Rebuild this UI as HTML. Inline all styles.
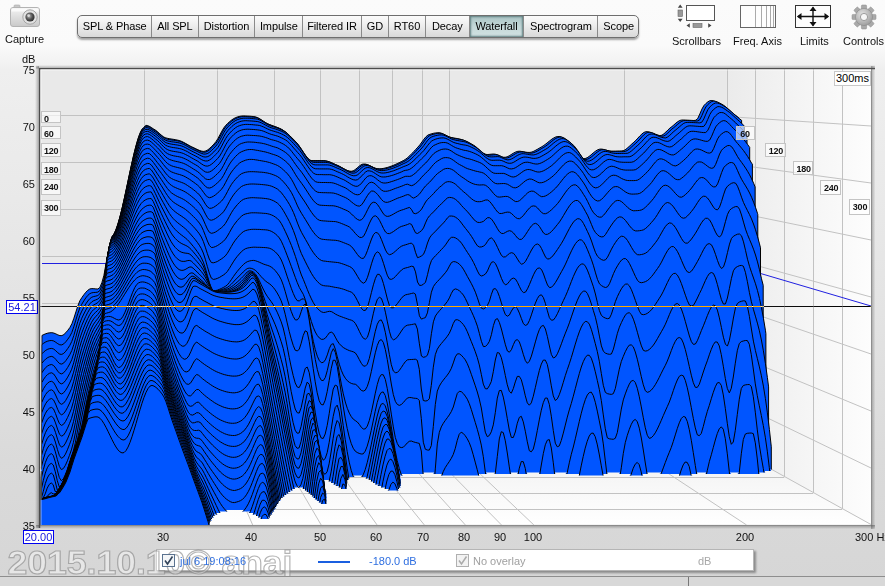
<!DOCTYPE html><html><head><meta charset="utf-8"><title>REW Waterfall</title><style>
html,body{margin:0;padding:0}
body{width:885px;height:586px;overflow:hidden;position:relative;font-family:"Liberation Sans",sans-serif;font-size:11px;color:#111;
background:linear-gradient(#fbfbfb 0px,#fafafa 45px,#efefef 70px,#e9e9e9 200px,#e2e2e2 330px,#dadada 460px,#d6d6d6 586px);}
.abs{position:absolute}
.lbl{position:absolute;font-size:11px;white-space:nowrap;color:#111}
.tabbar{position:absolute;left:77px;top:15px;width:562px;height:23px;border:1px solid #6e6e6e;border-radius:5px;box-sizing:border-box;
background:linear-gradient(#fbfbfb,#ededed 45%,#d9d9d9 100%);box-shadow:0 2px 2px rgba(0,0,0,.35);overflow:hidden}
.tab{position:absolute;top:0;height:21px;line-height:21px;text-align:center;font-size:11px;border-left:1px solid #8a8a8a;box-sizing:border-box;color:#000;letter-spacing:-0.1px}
.tab.first{border-left:none}
.tab.sel{background:linear-gradient(#a9c4c4,#c4d8d8 50%,#d2e2e2);box-shadow:inset 0 0 2px 1px #5f7f80;}
.tl{position:absolute;background:rgba(255,255,255,.62);border:1px solid #c4c4c4;box-sizing:border-box;font-size:9px;font-weight:bold;color:#111;line-height:1;white-space:nowrap;overflow:hidden}
.tl span{position:absolute;left:2px;top:3px;letter-spacing:-0.2px}
</style></head><body><svg class="abs" style="left:8px;top:3px" width="34" height="26" viewBox="0 0 34 26">
<defs><linearGradient id="cg" x1="0" y1="0" x2="0" y2="1"><stop offset="0" stop-color="#f4f4f4"/><stop offset="1" stop-color="#c9c9c9"/></linearGradient>
<radialGradient id="lg" cx="0.4" cy="0.4" r="0.7"><stop offset="0" stop-color="#bbb"/><stop offset="0.5" stop-color="#555"/><stop offset="1" stop-color="#222"/></radialGradient></defs>
<rect x="6" y="2" width="6" height="4" rx="1" fill="#c8c8c8" stroke="#aaa" stroke-width=".6"/>
<rect x="2.5" y="4.5" width="29" height="19" rx="2.5" fill="url(#cg)" stroke="#b3b3b3" stroke-width="1"/>
<rect x="3.5" y="5.5" width="27" height="3" fill="#fdfdfd" opacity=".8"/>
<circle cx="22" cy="14" r="7.2" fill="#e2e2e2" stroke="#a5a5a5" stroke-width="1"/>
<circle cx="22" cy="14" r="4.6" fill="url(#lg)"/>
<circle cx="20.6" cy="12.6" r="1.3" fill="#e8e8e8" opacity=".8"/>
</svg><div class="lbl" style="left:5px;top:33px;font-size:11px">Capture</div><svg class="abs" style="left:676px;top:3px" width="42" height="27" viewBox="0 0 42 27">
<rect x="10.5" y="2.5" width="28" height="15" fill="#fff" stroke="#555" stroke-width="1"/>
<rect x="2" y="7" width="4.5" height="6.5" fill="#999" stroke="#666" stroke-width=".6"/>
<path d="M4.2 1.5 L6.6 4.8 H1.8Z M4.2 19 L6.6 15.7 H1.8Z" fill="#444"/>
<rect x="17" y="20.5" width="9" height="4" fill="#999" stroke="#666" stroke-width=".6"/>
<path d="M10.5 22.5 L13.8 20.2 V24.8Z M35.5 22.5 L32.2 20.2 V24.8Z" fill="#444"/>
</svg><div class="lbl" style="left:672px;top:35px">Scrollbars</div><svg class="abs" style="left:738px;top:3px" width="42" height="27" viewBox="0 0 42 27">
<rect x="2.5" y="2.5" width="35" height="22" fill="#fdfdfd" stroke="#666" stroke-width="1"/>
<path d="M17.5 3V24 M23.5 3V24 M28.5 3V24 M32.5 3V24 M35.5 3V24" stroke="#aaa" stroke-width="1" fill="none"/>
</svg><div class="lbl" style="left:733px;top:35px">Freq. Axis</div><svg class="abs" style="left:793px;top:3px" width="42" height="27" viewBox="0 0 42 27">
<rect x="2.5" y="2.5" width="35" height="22" fill="#fdfdfd" stroke="#333" stroke-width="1"/>
<path d="M5 13.5H35 M20 4.5V22.5" stroke="#111" stroke-width="1.4" fill="none"/>
<path d="M20 3.5 L23.5 8 H16.5Z M20 23.5 L23.5 19 H16.5Z M3.8 13.5 L8.5 10 V17Z M36.2 13.5 L31.5 10 V17Z" fill="#111"/>
</svg><div class="lbl" style="left:800px;top:35px">Limits</div><svg class="abs" style="left:849px;top:3px" width="30" height="28" viewBox="-15 -14 30 28">
<defs><radialGradient id="gg" cx="0.4" cy="0.35" r="0.8"><stop offset="0" stop-color="#e4e4e4"/><stop offset="1" stop-color="#8f8f8f"/></radialGradient></defs>
<rect x="-2.6" y="-12" width="5.2" height="6" rx="1" transform="rotate(0)" fill="#a9a9a9" stroke="#8a8a8a" stroke-width=".5"/><rect x="-2.6" y="-12" width="5.2" height="6" rx="1" transform="rotate(45)" fill="#a9a9a9" stroke="#8a8a8a" stroke-width=".5"/><rect x="-2.6" y="-12" width="5.2" height="6" rx="1" transform="rotate(90)" fill="#a9a9a9" stroke="#8a8a8a" stroke-width=".5"/><rect x="-2.6" y="-12" width="5.2" height="6" rx="1" transform="rotate(135)" fill="#a9a9a9" stroke="#8a8a8a" stroke-width=".5"/><rect x="-2.6" y="-12" width="5.2" height="6" rx="1" transform="rotate(180)" fill="#a9a9a9" stroke="#8a8a8a" stroke-width=".5"/><rect x="-2.6" y="-12" width="5.2" height="6" rx="1" transform="rotate(225)" fill="#a9a9a9" stroke="#8a8a8a" stroke-width=".5"/><rect x="-2.6" y="-12" width="5.2" height="6" rx="1" transform="rotate(270)" fill="#a9a9a9" stroke="#8a8a8a" stroke-width=".5"/><rect x="-2.6" y="-12" width="5.2" height="6" rx="1" transform="rotate(315)" fill="#a9a9a9" stroke="#8a8a8a" stroke-width=".5"/><circle r="8.6" fill="url(#gg)" stroke="#8a8a8a" stroke-width=".6"/><circle r="3.6" fill="#f6f6f6" stroke="#8a8a8a" stroke-width=".8"/></svg><div class="lbl" style="left:843px;top:35px">Controls</div><div class="tabbar"><div class="tab first" style="left:0.0px;width:73.4px">SPL & Phase</div><div class="tab" style="left:73.4px;width:46.1px">All SPL</div><div class="tab" style="left:119.5px;width:56.9px">Distortion</div><div class="tab" style="left:176.4px;width:47.8px">Impulse</div><div class="tab" style="left:224.2px;width:58.6px">Filtered IR</div><div class="tab" style="left:282.8px;width:27.2px">GD</div><div class="tab" style="left:310.0px;width:37.0px">RT60</div><div class="tab" style="left:347.0px;width:43.5px">Decay</div><div class="tab sel" style="left:390.5px;width:54.9px">Waterfall</div><div class="tab" style="left:445.4px;width:73.9px">Spectrogram</div><div class="tab" style="left:519.3px;width:41.7px">Scope</div></div><div class="lbl" style="left:22px;top:53px">dB</div><div class="lbl" style="left:21px;top:63.5px;width:14px;text-align:right">75</div><div class="lbl" style="left:21px;top:121.0px;width:14px;text-align:right">70</div><div class="lbl" style="left:21px;top:178.0px;width:14px;text-align:right">65</div><div class="lbl" style="left:21px;top:235.0px;width:14px;text-align:right">60</div><div class="lbl" style="left:21px;top:292.0px;width:14px;text-align:right">55</div><div class="lbl" style="left:21px;top:349.0px;width:14px;text-align:right">50</div><div class="lbl" style="left:21px;top:406.0px;width:14px;text-align:right">45</div><div class="lbl" style="left:21px;top:463.0px;width:14px;text-align:right">40</div><div class="lbl" style="left:21px;top:520.0px;width:14px;text-align:right">35</div><div class="lbl" style="left:148px;top:531px;width:30px;text-align:center">30</div><div class="lbl" style="left:236px;top:531px;width:30px;text-align:center">40</div><div class="lbl" style="left:305px;top:531px;width:30px;text-align:center">50</div><div class="lbl" style="left:361px;top:531px;width:30px;text-align:center">60</div><div class="lbl" style="left:408px;top:531px;width:30px;text-align:center">70</div><div class="lbl" style="left:449px;top:531px;width:30px;text-align:center">80</div><div class="lbl" style="left:485px;top:531px;width:30px;text-align:center">90</div><div class="lbl" style="left:518px;top:531px;width:30px;text-align:center">100</div><div class="lbl" style="left:730px;top:531px;width:30px;text-align:center">200</div><div class="lbl" style="left:855px;top:531px">300 Hz</div><div class="abs" style="left:6px;top:300px;width:32px;height:14px;box-sizing:border-box;border:1px solid #0000f0;background:#fff;color:#1818e0;font-size:11px;line-height:12px;text-align:center">54.21</div><div class="abs" style="left:23px;top:530px;width:31px;height:14px;box-sizing:border-box;border:1px solid #0000f0;background:#fff;color:#1818e0;font-size:11px;line-height:12px;text-align:center">20.00</div><svg class="abs" style="left:0;top:0" width="885" height="586" viewBox="0 0 885 586" shape-rendering="auto"><defs><linearGradient id="rw" x1="0" y1="0" x2="1" y2="0"><stop offset="0" stop-color="#ebebeb"/><stop offset="1" stop-color="#fdfdfd"/></linearGradient><linearGradient id="fw" x1="0" y1="0" x2="0" y2="1"><stop offset="0" stop-color="#efefef"/><stop offset="1" stop-color="#ffffff"/></linearGradient><clipPath id="pc"><rect x="40" y="69" width="831" height="456"/></clipPath></defs><rect x="40" y="69" width="831" height="456" fill="#e9e9e9"/><polygon points="726.6,69.0 871.0,69.0 871.0,524.5 726.6,444.7" fill="url(#rw)"/><polygon points="42.0,444.7 726.6,444.7 871.0,524.5 40.0,524.5" fill="url(#fw)"/><path d="M42.0 115.5H726.6M726.6 116.5L871.0 126.0M42.0 162.5H726.6M726.6 163.4L871.0 183.0M42.0 209.5H726.6M726.6 210.4L871.0 240.0M42.0 256.5H726.6M726.6 257.3L871.0 297.0M42.0 303.5H726.6M726.6 304.3L871.0 354.0M42.0 350.5H726.6M726.6 351.2L871.0 411.0M42.0 397.5H726.6M726.6 398.2L871.0 468.0M144.5 69.0V444.7M145.0 444.7L164.4 525.0M217.5 69.0V444.7M217.7 444.7L252.7 525.0M274.5 69.0V444.7M274.1 444.7L321.2 525.0M320.5 69.0V444.7M320.2 444.7L377.1 525.0M359.5 69.0V444.7M359.2 444.7L424.4 525.0M392.5 69.0V444.7M392.9 444.7L465.4 525.0M422.5 69.0V444.7M422.7 444.7L501.5 525.0M449.5 69.0V444.7M449.4 444.7L533.9 525.0M624.5 69.0V444.7M624.6 444.7L746.6 525.0M727.1 444.7L871.0 524.5M727.5 69.0V444.7M42.0 445.5H726.6M755.5 69.0V460.7M41.6 461.5H755.5M784.5 69.0V476.8M41.2 477.5H784.3M813.5 69.0V492.9M40.8 493.5H813.2M842.5 69.0V508.9M40.4 509.5H842.1M871.5 69.0V525.0M40.0 525.5H871.0" stroke="#c2c2c2" stroke-width="1" fill="none"/><path d="M42.0 263.5H726.6L871.0 306.0" stroke="#2020e0" stroke-width="1" fill="none"/><g clip-path="url(#pc)"><path d="M41.9 501.0L41.9 335.5L43.9 334.5L45.9 333.7L47.9 333.1L49.9 332.8L51.9 332.7L53.9 333.1L55.9 333.9L57.9 334.9L59.9 335.6L61.9 335.6L63.9 334.5L65.9 332.6L67.9 330.2L69.9 327.5L71.9 323.7L73.9 318.2L75.9 311.9L77.9 305.7L79.9 300.7L81.9 297.5L83.9 294.7L85.9 292.2L87.9 290.2L89.9 288.9L91.9 288.6L93.9 288.7L95.9 288.9L97.9 289.0L99.9 287.4L101.9 282.5L103.9 275.5L105.9 264.3L107.9 253.3L109.9 243.8L111.9 236.8L113.9 234.1L115.9 229.8L117.9 224.0L119.9 217.0L121.9 209.0L123.9 200.3L125.9 191.0L127.9 181.5L129.9 172.0L131.9 162.8L133.9 154.0L135.9 146.0L137.9 139.0L139.9 133.3L141.9 129.3L143.9 127.3L145.9 125.3L147.9 125.7L149.9 126.6L151.9 127.9L153.9 129.2L155.9 130.4L157.9 132.1L159.9 133.9L161.9 135.6L163.9 137.1L165.9 137.9L167.9 138.4L169.9 138.8L171.9 139.1L173.9 139.4L175.9 139.8L177.9 140.2L179.9 140.7L181.9 141.5L183.9 142.5L185.9 143.6L187.9 144.7L189.9 145.9L191.9 146.9L193.9 147.8L195.9 148.8L197.9 149.7L199.9 150.6L201.9 151.2L203.9 151.4L205.9 150.9L207.9 149.8L209.9 148.1L211.9 146.2L213.9 144.1L215.9 141.7L217.9 138.6L219.9 134.9L221.9 131.1L223.9 127.7L225.9 125.2L227.9 123.2L229.9 121.4L231.9 119.8L233.9 118.5L235.9 117.5L237.9 116.8L239.9 116.3L241.9 116.0L243.9 115.9L245.9 116.0L247.9 116.1L249.9 116.2L251.9 116.4L253.9 116.6L255.9 117.0L257.9 117.8L259.9 118.9L261.9 120.3L263.9 121.6L265.9 122.9L267.9 123.9L269.9 124.7L271.9 125.5L273.9 126.2L275.9 126.9L277.9 127.7L279.9 128.6L281.9 129.6L283.9 130.9L285.9 132.5L287.9 134.3L289.9 136.2L291.9 138.2L293.9 140.3L295.9 142.4L297.9 145.1L299.9 148.0L301.9 151.1L303.9 154.0L305.9 156.7L307.9 158.8L309.9 160.2L311.9 160.6L313.9 160.6L315.9 160.6L317.9 160.6L319.9 160.6L321.9 160.6L323.9 160.6L325.9 160.8L327.9 161.3L329.9 162.0L331.9 162.9L333.9 163.8L335.9 164.7L337.9 165.5L339.9 166.6L341.9 167.7L343.9 168.8L345.9 169.9L347.9 170.7L349.9 171.2L351.9 171.2L353.9 170.5L355.9 169.0L357.9 167.3L359.9 165.6L361.9 164.3L363.9 164.0L365.9 164.2L367.9 164.8L369.9 165.7L371.9 166.7L373.9 167.7L375.9 168.4L377.9 168.7L379.9 168.8L381.9 168.6L383.9 168.3L385.9 167.8L387.9 167.3L389.9 166.6L391.9 165.9L393.9 165.1L395.9 164.2L397.9 163.3L399.9 162.3L401.9 161.3L403.9 160.3L405.9 159.0L407.9 157.4L409.9 155.5L411.9 153.5L413.9 151.4L415.9 149.3L417.9 147.1L419.9 144.8L421.9 142.0L423.9 139.2L425.9 136.8L427.9 135.1L429.9 134.3L431.9 133.7L433.9 133.2L435.9 132.9L437.9 132.7L439.9 132.8L441.9 133.4L443.9 134.4L445.9 135.4L447.9 136.4L449.9 137.1L451.9 137.6L453.9 138.0L455.9 138.3L457.9 138.7L459.9 139.1L461.9 139.6L463.9 140.3L465.9 141.2L467.9 142.2L469.9 143.4L471.9 144.5L473.9 145.8L475.9 147.5L477.9 149.2L479.9 151.0L481.9 152.6L483.9 153.8L485.9 154.4L487.9 154.5L489.9 154.3L491.9 154.1L493.9 154.0L495.9 154.3L497.9 155.0L499.9 156.0L501.9 157.0L503.9 157.3L505.9 157.2L507.9 156.5L509.9 155.4L511.9 154.1L513.9 152.9L515.9 151.9L517.9 151.3L519.9 151.2L521.9 151.5L523.9 151.8L525.9 152.2L527.9 152.4L529.9 152.4L531.9 152.0L533.9 151.2L535.9 150.1L537.9 149.0L539.9 147.8L541.9 146.7L543.9 145.4L545.9 143.9L547.9 142.3L549.9 140.7L551.9 139.1L553.9 137.9L555.9 136.9L557.9 136.5L559.9 136.5L561.9 137.3L563.9 138.5L565.9 140.0L567.9 141.5L569.9 143.2L571.9 145.7L573.9 148.6L575.9 151.7L577.9 154.6L579.9 157.0L581.9 158.5L583.9 158.8L585.9 158.3L587.9 157.3L589.9 155.8L591.9 154.1L593.9 152.4L595.9 150.9L597.9 149.7L599.9 149.1L601.9 149.1L603.9 149.5L605.9 150.1L607.9 150.6L609.9 151.0L611.9 151.1L613.9 151.1L615.9 151.1L617.9 151.0L619.9 151.0L621.9 150.9L623.9 150.5L625.9 149.3L627.9 147.6L629.9 145.8L631.9 143.9L633.9 142.2L635.9 140.3L637.9 138.1L639.9 135.9L641.9 134.0L643.9 132.4L645.9 131.7L647.9 131.7L649.9 132.2L651.9 133.0L653.9 133.9L655.9 134.7L657.9 135.3L659.9 135.6L661.9 135.2L663.9 133.8L665.9 132.0L667.9 130.0L669.9 128.1L671.9 126.6L673.9 124.9L675.9 123.1L677.9 121.6L679.9 120.4L681.9 120.0L683.9 120.0L685.9 120.1L687.9 120.2L689.9 120.3L691.9 120.4L693.9 120.5L695.9 120.2L697.9 118.2L699.9 113.8L701.9 109.1L703.9 105.6L705.9 103.5L707.9 101.8L709.9 100.7L711.9 100.5L713.9 101.0L715.9 101.8L717.9 102.9L719.9 103.9L721.9 105.2L723.9 106.9L725.9 108.7L727.9 110.5L729.9 112.2L731.9 113.8L733.9 115.4L735.9 117.0L736.3 117.3L736.3 450.0L112 450.0L112 501.0L41.9 501.0Z" fill="#0055ff"/><path d="M41.9 450.0L41.9 335.5L43.9 334.5L45.9 333.7L47.9 333.1L49.9 332.8L51.9 332.7L53.9 333.1L55.9 333.9L57.9 334.9L59.9 335.6L61.9 335.6L63.9 334.5L65.9 332.6L67.9 330.2L69.9 327.5L71.9 323.7L73.9 318.2L75.9 311.9L77.9 305.7L79.9 300.7L81.9 297.5L83.9 294.7L85.9 292.2L87.9 290.2L89.9 288.9L91.9 288.6L93.9 288.7L95.9 288.9L97.9 289.0L99.9 287.4L101.9 282.5L103.9 275.5L105.9 264.3L107.9 253.3L109.9 243.8L111.9 236.8L113.9 234.1L115.9 229.8L117.9 224.0L119.9 217.0L121.9 209.0L123.9 200.3L125.9 191.0L127.9 181.5L129.9 172.0L131.9 162.8L133.9 154.0L135.9 146.0L137.9 139.0L139.9 133.3L141.9 129.3L143.9 127.3L145.9 125.3L147.9 125.7L149.9 126.6L151.9 127.9L153.9 129.2L155.9 130.4L157.9 132.1L159.9 133.9L161.9 135.6L163.9 137.1L165.9 137.9L167.9 138.4L169.9 138.8L171.9 139.1L173.9 139.4L175.9 139.8L177.9 140.2L179.9 140.7L181.9 141.5L183.9 142.5L185.9 143.6L187.9 144.7L189.9 145.9L191.9 146.9L193.9 147.8L195.9 148.8L197.9 149.7L199.9 150.6L201.9 151.2L203.9 151.4L205.9 150.9L207.9 149.8L209.9 148.1L211.9 146.2L213.9 144.1L215.9 141.7L217.9 138.6L219.9 134.9L221.9 131.1L223.9 127.7L225.9 125.2L227.9 123.2L229.9 121.4L231.9 119.8L233.9 118.5L235.9 117.5L237.9 116.8L239.9 116.3L241.9 116.0L243.9 115.9L245.9 116.0L247.9 116.1L249.9 116.2L251.9 116.4L253.9 116.6L255.9 117.0L257.9 117.8L259.9 118.9L261.9 120.3L263.9 121.6L265.9 122.9L267.9 123.9L269.9 124.7L271.9 125.5L273.9 126.2L275.9 126.9L277.9 127.7L279.9 128.6L281.9 129.6L283.9 130.9L285.9 132.5L287.9 134.3L289.9 136.2L291.9 138.2L293.9 140.3L295.9 142.4L297.9 145.1L299.9 148.0L301.9 151.1L303.9 154.0L305.9 156.7L307.9 158.8L309.9 160.2L311.9 160.6L313.9 160.6L315.9 160.6L317.9 160.6L319.9 160.6L321.9 160.6L323.9 160.6L325.9 160.8L327.9 161.3L329.9 162.0L331.9 162.9L333.9 163.8L335.9 164.7L337.9 165.5L339.9 166.6L341.9 167.7L343.9 168.8L345.9 169.9L347.9 170.7L349.9 171.2L351.9 171.2L353.9 170.5L355.9 169.0L357.9 167.3L359.9 165.6L361.9 164.3L363.9 164.0L365.9 164.2L367.9 164.8L369.9 165.7L371.9 166.7L373.9 167.7L375.9 168.4L377.9 168.7L379.9 168.8L381.9 168.6L383.9 168.3L385.9 167.8L387.9 167.3L389.9 166.6L391.9 165.9L393.9 165.1L395.9 164.2L397.9 163.3L399.9 162.3L401.9 161.3L403.9 160.3L405.9 159.0L407.9 157.4L409.9 155.5L411.9 153.5L413.9 151.4L415.9 149.3L417.9 147.1L419.9 144.8L421.9 142.0L423.9 139.2L425.9 136.8L427.9 135.1L429.9 134.3L431.9 133.7L433.9 133.2L435.9 132.9L437.9 132.7L439.9 132.8L441.9 133.4L443.9 134.4L445.9 135.4L447.9 136.4L449.9 137.1L451.9 137.6L453.9 138.0L455.9 138.3L457.9 138.7L459.9 139.1L461.9 139.6L463.9 140.3L465.9 141.2L467.9 142.2L469.9 143.4L471.9 144.5L473.9 145.8L475.9 147.5L477.9 149.2L479.9 151.0L481.9 152.6L483.9 153.8L485.9 154.4L487.9 154.5L489.9 154.3L491.9 154.1L493.9 154.0L495.9 154.3L497.9 155.0L499.9 156.0L501.9 157.0L503.9 157.3L505.9 157.2L507.9 156.5L509.9 155.4L511.9 154.1L513.9 152.9L515.9 151.9L517.9 151.3L519.9 151.2L521.9 151.5L523.9 151.8L525.9 152.2L527.9 152.4L529.9 152.4L531.9 152.0L533.9 151.2L535.9 150.1L537.9 149.0L539.9 147.8L541.9 146.7L543.9 145.4L545.9 143.9L547.9 142.3L549.9 140.7L551.9 139.1L553.9 137.9L555.9 136.9L557.9 136.5L559.9 136.5L561.9 137.3L563.9 138.5L565.9 140.0L567.9 141.5L569.9 143.2L571.9 145.7L573.9 148.6L575.9 151.7L577.9 154.6L579.9 157.0L581.9 158.5L583.9 158.8L585.9 158.3L587.9 157.3L589.9 155.8L591.9 154.1L593.9 152.4L595.9 150.9L597.9 149.7L599.9 149.1L601.9 149.1L603.9 149.5L605.9 150.1L607.9 150.6L609.9 151.0L611.9 151.1L613.9 151.1L615.9 151.1L617.9 151.0L619.9 151.0L621.9 150.9L623.9 150.5L625.9 149.3L627.9 147.6L629.9 145.8L631.9 143.9L633.9 142.2L635.9 140.3L637.9 138.1L639.9 135.9L641.9 134.0L643.9 132.4L645.9 131.7L647.9 131.7L649.9 132.2L651.9 133.0L653.9 133.9L655.9 134.7L657.9 135.3L659.9 135.6L661.9 135.2L663.9 133.8L665.9 132.0L667.9 130.0L669.9 128.1L671.9 126.6L673.9 124.9L675.9 123.1L677.9 121.6L679.9 120.4L681.9 120.0L683.9 120.0L685.9 120.1L687.9 120.2L689.9 120.3L691.9 120.4L693.9 120.5L695.9 120.2L697.9 118.2L699.9 113.8L701.9 109.1L703.9 105.6L705.9 103.5L707.9 101.8L709.9 100.7L711.9 100.5L713.9 101.0L715.9 101.8L717.9 102.9L719.9 103.9L721.9 105.2L723.9 106.9L725.9 108.7L727.9 110.5L729.9 112.2L731.9 113.8L733.9 115.4L735.9 117.0L736.3 117.3L736.3 450.0" fill="none" stroke="#000" stroke-width="1" stroke-linejoin="round"/><path d="M41.8 501.0L41.8 344.6L43.8 343.1L45.8 341.9L47.8 341.1L49.8 340.6L51.8 340.5L53.8 341.0L55.8 342.3L57.8 343.7L59.8 344.8L61.8 344.9L63.8 343.8L65.8 341.8L67.8 339.2L69.8 336.3L71.8 332.5L73.8 326.8L75.8 320.2L77.8 313.6L79.8 308.0L81.8 304.2L83.8 300.9L85.8 297.9L87.8 295.4L89.8 293.7L91.8 292.8L93.8 292.5L95.8 292.4L97.8 292.1L99.8 290.7L101.8 286.1L103.8 279.6L105.8 266.6L107.8 254.4L109.8 244.1L111.8 237.1L113.8 234.4L115.8 230.2L117.8 224.5L119.8 217.5L121.8 209.6L123.8 200.9L125.8 191.7L127.8 182.3L129.8 172.8L131.8 163.6L133.8 154.8L135.8 146.9L137.8 139.9L139.8 134.1L141.8 130.0L143.8 127.8L145.8 126.2L147.8 126.4L149.8 127.3L151.8 128.5L153.8 129.8L155.8 131.0L157.8 132.6L159.8 134.4L161.8 136.2L163.8 137.7L165.8 138.7L167.8 139.3L169.8 139.7L171.8 140.0L173.8 140.3L175.8 140.6L177.8 140.9L179.8 141.4L181.8 142.1L183.8 143.0L185.8 144.1L187.8 145.2L189.8 146.4L191.8 147.4L193.8 148.3L195.8 149.3L197.8 150.3L199.8 151.2L201.8 151.9L203.8 152.2L205.8 152.0L207.8 151.1L209.8 149.6L211.8 147.7L213.8 145.6L215.8 143.4L217.8 140.6L219.8 137.0L221.8 133.2L223.8 129.6L225.8 126.7L227.8 124.6L229.8 122.7L231.8 121.0L233.8 119.6L235.8 118.5L237.8 117.7L239.8 117.1L241.8 116.7L243.8 116.6L245.8 116.6L247.8 116.7L249.8 116.9L251.8 117.0L253.8 117.2L255.8 117.4L257.8 118.0L259.8 119.0L261.8 120.2L263.8 121.5L265.8 122.8L267.8 123.9L269.8 124.8L271.8 125.5L273.8 126.3L275.8 127.0L277.8 127.7L279.8 128.5L281.8 129.5L283.8 130.7L285.8 132.1L287.8 133.8L289.8 135.7L291.8 137.7L293.8 139.7L295.8 141.8L297.8 144.2L299.8 147.0L301.8 150.0L303.8 153.1L305.8 155.9L307.8 158.3L309.8 160.1L311.8 161.0L313.8 161.1L315.8 161.1L317.8 161.1L319.8 161.1L321.8 161.1L323.8 161.1L325.8 161.2L327.8 161.5L329.8 162.1L331.8 162.9L333.8 163.8L335.8 164.8L337.8 165.6L339.8 166.5L341.8 167.6L343.8 168.7L345.8 169.8L347.8 170.8L349.8 171.5L351.8 171.8L353.8 171.7L355.8 170.6L357.8 168.9L359.8 167.1L361.8 165.6L363.8 164.6L365.8 164.4L367.8 164.9L369.8 165.7L371.8 166.6L373.8 167.6L375.8 168.5L377.8 169.1L379.8 169.3L381.8 169.3L383.8 169.0L385.8 168.7L387.8 168.2L389.8 167.6L391.8 166.9L393.8 166.2L395.8 165.4L397.8 164.5L399.8 163.5L401.8 162.6L403.8 161.6L405.8 160.5L407.8 159.1L409.8 157.4L411.8 155.5L413.8 153.5L415.8 151.4L417.8 149.3L419.8 147.2L421.8 144.7L423.8 141.9L425.8 139.2L427.8 136.9L429.8 135.5L431.8 134.7L433.8 134.2L435.8 133.7L437.8 133.4L439.8 133.3L441.8 133.5L443.8 134.2L445.8 135.2L447.8 136.2L449.8 137.2L451.8 137.9L453.8 138.3L455.8 138.7L457.8 139.0L459.8 139.4L461.8 139.8L463.8 140.3L465.8 141.0L467.8 141.9L469.8 143.0L471.8 144.2L473.8 145.3L475.8 146.7L477.8 148.4L479.8 150.1L481.8 151.9L483.8 153.4L485.8 154.5L487.8 155.1L489.8 155.1L491.8 155.0L493.8 154.8L495.8 154.7L497.8 155.0L499.8 155.8L501.8 156.8L503.8 157.7L505.8 158.0L507.8 157.8L509.8 157.0L511.8 155.9L513.8 154.7L515.8 153.5L517.8 152.5L519.8 152.0L521.8 151.9L523.8 152.1L525.8 152.5L527.8 152.9L529.8 153.1L531.8 153.1L533.8 152.6L535.8 151.8L537.8 150.8L539.8 149.6L541.8 148.4L543.8 147.3L545.8 146.0L547.8 144.5L549.8 142.9L551.8 141.3L553.8 139.7L555.8 138.4L557.8 137.5L559.8 137.0L561.8 137.1L563.8 137.8L565.8 139.1L567.8 140.5L569.8 142.1L571.8 143.8L573.8 146.2L575.8 149.1L577.8 152.2L579.8 155.1L581.8 157.5L583.8 159.1L585.8 159.5L587.8 159.1L589.8 158.0L591.8 156.6L593.8 154.9L595.8 153.2L597.8 151.7L599.8 150.4L601.8 149.7L603.8 149.7L605.8 150.0L607.8 150.6L609.8 151.2L611.8 151.6L613.8 151.7L615.8 151.7L617.8 151.7L619.8 151.7L621.8 151.6L623.8 151.6L625.8 151.2L627.8 150.2L629.8 148.6L631.8 146.7L633.8 144.9L635.8 143.2L637.8 141.3L639.8 139.2L641.8 136.9L643.8 134.9L645.8 133.3L647.8 132.4L649.8 132.3L651.8 132.6L653.8 133.4L655.8 134.3L657.8 135.1L659.8 135.8L661.8 136.1L663.8 136.0L665.8 134.8L667.8 133.0L669.8 131.1L671.8 129.1L673.8 127.6L675.8 125.9L677.8 124.2L679.8 122.5L681.8 121.3L683.8 120.6L685.8 120.6L687.8 120.6L689.8 120.7L691.8 120.8L693.8 120.9L695.8 121.0L697.8 120.9L699.8 119.7L701.8 115.7L703.8 111.0L705.8 107.0L707.8 104.6L709.8 102.8L711.8 101.5L713.8 101.0L715.8 101.4L717.8 102.1L719.8 103.1L721.8 104.2L723.8 105.4L725.8 106.9L727.8 108.7L729.8 110.5L731.8 112.2L733.8 113.9L735.8 115.5L737.8 117.1L738.9 118.0L738.9 451.5L112 451.5L112 501.0L41.8 501.0Z" fill="#0055ff"/><path d="M41.8 451.5L41.8 344.6L43.8 343.1L45.8 341.9L47.8 341.1L49.8 340.6L51.8 340.5L53.8 341.0L55.8 342.3L57.8 343.7L59.8 344.8L61.8 344.9L63.8 343.8L65.8 341.8L67.8 339.2L69.8 336.3L71.8 332.5L73.8 326.8L75.8 320.2L77.8 313.6L79.8 308.0L81.8 304.2L83.8 300.9L85.8 297.9L87.8 295.4L89.8 293.7L91.8 292.8L93.8 292.5L95.8 292.4L97.8 292.1L99.8 290.7L101.8 286.1L103.8 279.6L105.8 266.6L107.8 254.4L109.8 244.1L111.8 237.1L113.8 234.4L115.8 230.2L117.8 224.5L119.8 217.5L121.8 209.6L123.8 200.9L125.8 191.7L127.8 182.3L129.8 172.8L131.8 163.6L133.8 154.8L135.8 146.9L137.8 139.9L139.8 134.1L141.8 130.0L143.8 127.8L145.8 126.2L147.8 126.4L149.8 127.3L151.8 128.5L153.8 129.8L155.8 131.0L157.8 132.6L159.8 134.4L161.8 136.2L163.8 137.7L165.8 138.7L167.8 139.3L169.8 139.7L171.8 140.0L173.8 140.3L175.8 140.6L177.8 140.9L179.8 141.4L181.8 142.1L183.8 143.0L185.8 144.1L187.8 145.2L189.8 146.4L191.8 147.4L193.8 148.3L195.8 149.3L197.8 150.3L199.8 151.2L201.8 151.9L203.8 152.2L205.8 152.0L207.8 151.1L209.8 149.6L211.8 147.7L213.8 145.6L215.8 143.4L217.8 140.6L219.8 137.0L221.8 133.2L223.8 129.6L225.8 126.7L227.8 124.6L229.8 122.7L231.8 121.0L233.8 119.6L235.8 118.5L237.8 117.7L239.8 117.1L241.8 116.7L243.8 116.6L245.8 116.6L247.8 116.7L249.8 116.9L251.8 117.0L253.8 117.2L255.8 117.4L257.8 118.0L259.8 119.0L261.8 120.2L263.8 121.5L265.8 122.8L267.8 123.9L269.8 124.8L271.8 125.5L273.8 126.3L275.8 127.0L277.8 127.7L279.8 128.5L281.8 129.5L283.8 130.7L285.8 132.1L287.8 133.8L289.8 135.7L291.8 137.7L293.8 139.7L295.8 141.8L297.8 144.2L299.8 147.0L301.8 150.0L303.8 153.1L305.8 155.9L307.8 158.3L309.8 160.1L311.8 161.0L313.8 161.1L315.8 161.1L317.8 161.1L319.8 161.1L321.8 161.1L323.8 161.1L325.8 161.2L327.8 161.5L329.8 162.1L331.8 162.9L333.8 163.8L335.8 164.8L337.8 165.6L339.8 166.5L341.8 167.6L343.8 168.7L345.8 169.8L347.8 170.8L349.8 171.5L351.8 171.8L353.8 171.7L355.8 170.6L357.8 168.9L359.8 167.1L361.8 165.6L363.8 164.6L365.8 164.4L367.8 164.9L369.8 165.7L371.8 166.6L373.8 167.6L375.8 168.5L377.8 169.1L379.8 169.3L381.8 169.3L383.8 169.0L385.8 168.7L387.8 168.2L389.8 167.6L391.8 166.9L393.8 166.2L395.8 165.4L397.8 164.5L399.8 163.5L401.8 162.6L403.8 161.6L405.8 160.5L407.8 159.1L409.8 157.4L411.8 155.5L413.8 153.5L415.8 151.4L417.8 149.3L419.8 147.2L421.8 144.7L423.8 141.9L425.8 139.2L427.8 136.9L429.8 135.5L431.8 134.7L433.8 134.2L435.8 133.7L437.8 133.4L439.8 133.3L441.8 133.5L443.8 134.2L445.8 135.2L447.8 136.2L449.8 137.2L451.8 137.9L453.8 138.3L455.8 138.7L457.8 139.0L459.8 139.4L461.8 139.8L463.8 140.3L465.8 141.0L467.8 141.9L469.8 143.0L471.8 144.2L473.8 145.3L475.8 146.7L477.8 148.4L479.8 150.1L481.8 151.9L483.8 153.4L485.8 154.5L487.8 155.1L489.8 155.1L491.8 155.0L493.8 154.8L495.8 154.7L497.8 155.0L499.8 155.8L501.8 156.8L503.8 157.7L505.8 158.0L507.8 157.8L509.8 157.0L511.8 155.9L513.8 154.7L515.8 153.5L517.8 152.5L519.8 152.0L521.8 151.9L523.8 152.1L525.8 152.5L527.8 152.9L529.8 153.1L531.8 153.1L533.8 152.6L535.8 151.8L537.8 150.8L539.8 149.6L541.8 148.4L543.8 147.3L545.8 146.0L547.8 144.5L549.8 142.9L551.8 141.3L553.8 139.7L555.8 138.4L557.8 137.5L559.8 137.0L561.8 137.1L563.8 137.8L565.8 139.1L567.8 140.5L569.8 142.1L571.8 143.8L573.8 146.2L575.8 149.1L577.8 152.2L579.8 155.1L581.8 157.5L583.8 159.1L585.8 159.5L587.8 159.1L589.8 158.0L591.8 156.6L593.8 154.9L595.8 153.2L597.8 151.7L599.8 150.4L601.8 149.7L603.8 149.7L605.8 150.0L607.8 150.6L609.8 151.2L611.8 151.6L613.8 151.7L615.8 151.7L617.8 151.7L619.8 151.7L621.8 151.6L623.8 151.6L625.8 151.2L627.8 150.2L629.8 148.6L631.8 146.7L633.8 144.9L635.8 143.2L637.8 141.3L639.8 139.2L641.8 136.9L643.8 134.9L645.8 133.3L647.8 132.4L649.8 132.3L651.8 132.6L653.8 133.4L655.8 134.3L657.8 135.1L659.8 135.8L661.8 136.1L663.8 136.0L665.8 134.8L667.8 133.0L669.8 131.1L671.8 129.1L673.8 127.6L675.8 125.9L677.8 124.2L679.8 122.5L681.8 121.3L683.8 120.6L685.8 120.6L687.8 120.6L689.8 120.7L691.8 120.8L693.8 120.9L695.8 121.0L697.8 120.9L699.8 119.7L701.8 115.7L703.8 111.0L705.8 107.0L707.8 104.6L709.8 102.8L711.8 101.5L713.8 101.0L715.8 101.4L717.8 102.1L719.8 103.1L721.8 104.2L723.8 105.4L725.8 106.9L727.8 108.7L729.8 110.5L731.8 112.2L733.8 113.9L735.8 115.5L737.8 117.1L738.9 118.0L738.9 451.5" fill="none" stroke="#000" stroke-width="1" stroke-linejoin="round"/><path d="M41.8 501.0L41.8 353.9L43.8 351.9L45.8 350.3L47.8 349.2L49.8 348.6L51.8 348.4L53.8 349.1L55.8 350.8L57.8 352.7L59.8 354.2L61.8 354.4L63.8 353.3L65.8 351.2L67.8 348.4L69.8 345.4L71.8 341.4L73.8 335.6L75.8 328.6L77.8 321.6L79.8 315.5L81.8 311.1L83.8 307.4L85.8 303.9L87.8 301.0L89.8 298.7L91.8 297.2L93.8 296.5L95.8 296.1L97.8 295.5L99.8 293.9L101.8 289.8L103.8 283.7L105.8 267.5L107.8 254.8L109.8 244.3L111.8 237.5L113.8 234.9L115.8 230.7L117.8 225.0L119.8 218.1L121.8 210.2L123.8 201.6L125.8 192.5L127.8 183.1L129.8 173.7L131.8 164.5L133.8 155.9L135.8 148.0L137.8 141.0L139.8 135.4L141.8 131.2L143.8 128.9L145.8 127.6L147.8 127.7L149.8 128.5L151.8 129.7L153.8 131.1L155.8 132.4L157.8 133.9L159.8 135.7L161.8 137.6L163.8 139.2L165.8 140.3L167.8 141.0L169.8 141.4L171.8 141.8L173.8 142.0L175.8 142.3L177.8 142.6L179.8 143.1L181.8 143.7L183.8 144.5L185.8 145.5L187.8 146.6L189.8 147.8L191.8 148.8L193.8 149.8L195.8 150.7L197.8 151.7L199.8 152.7L201.8 153.5L203.8 154.1L205.8 154.0L207.8 153.4L209.8 152.0L211.8 150.2L213.8 148.2L215.8 146.1L217.8 143.6L219.8 140.2L221.8 136.4L223.8 132.6L225.8 129.4L227.8 127.0L229.8 125.0L231.8 123.2L233.8 121.6L235.8 120.4L237.8 119.5L239.8 118.9L241.8 118.4L243.8 118.2L245.8 118.2L247.8 118.2L249.8 118.3L251.8 118.5L253.8 118.7L255.8 118.9L257.8 119.2L259.8 120.0L261.8 121.1L263.8 122.3L265.8 123.5L267.8 124.7L269.8 125.5L271.8 126.3L273.8 126.9L275.8 127.6L277.8 128.3L279.8 129.1L281.8 130.0L283.8 131.1L285.8 132.4L287.8 134.0L289.8 135.9L291.8 137.8L293.8 139.9L295.8 141.9L297.8 144.1L299.8 146.8L301.8 149.7L303.8 152.8L305.8 155.7L307.8 158.4L309.8 160.5L311.8 161.9L313.8 162.4L315.8 162.4L317.8 162.4L319.8 162.4L321.8 162.4L323.8 162.4L325.8 162.4L327.8 162.6L329.8 163.0L331.8 163.8L333.8 164.6L335.8 165.5L337.8 166.4L339.8 167.3L341.8 168.3L343.8 169.4L345.8 170.5L347.8 171.6L349.8 172.5L351.8 173.1L353.8 173.2L355.8 172.6L357.8 171.2L359.8 169.4L361.8 167.6L363.8 166.1L365.8 165.5L367.8 165.6L369.8 166.2L371.8 167.1L373.8 168.2L375.8 169.2L377.8 170.0L379.8 170.5L381.8 170.6L383.8 170.5L385.8 170.2L387.8 169.8L389.8 169.2L391.8 168.6L393.8 167.9L395.8 167.1L397.8 166.3L399.8 165.4L401.8 164.4L403.8 163.5L405.8 162.6L407.8 161.5L409.8 160.0L411.8 158.3L413.8 156.4L415.8 154.4L417.8 152.3L419.8 150.3L421.8 148.1L423.8 145.6L425.8 142.8L427.8 140.2L429.8 138.1L431.8 136.9L433.8 136.2L435.8 135.6L437.8 135.2L439.8 134.9L441.8 134.9L443.8 135.2L445.8 136.0L447.8 137.0L449.8 138.1L451.8 139.1L453.8 139.7L455.8 140.2L457.8 140.6L459.8 140.9L461.8 141.3L463.8 141.6L465.8 142.1L467.8 142.9L469.8 143.8L471.8 144.9L473.8 146.1L475.8 147.2L477.8 148.7L479.8 150.4L481.8 152.2L483.8 153.9L485.8 155.3L487.8 156.4L489.8 156.8L491.8 156.9L493.8 156.8L495.8 156.7L497.8 156.6L499.8 156.9L501.8 157.8L503.8 158.7L505.8 159.5L507.8 159.9L509.8 159.6L511.8 158.8L513.8 157.7L515.8 156.4L517.8 155.2L519.8 154.3L521.8 153.7L523.8 153.7L525.8 154.0L527.8 154.3L529.8 154.7L531.8 154.9L533.8 154.9L535.8 154.4L537.8 153.6L539.8 152.6L541.8 151.5L543.8 150.3L545.8 149.2L547.8 147.9L549.8 146.3L551.8 144.6L553.8 142.9L555.8 141.4L557.8 140.1L559.8 139.1L561.8 138.6L563.8 138.7L565.8 139.4L567.8 140.7L569.8 142.2L571.8 143.8L573.8 145.5L575.8 147.9L577.8 150.7L579.8 153.8L581.8 156.7L583.8 159.1L585.8 160.7L587.8 161.3L589.8 160.9L591.8 159.9L593.8 158.5L595.8 156.9L597.8 155.1L599.8 153.5L601.8 152.2L603.8 151.5L605.8 151.4L607.8 151.7L609.8 152.3L611.8 152.9L613.8 153.3L615.8 153.5L617.8 153.5L619.8 153.5L621.8 153.4L623.8 153.4L625.8 153.4L627.8 153.2L629.8 152.2L631.8 150.7L633.8 148.9L635.8 147.0L637.8 145.3L639.8 143.5L641.8 141.4L643.8 139.1L645.8 137.0L647.8 135.3L649.8 134.2L651.8 134.0L653.8 134.2L655.8 134.9L657.8 135.8L659.8 136.7L661.8 137.4L663.8 137.8L665.8 137.9L667.8 136.9L669.8 135.3L671.8 133.4L673.8 131.5L675.8 129.9L677.8 128.2L679.8 126.5L681.8 124.8L683.8 123.3L685.8 122.5L687.8 122.4L689.8 122.4L691.8 122.5L693.8 122.6L695.8 122.7L697.8 122.8L699.8 122.9L701.8 122.2L703.8 118.9L705.8 114.2L707.8 109.8L709.8 107.0L711.8 105.2L713.8 103.7L715.8 102.9L717.8 103.1L719.8 103.8L721.8 104.8L723.8 106.0L725.8 107.2L727.8 108.7L729.8 110.4L731.8 112.2L733.8 114.0L735.8 115.7L737.8 117.3L739.8 119.0L741.6 120.3L741.6 453.0L112 453.0L112 501.0L41.8 501.0Z" fill="#0055ff"/><path d="M41.8 453.0L41.8 353.9L43.8 351.9L45.8 350.3L47.8 349.2L49.8 348.6L51.8 348.4L53.8 349.1L55.8 350.8L57.8 352.7L59.8 354.2L61.8 354.4L63.8 353.3L65.8 351.2L67.8 348.4L69.8 345.4L71.8 341.4L73.8 335.6L75.8 328.6L77.8 321.6L79.8 315.5L81.8 311.1L83.8 307.4L85.8 303.9L87.8 301.0L89.8 298.7L91.8 297.2L93.8 296.5L95.8 296.1L97.8 295.5L99.8 293.9L101.8 289.8L103.8 283.7L105.8 267.5L107.8 254.8L109.8 244.3L111.8 237.5L113.8 234.9L115.8 230.7L117.8 225.0L119.8 218.1L121.8 210.2L123.8 201.6L125.8 192.5L127.8 183.1L129.8 173.7L131.8 164.5L133.8 155.9L135.8 148.0L137.8 141.0L139.8 135.4L141.8 131.2L143.8 128.9L145.8 127.6L147.8 127.7L149.8 128.5L151.8 129.7L153.8 131.1L155.8 132.4L157.8 133.9L159.8 135.7L161.8 137.6L163.8 139.2L165.8 140.3L167.8 141.0L169.8 141.4L171.8 141.8L173.8 142.0L175.8 142.3L177.8 142.6L179.8 143.1L181.8 143.7L183.8 144.5L185.8 145.5L187.8 146.6L189.8 147.8L191.8 148.8L193.8 149.8L195.8 150.7L197.8 151.7L199.8 152.7L201.8 153.5L203.8 154.1L205.8 154.0L207.8 153.4L209.8 152.0L211.8 150.2L213.8 148.2L215.8 146.1L217.8 143.6L219.8 140.2L221.8 136.4L223.8 132.6L225.8 129.4L227.8 127.0L229.8 125.0L231.8 123.2L233.8 121.6L235.8 120.4L237.8 119.5L239.8 118.9L241.8 118.4L243.8 118.2L245.8 118.2L247.8 118.2L249.8 118.3L251.8 118.5L253.8 118.7L255.8 118.9L257.8 119.2L259.8 120.0L261.8 121.1L263.8 122.3L265.8 123.5L267.8 124.7L269.8 125.5L271.8 126.3L273.8 126.9L275.8 127.6L277.8 128.3L279.8 129.1L281.8 130.0L283.8 131.1L285.8 132.4L287.8 134.0L289.8 135.9L291.8 137.8L293.8 139.9L295.8 141.9L297.8 144.1L299.8 146.8L301.8 149.7L303.8 152.8L305.8 155.7L307.8 158.4L309.8 160.5L311.8 161.9L313.8 162.4L315.8 162.4L317.8 162.4L319.8 162.4L321.8 162.4L323.8 162.4L325.8 162.4L327.8 162.6L329.8 163.0L331.8 163.8L333.8 164.6L335.8 165.5L337.8 166.4L339.8 167.3L341.8 168.3L343.8 169.4L345.8 170.5L347.8 171.6L349.8 172.5L351.8 173.1L353.8 173.2L355.8 172.6L357.8 171.2L359.8 169.4L361.8 167.6L363.8 166.1L365.8 165.5L367.8 165.6L369.8 166.2L371.8 167.1L373.8 168.2L375.8 169.2L377.8 170.0L379.8 170.5L381.8 170.6L383.8 170.5L385.8 170.2L387.8 169.8L389.8 169.2L391.8 168.6L393.8 167.9L395.8 167.1L397.8 166.3L399.8 165.4L401.8 164.4L403.8 163.5L405.8 162.6L407.8 161.5L409.8 160.0L411.8 158.3L413.8 156.4L415.8 154.4L417.8 152.3L419.8 150.3L421.8 148.1L423.8 145.6L425.8 142.8L427.8 140.2L429.8 138.1L431.8 136.9L433.8 136.2L435.8 135.6L437.8 135.2L439.8 134.9L441.8 134.9L443.8 135.2L445.8 136.0L447.8 137.0L449.8 138.1L451.8 139.1L453.8 139.7L455.8 140.2L457.8 140.6L459.8 140.9L461.8 141.3L463.8 141.6L465.8 142.1L467.8 142.9L469.8 143.8L471.8 144.9L473.8 146.1L475.8 147.2L477.8 148.7L479.8 150.4L481.8 152.2L483.8 153.9L485.8 155.3L487.8 156.4L489.8 156.8L491.8 156.9L493.8 156.8L495.8 156.7L497.8 156.6L499.8 156.9L501.8 157.8L503.8 158.7L505.8 159.5L507.8 159.9L509.8 159.6L511.8 158.8L513.8 157.7L515.8 156.4L517.8 155.2L519.8 154.3L521.8 153.7L523.8 153.7L525.8 154.0L527.8 154.3L529.8 154.7L531.8 154.9L533.8 154.9L535.8 154.4L537.8 153.6L539.8 152.6L541.8 151.5L543.8 150.3L545.8 149.2L547.8 147.9L549.8 146.3L551.8 144.6L553.8 142.9L555.8 141.4L557.8 140.1L559.8 139.1L561.8 138.6L563.8 138.7L565.8 139.4L567.8 140.7L569.8 142.2L571.8 143.8L573.8 145.5L575.8 147.9L577.8 150.7L579.8 153.8L581.8 156.7L583.8 159.1L585.8 160.7L587.8 161.3L589.8 160.9L591.8 159.9L593.8 158.5L595.8 156.9L597.8 155.1L599.8 153.5L601.8 152.2L603.8 151.5L605.8 151.4L607.8 151.7L609.8 152.3L611.8 152.9L613.8 153.3L615.8 153.5L617.8 153.5L619.8 153.5L621.8 153.4L623.8 153.4L625.8 153.4L627.8 153.2L629.8 152.2L631.8 150.7L633.8 148.9L635.8 147.0L637.8 145.3L639.8 143.5L641.8 141.4L643.8 139.1L645.8 137.0L647.8 135.3L649.8 134.2L651.8 134.0L653.8 134.2L655.8 134.9L657.8 135.8L659.8 136.7L661.8 137.4L663.8 137.8L665.8 137.9L667.8 136.9L669.8 135.3L671.8 133.4L673.8 131.5L675.8 129.9L677.8 128.2L679.8 126.5L681.8 124.8L683.8 123.3L685.8 122.5L687.8 122.4L689.8 122.4L691.8 122.5L693.8 122.6L695.8 122.7L697.8 122.8L699.8 122.9L701.8 122.2L703.8 118.9L705.8 114.2L707.8 109.8L709.8 107.0L711.8 105.2L713.8 103.7L715.8 102.9L717.8 103.1L719.8 103.8L721.8 104.8L723.8 106.0L725.8 107.2L727.8 108.7L729.8 110.4L731.8 112.2L733.8 114.0L735.8 115.7L737.8 117.3L739.8 119.0L741.6 120.3L741.6 453.0" fill="none" stroke="#000" stroke-width="1" stroke-linejoin="round"/><path d="M41.8 501.0L41.8 363.4L43.8 360.9L45.8 358.9L47.8 357.5L49.8 356.7L51.8 356.4L53.8 357.3L55.8 359.4L57.8 361.8L59.8 363.7L61.8 364.1L63.8 362.9L65.8 360.7L67.8 357.8L69.8 354.6L71.8 350.5L73.8 344.5L75.8 337.3L77.8 329.9L79.8 323.2L81.8 318.2L83.8 314.0L85.8 310.1L87.8 306.6L89.8 303.8L91.8 301.8L93.8 300.6L95.8 299.9L97.8 299.0L99.8 297.3L101.8 293.4L103.8 287.7L105.8 268.2L107.8 255.1L109.8 244.6L111.8 237.9L113.8 235.4L115.8 231.2L117.8 225.6L119.8 218.8L121.8 211.0L123.8 202.5L125.8 193.4L127.8 184.1L129.8 174.8L131.8 165.8L133.8 157.2L135.8 149.4L137.8 142.5L139.8 136.9L141.8 132.8L143.8 130.4L145.8 129.4L147.8 129.4L149.8 130.2L151.8 131.4L153.8 132.8L155.8 134.2L157.8 135.7L159.8 137.5L161.8 139.5L163.8 141.2L165.8 142.6L167.8 143.3L169.8 143.8L171.8 144.2L173.8 144.5L175.8 144.8L177.8 145.1L179.8 145.5L181.8 146.0L183.8 146.8L185.8 147.8L187.8 148.9L189.8 150.0L191.8 151.1L193.8 152.1L195.8 153.0L197.8 154.1L199.8 155.2L201.8 156.1L203.8 156.9L205.8 157.0L207.8 156.6L209.8 155.5L211.8 153.8L213.8 151.9L215.8 149.8L217.8 147.6L219.8 144.4L221.8 140.7L223.8 136.8L225.8 133.3L227.8 130.6L229.8 128.5L231.8 126.5L233.8 124.8L235.8 123.4L237.8 122.4L239.8 121.7L241.8 121.1L243.8 120.8L245.8 120.7L247.8 120.8L249.8 120.9L251.8 121.0L253.8 121.2L255.8 121.4L257.8 121.6L259.8 122.2L261.8 123.0L263.8 124.1L265.8 125.2L267.8 126.3L269.8 127.2L271.8 127.9L273.8 128.5L275.8 129.1L277.8 129.8L279.8 130.6L281.8 131.4L283.8 132.4L285.8 133.7L287.8 135.2L289.8 137.1L291.8 139.1L293.8 141.1L295.8 143.2L297.8 145.3L299.8 147.7L301.8 150.6L303.8 153.6L305.8 156.7L307.8 159.5L309.8 161.9L311.8 163.7L313.8 164.7L315.8 164.9L317.8 164.9L319.8 164.9L321.8 164.9L323.8 164.9L325.8 164.9L327.8 164.9L329.8 165.2L331.8 165.8L333.8 166.6L335.8 167.5L337.8 168.4L339.8 169.2L341.8 170.1L343.8 171.2L345.8 172.4L347.8 173.5L349.8 174.6L351.8 175.4L353.8 175.8L355.8 175.6L357.8 174.7L359.8 172.9L361.8 171.0L363.8 169.1L365.8 167.9L367.8 167.5L369.8 167.8L371.8 168.6L373.8 169.7L375.8 170.8L377.8 171.9L379.8 172.7L381.8 173.0L383.8 173.0L385.8 172.8L387.8 172.4L389.8 171.9L391.8 171.3L393.8 170.7L395.8 169.9L397.8 169.1L399.8 168.3L401.8 167.4L403.8 166.5L405.8 165.8L407.8 165.0L409.8 163.8L411.8 162.3L413.8 160.5L415.8 158.6L417.8 156.6L419.8 154.6L421.8 152.7L423.8 150.5L425.8 148.0L427.8 145.3L429.8 142.8L431.8 140.9L433.8 139.9L435.8 139.1L437.8 138.5L439.8 138.1L441.8 137.9L443.8 137.9L445.8 138.4L447.8 139.3L449.8 140.4L451.8 141.5L453.8 142.5L455.8 143.1L457.8 143.6L459.8 144.1L461.8 144.6L463.8 144.9L465.8 145.2L467.8 145.7L469.8 146.5L471.8 147.4L473.8 148.4L475.8 149.5L477.8 150.8L479.8 152.2L481.8 153.9L483.8 155.7L485.8 157.4L487.8 158.8L489.8 159.9L491.8 160.3L493.8 160.3L495.8 160.2L497.8 160.2L499.8 160.2L501.8 160.6L503.8 161.4L505.8 162.4L507.8 163.1L509.8 163.3L511.8 163.1L513.8 162.2L515.8 161.0L517.8 159.7L519.8 158.5L521.8 157.6L523.8 157.1L525.8 157.1L527.8 157.3L529.8 157.7L531.8 158.2L533.8 158.4L535.8 158.3L537.8 157.9L539.8 157.2L541.8 156.1L543.8 155.0L545.8 153.8L547.8 152.6L549.8 151.2L551.8 149.6L553.8 147.8L555.8 146.1L557.8 144.5L559.8 143.1L561.8 142.1L563.8 141.5L565.8 141.7L567.8 142.4L569.8 143.7L571.8 145.3L573.8 147.0L575.8 148.8L577.8 151.2L579.8 154.0L581.8 157.0L583.8 159.9L585.8 162.4L587.8 164.1L589.8 164.6L591.8 164.3L593.8 163.4L595.8 162.0L597.8 160.4L599.8 158.6L601.8 156.9L603.8 155.5L605.8 154.7L607.8 154.5L609.8 154.8L611.8 155.4L613.8 156.0L615.8 156.6L617.8 156.8L619.8 156.9L621.8 156.9L623.8 156.8L625.8 156.8L627.8 156.8L629.8 156.7L631.8 155.9L633.8 154.5L635.8 152.8L637.8 150.9L639.8 149.1L641.8 147.3L643.8 145.2L645.8 142.9L647.8 140.7L649.8 138.8L651.8 137.5L653.8 137.2L655.8 137.4L657.8 138.1L659.8 138.9L661.8 139.9L663.8 140.7L665.8 141.2L667.8 141.4L669.8 140.7L671.8 139.2L673.8 137.5L675.8 135.6L677.8 134.0L679.8 132.3L681.8 130.5L683.8 128.7L685.8 127.1L687.8 126.1L689.8 125.8L691.8 125.9L693.8 126.0L695.8 126.2L697.8 126.3L699.8 126.5L701.8 126.6L703.8 126.4L705.8 123.7L707.8 119.3L709.8 114.6L711.8 111.3L713.8 109.4L715.8 107.7L717.8 106.6L719.8 106.7L721.8 107.3L723.8 108.4L725.8 109.8L727.8 111.2L729.8 112.6L731.8 114.4L733.8 116.2L735.8 118.1L737.8 119.9L739.8 121.7L741.8 123.5L743.8 125.4L744.3 126.0L744.3 454.5L112 454.5L112 501.0L41.8 501.0Z" fill="#0055ff"/><path d="M41.8 454.5L41.8 363.4L43.8 360.9L45.8 358.9L47.8 357.5L49.8 356.7L51.8 356.4L53.8 357.3L55.8 359.4L57.8 361.8L59.8 363.7L61.8 364.1L63.8 362.9L65.8 360.7L67.8 357.8L69.8 354.6L71.8 350.5L73.8 344.5L75.8 337.3L77.8 329.9L79.8 323.2L81.8 318.2L83.8 314.0L85.8 310.1L87.8 306.6L89.8 303.8L91.8 301.8L93.8 300.6L95.8 299.9L97.8 299.0L99.8 297.3L101.8 293.4L103.8 287.7L105.8 268.2L107.8 255.1L109.8 244.6L111.8 237.9L113.8 235.4L115.8 231.2L117.8 225.6L119.8 218.8L121.8 211.0L123.8 202.5L125.8 193.4L127.8 184.1L129.8 174.8L131.8 165.8L133.8 157.2L135.8 149.4L137.8 142.5L139.8 136.9L141.8 132.8L143.8 130.4L145.8 129.4L147.8 129.4L149.8 130.2L151.8 131.4L153.8 132.8L155.8 134.2L157.8 135.7L159.8 137.5L161.8 139.5L163.8 141.2L165.8 142.6L167.8 143.3L169.8 143.8L171.8 144.2L173.8 144.5L175.8 144.8L177.8 145.1L179.8 145.5L181.8 146.0L183.8 146.8L185.8 147.8L187.8 148.9L189.8 150.0L191.8 151.1L193.8 152.1L195.8 153.0L197.8 154.1L199.8 155.2L201.8 156.1L203.8 156.9L205.8 157.0L207.8 156.6L209.8 155.5L211.8 153.8L213.8 151.9L215.8 149.8L217.8 147.6L219.8 144.4L221.8 140.7L223.8 136.8L225.8 133.3L227.8 130.6L229.8 128.5L231.8 126.5L233.8 124.8L235.8 123.4L237.8 122.4L239.8 121.7L241.8 121.1L243.8 120.8L245.8 120.7L247.8 120.8L249.8 120.9L251.8 121.0L253.8 121.2L255.8 121.4L257.8 121.6L259.8 122.2L261.8 123.0L263.8 124.1L265.8 125.2L267.8 126.3L269.8 127.2L271.8 127.9L273.8 128.5L275.8 129.1L277.8 129.8L279.8 130.6L281.8 131.4L283.8 132.4L285.8 133.7L287.8 135.2L289.8 137.1L291.8 139.1L293.8 141.1L295.8 143.2L297.8 145.3L299.8 147.7L301.8 150.6L303.8 153.6L305.8 156.7L307.8 159.5L309.8 161.9L311.8 163.7L313.8 164.7L315.8 164.9L317.8 164.9L319.8 164.9L321.8 164.9L323.8 164.9L325.8 164.9L327.8 164.9L329.8 165.2L331.8 165.8L333.8 166.6L335.8 167.5L337.8 168.4L339.8 169.2L341.8 170.1L343.8 171.2L345.8 172.4L347.8 173.5L349.8 174.6L351.8 175.4L353.8 175.8L355.8 175.6L357.8 174.7L359.8 172.9L361.8 171.0L363.8 169.1L365.8 167.9L367.8 167.5L369.8 167.8L371.8 168.6L373.8 169.7L375.8 170.8L377.8 171.9L379.8 172.7L381.8 173.0L383.8 173.0L385.8 172.8L387.8 172.4L389.8 171.9L391.8 171.3L393.8 170.7L395.8 169.9L397.8 169.1L399.8 168.3L401.8 167.4L403.8 166.5L405.8 165.8L407.8 165.0L409.8 163.8L411.8 162.3L413.8 160.5L415.8 158.6L417.8 156.6L419.8 154.6L421.8 152.7L423.8 150.5L425.8 148.0L427.8 145.3L429.8 142.8L431.8 140.9L433.8 139.9L435.8 139.1L437.8 138.5L439.8 138.1L441.8 137.9L443.8 137.9L445.8 138.4L447.8 139.3L449.8 140.4L451.8 141.5L453.8 142.5L455.8 143.1L457.8 143.6L459.8 144.1L461.8 144.6L463.8 144.9L465.8 145.2L467.8 145.7L469.8 146.5L471.8 147.4L473.8 148.4L475.8 149.5L477.8 150.8L479.8 152.2L481.8 153.9L483.8 155.7L485.8 157.4L487.8 158.8L489.8 159.9L491.8 160.3L493.8 160.3L495.8 160.2L497.8 160.2L499.8 160.2L501.8 160.6L503.8 161.4L505.8 162.4L507.8 163.1L509.8 163.3L511.8 163.1L513.8 162.2L515.8 161.0L517.8 159.7L519.8 158.5L521.8 157.6L523.8 157.1L525.8 157.1L527.8 157.3L529.8 157.7L531.8 158.2L533.8 158.4L535.8 158.3L537.8 157.9L539.8 157.2L541.8 156.1L543.8 155.0L545.8 153.8L547.8 152.6L549.8 151.2L551.8 149.6L553.8 147.8L555.8 146.1L557.8 144.5L559.8 143.1L561.8 142.1L563.8 141.5L565.8 141.7L567.8 142.4L569.8 143.7L571.8 145.3L573.8 147.0L575.8 148.8L577.8 151.2L579.8 154.0L581.8 157.0L583.8 159.9L585.8 162.4L587.8 164.1L589.8 164.6L591.8 164.3L593.8 163.4L595.8 162.0L597.8 160.4L599.8 158.6L601.8 156.9L603.8 155.5L605.8 154.7L607.8 154.5L609.8 154.8L611.8 155.4L613.8 156.0L615.8 156.6L617.8 156.8L619.8 156.9L621.8 156.9L623.8 156.8L625.8 156.8L627.8 156.8L629.8 156.7L631.8 155.9L633.8 154.5L635.8 152.8L637.8 150.9L639.8 149.1L641.8 147.3L643.8 145.2L645.8 142.9L647.8 140.7L649.8 138.8L651.8 137.5L653.8 137.2L655.8 137.4L657.8 138.1L659.8 138.9L661.8 139.9L663.8 140.7L665.8 141.2L667.8 141.4L669.8 140.7L671.8 139.2L673.8 137.5L675.8 135.6L677.8 134.0L679.8 132.3L681.8 130.5L683.8 128.7L685.8 127.1L687.8 126.1L689.8 125.8L691.8 125.9L693.8 126.0L695.8 126.2L697.8 126.3L699.8 126.5L701.8 126.6L703.8 126.4L705.8 123.7L707.8 119.3L709.8 114.6L711.8 111.3L713.8 109.4L715.8 107.7L717.8 106.6L719.8 106.7L721.8 107.3L723.8 108.4L725.8 109.8L727.8 111.2L729.8 112.6L731.8 114.4L733.8 116.2L735.8 118.1L737.8 119.9L739.8 121.7L741.8 123.5L743.8 125.4L744.3 126.0L744.3 454.5" fill="none" stroke="#000" stroke-width="1" stroke-linejoin="round"/><path d="M41.7 501.0L41.7 373.0L43.7 370.0L45.7 367.5L47.7 365.9L49.7 364.9L51.7 364.5L53.7 365.6L55.7 368.1L57.7 371.1L59.7 373.3L61.7 373.9L63.7 372.7L65.7 370.4L67.7 367.4L69.7 363.9L71.7 359.8L73.7 353.6L75.7 346.1L77.7 338.3L79.7 331.1L81.7 325.5L83.7 320.9L85.7 316.5L87.7 312.5L89.7 309.2L91.7 306.6L93.7 305.0L95.7 303.9L97.7 302.7L99.7 300.7L101.7 297.2L103.7 291.8L105.7 268.9L107.7 255.3L109.7 244.8L111.7 238.4L113.7 235.9L115.7 231.9L117.7 226.4L119.7 219.7L121.7 212.0L123.7 203.7L125.7 194.8L127.7 185.6L129.7 176.5L131.7 167.6L133.7 159.1L135.7 151.4L137.7 144.6L139.7 139.0L141.7 134.9L143.7 132.4L145.7 131.5L147.7 131.3L149.7 132.2L151.7 133.4L153.7 134.9L155.7 136.4L157.7 138.0L159.7 139.8L161.7 141.8L163.7 143.7L165.7 145.3L167.7 146.2L169.7 146.8L171.7 147.3L173.7 147.6L175.7 147.9L177.7 148.2L179.7 148.6L181.7 149.1L183.7 149.9L185.7 150.8L187.7 151.8L189.7 153.0L191.7 154.1L193.7 155.1L195.7 156.1L197.7 157.2L199.7 158.5L201.7 159.7L203.7 160.6L205.7 161.0L207.7 160.9L209.7 159.9L211.7 158.5L213.7 156.6L215.7 154.6L217.7 152.5L219.7 149.7L221.7 146.1L223.7 142.2L225.7 138.5L227.7 135.4L229.7 133.1L231.7 131.0L233.7 129.2L235.7 127.6L237.7 126.4L239.7 125.6L241.7 125.0L243.7 124.6L245.7 124.4L247.7 124.4L249.7 124.5L251.7 124.6L253.7 124.8L255.7 125.0L257.7 125.2L259.7 125.5L261.7 126.2L263.7 127.0L265.7 128.0L267.7 129.0L269.7 129.9L271.7 130.6L273.7 131.2L275.7 131.8L277.7 132.4L279.7 133.2L281.7 134.0L283.7 135.0L285.7 136.2L287.7 137.7L289.7 139.5L291.7 141.6L293.7 143.7L295.7 145.9L297.7 148.0L299.7 150.3L301.7 153.0L303.7 156.0L305.7 159.1L307.7 162.0L309.7 164.6L311.7 166.8L313.7 168.2L315.7 168.8L317.7 168.8L319.7 168.9L321.7 168.9L323.7 168.9L325.7 168.9L327.7 168.9L329.7 169.0L331.7 169.4L333.7 170.1L335.7 171.0L337.7 171.9L339.7 172.7L341.7 173.6L343.7 174.6L345.7 175.7L347.7 177.0L349.7 178.1L351.7 179.1L353.7 179.8L355.7 180.1L357.7 179.6L359.7 178.0L361.7 175.9L363.7 173.8L365.7 171.9L367.7 170.8L369.7 170.9L371.7 171.4L373.7 172.5L375.7 173.8L377.7 175.1L379.7 176.3L381.7 176.9L383.7 177.0L385.7 176.9L387.7 176.5L389.7 176.1L391.7 175.5L393.7 174.9L395.7 174.2L397.7 173.4L399.7 172.6L401.7 171.8L403.7 170.8L405.7 170.3L407.7 170.0L409.7 169.3L411.7 168.0L413.7 166.4L415.7 164.6L417.7 162.6L419.7 160.7L421.7 158.7L423.7 156.8L425.7 154.7L427.7 152.1L429.7 149.5L431.7 147.2L433.7 145.5L435.7 144.6L437.7 143.7L439.7 143.0L441.7 142.6L443.7 142.5L445.7 142.6L447.7 143.2L449.7 144.3L451.7 145.5L453.7 146.7L455.7 147.7L457.7 148.4L459.7 149.0L461.7 149.6L463.7 150.2L465.7 150.5L467.7 150.9L469.7 151.5L471.7 152.2L473.7 153.0L475.7 153.9L477.7 154.9L479.7 156.1L481.7 157.6L483.7 159.3L485.7 161.1L487.7 162.8L489.7 164.3L491.7 165.3L493.7 165.7L495.7 165.7L497.7 165.7L499.7 165.7L501.7 165.7L503.7 166.2L505.7 167.0L507.7 168.0L509.7 168.8L511.7 168.9L513.7 168.5L515.7 167.6L517.7 166.3L519.7 165.0L521.7 163.7L523.7 162.7L525.7 162.3L527.7 162.2L529.7 162.6L531.7 163.1L533.7 163.7L535.7 164.0L537.7 164.0L539.7 163.5L541.7 162.7L543.7 161.7L545.7 160.5L547.7 159.3L549.7 158.0L551.7 156.5L553.7 154.7L555.7 152.8L557.7 151.0L559.7 149.3L561.7 147.8L563.7 146.7L565.7 146.2L567.7 146.2L569.7 147.0L571.7 148.4L573.7 150.2L575.7 152.0L577.7 153.9L579.7 156.4L581.7 159.3L583.7 162.3L585.7 165.2L587.7 167.6L589.7 169.4L591.7 169.9L593.7 169.7L595.7 168.7L597.7 167.4L599.7 165.7L601.7 163.8L603.7 162.0L605.7 160.6L607.7 159.6L609.7 159.4L611.7 159.7L613.7 160.3L615.7 161.0L617.7 161.7L619.7 162.0L621.7 162.2L623.7 162.3L625.7 162.3L627.7 162.3L629.7 162.3L631.7 162.2L633.7 161.6L635.7 160.3L637.7 158.6L639.7 156.7L641.7 154.9L643.7 153.1L645.7 150.9L647.7 148.6L649.7 146.3L651.7 144.3L653.7 142.8L655.7 142.3L657.7 142.4L659.7 143.0L661.7 143.9L663.7 145.0L665.7 145.9L667.7 146.7L669.7 147.0L671.7 146.6L673.7 145.3L675.7 143.6L677.7 141.9L679.7 140.2L681.7 138.6L683.7 136.7L685.7 134.7L687.7 133.0L689.7 131.7L691.7 131.3L693.7 131.3L695.7 131.5L697.7 131.8L699.7 132.1L701.7 132.4L703.7 132.6L705.7 132.5L707.7 130.6L709.7 126.4L711.7 121.7L713.7 117.8L715.7 115.7L717.7 113.9L719.7 112.6L721.7 112.5L723.7 112.9L725.7 114.2L727.7 115.9L729.7 117.6L731.7 119.2L733.7 121.0L735.7 122.9L737.7 124.9L739.7 126.9L741.7 128.9L743.7 131.0L745.7 133.2L747.0 134.7L747.0 456.0L112 456.0L112 501.0L41.7 501.0Z" fill="#0055ff"/><path d="M41.7 456.0L41.7 373.0L43.7 370.0L45.7 367.5L47.7 365.9L49.7 364.9L51.7 364.5L53.7 365.6L55.7 368.1L57.7 371.1L59.7 373.3L61.7 373.9L63.7 372.7L65.7 370.4L67.7 367.4L69.7 363.9L71.7 359.8L73.7 353.6L75.7 346.1L77.7 338.3L79.7 331.1L81.7 325.5L83.7 320.9L85.7 316.5L87.7 312.5L89.7 309.2L91.7 306.6L93.7 305.0L95.7 303.9L97.7 302.7L99.7 300.7L101.7 297.2L103.7 291.8L105.7 268.9L107.7 255.3L109.7 244.8L111.7 238.4L113.7 235.9L115.7 231.9L117.7 226.4L119.7 219.7L121.7 212.0L123.7 203.7L125.7 194.8L127.7 185.6L129.7 176.5L131.7 167.6L133.7 159.1L135.7 151.4L137.7 144.6L139.7 139.0L141.7 134.9L143.7 132.4L145.7 131.5L147.7 131.3L149.7 132.2L151.7 133.4L153.7 134.9L155.7 136.4L157.7 138.0L159.7 139.8L161.7 141.8L163.7 143.7L165.7 145.3L167.7 146.2L169.7 146.8L171.7 147.3L173.7 147.6L175.7 147.9L177.7 148.2L179.7 148.6L181.7 149.1L183.7 149.9L185.7 150.8L187.7 151.8L189.7 153.0L191.7 154.1L193.7 155.1L195.7 156.1L197.7 157.2L199.7 158.5L201.7 159.7L203.7 160.6L205.7 161.0L207.7 160.9L209.7 159.9L211.7 158.5L213.7 156.6L215.7 154.6L217.7 152.5L219.7 149.7L221.7 146.1L223.7 142.2L225.7 138.5L227.7 135.4L229.7 133.1L231.7 131.0L233.7 129.2L235.7 127.6L237.7 126.4L239.7 125.6L241.7 125.0L243.7 124.6L245.7 124.4L247.7 124.4L249.7 124.5L251.7 124.6L253.7 124.8L255.7 125.0L257.7 125.2L259.7 125.5L261.7 126.2L263.7 127.0L265.7 128.0L267.7 129.0L269.7 129.9L271.7 130.6L273.7 131.2L275.7 131.8L277.7 132.4L279.7 133.2L281.7 134.0L283.7 135.0L285.7 136.2L287.7 137.7L289.7 139.5L291.7 141.6L293.7 143.7L295.7 145.9L297.7 148.0L299.7 150.3L301.7 153.0L303.7 156.0L305.7 159.1L307.7 162.0L309.7 164.6L311.7 166.8L313.7 168.2L315.7 168.8L317.7 168.8L319.7 168.9L321.7 168.9L323.7 168.9L325.7 168.9L327.7 168.9L329.7 169.0L331.7 169.4L333.7 170.1L335.7 171.0L337.7 171.9L339.7 172.7L341.7 173.6L343.7 174.6L345.7 175.7L347.7 177.0L349.7 178.1L351.7 179.1L353.7 179.8L355.7 180.1L357.7 179.6L359.7 178.0L361.7 175.9L363.7 173.8L365.7 171.9L367.7 170.8L369.7 170.9L371.7 171.4L373.7 172.5L375.7 173.8L377.7 175.1L379.7 176.3L381.7 176.9L383.7 177.0L385.7 176.9L387.7 176.5L389.7 176.1L391.7 175.5L393.7 174.9L395.7 174.2L397.7 173.4L399.7 172.6L401.7 171.8L403.7 170.8L405.7 170.3L407.7 170.0L409.7 169.3L411.7 168.0L413.7 166.4L415.7 164.6L417.7 162.6L419.7 160.7L421.7 158.7L423.7 156.8L425.7 154.7L427.7 152.1L429.7 149.5L431.7 147.2L433.7 145.5L435.7 144.6L437.7 143.7L439.7 143.0L441.7 142.6L443.7 142.5L445.7 142.6L447.7 143.2L449.7 144.3L451.7 145.5L453.7 146.7L455.7 147.7L457.7 148.4L459.7 149.0L461.7 149.6L463.7 150.2L465.7 150.5L467.7 150.9L469.7 151.5L471.7 152.2L473.7 153.0L475.7 153.9L477.7 154.9L479.7 156.1L481.7 157.6L483.7 159.3L485.7 161.1L487.7 162.8L489.7 164.3L491.7 165.3L493.7 165.7L495.7 165.7L497.7 165.7L499.7 165.7L501.7 165.7L503.7 166.2L505.7 167.0L507.7 168.0L509.7 168.8L511.7 168.9L513.7 168.5L515.7 167.6L517.7 166.3L519.7 165.0L521.7 163.7L523.7 162.7L525.7 162.3L527.7 162.2L529.7 162.6L531.7 163.1L533.7 163.7L535.7 164.0L537.7 164.0L539.7 163.5L541.7 162.7L543.7 161.7L545.7 160.5L547.7 159.3L549.7 158.0L551.7 156.5L553.7 154.7L555.7 152.8L557.7 151.0L559.7 149.3L561.7 147.8L563.7 146.7L565.7 146.2L567.7 146.2L569.7 147.0L571.7 148.4L573.7 150.2L575.7 152.0L577.7 153.9L579.7 156.4L581.7 159.3L583.7 162.3L585.7 165.2L587.7 167.6L589.7 169.4L591.7 169.9L593.7 169.7L595.7 168.7L597.7 167.4L599.7 165.7L601.7 163.8L603.7 162.0L605.7 160.6L607.7 159.6L609.7 159.4L611.7 159.7L613.7 160.3L615.7 161.0L617.7 161.7L619.7 162.0L621.7 162.2L623.7 162.3L625.7 162.3L627.7 162.3L629.7 162.3L631.7 162.2L633.7 161.6L635.7 160.3L637.7 158.6L639.7 156.7L641.7 154.9L643.7 153.1L645.7 150.9L647.7 148.6L649.7 146.3L651.7 144.3L653.7 142.8L655.7 142.3L657.7 142.4L659.7 143.0L661.7 143.9L663.7 145.0L665.7 145.9L667.7 146.7L669.7 147.0L671.7 146.6L673.7 145.3L675.7 143.6L677.7 141.9L679.7 140.2L681.7 138.6L683.7 136.7L685.7 134.7L687.7 133.0L689.7 131.7L691.7 131.3L693.7 131.3L695.7 131.5L697.7 131.8L699.7 132.1L701.7 132.4L703.7 132.6L705.7 132.5L707.7 130.6L709.7 126.4L711.7 121.7L713.7 117.8L715.7 115.7L717.7 113.9L719.7 112.6L721.7 112.5L723.7 112.9L725.7 114.2L727.7 115.9L729.7 117.6L731.7 119.2L733.7 121.0L735.7 122.9L737.7 124.9L739.7 126.9L741.7 128.9L743.7 131.0L745.7 133.2L747.0 134.7L747.0 456.0" fill="none" stroke="#000" stroke-width="1" stroke-linejoin="round"/><path d="M41.7 501.0L41.7 382.7L43.7 379.2L45.7 376.4L47.7 374.4L49.7 373.2L51.7 372.8L53.7 374.0L55.7 376.9L57.7 380.4L59.7 383.1L61.7 383.9L63.7 382.7L65.7 380.3L67.7 377.1L69.7 373.4L71.7 369.2L73.7 362.8L75.7 355.0L77.7 346.9L79.7 339.2L81.7 333.1L83.7 327.9L85.7 323.0L87.7 318.6L89.7 314.7L91.7 311.6L93.7 309.5L95.7 308.0L97.7 306.5L99.7 304.3L101.7 300.9L103.7 295.9L105.7 269.5L107.7 255.6L109.7 245.0L111.7 238.9L113.7 236.5L115.7 232.6L117.7 227.2L119.7 220.7L121.7 213.2L123.7 205.0L125.7 196.4L127.7 187.4L129.7 178.5L131.7 169.7L133.7 161.5L135.7 153.8L137.7 147.2L139.7 141.6L141.7 137.5L143.7 134.9L145.7 134.0L147.7 133.8L149.7 134.6L151.7 135.9L153.7 137.5L155.7 139.1L157.7 140.7L159.7 142.7L161.7 144.8L163.7 146.8L165.7 148.5L167.7 149.7L169.7 150.5L171.7 151.0L173.7 151.4L175.7 151.7L177.7 152.0L179.7 152.4L181.7 152.9L183.7 153.6L185.7 154.6L187.7 155.6L189.7 156.7L191.7 157.9L193.7 159.0L195.7 160.1L197.7 161.2L199.7 162.6L201.7 164.0L203.7 165.3L205.7 166.0L207.7 166.1L209.7 165.4L211.7 164.1L213.7 162.4L215.7 160.5L217.7 158.4L219.7 156.0L221.7 152.6L223.7 148.8L225.7 144.9L227.7 141.5L229.7 138.9L231.7 136.7L233.7 134.7L235.7 133.0L237.7 131.6L239.7 130.7L241.7 130.0L243.7 129.5L245.7 129.3L247.7 129.2L249.7 129.3L251.7 129.4L253.7 129.5L255.7 129.7L257.7 129.9L259.7 130.2L261.7 130.6L263.7 131.3L265.7 132.1L267.7 133.0L269.7 133.8L271.7 134.5L273.7 135.0L275.7 135.6L277.7 136.2L279.7 137.0L281.7 137.9L283.7 138.9L285.7 140.0L287.7 141.5L289.7 143.4L291.7 145.6L293.7 148.0L295.7 150.2L297.7 152.5L299.7 154.7L301.7 157.2L303.7 160.2L305.7 163.2L307.7 166.2L309.7 169.0L311.7 171.4L313.7 173.3L315.7 174.3L317.7 174.6L319.7 174.6L321.7 174.6L323.7 174.7L325.7 174.7L327.7 174.7L329.7 174.7L331.7 175.0L333.7 175.5L335.7 176.3L337.7 177.1L339.7 178.0L341.7 178.9L343.7 179.7L345.7 180.8L347.7 182.1L349.7 183.4L351.7 184.7L353.7 185.7L355.7 186.3L357.7 186.2L359.7 185.0L361.7 183.0L363.7 180.5L365.7 178.1L367.7 176.3L369.7 175.7L371.7 175.8L373.7 176.8L375.7 178.2L377.7 179.9L379.7 181.4L381.7 182.6L383.7 183.0L385.7 183.0L387.7 182.7L389.7 182.2L391.7 181.5L393.7 180.9L395.7 180.2L397.7 179.5L399.7 178.7L401.7 177.9L403.7 177.0L405.7 176.3L407.7 176.3L409.7 176.4L411.7 175.8L413.7 174.4L415.7 172.8L417.7 170.9L419.7 168.8L421.7 166.7L423.7 164.8L425.7 163.0L427.7 160.8L429.7 158.3L431.7 155.8L433.7 153.7L435.7 152.2L437.7 151.1L439.7 150.2L441.7 149.4L443.7 149.1L445.7 149.0L447.7 149.3L449.7 150.1L451.7 151.2L453.7 152.6L455.7 153.9L457.7 154.9L459.7 155.8L461.7 156.6L463.7 157.4L465.7 158.1L467.7 158.6L469.7 159.0L471.7 159.6L473.7 160.3L475.7 161.0L477.7 161.7L479.7 162.5L481.7 163.5L483.7 164.9L485.7 166.7L487.7 168.6L489.7 170.4L491.7 172.0L493.7 173.1L495.7 173.4L497.7 173.4L499.7 173.4L501.7 173.4L503.7 173.4L505.7 174.0L507.7 175.0L509.7 176.0L511.7 176.8L513.7 177.0L515.7 176.5L517.7 175.3L519.7 173.9L521.7 172.4L523.7 171.0L525.7 170.0L527.7 169.5L529.7 169.6L531.7 170.1L533.7 170.8L535.7 171.6L537.7 172.0L539.7 172.0L541.7 171.5L543.7 170.7L545.7 169.6L547.7 168.4L549.7 167.0L551.7 165.6L553.7 163.9L555.7 161.9L557.7 159.9L559.7 157.8L561.7 156.0L563.7 154.4L565.7 153.2L567.7 152.6L569.7 152.6L571.7 153.5L573.7 155.1L575.7 157.0L577.7 159.1L579.7 161.2L581.7 163.8L583.7 166.8L585.7 169.9L587.7 172.8L589.7 175.2L591.7 177.0L593.7 177.6L595.7 177.3L597.7 176.3L599.7 174.9L601.7 173.1L603.7 171.1L605.7 169.2L607.7 167.6L609.7 166.6L611.7 166.2L613.7 166.5L615.7 167.2L617.7 168.0L619.7 168.9L621.7 169.5L623.7 169.9L625.7 170.1L627.7 170.1L629.7 170.1L631.7 170.1L633.7 170.0L635.7 169.6L637.7 168.3L639.7 166.7L641.7 164.9L643.7 163.0L645.7 161.1L647.7 158.9L649.7 156.5L651.7 154.0L653.7 151.8L655.7 150.2L657.7 149.4L659.7 149.5L661.7 150.1L663.7 151.1L665.7 152.2L667.7 153.4L669.7 154.4L671.7 154.9L673.7 154.9L675.7 153.8L677.7 152.3L679.7 150.6L681.7 148.9L683.7 147.2L685.7 145.2L687.7 143.2L689.7 141.2L691.7 139.7L693.7 139.0L695.7 138.9L697.7 139.2L699.7 139.7L701.7 140.3L703.7 140.9L705.7 141.3L707.7 141.3L709.7 140.0L711.7 136.2L713.7 131.3L715.7 126.9L717.7 124.4L719.7 122.6L721.7 121.2L723.7 120.6L725.7 121.0L727.7 122.4L729.7 124.4L731.7 126.6L733.7 128.7L735.7 130.6L737.7 132.7L739.7 134.8L741.7 137.1L743.7 139.4L745.7 141.9L747.7 144.6L749.7 147.4L749.7 147.5L749.7 457.5L112 457.5L112 501.0L41.7 501.0Z" fill="#0055ff"/><path d="M41.7 457.5L41.7 382.7L43.7 379.2L45.7 376.4L47.7 374.4L49.7 373.2L51.7 372.8L53.7 374.0L55.7 376.9L57.7 380.4L59.7 383.1L61.7 383.9L63.7 382.7L65.7 380.3L67.7 377.1L69.7 373.4L71.7 369.2L73.7 362.8L75.7 355.0L77.7 346.9L79.7 339.2L81.7 333.1L83.7 327.9L85.7 323.0L87.7 318.6L89.7 314.7L91.7 311.6L93.7 309.5L95.7 308.0L97.7 306.5L99.7 304.3L101.7 300.9L103.7 295.9L105.7 269.5L107.7 255.6L109.7 245.0L111.7 238.9L113.7 236.5L115.7 232.6L117.7 227.2L119.7 220.7L121.7 213.2L123.7 205.0L125.7 196.4L127.7 187.4L129.7 178.5L131.7 169.7L133.7 161.5L135.7 153.8L137.7 147.2L139.7 141.6L141.7 137.5L143.7 134.9L145.7 134.0L147.7 133.8L149.7 134.6L151.7 135.9L153.7 137.5L155.7 139.1L157.7 140.7L159.7 142.7L161.7 144.8L163.7 146.8L165.7 148.5L167.7 149.7L169.7 150.5L171.7 151.0L173.7 151.4L175.7 151.7L177.7 152.0L179.7 152.4L181.7 152.9L183.7 153.6L185.7 154.6L187.7 155.6L189.7 156.7L191.7 157.9L193.7 159.0L195.7 160.1L197.7 161.2L199.7 162.6L201.7 164.0L203.7 165.3L205.7 166.0L207.7 166.1L209.7 165.4L211.7 164.1L213.7 162.4L215.7 160.5L217.7 158.4L219.7 156.0L221.7 152.6L223.7 148.8L225.7 144.9L227.7 141.5L229.7 138.9L231.7 136.7L233.7 134.7L235.7 133.0L237.7 131.6L239.7 130.7L241.7 130.0L243.7 129.5L245.7 129.3L247.7 129.2L249.7 129.3L251.7 129.4L253.7 129.5L255.7 129.7L257.7 129.9L259.7 130.2L261.7 130.6L263.7 131.3L265.7 132.1L267.7 133.0L269.7 133.8L271.7 134.5L273.7 135.0L275.7 135.6L277.7 136.2L279.7 137.0L281.7 137.9L283.7 138.9L285.7 140.0L287.7 141.5L289.7 143.4L291.7 145.6L293.7 148.0L295.7 150.2L297.7 152.5L299.7 154.7L301.7 157.2L303.7 160.2L305.7 163.2L307.7 166.2L309.7 169.0L311.7 171.4L313.7 173.3L315.7 174.3L317.7 174.6L319.7 174.6L321.7 174.6L323.7 174.7L325.7 174.7L327.7 174.7L329.7 174.7L331.7 175.0L333.7 175.5L335.7 176.3L337.7 177.1L339.7 178.0L341.7 178.9L343.7 179.7L345.7 180.8L347.7 182.1L349.7 183.4L351.7 184.7L353.7 185.7L355.7 186.3L357.7 186.2L359.7 185.0L361.7 183.0L363.7 180.5L365.7 178.1L367.7 176.3L369.7 175.7L371.7 175.8L373.7 176.8L375.7 178.2L377.7 179.9L379.7 181.4L381.7 182.6L383.7 183.0L385.7 183.0L387.7 182.7L389.7 182.2L391.7 181.5L393.7 180.9L395.7 180.2L397.7 179.5L399.7 178.7L401.7 177.9L403.7 177.0L405.7 176.3L407.7 176.3L409.7 176.4L411.7 175.8L413.7 174.4L415.7 172.8L417.7 170.9L419.7 168.8L421.7 166.7L423.7 164.8L425.7 163.0L427.7 160.8L429.7 158.3L431.7 155.8L433.7 153.7L435.7 152.2L437.7 151.1L439.7 150.2L441.7 149.4L443.7 149.1L445.7 149.0L447.7 149.3L449.7 150.1L451.7 151.2L453.7 152.6L455.7 153.9L457.7 154.9L459.7 155.8L461.7 156.6L463.7 157.4L465.7 158.1L467.7 158.6L469.7 159.0L471.7 159.6L473.7 160.3L475.7 161.0L477.7 161.7L479.7 162.5L481.7 163.5L483.7 164.9L485.7 166.7L487.7 168.6L489.7 170.4L491.7 172.0L493.7 173.1L495.7 173.4L497.7 173.4L499.7 173.4L501.7 173.4L503.7 173.4L505.7 174.0L507.7 175.0L509.7 176.0L511.7 176.8L513.7 177.0L515.7 176.5L517.7 175.3L519.7 173.9L521.7 172.4L523.7 171.0L525.7 170.0L527.7 169.5L529.7 169.6L531.7 170.1L533.7 170.8L535.7 171.6L537.7 172.0L539.7 172.0L541.7 171.5L543.7 170.7L545.7 169.6L547.7 168.4L549.7 167.0L551.7 165.6L553.7 163.9L555.7 161.9L557.7 159.9L559.7 157.8L561.7 156.0L563.7 154.4L565.7 153.2L567.7 152.6L569.7 152.6L571.7 153.5L573.7 155.1L575.7 157.0L577.7 159.1L579.7 161.2L581.7 163.8L583.7 166.8L585.7 169.9L587.7 172.8L589.7 175.2L591.7 177.0L593.7 177.6L595.7 177.3L597.7 176.3L599.7 174.9L601.7 173.1L603.7 171.1L605.7 169.2L607.7 167.6L609.7 166.6L611.7 166.2L613.7 166.5L615.7 167.2L617.7 168.0L619.7 168.9L621.7 169.5L623.7 169.9L625.7 170.1L627.7 170.1L629.7 170.1L631.7 170.1L633.7 170.0L635.7 169.6L637.7 168.3L639.7 166.7L641.7 164.9L643.7 163.0L645.7 161.1L647.7 158.9L649.7 156.5L651.7 154.0L653.7 151.8L655.7 150.2L657.7 149.4L659.7 149.5L661.7 150.1L663.7 151.1L665.7 152.2L667.7 153.4L669.7 154.4L671.7 154.9L673.7 154.9L675.7 153.8L677.7 152.3L679.7 150.6L681.7 148.9L683.7 147.2L685.7 145.2L687.7 143.2L689.7 141.2L691.7 139.7L693.7 139.0L695.7 138.9L697.7 139.2L699.7 139.7L701.7 140.3L703.7 140.9L705.7 141.3L707.7 141.3L709.7 140.0L711.7 136.2L713.7 131.3L715.7 126.9L717.7 124.4L719.7 122.6L721.7 121.2L723.7 120.6L725.7 121.0L727.7 122.4L729.7 124.4L731.7 126.6L733.7 128.7L735.7 130.6L737.7 132.7L739.7 134.8L741.7 137.1L743.7 139.4L745.7 141.9L747.7 144.6L749.7 147.4L749.7 147.5L749.7 457.5" fill="none" stroke="#000" stroke-width="1" stroke-linejoin="round"/><path d="M41.6 501.0L41.6 392.7L43.6 388.6L45.6 385.4L47.6 383.1L49.6 381.7L51.6 381.3L53.6 382.5L55.6 385.9L57.6 389.9L59.6 393.1L61.6 394.0L63.6 392.8L65.6 390.3L67.6 387.0L69.6 383.1L71.6 378.7L73.6 372.2L75.6 364.2L77.6 355.6L79.6 347.5L81.6 340.8L83.6 335.2L85.6 329.8L87.6 324.8L89.6 320.4L91.6 316.8L93.6 314.2L95.6 312.3L97.6 310.5L99.6 308.1L101.6 304.8L103.6 299.9L105.6 270.1L107.6 255.8L109.6 245.3L111.6 239.5L113.6 237.1L115.6 233.3L117.6 228.1L119.6 221.8L121.6 214.5L123.6 206.5L125.6 198.1L127.6 189.4L129.6 180.6L131.6 172.1L133.6 164.0L135.6 156.5L137.6 150.0L139.6 144.5L141.6 140.4L143.6 137.9L145.6 136.8L147.6 136.6L149.6 137.4L151.6 138.8L153.6 140.5L155.6 142.3L157.6 144.0L159.6 146.0L161.6 148.2L163.6 150.4L165.6 152.3L167.6 153.7L169.6 154.6L171.6 155.3L173.6 155.8L175.6 156.2L177.6 156.5L179.6 156.9L181.6 157.4L183.6 158.2L185.6 159.1L187.6 160.1L189.6 161.3L191.6 162.5L193.6 163.7L195.6 164.8L197.6 166.0L199.6 167.6L201.6 169.2L203.6 170.8L205.6 172.0L207.6 172.3L209.6 171.9L211.6 170.8L213.6 169.3L215.6 167.4L217.6 165.4L219.6 163.3L221.6 160.2L223.6 156.5L225.6 152.6L227.6 148.9L229.6 146.0L231.6 143.7L233.6 141.5L235.6 139.6L237.6 138.1L239.6 137.0L241.6 136.2L243.6 135.7L245.6 135.3L247.6 135.2L249.6 135.3L251.6 135.4L253.6 135.5L255.6 135.6L257.6 135.8L259.6 136.0L261.6 136.4L263.6 136.9L265.6 137.5L267.6 138.2L269.6 139.0L271.6 139.7L273.6 140.2L275.6 140.7L277.6 141.4L279.6 142.2L281.6 143.2L283.6 144.2L285.6 145.5L287.6 147.0L289.6 149.0L291.6 151.3L293.6 153.9L295.6 156.4L297.6 158.8L299.6 161.1L301.6 163.6L303.6 166.4L305.6 169.4L307.6 172.5L309.6 175.4L311.6 178.1L313.6 180.2L315.6 181.7L317.6 182.3L319.6 182.4L321.6 182.5L323.6 182.5L325.6 182.5L327.6 182.6L329.6 182.6L331.6 182.7L333.6 183.1L335.6 183.7L337.6 184.5L339.6 185.4L341.6 186.3L343.6 187.1L345.6 188.0L347.6 189.3L349.6 190.8L351.6 192.2L353.6 193.6L355.6 194.5L357.6 194.8L359.6 194.4L361.6 192.5L363.6 189.8L365.6 186.9L367.6 184.4L369.6 182.7L371.6 182.2L373.6 182.9L375.6 184.3L377.6 186.3L379.6 188.3L381.6 190.1L383.6 191.2L385.6 191.3L387.6 191.1L389.6 190.6L391.6 189.9L393.6 189.1L395.6 188.3L397.6 187.6L399.6 186.9L401.6 186.2L403.6 185.4L405.6 184.5L407.6 184.2L409.6 185.1L411.6 185.7L413.6 184.9L415.6 183.5L417.6 181.8L419.6 179.7L421.6 177.3L423.6 175.1L425.6 173.2L427.6 171.3L429.6 169.2L431.6 166.7L433.6 164.4L435.6 162.4L437.6 161.0L439.6 159.8L441.6 158.6L443.6 157.8L445.6 157.6L447.6 157.7L449.6 158.1L451.6 159.1L453.6 160.4L455.6 161.9L457.6 163.4L459.6 164.6L461.6 165.6L463.6 166.7L465.6 167.8L467.6 168.7L469.6 169.3L471.6 169.9L473.6 170.5L475.6 171.1L477.6 171.5L479.6 172.0L481.6 172.4L483.6 173.2L485.6 174.6L487.6 176.4L489.6 178.5L491.6 180.6L493.6 182.4L495.6 183.5L497.6 183.8L499.6 183.7L501.6 183.6L503.6 183.5L505.6 183.7L507.6 184.3L509.6 185.5L511.6 186.8L513.6 187.7L515.6 187.8L517.6 187.1L519.6 185.7L521.6 184.0L523.6 182.3L525.6 180.7L527.6 179.6L529.6 179.0L531.6 179.2L533.6 180.0L535.6 181.1L537.6 182.2L539.6 182.8L541.6 182.7L543.6 182.2L545.6 181.3L547.6 180.1L549.6 178.7L551.6 177.2L553.6 175.6L555.6 173.6L557.6 171.4L559.6 169.1L561.6 166.9L563.6 164.8L565.6 163.0L567.6 161.7L569.6 161.1L571.6 161.2L573.6 162.1L575.6 163.9L577.6 166.0L579.6 168.4L581.6 170.8L583.6 173.6L585.6 176.9L587.6 180.2L589.6 183.1L591.6 185.5L593.6 187.2L595.6 187.9L597.6 187.5L599.6 186.4L601.6 184.8L603.6 182.8L605.6 180.7L607.6 178.6L609.6 176.8L611.6 175.6L613.6 175.2L615.6 175.4L617.6 176.2L619.6 177.3L621.6 178.5L623.6 179.4L625.6 180.1L627.6 180.5L629.6 180.6L631.6 180.6L633.6 180.6L635.6 180.5L637.6 180.1L639.6 178.9L641.6 177.3L643.6 175.5L645.6 173.5L647.6 171.6L649.6 169.3L651.6 166.8L653.6 164.2L655.6 161.8L657.6 159.9L659.6 158.9L661.6 158.9L663.6 159.5L665.6 160.5L667.6 161.9L669.6 163.3L671.6 164.7L673.6 165.6L675.6 165.9L677.6 165.1L679.6 163.7L681.6 162.1L683.6 160.4L685.6 158.6L687.6 156.5L689.6 154.2L691.6 152.0L693.6 150.2L695.6 149.1L697.6 149.0L699.6 149.4L701.6 150.1L703.6 151.1L705.6 152.1L707.6 152.9L709.6 153.1L711.6 152.3L713.6 148.7L715.6 143.7L717.6 138.9L719.6 135.8L721.6 134.0L723.6 132.5L725.6 131.6L727.6 131.8L729.6 133.1L731.6 135.6L733.6 138.4L735.6 141.1L737.6 143.5L739.6 145.8L741.6 148.2L743.6 150.7L745.6 153.5L747.6 156.4L749.6 159.7L751.6 163.2L752.4 164.1L752.4 459.0L112 459.0L112 501.0L41.6 501.0Z" fill="#0055ff"/><path d="M41.6 459.0L41.6 392.7L43.6 388.6L45.6 385.4L47.6 383.1L49.6 381.7L51.6 381.3L53.6 382.5L55.6 385.9L57.6 389.9L59.6 393.1L61.6 394.0L63.6 392.8L65.6 390.3L67.6 387.0L69.6 383.1L71.6 378.7L73.6 372.2L75.6 364.2L77.6 355.6L79.6 347.5L81.6 340.8L83.6 335.2L85.6 329.8L87.6 324.8L89.6 320.4L91.6 316.8L93.6 314.2L95.6 312.3L97.6 310.5L99.6 308.1L101.6 304.8L103.6 299.9L105.6 270.1L107.6 255.8L109.6 245.3L111.6 239.5L113.6 237.1L115.6 233.3L117.6 228.1L119.6 221.8L121.6 214.5L123.6 206.5L125.6 198.1L127.6 189.4L129.6 180.6L131.6 172.1L133.6 164.0L135.6 156.5L137.6 150.0L139.6 144.5L141.6 140.4L143.6 137.9L145.6 136.8L147.6 136.6L149.6 137.4L151.6 138.8L153.6 140.5L155.6 142.3L157.6 144.0L159.6 146.0L161.6 148.2L163.6 150.4L165.6 152.3L167.6 153.7L169.6 154.6L171.6 155.3L173.6 155.8L175.6 156.2L177.6 156.5L179.6 156.9L181.6 157.4L183.6 158.2L185.6 159.1L187.6 160.1L189.6 161.3L191.6 162.5L193.6 163.7L195.6 164.8L197.6 166.0L199.6 167.6L201.6 169.2L203.6 170.8L205.6 172.0L207.6 172.3L209.6 171.9L211.6 170.8L213.6 169.3L215.6 167.4L217.6 165.4L219.6 163.3L221.6 160.2L223.6 156.5L225.6 152.6L227.6 148.9L229.6 146.0L231.6 143.7L233.6 141.5L235.6 139.6L237.6 138.1L239.6 137.0L241.6 136.2L243.6 135.7L245.6 135.3L247.6 135.2L249.6 135.3L251.6 135.4L253.6 135.5L255.6 135.6L257.6 135.8L259.6 136.0L261.6 136.4L263.6 136.9L265.6 137.5L267.6 138.2L269.6 139.0L271.6 139.7L273.6 140.2L275.6 140.7L277.6 141.4L279.6 142.2L281.6 143.2L283.6 144.2L285.6 145.5L287.6 147.0L289.6 149.0L291.6 151.3L293.6 153.9L295.6 156.4L297.6 158.8L299.6 161.1L301.6 163.6L303.6 166.4L305.6 169.4L307.6 172.5L309.6 175.4L311.6 178.1L313.6 180.2L315.6 181.7L317.6 182.3L319.6 182.4L321.6 182.5L323.6 182.5L325.6 182.5L327.6 182.6L329.6 182.6L331.6 182.7L333.6 183.1L335.6 183.7L337.6 184.5L339.6 185.4L341.6 186.3L343.6 187.1L345.6 188.0L347.6 189.3L349.6 190.8L351.6 192.2L353.6 193.6L355.6 194.5L357.6 194.8L359.6 194.4L361.6 192.5L363.6 189.8L365.6 186.9L367.6 184.4L369.6 182.7L371.6 182.2L373.6 182.9L375.6 184.3L377.6 186.3L379.6 188.3L381.6 190.1L383.6 191.2L385.6 191.3L387.6 191.1L389.6 190.6L391.6 189.9L393.6 189.1L395.6 188.3L397.6 187.6L399.6 186.9L401.6 186.2L403.6 185.4L405.6 184.5L407.6 184.2L409.6 185.1L411.6 185.7L413.6 184.9L415.6 183.5L417.6 181.8L419.6 179.7L421.6 177.3L423.6 175.1L425.6 173.2L427.6 171.3L429.6 169.2L431.6 166.7L433.6 164.4L435.6 162.4L437.6 161.0L439.6 159.8L441.6 158.6L443.6 157.8L445.6 157.6L447.6 157.7L449.6 158.1L451.6 159.1L453.6 160.4L455.6 161.9L457.6 163.4L459.6 164.6L461.6 165.6L463.6 166.7L465.6 167.8L467.6 168.7L469.6 169.3L471.6 169.9L473.6 170.5L475.6 171.1L477.6 171.5L479.6 172.0L481.6 172.4L483.6 173.2L485.6 174.6L487.6 176.4L489.6 178.5L491.6 180.6L493.6 182.4L495.6 183.5L497.6 183.8L499.6 183.7L501.6 183.6L503.6 183.5L505.6 183.7L507.6 184.3L509.6 185.5L511.6 186.8L513.6 187.7L515.6 187.8L517.6 187.1L519.6 185.7L521.6 184.0L523.6 182.3L525.6 180.7L527.6 179.6L529.6 179.0L531.6 179.2L533.6 180.0L535.6 181.1L537.6 182.2L539.6 182.8L541.6 182.7L543.6 182.2L545.6 181.3L547.6 180.1L549.6 178.7L551.6 177.2L553.6 175.6L555.6 173.6L557.6 171.4L559.6 169.1L561.6 166.9L563.6 164.8L565.6 163.0L567.6 161.7L569.6 161.1L571.6 161.2L573.6 162.1L575.6 163.9L577.6 166.0L579.6 168.4L581.6 170.8L583.6 173.6L585.6 176.9L587.6 180.2L589.6 183.1L591.6 185.5L593.6 187.2L595.6 187.9L597.6 187.5L599.6 186.4L601.6 184.8L603.6 182.8L605.6 180.7L607.6 178.6L609.6 176.8L611.6 175.6L613.6 175.2L615.6 175.4L617.6 176.2L619.6 177.3L621.6 178.5L623.6 179.4L625.6 180.1L627.6 180.5L629.6 180.6L631.6 180.6L633.6 180.6L635.6 180.5L637.6 180.1L639.6 178.9L641.6 177.3L643.6 175.5L645.6 173.5L647.6 171.6L649.6 169.3L651.6 166.8L653.6 164.2L655.6 161.8L657.6 159.9L659.6 158.9L661.6 158.9L663.6 159.5L665.6 160.5L667.6 161.9L669.6 163.3L671.6 164.7L673.6 165.6L675.6 165.9L677.6 165.1L679.6 163.7L681.6 162.1L683.6 160.4L685.6 158.6L687.6 156.5L689.6 154.2L691.6 152.0L693.6 150.2L695.6 149.1L697.6 149.0L699.6 149.4L701.6 150.1L703.6 151.1L705.6 152.1L707.6 152.9L709.6 153.1L711.6 152.3L713.6 148.7L715.6 143.7L717.6 138.9L719.6 135.8L721.6 134.0L723.6 132.5L725.6 131.6L727.6 131.8L729.6 133.1L731.6 135.6L733.6 138.4L735.6 141.1L737.6 143.5L739.6 145.8L741.6 148.2L743.6 150.7L745.6 153.5L747.6 156.4L749.6 159.7L751.6 163.2L752.4 164.1L752.4 459.0" fill="none" stroke="#000" stroke-width="1" stroke-linejoin="round"/><path d="M41.6 501.0L41.6 402.8L43.6 398.2L45.6 394.5L47.6 391.9L49.6 390.4L51.6 389.8L53.6 391.2L55.6 395.0L57.6 399.5L59.6 403.2L61.6 404.3L63.6 403.1L65.6 400.6L67.6 397.0L69.6 393.0L71.6 388.5L73.6 381.7L75.6 373.5L77.6 364.6L79.6 356.0L81.6 348.7L83.6 342.6L85.6 336.8L87.6 331.3L89.6 326.4L91.6 322.2L93.6 319.0L95.6 316.7L97.6 314.6L99.6 312.0L101.6 308.7L103.6 303.9L105.6 270.7L107.6 256.0L109.6 245.5L111.6 240.2L113.6 237.9L115.6 234.2L117.6 229.2L119.6 223.0L121.6 215.9L123.6 208.2L125.6 199.9L127.6 191.5L129.6 183.0L131.6 174.7L133.6 166.8L135.6 159.5L137.6 153.1L139.6 147.8L141.6 143.8L143.6 141.4L145.6 140.3L147.6 140.1L149.6 140.8L151.6 142.3L153.6 144.1L155.6 146.0L157.6 147.9L159.6 150.0L161.6 152.3L163.6 154.6L165.6 156.7L167.6 158.4L169.6 159.5L171.6 160.2L173.6 160.8L175.6 161.3L177.6 161.7L179.6 162.2L181.6 162.7L183.6 163.4L185.6 164.3L187.6 165.4L189.6 166.6L191.6 167.8L193.6 169.1L195.6 170.3L197.6 171.6L199.6 173.3L201.6 175.2L203.6 177.2L205.6 178.9L207.6 179.5L209.6 179.5L211.6 178.6L213.6 177.2L215.6 175.4L217.6 173.5L219.6 171.6L221.6 168.9L223.6 165.3L225.6 161.4L227.6 157.6L229.6 154.4L231.6 151.8L233.6 149.5L235.6 147.4L237.6 145.7L239.6 144.3L241.6 143.4L243.6 142.8L245.6 142.3L247.6 142.0L249.6 142.0L251.6 142.1L253.6 142.2L255.6 142.4L257.6 142.7L259.6 142.9L261.6 143.2L263.6 143.6L265.6 144.1L267.6 144.7L269.6 145.4L271.6 146.1L273.6 146.7L275.6 147.3L277.6 147.9L279.6 148.9L281.6 150.0L283.6 151.2L285.6 152.5L287.6 154.1L289.6 156.2L291.6 158.7L293.6 161.6L295.6 164.5L297.6 167.2L299.6 169.7L301.6 172.2L303.6 175.0L305.6 178.0L307.6 181.1L309.6 184.1L311.6 186.9L313.6 189.3L315.6 191.1L317.6 192.2L319.6 192.5L321.6 192.6L323.6 192.7L325.6 192.7L327.6 192.8L329.6 192.8L331.6 192.9L333.6 193.1L335.6 193.6L337.6 194.3L339.6 195.1L341.6 196.0L343.6 196.8L345.6 197.7L347.6 198.8L349.6 200.3L351.6 202.0L353.6 203.6L355.6 205.0L357.6 205.9L359.6 206.1L361.6 204.8L363.6 202.0L365.6 198.6L367.6 195.3L369.6 192.6L371.6 191.0L373.6 191.2L375.6 192.4L377.6 194.5L379.6 197.0L381.6 199.6L383.6 201.5L385.6 202.3L387.6 202.3L389.6 201.7L391.6 200.9L393.6 200.0L395.6 199.1L397.6 198.2L399.6 197.5L401.6 196.8L403.6 196.1L405.6 195.2L407.6 194.6L409.6 195.0L411.6 197.2L413.6 198.1L415.6 197.1L417.6 195.7L419.6 193.9L421.6 191.2L423.6 188.3L425.6 185.9L427.6 184.0L429.6 182.2L431.6 180.0L433.6 177.7L435.6 175.4L437.6 173.5L439.6 172.1L441.6 170.7L443.6 169.3L445.6 168.6L447.6 168.4L449.6 168.6L451.6 169.3L453.6 170.4L455.6 172.0L457.6 173.7L459.6 175.4L461.6 176.8L463.6 178.1L465.6 179.5L467.6 180.9L469.6 182.1L471.6 183.1L473.6 183.9L475.6 184.5L477.6 184.8L479.6 185.0L481.6 184.9L483.6 184.8L485.6 185.3L487.6 186.7L489.6 188.7L491.6 191.1L493.6 193.5L495.6 195.6L497.6 196.9L499.6 197.1L501.6 196.9L503.6 196.6L505.6 196.4L507.6 196.5L509.6 197.5L511.6 198.9L513.6 200.5L515.6 201.6L517.6 201.5L519.6 200.6L521.6 198.9L523.6 196.8L525.6 194.8L527.6 192.9L529.6 191.6L531.6 191.1L533.6 191.3L535.6 192.5L537.6 194.1L539.6 195.7L541.6 196.7L543.6 196.5L545.6 195.9L547.6 194.8L549.6 193.4L551.6 191.8L553.6 190.0L555.6 188.1L557.6 185.9L559.6 183.4L561.6 180.8L563.6 178.3L565.6 175.9L567.6 174.0L569.6 172.5L571.6 171.7L573.6 171.9L575.6 173.0L577.6 174.9L579.6 177.4L581.6 180.1L583.6 182.9L585.6 186.1L587.6 189.8L589.6 193.3L591.6 196.3L593.6 198.6L595.6 200.2L597.6 201.0L599.6 200.7L601.6 199.3L603.6 197.3L605.6 195.0L607.6 192.7L609.6 190.4L611.6 188.5L613.6 187.0L615.6 186.6L617.6 186.7L619.6 187.7L621.6 189.1L623.6 190.6L625.6 192.0L627.6 193.1L629.6 193.8L631.6 194.1L633.6 194.1L635.6 194.0L637.6 193.9L639.6 193.4L641.6 192.3L643.6 190.7L645.6 188.8L647.6 186.8L649.6 184.8L651.6 182.5L653.6 179.7L655.6 176.9L657.6 174.3L659.6 172.2L661.6 170.9L663.6 170.7L665.6 171.3L667.6 172.5L669.6 174.1L671.6 175.9L673.6 177.7L675.6 179.2L677.6 179.7L679.6 179.6L681.6 178.2L683.6 176.6L685.6 174.8L687.6 172.9L689.6 170.7L691.6 168.2L693.6 165.7L695.6 163.6L697.6 162.1L699.6 161.9L701.6 162.1L703.6 163.3L705.6 164.7L707.6 166.3L709.6 167.7L711.6 168.3L713.6 167.8L715.6 164.5L717.6 159.4L719.6 154.0L721.6 150.2L723.6 148.2L725.6 146.7L727.6 145.6L729.6 145.5L731.6 146.7L733.6 149.5L735.6 153.1L737.6 156.7L739.6 159.7L741.6 162.4L743.6 165.2L745.6 168.1L747.6 171.3L749.6 174.8L751.6 178.8L753.6 183.2L755.1 186.9L755.1 460.5L112 460.5L112 501.0L41.6 501.0Z" fill="#0055ff"/><path d="M41.6 460.5L41.6 402.8L43.6 398.2L45.6 394.5L47.6 391.9L49.6 390.4L51.6 389.8L53.6 391.2L55.6 395.0L57.6 399.5L59.6 403.2L61.6 404.3L63.6 403.1L65.6 400.6L67.6 397.0L69.6 393.0L71.6 388.5L73.6 381.7L75.6 373.5L77.6 364.6L79.6 356.0L81.6 348.7L83.6 342.6L85.6 336.8L87.6 331.3L89.6 326.4L91.6 322.2L93.6 319.0L95.6 316.7L97.6 314.6L99.6 312.0L101.6 308.7L103.6 303.9L105.6 270.7L107.6 256.0L109.6 245.5L111.6 240.2L113.6 237.9L115.6 234.2L117.6 229.2L119.6 223.0L121.6 215.9L123.6 208.2L125.6 199.9L127.6 191.5L129.6 183.0L131.6 174.7L133.6 166.8L135.6 159.5L137.6 153.1L139.6 147.8L141.6 143.8L143.6 141.4L145.6 140.3L147.6 140.1L149.6 140.8L151.6 142.3L153.6 144.1L155.6 146.0L157.6 147.9L159.6 150.0L161.6 152.3L163.6 154.6L165.6 156.7L167.6 158.4L169.6 159.5L171.6 160.2L173.6 160.8L175.6 161.3L177.6 161.7L179.6 162.2L181.6 162.7L183.6 163.4L185.6 164.3L187.6 165.4L189.6 166.6L191.6 167.8L193.6 169.1L195.6 170.3L197.6 171.6L199.6 173.3L201.6 175.2L203.6 177.2L205.6 178.9L207.6 179.5L209.6 179.5L211.6 178.6L213.6 177.2L215.6 175.4L217.6 173.5L219.6 171.6L221.6 168.9L223.6 165.3L225.6 161.4L227.6 157.6L229.6 154.4L231.6 151.8L233.6 149.5L235.6 147.4L237.6 145.7L239.6 144.3L241.6 143.4L243.6 142.8L245.6 142.3L247.6 142.0L249.6 142.0L251.6 142.1L253.6 142.2L255.6 142.4L257.6 142.7L259.6 142.9L261.6 143.2L263.6 143.6L265.6 144.1L267.6 144.7L269.6 145.4L271.6 146.1L273.6 146.7L275.6 147.3L277.6 147.9L279.6 148.9L281.6 150.0L283.6 151.2L285.6 152.5L287.6 154.1L289.6 156.2L291.6 158.7L293.6 161.6L295.6 164.5L297.6 167.2L299.6 169.7L301.6 172.2L303.6 175.0L305.6 178.0L307.6 181.1L309.6 184.1L311.6 186.9L313.6 189.3L315.6 191.1L317.6 192.2L319.6 192.5L321.6 192.6L323.6 192.7L325.6 192.7L327.6 192.8L329.6 192.8L331.6 192.9L333.6 193.1L335.6 193.6L337.6 194.3L339.6 195.1L341.6 196.0L343.6 196.8L345.6 197.7L347.6 198.8L349.6 200.3L351.6 202.0L353.6 203.6L355.6 205.0L357.6 205.9L359.6 206.1L361.6 204.8L363.6 202.0L365.6 198.6L367.6 195.3L369.6 192.6L371.6 191.0L373.6 191.2L375.6 192.4L377.6 194.5L379.6 197.0L381.6 199.6L383.6 201.5L385.6 202.3L387.6 202.3L389.6 201.7L391.6 200.9L393.6 200.0L395.6 199.1L397.6 198.2L399.6 197.5L401.6 196.8L403.6 196.1L405.6 195.2L407.6 194.6L409.6 195.0L411.6 197.2L413.6 198.1L415.6 197.1L417.6 195.7L419.6 193.9L421.6 191.2L423.6 188.3L425.6 185.9L427.6 184.0L429.6 182.2L431.6 180.0L433.6 177.7L435.6 175.4L437.6 173.5L439.6 172.1L441.6 170.7L443.6 169.3L445.6 168.6L447.6 168.4L449.6 168.6L451.6 169.3L453.6 170.4L455.6 172.0L457.6 173.7L459.6 175.4L461.6 176.8L463.6 178.1L465.6 179.5L467.6 180.9L469.6 182.1L471.6 183.1L473.6 183.9L475.6 184.5L477.6 184.8L479.6 185.0L481.6 184.9L483.6 184.8L485.6 185.3L487.6 186.7L489.6 188.7L491.6 191.1L493.6 193.5L495.6 195.6L497.6 196.9L499.6 197.1L501.6 196.9L503.6 196.6L505.6 196.4L507.6 196.5L509.6 197.5L511.6 198.9L513.6 200.5L515.6 201.6L517.6 201.5L519.6 200.6L521.6 198.9L523.6 196.8L525.6 194.8L527.6 192.9L529.6 191.6L531.6 191.1L533.6 191.3L535.6 192.5L537.6 194.1L539.6 195.7L541.6 196.7L543.6 196.5L545.6 195.9L547.6 194.8L549.6 193.4L551.6 191.8L553.6 190.0L555.6 188.1L557.6 185.9L559.6 183.4L561.6 180.8L563.6 178.3L565.6 175.9L567.6 174.0L569.6 172.5L571.6 171.7L573.6 171.9L575.6 173.0L577.6 174.9L579.6 177.4L581.6 180.1L583.6 182.9L585.6 186.1L587.6 189.8L589.6 193.3L591.6 196.3L593.6 198.6L595.6 200.2L597.6 201.0L599.6 200.7L601.6 199.3L603.6 197.3L605.6 195.0L607.6 192.7L609.6 190.4L611.6 188.5L613.6 187.0L615.6 186.6L617.6 186.7L619.6 187.7L621.6 189.1L623.6 190.6L625.6 192.0L627.6 193.1L629.6 193.8L631.6 194.1L633.6 194.1L635.6 194.0L637.6 193.9L639.6 193.4L641.6 192.3L643.6 190.7L645.6 188.8L647.6 186.8L649.6 184.8L651.6 182.5L653.6 179.7L655.6 176.9L657.6 174.3L659.6 172.2L661.6 170.9L663.6 170.7L665.6 171.3L667.6 172.5L669.6 174.1L671.6 175.9L673.6 177.7L675.6 179.2L677.6 179.7L679.6 179.6L681.6 178.2L683.6 176.6L685.6 174.8L687.6 172.9L689.6 170.7L691.6 168.2L693.6 165.7L695.6 163.6L697.6 162.1L699.6 161.9L701.6 162.1L703.6 163.3L705.6 164.7L707.6 166.3L709.6 167.7L711.6 168.3L713.6 167.8L715.6 164.5L717.6 159.4L719.6 154.0L721.6 150.2L723.6 148.2L725.6 146.7L727.6 145.6L729.6 145.5L731.6 146.7L733.6 149.5L735.6 153.1L737.6 156.7L739.6 159.7L741.6 162.4L743.6 165.2L745.6 168.1L747.6 171.3L749.6 174.8L751.6 178.8L753.6 183.2L755.1 186.9L755.1 460.5" fill="none" stroke="#000" stroke-width="1" stroke-linejoin="round"/><path d="M41.6 501.0L41.6 413.0L43.6 407.9L45.6 403.8L47.6 400.9L49.6 399.2L51.6 398.5L53.6 400.0L55.6 404.1L57.6 409.2L59.6 413.4L61.6 414.8L63.6 413.6L65.6 410.9L67.6 407.2L69.6 403.0L71.6 398.3L73.6 391.5L75.6 382.9L77.6 373.7L79.6 364.7L81.6 356.8L83.6 350.3L85.6 343.9L87.6 337.9L89.6 332.5L91.6 327.9L93.6 324.1L95.6 321.3L97.6 318.8L99.6 316.0L101.6 312.7L103.6 307.2L105.6 271.3L107.6 256.2L109.6 245.8L111.6 241.0L113.6 238.8L115.6 235.2L117.6 230.3L119.6 224.4L121.6 217.5L123.6 210.0L125.6 202.0L127.6 193.8L129.6 185.6L131.6 177.6L133.6 169.9L135.6 162.9L137.6 156.7L139.6 151.6L141.6 147.7L143.6 145.3L145.6 144.3L147.6 144.1L149.6 144.6L151.6 146.2L153.6 148.2L155.6 150.3L157.6 152.4L159.6 154.5L161.6 156.9L163.6 159.3L165.6 161.6L167.6 163.5L169.6 164.8L171.6 165.8L173.6 166.5L175.6 167.0L177.6 167.5L179.6 168.0L181.6 168.6L183.6 169.3L185.6 170.3L187.6 171.4L189.6 172.6L191.6 173.9L193.6 175.2L195.6 176.6L197.6 178.0L199.6 179.8L201.6 182.0L203.6 184.4L205.6 186.5L207.6 187.8L209.6 188.0L211.6 187.4L213.6 186.1L215.6 184.5L217.6 182.7L219.6 180.9L221.6 178.5L223.6 175.3L225.6 171.4L227.6 167.5L229.6 164.0L231.6 161.1L233.6 158.7L235.6 156.4L237.6 154.5L239.6 152.8L241.6 151.7L243.6 150.9L245.6 150.2L247.6 149.7L249.6 149.5L251.6 149.5L253.6 149.7L255.6 150.1L257.6 150.4L259.6 150.8L261.6 151.2L263.6 151.6L265.6 152.0L267.6 152.6L269.6 153.2L271.6 153.9L273.6 154.5L275.6 155.2L277.6 155.9L279.6 157.0L281.6 158.3L283.6 159.7L285.6 161.3L287.6 163.1L289.6 165.3L291.6 168.0L293.6 171.3L295.6 174.7L297.6 177.8L299.6 180.6L301.6 183.3L303.6 186.1L305.6 189.1L307.6 192.2L309.6 195.3L311.6 198.2L313.6 200.8L315.6 202.9L317.6 204.4L319.6 205.1L321.6 205.3L323.6 205.4L325.6 205.5L327.6 205.6L329.6 205.7L331.6 205.7L333.6 205.8L335.6 206.2L337.6 206.7L339.6 207.5L341.6 208.3L343.6 209.2L345.6 210.0L347.6 210.9L349.6 212.3L351.6 214.1L353.6 216.1L355.6 218.0L357.6 219.5L359.6 220.3L361.6 219.7L363.6 217.4L365.6 213.8L367.6 209.7L369.6 205.9L371.6 203.1L373.6 202.2L375.6 202.6L377.6 204.7L379.6 207.6L381.6 211.0L383.6 214.0L385.6 216.0L387.6 216.4L389.6 216.0L391.6 215.1L393.6 214.0L395.6 212.8L397.6 211.7L399.6 210.8L401.6 210.1L403.6 209.5L405.6 208.7L407.6 208.0L409.6 207.4L411.6 209.7L413.6 213.3L415.6 213.7L417.6 212.8L419.6 211.4L421.6 209.1L423.6 205.6L425.6 202.0L427.6 199.4L429.6 197.5L431.6 195.6L433.6 193.5L435.6 191.2L437.6 189.1L439.6 187.2L441.6 185.7L443.6 183.8L445.6 182.3L447.6 181.7L449.6 181.7L451.6 182.1L453.6 183.0L455.6 184.3L457.6 186.1L459.6 188.1L461.6 190.1L463.6 191.8L465.6 193.4L467.6 195.2L469.6 197.1L471.6 198.8L473.6 200.3L475.6 201.3L477.6 201.7L479.6 201.7L481.6 201.5L483.6 200.7L485.6 200.0L487.6 200.0L489.6 201.4L491.6 203.8L493.6 206.6L495.6 209.5L497.6 212.0L499.6 213.5L501.6 213.5L503.6 213.0L505.6 212.4L507.6 212.1L509.6 212.3L511.6 213.6L513.6 215.5L515.6 217.5L517.6 218.6L519.6 218.7L521.6 217.3L523.6 215.2L525.6 212.6L527.6 210.1L529.6 207.9L531.6 206.3L533.6 205.9L535.6 206.3L537.6 208.0L539.6 210.3L541.6 212.5L543.6 213.7L545.6 213.7L547.6 212.8L549.6 211.4L551.6 209.7L553.6 207.8L555.6 205.7L557.6 203.5L559.6 200.9L561.6 198.0L563.6 195.1L565.6 192.2L567.6 189.6L569.6 187.4L571.6 185.7L573.6 184.9L575.6 184.9L577.6 186.2L579.6 188.5L581.6 191.3L583.6 194.5L585.6 197.6L587.6 201.4L589.6 205.6L591.6 209.7L593.6 212.8L595.6 214.9L597.6 216.6L599.6 217.2L601.6 217.0L603.6 215.2L605.6 212.8L607.6 210.0L609.6 207.4L611.6 204.9L613.6 202.7L615.6 201.0L617.6 200.4L619.6 200.6L621.6 201.7L623.6 203.4L625.6 205.4L627.6 207.4L629.6 209.0L631.6 210.2L633.6 210.8L635.6 210.7L637.6 210.6L639.6 210.4L641.6 209.9L643.6 208.8L645.6 207.1L647.6 205.2L649.6 203.0L651.6 200.8L653.6 198.4L655.6 195.5L657.6 192.5L659.6 189.6L661.6 187.2L663.6 185.6L665.6 185.2L667.6 185.8L669.6 187.1L671.6 189.1L673.6 191.3L675.6 193.6L677.6 195.7L679.6 197.0L681.6 197.2L683.6 196.1L685.6 194.4L687.6 192.6L689.6 190.4L691.6 188.0L693.6 185.3L695.6 182.5L697.6 180.0L699.6 178.1L701.6 177.5L703.6 177.8L705.6 179.1L707.6 181.2L709.6 183.6L711.6 185.8L713.6 186.9L715.6 186.8L717.6 183.9L719.6 178.5L721.6 172.6L723.6 167.8L725.6 165.5L727.6 164.0L729.6 162.7L731.6 162.5L733.6 163.2L735.6 166.3L737.6 170.7L739.6 175.3L741.6 179.3L743.6 182.7L745.6 185.9L747.6 189.3L749.6 193.0L751.6 197.3L753.6 202.2L755.6 207.6L757.6 213.7L757.8 214.4L757.8 462.0L112 462.0L112 501.0L41.6 501.0Z" fill="#0055ff"/><path d="M41.6 462.0L41.6 413.0L43.6 407.9L45.6 403.8L47.6 400.9L49.6 399.2L51.6 398.5L53.6 400.0L55.6 404.1L57.6 409.2L59.6 413.4L61.6 414.8L63.6 413.6L65.6 410.9L67.6 407.2L69.6 403.0L71.6 398.3L73.6 391.5L75.6 382.9L77.6 373.7L79.6 364.7L81.6 356.8L83.6 350.3L85.6 343.9L87.6 337.9L89.6 332.5L91.6 327.9L93.6 324.1L95.6 321.3L97.6 318.8L99.6 316.0L101.6 312.7L103.6 307.2L105.6 271.3L107.6 256.2L109.6 245.8L111.6 241.0L113.6 238.8L115.6 235.2L117.6 230.3L119.6 224.4L121.6 217.5L123.6 210.0L125.6 202.0L127.6 193.8L129.6 185.6L131.6 177.6L133.6 169.9L135.6 162.9L137.6 156.7L139.6 151.6L141.6 147.7L143.6 145.3L145.6 144.3L147.6 144.1L149.6 144.6L151.6 146.2L153.6 148.2L155.6 150.3L157.6 152.4L159.6 154.5L161.6 156.9L163.6 159.3L165.6 161.6L167.6 163.5L169.6 164.8L171.6 165.8L173.6 166.5L175.6 167.0L177.6 167.5L179.6 168.0L181.6 168.6L183.6 169.3L185.6 170.3L187.6 171.4L189.6 172.6L191.6 173.9L193.6 175.2L195.6 176.6L197.6 178.0L199.6 179.8L201.6 182.0L203.6 184.4L205.6 186.5L207.6 187.8L209.6 188.0L211.6 187.4L213.6 186.1L215.6 184.5L217.6 182.7L219.6 180.9L221.6 178.5L223.6 175.3L225.6 171.4L227.6 167.5L229.6 164.0L231.6 161.1L233.6 158.7L235.6 156.4L237.6 154.5L239.6 152.8L241.6 151.7L243.6 150.9L245.6 150.2L247.6 149.7L249.6 149.5L251.6 149.5L253.6 149.7L255.6 150.1L257.6 150.4L259.6 150.8L261.6 151.2L263.6 151.6L265.6 152.0L267.6 152.6L269.6 153.2L271.6 153.9L273.6 154.5L275.6 155.2L277.6 155.9L279.6 157.0L281.6 158.3L283.6 159.7L285.6 161.3L287.6 163.1L289.6 165.3L291.6 168.0L293.6 171.3L295.6 174.7L297.6 177.8L299.6 180.6L301.6 183.3L303.6 186.1L305.6 189.1L307.6 192.2L309.6 195.3L311.6 198.2L313.6 200.8L315.6 202.9L317.6 204.4L319.6 205.1L321.6 205.3L323.6 205.4L325.6 205.5L327.6 205.6L329.6 205.7L331.6 205.7L333.6 205.8L335.6 206.2L337.6 206.7L339.6 207.5L341.6 208.3L343.6 209.2L345.6 210.0L347.6 210.9L349.6 212.3L351.6 214.1L353.6 216.1L355.6 218.0L357.6 219.5L359.6 220.3L361.6 219.7L363.6 217.4L365.6 213.8L367.6 209.7L369.6 205.9L371.6 203.1L373.6 202.2L375.6 202.6L377.6 204.7L379.6 207.6L381.6 211.0L383.6 214.0L385.6 216.0L387.6 216.4L389.6 216.0L391.6 215.1L393.6 214.0L395.6 212.8L397.6 211.7L399.6 210.8L401.6 210.1L403.6 209.5L405.6 208.7L407.6 208.0L409.6 207.4L411.6 209.7L413.6 213.3L415.6 213.7L417.6 212.8L419.6 211.4L421.6 209.1L423.6 205.6L425.6 202.0L427.6 199.4L429.6 197.5L431.6 195.6L433.6 193.5L435.6 191.2L437.6 189.1L439.6 187.2L441.6 185.7L443.6 183.8L445.6 182.3L447.6 181.7L449.6 181.7L451.6 182.1L453.6 183.0L455.6 184.3L457.6 186.1L459.6 188.1L461.6 190.1L463.6 191.8L465.6 193.4L467.6 195.2L469.6 197.1L471.6 198.8L473.6 200.3L475.6 201.3L477.6 201.7L479.6 201.7L481.6 201.5L483.6 200.7L485.6 200.0L487.6 200.0L489.6 201.4L491.6 203.8L493.6 206.6L495.6 209.5L497.6 212.0L499.6 213.5L501.6 213.5L503.6 213.0L505.6 212.4L507.6 212.1L509.6 212.3L511.6 213.6L513.6 215.5L515.6 217.5L517.6 218.6L519.6 218.7L521.6 217.3L523.6 215.2L525.6 212.6L527.6 210.1L529.6 207.9L531.6 206.3L533.6 205.9L535.6 206.3L537.6 208.0L539.6 210.3L541.6 212.5L543.6 213.7L545.6 213.7L547.6 212.8L549.6 211.4L551.6 209.7L553.6 207.8L555.6 205.7L557.6 203.5L559.6 200.9L561.6 198.0L563.6 195.1L565.6 192.2L567.6 189.6L569.6 187.4L571.6 185.7L573.6 184.9L575.6 184.9L577.6 186.2L579.6 188.5L581.6 191.3L583.6 194.5L585.6 197.6L587.6 201.4L589.6 205.6L591.6 209.7L593.6 212.8L595.6 214.9L597.6 216.6L599.6 217.2L601.6 217.0L603.6 215.2L605.6 212.8L607.6 210.0L609.6 207.4L611.6 204.9L613.6 202.7L615.6 201.0L617.6 200.4L619.6 200.6L621.6 201.7L623.6 203.4L625.6 205.4L627.6 207.4L629.6 209.0L631.6 210.2L633.6 210.8L635.6 210.7L637.6 210.6L639.6 210.4L641.6 209.9L643.6 208.8L645.6 207.1L647.6 205.2L649.6 203.0L651.6 200.8L653.6 198.4L655.6 195.5L657.6 192.5L659.6 189.6L661.6 187.2L663.6 185.6L665.6 185.2L667.6 185.8L669.6 187.1L671.6 189.1L673.6 191.3L675.6 193.6L677.6 195.7L679.6 197.0L681.6 197.2L683.6 196.1L685.6 194.4L687.6 192.6L689.6 190.4L691.6 188.0L693.6 185.3L695.6 182.5L697.6 180.0L699.6 178.1L701.6 177.5L703.6 177.8L705.6 179.1L707.6 181.2L709.6 183.6L711.6 185.8L713.6 186.9L715.6 186.8L717.6 183.9L719.6 178.5L721.6 172.6L723.6 167.8L725.6 165.5L727.6 164.0L729.6 162.7L731.6 162.5L733.6 163.2L735.6 166.3L737.6 170.7L739.6 175.3L741.6 179.3L743.6 182.7L745.6 185.9L747.6 189.3L749.6 193.0L751.6 197.3L753.6 202.2L755.6 207.6L757.6 213.7L757.8 214.4L757.8 462.0" fill="none" stroke="#000" stroke-width="1" stroke-linejoin="round"/><path d="M41.5 501.0L41.5 423.5L43.5 417.8L45.5 413.2L47.5 410.0L49.5 408.1L51.5 407.4L53.5 408.9L55.5 413.5L57.5 419.1L59.5 423.7L61.5 425.4L63.5 424.3L65.5 421.5L67.5 417.6L69.5 413.2L71.5 408.4L73.5 401.3L75.5 392.6L77.5 383.0L79.5 373.5L81.5 365.1L83.5 358.1L85.5 351.3L87.5 344.8L89.5 338.9L91.5 333.7L93.5 329.4L95.5 326.1L97.5 323.2L99.5 320.2L101.5 316.7L103.5 308.9L105.5 271.9L107.5 256.4L109.5 246.1L111.5 242.0L113.5 240.0L115.5 236.5L117.5 231.8L119.5 226.1L121.5 219.4L123.5 212.2L125.5 204.5L127.5 196.6L129.5 188.6L131.5 180.8L133.5 173.5L135.5 166.7L137.5 160.8L139.5 155.8L141.5 152.1L143.5 149.8L145.5 148.9L147.5 148.4L149.5 148.9L151.5 150.6L153.5 152.7L155.5 155.0L157.5 157.3L159.5 159.5L161.5 162.0L163.5 164.6L165.5 167.0L167.5 169.2L169.5 170.7L171.5 171.9L173.5 172.7L175.5 173.4L177.5 174.0L179.5 174.5L181.5 175.2L183.5 175.9L185.5 176.9L187.5 178.1L189.5 179.3L191.5 180.7L193.5 182.1L195.5 183.6L197.5 185.1L199.5 187.0L201.5 189.5L203.5 192.3L205.5 195.0L207.5 197.0L209.5 197.7L211.5 197.2L213.5 196.2L215.5 194.8L217.5 193.1L219.5 191.3L221.5 189.2L223.5 186.4L225.5 182.7L227.5 178.8L229.5 175.1L231.5 172.0L233.5 169.4L235.5 167.0L237.5 164.9L239.5 163.1L241.5 161.8L243.5 161.0L245.5 160.2L247.5 159.7L249.5 159.4L251.5 159.4L253.5 159.5L255.5 159.8L257.5 160.1L259.5 160.5L261.5 160.8L263.5 161.2L265.5 161.5L267.5 162.0L269.5 162.5L271.5 163.2L273.5 163.9L275.5 164.6L277.5 165.5L279.5 166.7L281.5 168.2L283.5 170.0L285.5 171.8L287.5 173.9L289.5 176.4L291.5 179.3L293.5 182.9L295.5 186.9L297.5 190.7L299.5 193.9L301.5 197.0L303.5 199.9L305.5 202.9L307.5 206.1L309.5 209.3L311.5 212.3L313.5 215.0L315.5 217.3L317.5 219.2L319.5 220.3L321.5 220.7L323.5 220.9L325.5 221.0L327.5 221.2L329.5 221.3L331.5 221.4L333.5 221.5L335.5 221.6L337.5 222.1L339.5 222.7L341.5 223.5L343.5 224.3L345.5 225.2L347.5 226.0L349.5 227.1L351.5 228.9L353.5 231.2L355.5 233.6L357.5 235.7L359.5 237.3L361.5 237.5L363.5 236.4L365.5 232.7L367.5 227.9L369.5 223.1L371.5 219.0L373.5 216.3L375.5 215.8L377.5 217.3L379.5 220.3L381.5 224.3L383.5 228.5L385.5 232.0L387.5 233.5L389.5 233.6L391.5 232.7L393.5 231.5L395.5 230.0L397.5 228.6L399.5 227.3L401.5 226.4L403.5 225.8L405.5 225.2L407.5 224.5L409.5 223.6L411.5 224.4L413.5 228.7L415.5 232.8L417.5 233.5L419.5 232.2L421.5 230.7L423.5 227.9L425.5 222.9L427.5 218.5L429.5 215.8L431.5 213.9L433.5 211.9L435.5 209.8L437.5 207.6L439.5 205.5L441.5 203.7L443.5 201.8L445.5 199.6L447.5 197.9L449.5 197.4L451.5 197.6L453.5 198.2L455.5 199.4L457.5 201.0L459.5 203.1L461.5 205.5L463.5 207.7L465.5 209.7L467.5 211.8L469.5 214.1L471.5 216.6L473.5 219.0L475.5 221.1L477.5 222.3L479.5 222.5L481.5 222.1L483.5 221.3L485.5 219.4L487.5 217.7L489.5 217.7L491.5 219.1L493.5 221.9L495.5 225.2L497.5 228.8L499.5 231.8L501.5 233.4L503.5 233.5L505.5 232.4L507.5 231.3L509.5 230.7L511.5 231.3L513.5 233.0L515.5 235.5L517.5 238.0L519.5 239.4L521.5 239.3L523.5 237.5L525.5 234.7L527.5 231.6L529.5 228.5L531.5 225.8L533.5 224.0L535.5 223.3L537.5 224.3L539.5 226.6L541.5 229.8L543.5 233.0L545.5 234.4L547.5 234.3L549.5 233.2L551.5 231.5L553.5 229.3L555.5 226.9L557.5 224.4L559.5 221.9L561.5 218.8L563.5 215.5L565.5 212.1L567.5 208.8L569.5 205.8L571.5 203.3L573.5 201.5L575.5 200.5L577.5 200.5L579.5 201.9L581.5 204.6L583.5 207.9L585.5 211.6L587.5 215.2L589.5 219.7L591.5 224.6L593.5 229.4L595.5 232.6L597.5 234.7L599.5 236.3L601.5 236.9L603.5 236.7L605.5 234.5L607.5 231.3L609.5 228.0L611.5 225.0L613.5 222.2L615.5 219.7L617.5 217.8L619.5 216.9L621.5 217.1L623.5 218.4L625.5 220.5L627.5 223.1L629.5 225.8L631.5 228.2L633.5 230.0L635.5 230.9L637.5 230.9L639.5 230.7L641.5 230.4L643.5 229.8L645.5 228.5L647.5 226.8L649.5 224.7L651.5 222.4L653.5 220.1L655.5 217.5L657.5 214.4L659.5 211.1L661.5 207.9L663.5 205.2L665.5 203.3L667.5 202.5L669.5 203.1L671.5 204.6L673.5 206.9L675.5 209.7L677.5 212.7L679.5 215.4L681.5 217.6L683.5 218.2L685.5 217.7L687.5 215.9L689.5 213.8L691.5 211.4L693.5 208.8L695.5 205.8L697.5 202.6L699.5 199.7L701.5 197.4L703.5 196.2L705.5 196.4L707.5 198.0L709.5 200.7L711.5 204.0L713.5 207.2L715.5 209.4L717.5 209.8L719.5 207.2L721.5 201.6L723.5 194.9L725.5 189.1L727.5 186.2L729.5 184.6L731.5 183.3L733.5 182.7L735.5 183.1L737.5 186.2L739.5 191.3L741.5 197.2L743.5 202.5L745.5 206.7L747.5 210.7L749.5 214.6L751.5 218.9L753.5 224.0L755.5 229.8L757.5 236.4L759.5 243.9L760.5 247.8L760.5 463.5L112 463.5L112 501.0L41.5 501.0Z" fill="#0055ff"/><path d="M41.5 463.5L41.5 423.5L43.5 417.8L45.5 413.2L47.5 410.0L49.5 408.1L51.5 407.4L53.5 408.9L55.5 413.5L57.5 419.1L59.5 423.7L61.5 425.4L63.5 424.3L65.5 421.5L67.5 417.6L69.5 413.2L71.5 408.4L73.5 401.3L75.5 392.6L77.5 383.0L79.5 373.5L81.5 365.1L83.5 358.1L85.5 351.3L87.5 344.8L89.5 338.9L91.5 333.7L93.5 329.4L95.5 326.1L97.5 323.2L99.5 320.2L101.5 316.7L103.5 308.9L105.5 271.9L107.5 256.4L109.5 246.1L111.5 242.0L113.5 240.0L115.5 236.5L117.5 231.8L119.5 226.1L121.5 219.4L123.5 212.2L125.5 204.5L127.5 196.6L129.5 188.6L131.5 180.8L133.5 173.5L135.5 166.7L137.5 160.8L139.5 155.8L141.5 152.1L143.5 149.8L145.5 148.9L147.5 148.4L149.5 148.9L151.5 150.6L153.5 152.7L155.5 155.0L157.5 157.3L159.5 159.5L161.5 162.0L163.5 164.6L165.5 167.0L167.5 169.2L169.5 170.7L171.5 171.9L173.5 172.7L175.5 173.4L177.5 174.0L179.5 174.5L181.5 175.2L183.5 175.9L185.5 176.9L187.5 178.1L189.5 179.3L191.5 180.7L193.5 182.1L195.5 183.6L197.5 185.1L199.5 187.0L201.5 189.5L203.5 192.3L205.5 195.0L207.5 197.0L209.5 197.7L211.5 197.2L213.5 196.2L215.5 194.8L217.5 193.1L219.5 191.3L221.5 189.2L223.5 186.4L225.5 182.7L227.5 178.8L229.5 175.1L231.5 172.0L233.5 169.4L235.5 167.0L237.5 164.9L239.5 163.1L241.5 161.8L243.5 161.0L245.5 160.2L247.5 159.7L249.5 159.4L251.5 159.4L253.5 159.5L255.5 159.8L257.5 160.1L259.5 160.5L261.5 160.8L263.5 161.2L265.5 161.5L267.5 162.0L269.5 162.5L271.5 163.2L273.5 163.9L275.5 164.6L277.5 165.5L279.5 166.7L281.5 168.2L283.5 170.0L285.5 171.8L287.5 173.9L289.5 176.4L291.5 179.3L293.5 182.9L295.5 186.9L297.5 190.7L299.5 193.9L301.5 197.0L303.5 199.9L305.5 202.9L307.5 206.1L309.5 209.3L311.5 212.3L313.5 215.0L315.5 217.3L317.5 219.2L319.5 220.3L321.5 220.7L323.5 220.9L325.5 221.0L327.5 221.2L329.5 221.3L331.5 221.4L333.5 221.5L335.5 221.6L337.5 222.1L339.5 222.7L341.5 223.5L343.5 224.3L345.5 225.2L347.5 226.0L349.5 227.1L351.5 228.9L353.5 231.2L355.5 233.6L357.5 235.7L359.5 237.3L361.5 237.5L363.5 236.4L365.5 232.7L367.5 227.9L369.5 223.1L371.5 219.0L373.5 216.3L375.5 215.8L377.5 217.3L379.5 220.3L381.5 224.3L383.5 228.5L385.5 232.0L387.5 233.5L389.5 233.6L391.5 232.7L393.5 231.5L395.5 230.0L397.5 228.6L399.5 227.3L401.5 226.4L403.5 225.8L405.5 225.2L407.5 224.5L409.5 223.6L411.5 224.4L413.5 228.7L415.5 232.8L417.5 233.5L419.5 232.2L421.5 230.7L423.5 227.9L425.5 222.9L427.5 218.5L429.5 215.8L431.5 213.9L433.5 211.9L435.5 209.8L437.5 207.6L439.5 205.5L441.5 203.7L443.5 201.8L445.5 199.6L447.5 197.9L449.5 197.4L451.5 197.6L453.5 198.2L455.5 199.4L457.5 201.0L459.5 203.1L461.5 205.5L463.5 207.7L465.5 209.7L467.5 211.8L469.5 214.1L471.5 216.6L473.5 219.0L475.5 221.1L477.5 222.3L479.5 222.5L481.5 222.1L483.5 221.3L485.5 219.4L487.5 217.7L489.5 217.7L491.5 219.1L493.5 221.9L495.5 225.2L497.5 228.8L499.5 231.8L501.5 233.4L503.5 233.5L505.5 232.4L507.5 231.3L509.5 230.7L511.5 231.3L513.5 233.0L515.5 235.5L517.5 238.0L519.5 239.4L521.5 239.3L523.5 237.5L525.5 234.7L527.5 231.6L529.5 228.5L531.5 225.8L533.5 224.0L535.5 223.3L537.5 224.3L539.5 226.6L541.5 229.8L543.5 233.0L545.5 234.4L547.5 234.3L549.5 233.2L551.5 231.5L553.5 229.3L555.5 226.9L557.5 224.4L559.5 221.9L561.5 218.8L563.5 215.5L565.5 212.1L567.5 208.8L569.5 205.8L571.5 203.3L573.5 201.5L575.5 200.5L577.5 200.5L579.5 201.9L581.5 204.6L583.5 207.9L585.5 211.6L587.5 215.2L589.5 219.7L591.5 224.6L593.5 229.4L595.5 232.6L597.5 234.7L599.5 236.3L601.5 236.9L603.5 236.7L605.5 234.5L607.5 231.3L609.5 228.0L611.5 225.0L613.5 222.2L615.5 219.7L617.5 217.8L619.5 216.9L621.5 217.1L623.5 218.4L625.5 220.5L627.5 223.1L629.5 225.8L631.5 228.2L633.5 230.0L635.5 230.9L637.5 230.9L639.5 230.7L641.5 230.4L643.5 229.8L645.5 228.5L647.5 226.8L649.5 224.7L651.5 222.4L653.5 220.1L655.5 217.5L657.5 214.4L659.5 211.1L661.5 207.9L663.5 205.2L665.5 203.3L667.5 202.5L669.5 203.1L671.5 204.6L673.5 206.9L675.5 209.7L677.5 212.7L679.5 215.4L681.5 217.6L683.5 218.2L685.5 217.7L687.5 215.9L689.5 213.8L691.5 211.4L693.5 208.8L695.5 205.8L697.5 202.6L699.5 199.7L701.5 197.4L703.5 196.2L705.5 196.4L707.5 198.0L709.5 200.7L711.5 204.0L713.5 207.2L715.5 209.4L717.5 209.8L719.5 207.2L721.5 201.6L723.5 194.9L725.5 189.1L727.5 186.2L729.5 184.6L731.5 183.3L733.5 182.7L735.5 183.1L737.5 186.2L739.5 191.3L741.5 197.2L743.5 202.5L745.5 206.7L747.5 210.7L749.5 214.6L751.5 218.9L753.5 224.0L755.5 229.8L757.5 236.4L759.5 243.9L760.5 247.8L760.5 463.5" fill="none" stroke="#000" stroke-width="1" stroke-linejoin="round"/><path d="M41.5 501.0L41.5 434.1L43.5 427.9L45.5 422.8L47.5 419.3L49.5 417.1L51.5 416.3L53.5 417.9L55.5 422.9L57.5 429.0L59.5 434.2L61.5 436.2L63.5 435.1L65.5 432.2L67.5 428.2L69.5 423.5L71.5 418.5L73.5 411.4L75.5 402.4L77.5 392.5L79.5 382.6L81.5 373.7L83.5 366.2L85.5 358.9L87.5 351.9L89.5 345.4L91.5 339.7L93.5 334.9L95.5 331.1L97.5 327.8L99.5 324.5L101.5 320.9L103.5 309.8L105.5 272.4L107.5 256.7L109.5 246.5L111.5 243.4L113.5 241.5L115.5 238.2L117.5 233.6L119.5 228.1L121.5 221.8L123.5 214.8L125.5 207.4L127.5 199.8L129.5 192.1L131.5 184.7L133.5 177.6L135.5 171.1L137.5 165.3L139.5 160.6L141.5 157.0L143.5 154.8L145.5 153.9L147.5 153.3L149.5 153.7L151.5 155.4L153.5 157.6L155.5 160.1L157.5 162.7L159.5 165.1L161.5 167.6L163.5 170.3L165.5 173.0L167.5 175.3L169.5 177.2L171.5 178.5L173.5 179.5L175.5 180.3L177.5 181.0L179.5 181.7L181.5 182.4L183.5 183.2L185.5 184.2L187.5 185.5L189.5 186.8L191.5 188.2L193.5 189.7L195.5 191.3L197.5 193.0L199.5 195.0L201.5 197.7L203.5 200.9L205.5 204.3L207.5 207.0L209.5 208.3L211.5 208.2L213.5 207.4L215.5 206.1L217.5 204.6L219.5 202.9L221.5 201.1L223.5 198.6L225.5 195.3L227.5 191.5L229.5 187.7L231.5 184.3L233.5 181.6L235.5 179.2L237.5 177.0L239.5 175.2L241.5 173.7L243.5 172.9L245.5 172.3L247.5 171.9L249.5 171.7L251.5 171.7L253.5 171.7L255.5 171.8L257.5 171.9L259.5 172.1L261.5 172.2L263.5 172.4L265.5 172.7L267.5 173.0L269.5 173.5L271.5 174.1L273.5 174.8L275.5 175.6L277.5 176.6L279.5 178.0L281.5 179.8L283.5 181.9L285.5 184.2L287.5 186.7L289.5 189.5L291.5 192.7L293.5 196.7L295.5 201.2L297.5 205.9L299.5 209.8L301.5 213.3L303.5 216.5L305.5 219.7L307.5 223.0L309.5 226.3L311.5 229.5L313.5 232.3L315.5 234.8L317.5 236.8L319.5 238.3L321.5 239.1L323.5 239.4L325.5 239.6L327.5 239.8L329.5 239.9L331.5 240.1L333.5 240.2L335.5 240.3L337.5 240.6L339.5 241.1L341.5 241.8L343.5 242.6L345.5 243.4L347.5 244.2L349.5 245.1L351.5 246.6L353.5 249.0L355.5 251.8L357.5 254.6L359.5 257.0L361.5 258.3L363.5 258.4L365.5 255.4L367.5 250.4L369.5 244.6L371.5 239.0L373.5 234.6L375.5 232.5L377.5 232.8L379.5 235.3L381.5 239.7L383.5 244.9L385.5 250.0L387.5 253.5L389.5 254.7L391.5 254.1L393.5 252.8L395.5 251.1L397.5 249.3L399.5 247.5L401.5 246.2L403.5 245.4L405.5 244.8L407.5 244.2L409.5 243.5L411.5 243.1L413.5 245.2L415.5 252.3L417.5 257.7L419.5 257.0L421.5 255.9L423.5 254.3L425.5 249.6L427.5 243.0L429.5 238.0L431.5 235.2L433.5 233.2L435.5 231.2L437.5 229.1L439.5 227.0L441.5 224.9L443.5 222.9L445.5 220.5L447.5 217.8L449.5 216.1L451.5 216.0L453.5 216.3L455.5 217.2L457.5 218.6L459.5 220.5L461.5 223.1L463.5 225.8L465.5 228.4L467.5 230.9L469.5 233.5L471.5 236.4L473.5 239.6L475.5 243.0L477.5 245.9L479.5 247.0L481.5 246.9L483.5 246.1L485.5 244.5L487.5 241.3L489.5 238.6L491.5 237.9L493.5 239.8L495.5 243.2L497.5 247.4L499.5 251.7L501.5 255.5L503.5 257.0L505.5 256.8L507.5 255.1L509.5 253.4L511.5 252.7L513.5 253.3L515.5 255.8L517.5 259.1L519.5 262.3L521.5 264.2L523.5 263.5L525.5 261.3L527.5 257.7L529.5 253.8L531.5 250.0L533.5 246.8L535.5 244.6L537.5 244.0L539.5 245.2L541.5 248.5L543.5 252.9L545.5 257.0L547.5 259.1L549.5 258.7L551.5 257.3L553.5 255.0L555.5 252.3L557.5 249.4L559.5 246.4L561.5 243.3L563.5 239.8L565.5 236.0L567.5 232.1L569.5 228.3L571.5 224.9L573.5 222.0L575.5 219.9L577.5 218.7L579.5 218.9L581.5 220.4L583.5 223.5L585.5 227.4L587.5 231.6L589.5 235.9L591.5 241.0L593.5 247.0L595.5 252.6L597.5 256.3L599.5 258.2L601.5 259.6L603.5 260.3L605.5 259.8L607.5 257.2L609.5 253.2L611.5 249.1L613.5 245.5L615.5 242.4L617.5 239.6L619.5 237.4L621.5 236.2L623.5 236.5L625.5 237.9L627.5 240.5L629.5 243.8L631.5 247.4L633.5 250.7L635.5 253.3L637.5 254.7L639.5 254.8L641.5 254.5L643.5 254.0L645.5 253.2L647.5 251.8L649.5 249.9L651.5 247.6L653.5 245.1L655.5 242.6L657.5 239.8L659.5 236.5L661.5 232.9L663.5 229.4L665.5 226.3L667.5 224.1L669.5 222.9L671.5 223.3L673.5 225.0L675.5 227.7L677.5 231.1L679.5 234.9L681.5 238.5L683.5 241.6L685.5 243.1L687.5 243.1L689.5 241.4L691.5 239.0L693.5 236.2L695.5 233.2L697.5 229.8L699.5 226.2L701.5 222.8L703.5 220.0L705.5 218.3L707.5 218.3L709.5 219.8L711.5 223.2L713.5 227.6L715.5 232.1L717.5 235.6L719.5 237.0L721.5 234.8L723.5 228.9L725.5 221.4L727.5 214.4L729.5 210.4L731.5 208.6L733.5 207.4L735.5 206.6L737.5 206.6L739.5 209.2L741.5 215.0L743.5 222.1L745.5 229.1L747.5 234.6L749.5 239.4L751.5 244.1L753.5 249.2L755.5 255.0L757.5 261.9L759.5 269.8L761.5 278.8L763.2 285.3L763.2 465.0L112 465.0L112 501.0L41.5 501.0Z" fill="#0055ff"/><path d="M41.5 465.0L41.5 434.1L43.5 427.9L45.5 422.8L47.5 419.3L49.5 417.1L51.5 416.3L53.5 417.9L55.5 422.9L57.5 429.0L59.5 434.2L61.5 436.2L63.5 435.1L65.5 432.2L67.5 428.2L69.5 423.5L71.5 418.5L73.5 411.4L75.5 402.4L77.5 392.5L79.5 382.6L81.5 373.7L83.5 366.2L85.5 358.9L87.5 351.9L89.5 345.4L91.5 339.7L93.5 334.9L95.5 331.1L97.5 327.8L99.5 324.5L101.5 320.9L103.5 309.8L105.5 272.4L107.5 256.7L109.5 246.5L111.5 243.4L113.5 241.5L115.5 238.2L117.5 233.6L119.5 228.1L121.5 221.8L123.5 214.8L125.5 207.4L127.5 199.8L129.5 192.1L131.5 184.7L133.5 177.6L135.5 171.1L137.5 165.3L139.5 160.6L141.5 157.0L143.5 154.8L145.5 153.9L147.5 153.3L149.5 153.7L151.5 155.4L153.5 157.6L155.5 160.1L157.5 162.7L159.5 165.1L161.5 167.6L163.5 170.3L165.5 173.0L167.5 175.3L169.5 177.2L171.5 178.5L173.5 179.5L175.5 180.3L177.5 181.0L179.5 181.7L181.5 182.4L183.5 183.2L185.5 184.2L187.5 185.5L189.5 186.8L191.5 188.2L193.5 189.7L195.5 191.3L197.5 193.0L199.5 195.0L201.5 197.7L203.5 200.9L205.5 204.3L207.5 207.0L209.5 208.3L211.5 208.2L213.5 207.4L215.5 206.1L217.5 204.6L219.5 202.9L221.5 201.1L223.5 198.6L225.5 195.3L227.5 191.5L229.5 187.7L231.5 184.3L233.5 181.6L235.5 179.2L237.5 177.0L239.5 175.2L241.5 173.7L243.5 172.9L245.5 172.3L247.5 171.9L249.5 171.7L251.5 171.7L253.5 171.7L255.5 171.8L257.5 171.9L259.5 172.1L261.5 172.2L263.5 172.4L265.5 172.7L267.5 173.0L269.5 173.5L271.5 174.1L273.5 174.8L275.5 175.6L277.5 176.6L279.5 178.0L281.5 179.8L283.5 181.9L285.5 184.2L287.5 186.7L289.5 189.5L291.5 192.7L293.5 196.7L295.5 201.2L297.5 205.9L299.5 209.8L301.5 213.3L303.5 216.5L305.5 219.7L307.5 223.0L309.5 226.3L311.5 229.5L313.5 232.3L315.5 234.8L317.5 236.8L319.5 238.3L321.5 239.1L323.5 239.4L325.5 239.6L327.5 239.8L329.5 239.9L331.5 240.1L333.5 240.2L335.5 240.3L337.5 240.6L339.5 241.1L341.5 241.8L343.5 242.6L345.5 243.4L347.5 244.2L349.5 245.1L351.5 246.6L353.5 249.0L355.5 251.8L357.5 254.6L359.5 257.0L361.5 258.3L363.5 258.4L365.5 255.4L367.5 250.4L369.5 244.6L371.5 239.0L373.5 234.6L375.5 232.5L377.5 232.8L379.5 235.3L381.5 239.7L383.5 244.9L385.5 250.0L387.5 253.5L389.5 254.7L391.5 254.1L393.5 252.8L395.5 251.1L397.5 249.3L399.5 247.5L401.5 246.2L403.5 245.4L405.5 244.8L407.5 244.2L409.5 243.5L411.5 243.1L413.5 245.2L415.5 252.3L417.5 257.7L419.5 257.0L421.5 255.9L423.5 254.3L425.5 249.6L427.5 243.0L429.5 238.0L431.5 235.2L433.5 233.2L435.5 231.2L437.5 229.1L439.5 227.0L441.5 224.9L443.5 222.9L445.5 220.5L447.5 217.8L449.5 216.1L451.5 216.0L453.5 216.3L455.5 217.2L457.5 218.6L459.5 220.5L461.5 223.1L463.5 225.8L465.5 228.4L467.5 230.9L469.5 233.5L471.5 236.4L473.5 239.6L475.5 243.0L477.5 245.9L479.5 247.0L481.5 246.9L483.5 246.1L485.5 244.5L487.5 241.3L489.5 238.6L491.5 237.9L493.5 239.8L495.5 243.2L497.5 247.4L499.5 251.7L501.5 255.5L503.5 257.0L505.5 256.8L507.5 255.1L509.5 253.4L511.5 252.7L513.5 253.3L515.5 255.8L517.5 259.1L519.5 262.3L521.5 264.2L523.5 263.5L525.5 261.3L527.5 257.7L529.5 253.8L531.5 250.0L533.5 246.8L535.5 244.6L537.5 244.0L539.5 245.2L541.5 248.5L543.5 252.9L545.5 257.0L547.5 259.1L549.5 258.7L551.5 257.3L553.5 255.0L555.5 252.3L557.5 249.4L559.5 246.4L561.5 243.3L563.5 239.8L565.5 236.0L567.5 232.1L569.5 228.3L571.5 224.9L573.5 222.0L575.5 219.9L577.5 218.7L579.5 218.9L581.5 220.4L583.5 223.5L585.5 227.4L587.5 231.6L589.5 235.9L591.5 241.0L593.5 247.0L595.5 252.6L597.5 256.3L599.5 258.2L601.5 259.6L603.5 260.3L605.5 259.8L607.5 257.2L609.5 253.2L611.5 249.1L613.5 245.5L615.5 242.4L617.5 239.6L619.5 237.4L621.5 236.2L623.5 236.5L625.5 237.9L627.5 240.5L629.5 243.8L631.5 247.4L633.5 250.7L635.5 253.3L637.5 254.7L639.5 254.8L641.5 254.5L643.5 254.0L645.5 253.2L647.5 251.8L649.5 249.9L651.5 247.6L653.5 245.1L655.5 242.6L657.5 239.8L659.5 236.5L661.5 232.9L663.5 229.4L665.5 226.3L667.5 224.1L669.5 222.9L671.5 223.3L673.5 225.0L675.5 227.7L677.5 231.1L679.5 234.9L681.5 238.5L683.5 241.6L685.5 243.1L687.5 243.1L689.5 241.4L691.5 239.0L693.5 236.2L695.5 233.2L697.5 229.8L699.5 226.2L701.5 222.8L703.5 220.0L705.5 218.3L707.5 218.3L709.5 219.8L711.5 223.2L713.5 227.6L715.5 232.1L717.5 235.6L719.5 237.0L721.5 234.8L723.5 228.9L725.5 221.4L727.5 214.4L729.5 210.4L731.5 208.6L733.5 207.4L735.5 206.6L737.5 206.6L739.5 209.2L741.5 215.0L743.5 222.1L745.5 229.1L747.5 234.6L749.5 239.4L751.5 244.1L753.5 249.2L755.5 255.0L757.5 261.9L759.5 269.8L761.5 278.8L763.2 285.3L763.2 465.0" fill="none" stroke="#000" stroke-width="1" stroke-linejoin="round"/><path d="M41.5 501.0L41.5 444.8L43.5 438.1L45.5 432.6L47.5 428.7L49.5 426.3L51.5 425.4L53.5 427.1L55.5 432.4L57.5 439.1L59.5 444.9L61.5 447.2L63.5 446.1L65.5 443.1L67.5 438.9L69.5 434.1L71.5 428.9L73.5 421.6L75.5 412.4L77.5 402.1L79.5 391.8L81.5 382.4L83.5 374.4L85.5 366.6L87.5 359.1L89.5 352.2L91.5 345.9L93.5 340.6L95.5 336.3L97.5 332.6L99.5 328.9L101.5 325.1L103.5 310.5L105.5 273.0L107.5 256.9L109.5 247.2L111.5 245.1L113.5 243.2L115.5 240.1L117.5 235.8L119.5 230.5L121.5 224.4L123.5 217.7L125.5 210.6L127.5 203.3L129.5 196.0L131.5 188.8L133.5 182.0L135.5 175.8L137.5 170.2L139.5 165.6L141.5 162.1L143.5 159.9L145.5 158.9L147.5 158.2L149.5 158.5L151.5 160.1L153.5 162.6L155.5 165.3L157.5 168.1L159.5 170.8L161.5 173.4L163.5 176.3L165.5 179.1L167.5 181.7L169.5 183.9L171.5 185.4L173.5 186.7L175.5 187.6L177.5 188.5L179.5 189.3L181.5 190.1L183.5 191.0L185.5 192.1L187.5 193.4L189.5 194.8L191.5 196.4L193.5 198.0L195.5 199.7L197.5 201.6L199.5 203.7L201.5 206.5L203.5 210.2L205.5 214.2L207.5 217.7L209.5 219.9L211.5 220.2L213.5 219.6L215.5 218.5L217.5 217.1L219.5 215.5L221.5 213.9L223.5 211.8L225.5 208.8L227.5 205.2L229.5 201.4L231.5 197.9L233.5 194.9L235.5 192.4L237.5 190.1L239.5 188.1L241.5 186.5L243.5 185.5L245.5 184.8L247.5 184.4L249.5 184.1L251.5 184.0L253.5 184.0L255.5 184.1L257.5 184.2L259.5 184.3L261.5 184.5L263.5 184.7L265.5 184.9L267.5 185.2L269.5 185.6L271.5 186.2L273.5 187.0L275.5 188.0L277.5 189.1L279.5 190.8L281.5 192.9L283.5 195.5L285.5 198.3L287.5 201.3L289.5 204.6L291.5 208.3L293.5 212.6L295.5 217.6L297.5 223.1L299.5 228.1L301.5 232.3L303.5 235.9L305.5 239.4L307.5 242.9L309.5 246.5L311.5 249.8L313.5 252.8L315.5 255.4L317.5 257.6L319.5 259.3L321.5 260.5L323.5 261.0L325.5 261.2L327.5 261.5L329.5 261.7L331.5 261.9L333.5 262.1L335.5 262.3L337.5 262.5L339.5 262.9L341.5 263.5L343.5 264.2L345.5 264.9L347.5 265.7L349.5 266.5L351.5 267.6L353.5 269.8L355.5 272.9L357.5 276.3L359.5 279.6L361.5 282.1L363.5 283.2L365.5 281.8L367.5 277.3L369.5 270.8L371.5 263.8L373.5 257.7L375.5 253.4L377.5 251.9L379.5 253.2L381.5 257.4L383.5 263.3L385.5 269.9L387.5 275.8L389.5 279.1L391.5 279.3L393.5 278.3L395.5 276.4L397.5 274.2L399.5 272.0L401.5 270.0L403.5 268.6L405.5 268.0L407.5 267.5L409.5 266.9L411.5 266.2L413.5 266.6L415.5 271.9L417.5 282.0L419.5 285.4L421.5 285.3L423.5 284.2L425.5 282.2L427.5 274.7L429.5 266.1L431.5 260.4L433.5 257.8L435.5 255.7L437.5 253.7L439.5 251.6L441.5 249.4L443.5 247.3L445.5 244.9L447.5 241.9L449.5 238.9L451.5 237.3L453.5 237.3L455.5 237.9L457.5 239.2L459.5 240.8L461.5 243.2L463.5 246.2L465.5 249.4L467.5 252.5L469.5 255.5L471.5 258.7L473.5 262.4L475.5 266.6L477.5 271.1L479.5 274.8L481.5 276.0L483.5 275.3L485.5 273.9L487.5 270.9L489.5 266.1L491.5 262.3L493.5 261.7L495.5 263.7L497.5 267.9L499.5 273.1L501.5 278.5L503.5 282.8L505.5 284.9L507.5 283.8L509.5 281.3L511.5 278.8L513.5 278.1L515.5 279.1L517.5 282.4L519.5 286.7L521.5 290.7L523.5 292.6L525.5 292.1L527.5 288.8L529.5 284.4L531.5 279.5L533.5 274.8L535.5 270.9L537.5 268.3L539.5 268.0L541.5 269.5L543.5 274.0L545.5 279.8L547.5 285.0L549.5 287.6L551.5 287.2L553.5 285.2L555.5 282.4L557.5 279.0L559.5 275.3L561.5 271.7L563.5 268.1L565.5 264.1L567.5 259.6L569.5 255.1L571.5 250.8L573.5 246.9L575.5 243.6L577.5 241.2L579.5 239.8L581.5 240.0L583.5 241.8L585.5 245.3L587.5 249.8L589.5 254.7L591.5 259.8L593.5 265.8L595.5 272.9L597.5 279.5L599.5 283.9L601.5 285.6L603.5 286.8L605.5 287.5L607.5 286.8L609.5 283.7L611.5 278.7L613.5 273.6L615.5 269.3L617.5 265.8L619.5 262.6L621.5 260.1L623.5 258.7L625.5 258.6L627.5 260.4L629.5 263.6L631.5 267.7L633.5 272.2L635.5 276.6L637.5 280.3L639.5 282.3L641.5 282.7L643.5 282.3L645.5 281.6L647.5 280.5L649.5 278.8L651.5 276.6L653.5 274.1L655.5 271.3L657.5 268.5L659.5 265.6L661.5 262.1L663.5 258.1L665.5 254.2L667.5 250.7L669.5 248.0L671.5 246.6L673.5 246.6L675.5 248.5L677.5 251.6L679.5 255.7L681.5 260.4L683.5 265.1L685.5 269.3L687.5 272.0L689.5 272.5L691.5 271.1L693.5 268.3L695.5 264.9L697.5 261.4L699.5 257.7L701.5 253.7L703.5 249.7L705.5 246.4L707.5 244.0L709.5 243.7L711.5 244.9L713.5 248.9L715.5 254.4L717.5 260.5L719.5 265.7L721.5 268.5L723.5 266.9L725.5 260.9L727.5 252.5L729.5 244.1L731.5 238.4L733.5 236.2L735.5 235.1L737.5 234.2L739.5 234.0L741.5 235.8L743.5 241.9L745.5 250.3L747.5 259.2L749.5 266.3L751.5 272.3L753.5 278.0L755.5 283.8L757.5 290.6L759.5 298.6L761.5 307.9L763.5 318.6L765.5 330.8L765.9 333.7L765.9 466.5L112 466.5L112 501.0L41.5 501.0Z" fill="#0055ff"/><path d="M41.5 466.5L41.5 444.8L43.5 438.1L45.5 432.6L47.5 428.7L49.5 426.3L51.5 425.4L53.5 427.1L55.5 432.4L57.5 439.1L59.5 444.9L61.5 447.2L63.5 446.1L65.5 443.1L67.5 438.9L69.5 434.1L71.5 428.9L73.5 421.6L75.5 412.4L77.5 402.1L79.5 391.8L81.5 382.4L83.5 374.4L85.5 366.6L87.5 359.1L89.5 352.2L91.5 345.9L93.5 340.6L95.5 336.3L97.5 332.6L99.5 328.9L101.5 325.1L103.5 310.5L105.5 273.0L107.5 256.9L109.5 247.2L111.5 245.1L113.5 243.2L115.5 240.1L117.5 235.8L119.5 230.5L121.5 224.4L123.5 217.7L125.5 210.6L127.5 203.3L129.5 196.0L131.5 188.8L133.5 182.0L135.5 175.8L137.5 170.2L139.5 165.6L141.5 162.1L143.5 159.9L145.5 158.9L147.5 158.2L149.5 158.5L151.5 160.1L153.5 162.6L155.5 165.3L157.5 168.1L159.5 170.8L161.5 173.4L163.5 176.3L165.5 179.1L167.5 181.7L169.5 183.9L171.5 185.4L173.5 186.7L175.5 187.6L177.5 188.5L179.5 189.3L181.5 190.1L183.5 191.0L185.5 192.1L187.5 193.4L189.5 194.8L191.5 196.4L193.5 198.0L195.5 199.7L197.5 201.6L199.5 203.7L201.5 206.5L203.5 210.2L205.5 214.2L207.5 217.7L209.5 219.9L211.5 220.2L213.5 219.6L215.5 218.5L217.5 217.1L219.5 215.5L221.5 213.9L223.5 211.8L225.5 208.8L227.5 205.2L229.5 201.4L231.5 197.9L233.5 194.9L235.5 192.4L237.5 190.1L239.5 188.1L241.5 186.5L243.5 185.5L245.5 184.8L247.5 184.4L249.5 184.1L251.5 184.0L253.5 184.0L255.5 184.1L257.5 184.2L259.5 184.3L261.5 184.5L263.5 184.7L265.5 184.9L267.5 185.2L269.5 185.6L271.5 186.2L273.5 187.0L275.5 188.0L277.5 189.1L279.5 190.8L281.5 192.9L283.5 195.5L285.5 198.3L287.5 201.3L289.5 204.6L291.5 208.3L293.5 212.6L295.5 217.6L297.5 223.1L299.5 228.1L301.5 232.3L303.5 235.9L305.5 239.4L307.5 242.9L309.5 246.5L311.5 249.8L313.5 252.8L315.5 255.4L317.5 257.6L319.5 259.3L321.5 260.5L323.5 261.0L325.5 261.2L327.5 261.5L329.5 261.7L331.5 261.9L333.5 262.1L335.5 262.3L337.5 262.5L339.5 262.9L341.5 263.5L343.5 264.2L345.5 264.9L347.5 265.7L349.5 266.5L351.5 267.6L353.5 269.8L355.5 272.9L357.5 276.3L359.5 279.6L361.5 282.1L363.5 283.2L365.5 281.8L367.5 277.3L369.5 270.8L371.5 263.8L373.5 257.7L375.5 253.4L377.5 251.9L379.5 253.2L381.5 257.4L383.5 263.3L385.5 269.9L387.5 275.8L389.5 279.1L391.5 279.3L393.5 278.3L395.5 276.4L397.5 274.2L399.5 272.0L401.5 270.0L403.5 268.6L405.5 268.0L407.5 267.5L409.5 266.9L411.5 266.2L413.5 266.6L415.5 271.9L417.5 282.0L419.5 285.4L421.5 285.3L423.5 284.2L425.5 282.2L427.5 274.7L429.5 266.1L431.5 260.4L433.5 257.8L435.5 255.7L437.5 253.7L439.5 251.6L441.5 249.4L443.5 247.3L445.5 244.9L447.5 241.9L449.5 238.9L451.5 237.3L453.5 237.3L455.5 237.9L457.5 239.2L459.5 240.8L461.5 243.2L463.5 246.2L465.5 249.4L467.5 252.5L469.5 255.5L471.5 258.7L473.5 262.4L475.5 266.6L477.5 271.1L479.5 274.8L481.5 276.0L483.5 275.3L485.5 273.9L487.5 270.9L489.5 266.1L491.5 262.3L493.5 261.7L495.5 263.7L497.5 267.9L499.5 273.1L501.5 278.5L503.5 282.8L505.5 284.9L507.5 283.8L509.5 281.3L511.5 278.8L513.5 278.1L515.5 279.1L517.5 282.4L519.5 286.7L521.5 290.7L523.5 292.6L525.5 292.1L527.5 288.8L529.5 284.4L531.5 279.5L533.5 274.8L535.5 270.9L537.5 268.3L539.5 268.0L541.5 269.5L543.5 274.0L545.5 279.8L547.5 285.0L549.5 287.6L551.5 287.2L553.5 285.2L555.5 282.4L557.5 279.0L559.5 275.3L561.5 271.7L563.5 268.1L565.5 264.1L567.5 259.6L569.5 255.1L571.5 250.8L573.5 246.9L575.5 243.6L577.5 241.2L579.5 239.8L581.5 240.0L583.5 241.8L585.5 245.3L587.5 249.8L589.5 254.7L591.5 259.8L593.5 265.8L595.5 272.9L597.5 279.5L599.5 283.9L601.5 285.6L603.5 286.8L605.5 287.5L607.5 286.8L609.5 283.7L611.5 278.7L613.5 273.6L615.5 269.3L617.5 265.8L619.5 262.6L621.5 260.1L623.5 258.7L625.5 258.6L627.5 260.4L629.5 263.6L631.5 267.7L633.5 272.2L635.5 276.6L637.5 280.3L639.5 282.3L641.5 282.7L643.5 282.3L645.5 281.6L647.5 280.5L649.5 278.8L651.5 276.6L653.5 274.1L655.5 271.3L657.5 268.5L659.5 265.6L661.5 262.1L663.5 258.1L665.5 254.2L667.5 250.7L669.5 248.0L671.5 246.6L673.5 246.6L675.5 248.5L677.5 251.6L679.5 255.7L681.5 260.4L683.5 265.1L685.5 269.3L687.5 272.0L689.5 272.5L691.5 271.1L693.5 268.3L695.5 264.9L697.5 261.4L699.5 257.7L701.5 253.7L703.5 249.7L705.5 246.4L707.5 244.0L709.5 243.7L711.5 244.9L713.5 248.9L715.5 254.4L717.5 260.5L719.5 265.7L721.5 268.5L723.5 266.9L725.5 260.9L727.5 252.5L729.5 244.1L731.5 238.4L733.5 236.2L735.5 235.1L737.5 234.2L739.5 234.0L741.5 235.8L743.5 241.9L745.5 250.3L747.5 259.2L749.5 266.3L751.5 272.3L753.5 278.0L755.5 283.8L757.5 290.6L759.5 298.6L761.5 307.9L763.5 318.6L765.5 330.8L765.9 333.7L765.9 466.5" fill="none" stroke="#000" stroke-width="1" stroke-linejoin="round"/><path d="M41.4 501.0L41.4 455.8L43.4 448.5L45.4 442.5L47.4 438.2L49.4 435.7L51.4 434.7L53.4 436.4L55.4 442.1L57.4 449.4L59.4 455.6L61.4 458.3L63.4 457.2L65.4 454.2L67.4 449.8L69.4 444.7L71.4 439.4L73.4 432.0L75.4 422.5L77.4 412.0L79.4 401.3L81.4 391.3L83.4 382.9L85.4 374.6L87.4 366.6L89.4 359.1L91.4 352.3L93.4 346.5L95.4 341.7L97.4 337.5L99.4 333.5L101.4 329.4L103.4 311.1L105.4 273.6L107.4 257.1L109.4 248.4L111.4 247.0L113.4 245.2L115.4 242.2L117.4 238.1L119.4 233.1L121.4 227.3L123.4 220.9L125.4 214.2L127.4 207.2L129.4 200.2L131.4 193.4L133.4 186.8L135.4 180.8L137.4 175.5L139.4 171.0L141.4 167.5L143.4 165.3L145.4 164.2L147.4 163.4L149.4 163.6L151.4 165.1L153.4 167.8L155.4 170.7L157.4 173.8L159.4 176.7L161.4 179.6L163.4 182.6L165.4 185.6L167.4 188.5L169.4 190.9L171.4 192.8L173.4 194.2L175.4 195.4L177.4 196.5L179.4 197.4L181.4 198.3L183.4 199.3L185.4 200.5L187.4 202.0L189.4 203.5L191.4 205.2L193.4 206.9L195.4 208.8L197.4 210.8L199.4 213.1L201.4 216.0L203.4 220.0L205.4 224.6L207.4 229.1L209.4 232.3L211.4 233.3L213.4 232.9L215.4 232.1L217.4 230.8L219.4 229.3L221.4 227.8L223.4 226.0L225.4 223.5L227.4 220.1L229.4 216.4L231.4 212.8L233.4 209.6L235.4 207.0L237.4 204.6L239.4 202.5L241.4 200.7L243.4 199.4L245.4 198.7L247.4 198.2L249.4 197.9L251.4 197.7L253.4 197.7L255.4 197.8L257.4 197.9L259.4 198.0L261.4 198.1L263.4 198.3L265.4 198.5L267.4 198.8L269.4 199.2L271.4 199.9L273.4 200.7L275.4 201.8L277.4 203.1L279.4 205.0L281.4 207.6L283.4 210.7L285.4 214.2L287.4 217.8L289.4 221.6L291.4 225.9L293.4 230.6L295.4 236.1L297.4 242.3L299.4 248.4L301.4 253.6L303.4 257.7L305.4 261.8L307.4 265.8L309.4 269.6L311.4 273.3L313.4 276.5L315.4 279.3L317.4 281.6L319.4 283.5L321.4 284.9L323.4 285.6L325.4 285.9L327.4 286.0L329.4 286.2L331.4 286.6L333.4 287.0L335.4 287.4L337.4 287.7L339.4 288.1L341.4 288.6L343.4 289.2L345.4 289.9L347.4 290.7L349.4 291.4L351.4 292.2L353.4 293.8L355.4 296.8L357.4 300.6L359.4 304.6L361.4 308.2L363.4 310.4L365.4 310.4L367.4 307.4L369.4 300.7L371.4 292.6L373.4 284.8L375.4 278.4L377.4 274.3L379.4 274.4L381.4 277.3L383.4 283.4L385.4 291.1L387.4 299.1L389.4 305.5L391.4 307.9L393.4 307.8L395.4 306.0L397.4 303.6L399.4 300.9L401.4 298.3L403.4 296.1L405.4 294.9L407.4 294.4L409.4 294.0L411.4 293.5L413.4 293.0L415.4 294.1L417.4 304.2L419.4 315.8L421.4 319.1L423.4 318.3L425.4 317.6L427.4 312.9L429.4 302.6L431.4 292.2L433.4 286.6L435.4 283.7L437.4 281.5L439.4 279.4L441.4 277.3L443.4 275.0L445.4 272.7L447.4 269.9L449.4 266.1L451.4 262.6L453.4 261.6L455.4 261.8L457.4 262.7L459.4 264.2L461.4 266.3L463.4 269.2L465.4 272.7L467.4 276.5L469.4 280.0L471.4 283.7L473.4 287.7L475.4 292.2L477.4 297.8L479.4 303.9L481.4 308.1L483.4 309.0L485.4 307.8L487.4 305.4L489.4 301.2L491.4 294.3L493.4 289.0L495.4 288.6L497.4 291.3L499.4 296.5L501.4 302.9L503.4 309.5L505.4 314.7L507.4 316.2L509.4 315.0L511.4 311.1L513.4 307.9L515.4 306.7L517.4 308.7L519.4 313.1L521.4 318.6L523.4 323.7L525.4 325.4L527.4 324.5L529.4 320.5L531.4 314.9L533.4 308.8L535.4 303.1L537.4 298.5L539.4 295.5L541.4 294.8L543.4 297.6L545.4 303.4L547.4 310.8L549.4 317.7L551.4 320.2L553.4 320.0L555.4 317.4L557.4 313.7L559.4 309.4L561.4 304.9L563.4 300.5L565.4 296.4L567.4 291.7L569.4 286.6L571.4 281.4L573.4 276.4L575.4 272.0L577.4 268.2L579.4 265.5L581.4 264.1L583.4 263.9L585.4 266.1L587.4 270.1L589.4 275.3L591.4 281.0L593.4 286.8L595.4 294.0L597.4 302.6L599.4 310.6L601.4 315.4L603.4 317.1L605.4 318.1L607.4 318.7L609.4 318.3L611.4 314.2L613.4 307.9L615.4 301.6L617.4 296.6L619.4 292.5L621.4 288.8L623.4 285.9L625.4 284.2L627.4 284.0L629.4 285.9L631.4 289.7L633.4 294.8L635.4 300.5L637.4 306.2L639.4 311.2L641.4 314.3L643.4 314.7L645.4 314.3L647.4 313.3L649.4 311.8L651.4 309.8L653.4 307.3L655.4 304.4L657.4 301.3L659.4 298.2L661.4 295.0L663.4 291.2L665.4 286.9L667.4 282.6L669.4 278.6L671.4 275.4L673.4 273.6L675.4 273.3L677.4 275.1L679.4 278.7L681.4 283.6L683.4 289.3L685.4 295.2L687.4 300.7L689.4 305.0L691.4 306.0L693.4 305.4L695.4 302.0L697.4 298.0L699.4 293.7L701.4 289.7L703.4 285.1L705.4 280.5L707.4 276.5L709.4 273.5L711.4 272.5L713.4 273.4L715.4 277.8L717.4 284.5L719.4 292.3L721.4 299.6L723.4 304.0L725.4 304.0L727.4 298.0L729.4 288.5L731.4 278.5L733.4 270.8L735.4 267.8L737.4 266.6L739.4 265.7L741.4 265.4L743.4 266.2L745.4 272.3L747.4 281.7L749.4 292.5L751.4 301.8L753.4 309.3L755.4 316.1L757.4 323.1L759.4 330.8L761.4 340.0L763.4 350.8L765.4 363.3L767.4 377.6L768.6 386.9L768.6 468.0L112 468.0L112 501.0L41.4 501.0Z" fill="#0055ff"/><path d="M41.4 468.0L41.4 455.8L43.4 448.5L45.4 442.5L47.4 438.2L49.4 435.7L51.4 434.7L53.4 436.4L55.4 442.1L57.4 449.4L59.4 455.6L61.4 458.3L63.4 457.2L65.4 454.2L67.4 449.8L69.4 444.7L71.4 439.4L73.4 432.0L75.4 422.5L77.4 412.0L79.4 401.3L81.4 391.3L83.4 382.9L85.4 374.6L87.4 366.6L89.4 359.1L91.4 352.3L93.4 346.5L95.4 341.7L97.4 337.5L99.4 333.5L101.4 329.4L103.4 311.1L105.4 273.6L107.4 257.1L109.4 248.4L111.4 247.0L113.4 245.2L115.4 242.2L117.4 238.1L119.4 233.1L121.4 227.3L123.4 220.9L125.4 214.2L127.4 207.2L129.4 200.2L131.4 193.4L133.4 186.8L135.4 180.8L137.4 175.5L139.4 171.0L141.4 167.5L143.4 165.3L145.4 164.2L147.4 163.4L149.4 163.6L151.4 165.1L153.4 167.8L155.4 170.7L157.4 173.8L159.4 176.7L161.4 179.6L163.4 182.6L165.4 185.6L167.4 188.5L169.4 190.9L171.4 192.8L173.4 194.2L175.4 195.4L177.4 196.5L179.4 197.4L181.4 198.3L183.4 199.3L185.4 200.5L187.4 202.0L189.4 203.5L191.4 205.2L193.4 206.9L195.4 208.8L197.4 210.8L199.4 213.1L201.4 216.0L203.4 220.0L205.4 224.6L207.4 229.1L209.4 232.3L211.4 233.3L213.4 232.9L215.4 232.1L217.4 230.8L219.4 229.3L221.4 227.8L223.4 226.0L225.4 223.5L227.4 220.1L229.4 216.4L231.4 212.8L233.4 209.6L235.4 207.0L237.4 204.6L239.4 202.5L241.4 200.7L243.4 199.4L245.4 198.7L247.4 198.2L249.4 197.9L251.4 197.7L253.4 197.7L255.4 197.8L257.4 197.9L259.4 198.0L261.4 198.1L263.4 198.3L265.4 198.5L267.4 198.8L269.4 199.2L271.4 199.9L273.4 200.7L275.4 201.8L277.4 203.1L279.4 205.0L281.4 207.6L283.4 210.7L285.4 214.2L287.4 217.8L289.4 221.6L291.4 225.9L293.4 230.6L295.4 236.1L297.4 242.3L299.4 248.4L301.4 253.6L303.4 257.7L305.4 261.8L307.4 265.8L309.4 269.6L311.4 273.3L313.4 276.5L315.4 279.3L317.4 281.6L319.4 283.5L321.4 284.9L323.4 285.6L325.4 285.9L327.4 286.0L329.4 286.2L331.4 286.6L333.4 287.0L335.4 287.4L337.4 287.7L339.4 288.1L341.4 288.6L343.4 289.2L345.4 289.9L347.4 290.7L349.4 291.4L351.4 292.2L353.4 293.8L355.4 296.8L357.4 300.6L359.4 304.6L361.4 308.2L363.4 310.4L365.4 310.4L367.4 307.4L369.4 300.7L371.4 292.6L373.4 284.8L375.4 278.4L377.4 274.3L379.4 274.4L381.4 277.3L383.4 283.4L385.4 291.1L387.4 299.1L389.4 305.5L391.4 307.9L393.4 307.8L395.4 306.0L397.4 303.6L399.4 300.9L401.4 298.3L403.4 296.1L405.4 294.9L407.4 294.4L409.4 294.0L411.4 293.5L413.4 293.0L415.4 294.1L417.4 304.2L419.4 315.8L421.4 319.1L423.4 318.3L425.4 317.6L427.4 312.9L429.4 302.6L431.4 292.2L433.4 286.6L435.4 283.7L437.4 281.5L439.4 279.4L441.4 277.3L443.4 275.0L445.4 272.7L447.4 269.9L449.4 266.1L451.4 262.6L453.4 261.6L455.4 261.8L457.4 262.7L459.4 264.2L461.4 266.3L463.4 269.2L465.4 272.7L467.4 276.5L469.4 280.0L471.4 283.7L473.4 287.7L475.4 292.2L477.4 297.8L479.4 303.9L481.4 308.1L483.4 309.0L485.4 307.8L487.4 305.4L489.4 301.2L491.4 294.3L493.4 289.0L495.4 288.6L497.4 291.3L499.4 296.5L501.4 302.9L503.4 309.5L505.4 314.7L507.4 316.2L509.4 315.0L511.4 311.1L513.4 307.9L515.4 306.7L517.4 308.7L519.4 313.1L521.4 318.6L523.4 323.7L525.4 325.4L527.4 324.5L529.4 320.5L531.4 314.9L533.4 308.8L535.4 303.1L537.4 298.5L539.4 295.5L541.4 294.8L543.4 297.6L545.4 303.4L547.4 310.8L549.4 317.7L551.4 320.2L553.4 320.0L555.4 317.4L557.4 313.7L559.4 309.4L561.4 304.9L563.4 300.5L565.4 296.4L567.4 291.7L569.4 286.6L571.4 281.4L573.4 276.4L575.4 272.0L577.4 268.2L579.4 265.5L581.4 264.1L583.4 263.9L585.4 266.1L587.4 270.1L589.4 275.3L591.4 281.0L593.4 286.8L595.4 294.0L597.4 302.6L599.4 310.6L601.4 315.4L603.4 317.1L605.4 318.1L607.4 318.7L609.4 318.3L611.4 314.2L613.4 307.9L615.4 301.6L617.4 296.6L619.4 292.5L621.4 288.8L623.4 285.9L625.4 284.2L627.4 284.0L629.4 285.9L631.4 289.7L633.4 294.8L635.4 300.5L637.4 306.2L639.4 311.2L641.4 314.3L643.4 314.7L645.4 314.3L647.4 313.3L649.4 311.8L651.4 309.8L653.4 307.3L655.4 304.4L657.4 301.3L659.4 298.2L661.4 295.0L663.4 291.2L665.4 286.9L667.4 282.6L669.4 278.6L671.4 275.4L673.4 273.6L675.4 273.3L677.4 275.1L679.4 278.7L681.4 283.6L683.4 289.3L685.4 295.2L687.4 300.7L689.4 305.0L691.4 306.0L693.4 305.4L695.4 302.0L697.4 298.0L699.4 293.7L701.4 289.7L703.4 285.1L705.4 280.5L707.4 276.5L709.4 273.5L711.4 272.5L713.4 273.4L715.4 277.8L717.4 284.5L719.4 292.3L721.4 299.6L723.4 304.0L725.4 304.0L727.4 298.0L729.4 288.5L731.4 278.5L733.4 270.8L735.4 267.8L737.4 266.6L739.4 265.7L741.4 265.4L743.4 266.2L745.4 272.3L747.4 281.7L749.4 292.5L751.4 301.8L753.4 309.3L755.4 316.1L757.4 323.1L759.4 330.8L761.4 340.0L763.4 350.8L765.4 363.3L767.4 377.6L768.6 386.9L768.6 468.0" fill="none" stroke="#000" stroke-width="1" stroke-linejoin="round"/><path d="M41.4 501.0L41.4 466.9L43.4 459.0L45.4 452.5L47.4 448.0L49.4 445.2L51.4 444.1L53.4 445.8L55.4 451.9L57.4 459.7L59.4 466.5L61.4 469.6L63.4 468.5L65.4 465.3L67.4 460.8L69.4 455.5L71.4 449.9L73.4 442.4L75.4 432.8L77.4 422.0L79.4 410.9L81.4 400.5L83.4 391.5L85.4 382.8L87.4 374.3L89.4 366.3L91.4 358.9L93.4 352.6L95.4 347.2L97.4 342.6L99.4 338.2L101.4 333.6L103.4 311.7L105.4 274.2L107.4 257.4L109.4 250.3L111.4 249.2L113.4 247.5L115.4 244.7L117.4 240.8L119.4 236.0L121.4 230.5L123.4 224.4L125.4 218.0L127.4 211.4L129.4 204.7L131.4 198.1L133.4 191.8L135.4 186.0L137.4 180.8L139.4 176.4L141.4 173.0L143.4 170.7L145.4 169.4L147.4 168.7L149.4 168.4L151.4 170.0L153.4 172.9L155.4 176.1L157.4 179.5L159.4 182.7L161.4 185.8L163.4 189.0L165.4 192.3L167.4 195.4L169.4 198.1L171.4 200.3L173.4 202.1L175.4 203.5L177.4 204.7L179.4 205.9L181.4 207.0L183.4 208.1L185.4 209.4L187.4 211.0L189.4 212.7L191.4 214.6L193.4 216.5L195.4 218.5L197.4 220.7L199.4 223.1L201.4 226.2L203.4 230.5L205.4 235.7L207.4 241.0L209.4 245.4L211.4 247.5L213.4 247.3L215.4 246.6L217.4 245.6L219.4 244.3L221.4 242.8L223.4 241.3L225.4 239.1L227.4 236.1L229.4 232.6L231.4 229.0L233.4 225.7L235.4 223.0L237.4 220.5L239.4 218.2L241.4 216.3L243.4 214.8L245.4 214.0L247.4 213.5L249.4 213.1L251.4 212.8L253.4 212.8L255.4 212.8L257.4 212.9L259.4 213.0L261.4 213.1L263.4 213.3L265.4 213.4L267.4 213.7L269.4 214.2L271.4 214.9L273.4 215.8L275.4 217.1L277.4 218.6L279.4 220.7L281.4 223.7L283.4 227.5L285.4 231.7L287.4 236.0L289.4 240.6L291.4 245.4L293.4 250.7L295.4 256.4L297.4 262.7L299.4 269.3L301.4 275.0L303.4 279.6L305.4 284.6L307.4 289.7L309.4 294.5L311.4 298.9L313.4 302.8L315.4 305.9L317.4 308.4L319.4 310.4L321.4 311.8L323.4 312.5L325.4 312.3L327.4 311.7L329.4 311.3L331.4 311.6L333.4 312.7L335.4 314.1L337.4 315.1L339.4 316.0L341.4 316.7L343.4 317.5L345.4 318.2L347.4 318.9L349.4 319.6L351.4 320.2L353.4 321.2L355.4 323.5L357.4 327.2L359.4 331.4L361.4 335.4L363.4 338.3L365.4 339.2L367.4 337.3L369.4 331.0L371.4 322.3L373.4 313.2L375.4 305.1L377.4 299.2L379.4 297.3L381.4 298.4L383.4 303.9L385.4 312.2L387.4 321.9L389.4 331.2L391.4 337.9L393.4 339.8L395.4 339.0L397.4 336.9L399.4 334.1L401.4 331.0L403.4 328.2L405.4 326.1L407.4 325.2L409.4 324.9L411.4 324.6L413.4 324.2L415.4 323.8L417.4 329.1L419.4 343.8L421.4 356.0L423.4 357.3L425.4 356.8L427.4 355.3L429.4 348.5L431.4 333.7L433.4 321.8L435.4 316.0L437.4 313.2L439.4 310.8L441.4 308.6L443.4 306.3L445.4 304.0L447.4 301.4L449.4 297.9L451.4 293.3L453.4 289.9L455.4 288.9L457.4 289.5L459.4 290.8L461.4 292.7L463.4 295.1L465.4 298.6L467.4 302.8L469.4 307.1L471.4 311.3L473.4 315.7L475.4 320.6L477.4 326.2L479.4 333.5L481.4 341.3L483.4 346.6L485.4 346.4L487.4 344.6L489.4 341.3L491.4 334.7L493.4 325.5L495.4 319.6L497.4 318.6L499.4 322.5L501.4 329.0L503.4 336.9L505.4 344.8L507.4 351.0L509.4 352.2L511.4 349.7L513.4 344.6L515.4 340.4L517.4 339.6L519.4 342.0L521.4 347.8L523.4 354.7L525.4 360.7L527.4 363.3L529.4 361.2L531.4 356.1L533.4 349.2L535.4 341.9L537.4 335.0L539.4 329.5L541.4 326.2L543.4 325.4L545.4 329.0L547.4 336.6L549.4 346.0L551.4 354.6L553.4 358.0L555.4 357.0L557.4 353.8L559.4 349.1L561.4 343.8L563.4 338.3L565.4 333.1L567.4 328.2L569.4 322.8L571.4 316.9L573.4 311.0L575.4 305.3L577.4 300.2L579.4 296.0L581.4 292.8L583.4 291.2L585.4 291.1L587.4 293.5L589.4 298.1L591.4 304.0L593.4 310.7L595.4 317.2L597.4 325.8L599.4 336.1L601.4 345.9L603.4 351.3L605.4 353.1L607.4 353.9L609.4 354.3L611.4 354.0L613.4 349.1L615.4 341.3L617.4 333.3L619.4 327.2L621.4 322.6L623.4 318.5L625.4 315.1L627.4 313.0L629.4 312.8L631.4 314.7L633.4 319.2L635.4 325.2L637.4 332.3L639.4 339.5L641.4 345.9L643.4 350.4L645.4 351.1L647.4 350.7L649.4 349.4L651.4 347.5L653.4 345.1L655.4 342.1L657.4 338.7L659.4 335.2L661.4 331.7L663.4 328.2L665.4 324.2L667.4 319.5L669.4 314.6L671.4 310.1L673.4 306.5L675.4 304.1L677.4 303.5L679.4 305.1L681.4 309.1L683.4 314.8L685.4 321.7L687.4 329.0L689.4 336.0L691.4 341.7L693.4 344.4L695.4 344.0L697.4 340.6L699.4 335.7L701.4 330.5L703.4 325.8L705.4 320.7L707.4 315.5L709.4 310.8L711.4 307.0L713.4 305.1L715.4 305.8L717.4 310.1L719.4 317.9L721.4 327.5L723.4 337.2L725.4 344.1L727.4 346.1L729.4 340.3L731.4 329.8L733.4 318.0L735.4 308.1L737.4 303.5L739.4 302.0L741.4 301.3L743.4 300.8L745.4 301.0L747.4 306.2L749.4 316.4L751.4 329.0L753.4 341.1L755.4 350.5L757.4 358.7L759.4 366.9L761.4 375.8L763.4 386.1L765.4 398.5L767.4 412.9L769.4 429.5L771.3 446.8L771.3 469.5L112 469.5L112 501.0L41.4 501.0Z" fill="#0055ff"/><path d="M41.4 469.5L41.4 466.9L43.4 459.0L45.4 452.5L47.4 448.0L49.4 445.2L51.4 444.1L53.4 445.8L55.4 451.9L57.4 459.7L59.4 466.5L61.4 469.6L63.4 468.5L65.4 465.3L67.4 460.8L69.4 455.5L71.4 449.9L73.4 442.4L75.4 432.8L77.4 422.0L79.4 410.9L81.4 400.5L83.4 391.5L85.4 382.8L87.4 374.3L89.4 366.3L91.4 358.9L93.4 352.6L95.4 347.2L97.4 342.6L99.4 338.2L101.4 333.6L103.4 311.7L105.4 274.2L107.4 257.4L109.4 250.3L111.4 249.2L113.4 247.5L115.4 244.7L117.4 240.8L119.4 236.0L121.4 230.5L123.4 224.4L125.4 218.0L127.4 211.4L129.4 204.7L131.4 198.1L133.4 191.8L135.4 186.0L137.4 180.8L139.4 176.4L141.4 173.0L143.4 170.7L145.4 169.4L147.4 168.7L149.4 168.4L151.4 170.0L153.4 172.9L155.4 176.1L157.4 179.5L159.4 182.7L161.4 185.8L163.4 189.0L165.4 192.3L167.4 195.4L169.4 198.1L171.4 200.3L173.4 202.1L175.4 203.5L177.4 204.7L179.4 205.9L181.4 207.0L183.4 208.1L185.4 209.4L187.4 211.0L189.4 212.7L191.4 214.6L193.4 216.5L195.4 218.5L197.4 220.7L199.4 223.1L201.4 226.2L203.4 230.5L205.4 235.7L207.4 241.0L209.4 245.4L211.4 247.5L213.4 247.3L215.4 246.6L217.4 245.6L219.4 244.3L221.4 242.8L223.4 241.3L225.4 239.1L227.4 236.1L229.4 232.6L231.4 229.0L233.4 225.7L235.4 223.0L237.4 220.5L239.4 218.2L241.4 216.3L243.4 214.8L245.4 214.0L247.4 213.5L249.4 213.1L251.4 212.8L253.4 212.8L255.4 212.8L257.4 212.9L259.4 213.0L261.4 213.1L263.4 213.3L265.4 213.4L267.4 213.7L269.4 214.2L271.4 214.9L273.4 215.8L275.4 217.1L277.4 218.6L279.4 220.7L281.4 223.7L283.4 227.5L285.4 231.7L287.4 236.0L289.4 240.6L291.4 245.4L293.4 250.7L295.4 256.4L297.4 262.7L299.4 269.3L301.4 275.0L303.4 279.6L305.4 284.6L307.4 289.7L309.4 294.5L311.4 298.9L313.4 302.8L315.4 305.9L317.4 308.4L319.4 310.4L321.4 311.8L323.4 312.5L325.4 312.3L327.4 311.7L329.4 311.3L331.4 311.6L333.4 312.7L335.4 314.1L337.4 315.1L339.4 316.0L341.4 316.7L343.4 317.5L345.4 318.2L347.4 318.9L349.4 319.6L351.4 320.2L353.4 321.2L355.4 323.5L357.4 327.2L359.4 331.4L361.4 335.4L363.4 338.3L365.4 339.2L367.4 337.3L369.4 331.0L371.4 322.3L373.4 313.2L375.4 305.1L377.4 299.2L379.4 297.3L381.4 298.4L383.4 303.9L385.4 312.2L387.4 321.9L389.4 331.2L391.4 337.9L393.4 339.8L395.4 339.0L397.4 336.9L399.4 334.1L401.4 331.0L403.4 328.2L405.4 326.1L407.4 325.2L409.4 324.9L411.4 324.6L413.4 324.2L415.4 323.8L417.4 329.1L419.4 343.8L421.4 356.0L423.4 357.3L425.4 356.8L427.4 355.3L429.4 348.5L431.4 333.7L433.4 321.8L435.4 316.0L437.4 313.2L439.4 310.8L441.4 308.6L443.4 306.3L445.4 304.0L447.4 301.4L449.4 297.9L451.4 293.3L453.4 289.9L455.4 288.9L457.4 289.5L459.4 290.8L461.4 292.7L463.4 295.1L465.4 298.6L467.4 302.8L469.4 307.1L471.4 311.3L473.4 315.7L475.4 320.6L477.4 326.2L479.4 333.5L481.4 341.3L483.4 346.6L485.4 346.4L487.4 344.6L489.4 341.3L491.4 334.7L493.4 325.5L495.4 319.6L497.4 318.6L499.4 322.5L501.4 329.0L503.4 336.9L505.4 344.8L507.4 351.0L509.4 352.2L511.4 349.7L513.4 344.6L515.4 340.4L517.4 339.6L519.4 342.0L521.4 347.8L523.4 354.7L525.4 360.7L527.4 363.3L529.4 361.2L531.4 356.1L533.4 349.2L535.4 341.9L537.4 335.0L539.4 329.5L541.4 326.2L543.4 325.4L545.4 329.0L547.4 336.6L549.4 346.0L551.4 354.6L553.4 358.0L555.4 357.0L557.4 353.8L559.4 349.1L561.4 343.8L563.4 338.3L565.4 333.1L567.4 328.2L569.4 322.8L571.4 316.9L573.4 311.0L575.4 305.3L577.4 300.2L579.4 296.0L581.4 292.8L583.4 291.2L585.4 291.1L587.4 293.5L589.4 298.1L591.4 304.0L593.4 310.7L595.4 317.2L597.4 325.8L599.4 336.1L601.4 345.9L603.4 351.3L605.4 353.1L607.4 353.9L609.4 354.3L611.4 354.0L613.4 349.1L615.4 341.3L617.4 333.3L619.4 327.2L621.4 322.6L623.4 318.5L625.4 315.1L627.4 313.0L629.4 312.8L631.4 314.7L633.4 319.2L635.4 325.2L637.4 332.3L639.4 339.5L641.4 345.9L643.4 350.4L645.4 351.1L647.4 350.7L649.4 349.4L651.4 347.5L653.4 345.1L655.4 342.1L657.4 338.7L659.4 335.2L661.4 331.7L663.4 328.2L665.4 324.2L667.4 319.5L669.4 314.6L671.4 310.1L673.4 306.5L675.4 304.1L677.4 303.5L679.4 305.1L681.4 309.1L683.4 314.8L685.4 321.7L687.4 329.0L689.4 336.0L691.4 341.7L693.4 344.4L695.4 344.0L697.4 340.6L699.4 335.7L701.4 330.5L703.4 325.8L705.4 320.7L707.4 315.5L709.4 310.8L711.4 307.0L713.4 305.1L715.4 305.8L717.4 310.1L719.4 317.9L721.4 327.5L723.4 337.2L725.4 344.1L727.4 346.1L729.4 340.3L731.4 329.8L733.4 318.0L735.4 308.1L737.4 303.5L739.4 302.0L741.4 301.3L743.4 300.8L745.4 301.0L747.4 306.2L749.4 316.4L751.4 329.0L753.4 341.1L755.4 350.5L757.4 358.7L759.4 366.9L761.4 375.8L763.4 386.1L765.4 398.5L767.4 412.9L769.4 429.5L771.3 446.8L771.3 469.5" fill="none" stroke="#000" stroke-width="1" stroke-linejoin="round"/><path d="M41.3 501.0L41.3 478.1L43.3 469.7L45.3 462.7L47.3 457.8L49.3 454.8L51.3 453.6L53.3 455.4L55.3 461.8L57.3 470.1L59.3 477.5L61.3 480.7L63.3 478.9L65.3 474.6L67.3 469.4L69.3 463.0L71.3 456.9L73.3 451.0L75.3 442.9L77.3 432.1L79.3 420.7L81.3 409.8L83.3 400.3L85.3 391.2L87.3 382.2L89.3 373.6L91.3 365.8L93.3 358.8L95.3 353.0L97.3 347.8L99.3 343.0L101.3 336.5L103.3 312.3L105.3 274.8L107.3 257.8L109.3 252.8L111.3 251.9L113.3 250.3L115.3 247.6L117.3 243.9L119.3 239.3L121.3 234.0L123.3 228.3L125.3 222.1L127.3 215.7L129.3 209.3L131.3 203.0L133.3 196.9L135.3 191.3L137.3 186.3L139.3 182.0L141.3 178.6L143.3 176.2L145.3 174.8L147.3 174.2L149.3 173.8L151.3 175.3L153.3 178.1L155.3 181.6L157.3 185.3L159.3 188.9L161.3 192.2L163.3 195.7L165.3 199.2L167.3 202.5L169.3 205.6L171.3 208.2L173.3 210.2L175.3 211.9L177.3 213.4L179.3 214.7L181.3 216.0L183.3 217.4L185.3 218.8L187.3 220.6L189.3 222.5L191.3 224.5L193.3 226.6L195.3 228.8L197.3 231.2L199.3 233.8L201.3 237.0L203.3 241.4L205.3 247.2L207.3 253.4L209.3 259.0L211.3 262.5L213.3 262.8L215.3 262.3L217.3 261.5L219.3 260.3L221.3 259.0L223.3 257.6L225.3 255.9L227.3 253.3L229.3 250.0L231.3 246.5L233.3 243.1L235.3 240.2L237.3 237.7L239.3 235.4L241.3 233.3L243.3 231.7L245.3 230.7L247.3 230.1L249.3 229.7L251.3 229.4L253.3 229.3L255.3 229.3L257.3 229.4L259.3 229.4L261.3 229.6L263.3 229.7L265.3 229.8L267.3 230.0L269.3 230.5L271.3 231.3L273.3 232.4L275.3 233.8L277.3 235.6L279.3 237.9L281.3 241.2L283.3 245.6L285.3 250.6L287.3 255.8L289.3 261.0L291.3 266.4L293.3 271.9L295.3 277.4L297.3 282.7L299.3 287.4L301.3 290.9L303.3 294.3L305.3 299.6L307.3 306.8L309.3 314.5L311.3 321.4L313.3 327.3L315.3 332.0L317.3 335.5L319.3 337.9L321.3 339.3L323.3 339.3L325.3 338.2L327.3 335.6L329.3 332.8L331.3 332.1L333.3 333.4L335.3 337.1L337.3 340.8L339.3 343.7L341.3 345.8L343.3 347.5L345.3 348.7L347.3 349.7L349.3 350.6L351.3 351.2L353.3 351.8L355.3 352.9L357.3 355.8L359.3 359.6L361.3 363.3L363.3 365.9L365.3 366.2L367.3 364.2L369.3 358.5L371.3 349.9L373.3 340.3L375.3 331.3L377.3 324.2L379.3 320.5L381.3 319.9L383.3 324.2L385.3 332.3L387.3 342.9L389.3 354.3L391.3 364.7L393.3 371.0L395.3 372.7L397.3 372.5L399.3 370.4L401.3 367.6L403.3 364.5L405.3 361.7L407.3 359.9L409.3 359.6L411.3 359.5L413.3 359.4L415.3 359.2L417.3 360.3L419.3 369.3L421.3 389.0L423.3 400.5L425.3 401.0L427.3 400.7L429.3 398.8L431.3 385.4L433.3 367.2L435.3 354.7L437.3 349.2L439.3 346.1L441.3 343.6L443.3 341.2L445.3 338.9L447.3 336.3L449.3 333.3L451.3 328.8L453.3 323.4L455.3 319.9L457.3 319.7L459.3 320.6L461.3 322.3L463.3 324.5L465.3 327.5L467.3 331.7L469.3 336.6L471.3 341.6L473.3 346.5L475.3 351.8L477.3 357.6L479.3 364.9L481.3 374.3L483.3 384.1L485.3 388.7L487.3 388.9L489.3 385.8L491.3 381.5L493.3 371.7L495.3 360.0L497.3 352.5L499.3 353.1L501.3 357.6L503.3 365.7L505.3 375.4L507.3 384.8L509.3 391.3L511.3 393.2L513.3 388.6L515.3 381.9L517.3 376.4L519.3 376.4L521.3 379.7L523.3 387.1L525.3 395.8L527.3 402.9L529.3 405.2L531.3 402.9L533.3 396.2L535.3 387.7L537.3 378.8L539.3 370.6L541.3 364.1L543.3 360.1L545.3 360.1L547.3 364.4L549.3 374.1L551.3 385.8L553.3 395.9L555.3 400.5L557.3 398.9L559.3 394.7L561.3 388.9L563.3 382.3L565.3 375.6L567.3 369.6L569.3 363.8L571.3 357.6L573.3 350.9L575.3 344.1L577.3 337.7L579.3 331.9L581.3 327.1L583.3 323.5L585.3 321.4L587.3 321.7L589.3 324.1L591.3 329.3L593.3 336.2L595.3 343.7L597.3 351.5L599.3 361.2L601.3 373.4L603.3 385.3L605.3 392.3L607.3 393.6L609.3 394.1L611.3 394.4L613.3 393.7L615.3 388.6L617.3 378.9L619.3 369.2L621.3 361.5L623.3 356.4L625.3 351.7L627.3 347.8L629.3 345.1L631.3 344.9L633.3 346.8L635.3 352.0L637.3 359.2L639.3 367.7L641.3 376.7L643.3 384.8L645.3 390.7L647.3 392.3L649.3 391.7L651.3 390.1L653.3 387.7L655.3 384.7L657.3 381.2L659.3 377.3L661.3 373.2L663.3 369.2L665.3 365.4L667.3 361.1L669.3 356.0L671.3 350.6L673.3 345.5L675.3 341.3L677.3 338.3L679.3 337.5L681.3 338.6L683.3 343.0L685.3 349.5L687.3 357.6L689.3 366.5L691.3 375.2L693.3 382.7L695.3 387.3L697.3 387.4L699.3 384.3L701.3 378.3L703.3 372.0L705.3 366.2L707.3 360.8L709.3 354.8L711.3 349.3L713.3 344.7L715.3 341.9L717.3 342.1L719.3 345.9L721.3 354.7L723.3 366.2L725.3 378.4L727.3 388.4L729.3 392.9L731.3 388.3L733.3 377.0L735.3 363.2L737.3 350.7L739.3 343.5L741.3 341.6L743.3 341.0L745.3 340.5L747.3 340.5L749.3 344.2L751.3 354.7L753.3 369.0L755.3 383.9L757.3 395.7L759.3 405.8L761.3 415.4L763.3 425.6L765.3 437.2L767.3 451.2L769.3 467.6L771.3 471.0L773.3 471.0L774.0 471.0L774.0 471.0L112 471.0L112 501.0L41.3 501.0Z" fill="#0055ff"/><path d="M41.3 471.0L41.3 478.1L43.3 469.7L45.3 462.7L47.3 457.8L49.3 454.8L51.3 453.6L53.3 455.4L55.3 461.8L57.3 470.1L59.3 477.5L61.3 480.7L63.3 478.9L65.3 474.6L67.3 469.4L69.3 463.0L71.3 456.9L73.3 451.0L75.3 442.9L77.3 432.1L79.3 420.7L81.3 409.8L83.3 400.3L85.3 391.2L87.3 382.2L89.3 373.6L91.3 365.8L93.3 358.8L95.3 353.0L97.3 347.8L99.3 343.0L101.3 336.5L103.3 312.3L105.3 274.8L107.3 257.8L109.3 252.8L111.3 251.9L113.3 250.3L115.3 247.6L117.3 243.9L119.3 239.3L121.3 234.0L123.3 228.3L125.3 222.1L127.3 215.7L129.3 209.3L131.3 203.0L133.3 196.9L135.3 191.3L137.3 186.3L139.3 182.0L141.3 178.6L143.3 176.2L145.3 174.8L147.3 174.2L149.3 173.8L151.3 175.3L153.3 178.1L155.3 181.6L157.3 185.3L159.3 188.9L161.3 192.2L163.3 195.7L165.3 199.2L167.3 202.5L169.3 205.6L171.3 208.2L173.3 210.2L175.3 211.9L177.3 213.4L179.3 214.7L181.3 216.0L183.3 217.4L185.3 218.8L187.3 220.6L189.3 222.5L191.3 224.5L193.3 226.6L195.3 228.8L197.3 231.2L199.3 233.8L201.3 237.0L203.3 241.4L205.3 247.2L207.3 253.4L209.3 259.0L211.3 262.5L213.3 262.8L215.3 262.3L217.3 261.5L219.3 260.3L221.3 259.0L223.3 257.6L225.3 255.9L227.3 253.3L229.3 250.0L231.3 246.5L233.3 243.1L235.3 240.2L237.3 237.7L239.3 235.4L241.3 233.3L243.3 231.7L245.3 230.7L247.3 230.1L249.3 229.7L251.3 229.4L253.3 229.3L255.3 229.3L257.3 229.4L259.3 229.4L261.3 229.6L263.3 229.7L265.3 229.8L267.3 230.0L269.3 230.5L271.3 231.3L273.3 232.4L275.3 233.8L277.3 235.6L279.3 237.9L281.3 241.2L283.3 245.6L285.3 250.6L287.3 255.8L289.3 261.0L291.3 266.4L293.3 271.9L295.3 277.4L297.3 282.7L299.3 287.4L301.3 290.9L303.3 294.3L305.3 299.6L307.3 306.8L309.3 314.5L311.3 321.4L313.3 327.3L315.3 332.0L317.3 335.5L319.3 337.9L321.3 339.3L323.3 339.3L325.3 338.2L327.3 335.6L329.3 332.8L331.3 332.1L333.3 333.4L335.3 337.1L337.3 340.8L339.3 343.7L341.3 345.8L343.3 347.5L345.3 348.7L347.3 349.7L349.3 350.6L351.3 351.2L353.3 351.8L355.3 352.9L357.3 355.8L359.3 359.6L361.3 363.3L363.3 365.9L365.3 366.2L367.3 364.2L369.3 358.5L371.3 349.9L373.3 340.3L375.3 331.3L377.3 324.2L379.3 320.5L381.3 319.9L383.3 324.2L385.3 332.3L387.3 342.9L389.3 354.3L391.3 364.7L393.3 371.0L395.3 372.7L397.3 372.5L399.3 370.4L401.3 367.6L403.3 364.5L405.3 361.7L407.3 359.9L409.3 359.6L411.3 359.5L413.3 359.4L415.3 359.2L417.3 360.3L419.3 369.3L421.3 389.0L423.3 400.5L425.3 401.0L427.3 400.7L429.3 398.8L431.3 385.4L433.3 367.2L435.3 354.7L437.3 349.2L439.3 346.1L441.3 343.6L443.3 341.2L445.3 338.9L447.3 336.3L449.3 333.3L451.3 328.8L453.3 323.4L455.3 319.9L457.3 319.7L459.3 320.6L461.3 322.3L463.3 324.5L465.3 327.5L467.3 331.7L469.3 336.6L471.3 341.6L473.3 346.5L475.3 351.8L477.3 357.6L479.3 364.9L481.3 374.3L483.3 384.1L485.3 388.7L487.3 388.9L489.3 385.8L491.3 381.5L493.3 371.7L495.3 360.0L497.3 352.5L499.3 353.1L501.3 357.6L503.3 365.7L505.3 375.4L507.3 384.8L509.3 391.3L511.3 393.2L513.3 388.6L515.3 381.9L517.3 376.4L519.3 376.4L521.3 379.7L523.3 387.1L525.3 395.8L527.3 402.9L529.3 405.2L531.3 402.9L533.3 396.2L535.3 387.7L537.3 378.8L539.3 370.6L541.3 364.1L543.3 360.1L545.3 360.1L547.3 364.4L549.3 374.1L551.3 385.8L553.3 395.9L555.3 400.5L557.3 398.9L559.3 394.7L561.3 388.9L563.3 382.3L565.3 375.6L567.3 369.6L569.3 363.8L571.3 357.6L573.3 350.9L575.3 344.1L577.3 337.7L579.3 331.9L581.3 327.1L583.3 323.5L585.3 321.4L587.3 321.7L589.3 324.1L591.3 329.3L593.3 336.2L595.3 343.7L597.3 351.5L599.3 361.2L601.3 373.4L603.3 385.3L605.3 392.3L607.3 393.6L609.3 394.1L611.3 394.4L613.3 393.7L615.3 388.6L617.3 378.9L619.3 369.2L621.3 361.5L623.3 356.4L625.3 351.7L627.3 347.8L629.3 345.1L631.3 344.9L633.3 346.8L635.3 352.0L637.3 359.2L639.3 367.7L641.3 376.7L643.3 384.8L645.3 390.7L647.3 392.3L649.3 391.7L651.3 390.1L653.3 387.7L655.3 384.7L657.3 381.2L659.3 377.3L661.3 373.2L663.3 369.2L665.3 365.4L667.3 361.1L669.3 356.0L671.3 350.6L673.3 345.5L675.3 341.3L677.3 338.3L679.3 337.5L681.3 338.6L683.3 343.0L685.3 349.5L687.3 357.6L689.3 366.5L691.3 375.2L693.3 382.7L695.3 387.3L697.3 387.4L699.3 384.3L701.3 378.3L703.3 372.0L705.3 366.2L707.3 360.8L709.3 354.8L711.3 349.3L713.3 344.7L715.3 341.9L717.3 342.1L719.3 345.9L721.3 354.7L723.3 366.2L725.3 378.4L727.3 388.4L729.3 392.9L731.3 388.3L733.3 377.0L735.3 363.2L737.3 350.7L739.3 343.5L741.3 341.6L743.3 341.0L745.3 340.5L747.3 340.5L749.3 344.2L751.3 354.7L753.3 369.0L755.3 383.9L757.3 395.7L759.3 405.8L761.3 415.4L763.3 425.6L765.3 437.2L767.3 451.2L769.3 467.6L769.7 471.0" fill="none" stroke="#000" stroke-width="1" stroke-linejoin="round"/><path d="M41.3 501.0L41.3 489.4L43.3 480.5L45.3 473.1L47.3 467.8L49.3 464.6L51.3 463.3L53.3 465.0L55.3 471.8L57.3 480.7L59.3 487.0L61.3 484.8L63.3 480.6L65.3 475.7L67.3 470.4L69.3 463.9L71.3 457.6L73.3 452.1L75.3 446.5L77.3 440.3L79.3 430.4L81.3 419.2L83.3 409.3L85.3 399.7L87.3 390.2L89.3 381.2L91.3 372.8L93.3 365.3L95.3 358.9L97.3 353.2L99.3 347.6L101.3 337.6L103.3 312.9L105.3 275.4L107.3 258.4L109.3 255.7L111.3 254.9L113.3 253.4L115.3 250.7L117.3 247.2L119.3 242.8L121.3 237.7L123.3 232.2L125.3 226.3L127.3 220.1L129.3 214.0L131.3 207.9L133.3 202.0L135.3 196.6L137.3 191.7L139.3 187.6L141.3 184.3L143.3 181.9L145.3 180.6L147.3 179.8L149.3 179.4L151.3 180.5L153.3 183.5L155.3 187.3L157.3 191.3L159.3 195.3L161.3 199.0L163.3 202.6L165.3 206.3L167.3 210.0L169.3 213.4L171.3 216.3L173.3 218.7L175.3 220.7L177.3 222.4L179.3 224.0L181.3 225.5L183.3 227.1L185.3 228.7L187.3 230.6L189.3 232.8L191.3 235.0L193.3 237.3L195.3 239.7L197.3 242.3L199.3 245.2L201.3 248.5L203.3 253.0L205.3 259.2L207.3 266.3L209.3 273.1L211.3 278.1L213.3 279.4L215.3 279.1L217.3 278.4L219.3 277.5L221.3 276.3L223.3 275.1L225.3 273.6L227.3 271.5L229.3 268.5L231.3 265.2L233.3 261.9L235.3 258.9L237.3 256.3L239.3 254.0L241.3 251.8L243.3 250.1L245.3 248.8L247.3 248.1L249.3 247.7L251.3 247.4L253.3 247.2L255.3 247.2L257.3 247.3L259.3 247.3L261.3 247.4L263.3 247.5L265.3 247.6L267.3 247.8L269.3 248.2L271.3 249.0L273.3 250.3L275.3 251.9L277.3 254.0L279.3 256.5L281.3 260.0L283.3 264.9L285.3 270.7L287.3 276.8L289.3 282.6L291.3 288.3L293.3 293.5L295.3 297.9L297.3 300.7L299.3 300.9L301.3 299.4L303.3 298.7L305.3 300.7L307.3 308.8L309.3 319.9L311.3 331.2L313.3 341.3L315.3 349.7L317.3 356.2L319.3 360.5L321.3 362.7L323.3 362.4L325.3 359.9L327.3 354.9L329.3 348.6L331.3 344.4L333.3 343.7L335.3 349.1L337.3 356.8L339.3 364.2L341.3 370.3L343.3 374.9L345.3 378.2L347.3 380.7L349.3 382.3L351.3 383.4L353.3 384.0L355.3 384.2L357.3 385.6L359.3 388.0L361.3 390.4L363.3 391.1L365.3 390.1L367.3 386.4L369.3 380.2L371.3 371.6L373.3 362.0L375.3 352.8L377.3 345.4L379.3 340.6L381.3 339.6L383.3 342.4L385.3 349.4L387.3 359.7L389.3 371.7L391.3 384.0L393.3 394.5L395.3 401.3L397.3 404.4L399.3 405.4L401.3 404.5L403.3 402.6L405.3 400.2L407.3 398.1L409.3 397.5L411.3 397.6L413.3 398.1L415.3 398.3L417.3 398.5L419.3 400.5L421.3 418.5L423.3 442.2L425.3 449.2L427.3 450.0L429.3 450.1L431.3 445.6L433.3 426.5L435.3 404.5L437.3 391.1L439.3 386.2L441.3 382.8L443.3 380.1L445.3 377.6L447.3 375.1L449.3 372.2L451.3 368.4L453.3 362.9L455.3 356.9L457.3 353.9L459.3 353.8L461.3 355.2L463.3 357.4L465.3 359.9L467.3 363.7L469.3 368.6L471.3 374.3L473.3 380.0L475.3 385.8L477.3 392.0L479.3 399.1L481.3 408.0L483.3 420.3L485.3 432.2L487.3 436.7L489.3 435.5L491.3 431.8L493.3 424.9L495.3 412.7L497.3 398.1L499.3 390.6L501.3 390.4L503.3 397.1L505.3 407.0L507.3 418.7L509.3 430.0L511.3 437.4L513.3 437.5L515.3 432.0L517.3 423.2L519.3 417.4L521.3 416.3L523.3 421.9L525.3 431.2L527.3 441.8L529.3 450.7L531.3 451.8L533.3 449.0L535.3 440.8L537.3 430.5L539.3 419.9L541.3 410.2L543.3 402.6L545.3 398.0L547.3 398.1L549.3 404.3L551.3 416.2L553.3 430.6L555.3 443.2L557.3 446.8L559.3 445.9L561.3 440.4L563.3 433.1L565.3 425.1L567.3 417.1L569.3 409.9L571.3 403.4L573.3 396.2L575.3 388.6L577.3 380.9L579.3 373.6L581.3 367.0L583.3 361.6L585.3 357.6L587.3 355.2L589.3 355.3L591.3 358.2L593.3 364.1L595.3 371.8L597.3 380.4L599.3 389.4L601.3 400.5L603.3 414.9L605.3 428.8L607.3 437.8L609.3 438.8L611.3 439.1L613.3 439.3L615.3 438.3L617.3 432.6L619.3 421.0L621.3 409.1L623.3 399.9L625.3 393.9L627.3 388.6L629.3 384.1L631.3 381.0L633.3 380.4L635.3 382.5L637.3 388.3L639.3 396.8L641.3 406.9L643.3 417.8L645.3 427.8L647.3 435.3L649.3 438.4L651.3 437.7L653.3 435.7L655.3 432.8L657.3 429.1L659.3 424.8L661.3 420.3L663.3 415.6L665.3 411.0L667.3 406.6L669.3 402.1L671.3 396.6L673.3 390.6L675.3 384.9L677.3 380.0L679.3 376.3L681.3 375.2L683.3 375.8L685.3 380.4L687.3 387.8L689.3 397.1L691.3 407.7L693.3 418.4L695.3 427.9L697.3 434.8L699.3 435.7L701.3 433.4L703.3 426.4L705.3 418.5L707.3 411.4L709.3 405.4L711.3 398.7L713.3 392.3L715.3 386.8L717.3 382.9L719.3 382.5L721.3 385.4L723.3 394.9L725.3 408.3L727.3 423.3L729.3 436.7L731.3 444.3L733.3 442.0L735.3 430.3L737.3 414.4L739.3 399.2L741.3 388.5L743.3 385.5L745.3 384.9L747.3 384.6L749.3 384.5L751.3 386.4L753.3 396.7L755.3 412.2L757.3 429.9L759.3 444.9L761.3 457.2L763.3 468.6L765.3 472.5L767.3 472.5L769.3 472.5L771.3 472.5L773.3 472.5L775.3 472.5L776.7 472.5L776.7 472.5L112 472.5L112 501.0L41.3 501.0Z" fill="#0055ff"/><path d="M41.3 472.5L41.3 489.4L43.3 480.5L45.3 473.1L47.3 467.8L49.3 464.6L51.3 463.3L53.3 465.0L55.3 471.8L57.3 480.7L59.3 487.0L61.3 484.8L63.3 480.6L65.3 475.7L67.3 470.4L69.3 463.9L71.3 457.6L73.3 452.1L75.3 446.5L77.3 440.3L79.3 430.4L81.3 419.2L83.3 409.3L85.3 399.7L87.3 390.2L89.3 381.2L91.3 372.8L93.3 365.3L95.3 358.9L97.3 353.2L99.3 347.6L101.3 337.6L103.3 312.9L105.3 275.4L107.3 258.4L109.3 255.7L111.3 254.9L113.3 253.4L115.3 250.7L117.3 247.2L119.3 242.8L121.3 237.7L123.3 232.2L125.3 226.3L127.3 220.1L129.3 214.0L131.3 207.9L133.3 202.0L135.3 196.6L137.3 191.7L139.3 187.6L141.3 184.3L143.3 181.9L145.3 180.6L147.3 179.8L149.3 179.4L151.3 180.5L153.3 183.5L155.3 187.3L157.3 191.3L159.3 195.3L161.3 199.0L163.3 202.6L165.3 206.3L167.3 210.0L169.3 213.4L171.3 216.3L173.3 218.7L175.3 220.7L177.3 222.4L179.3 224.0L181.3 225.5L183.3 227.1L185.3 228.7L187.3 230.6L189.3 232.8L191.3 235.0L193.3 237.3L195.3 239.7L197.3 242.3L199.3 245.2L201.3 248.5L203.3 253.0L205.3 259.2L207.3 266.3L209.3 273.1L211.3 278.1L213.3 279.4L215.3 279.1L217.3 278.4L219.3 277.5L221.3 276.3L223.3 275.1L225.3 273.6L227.3 271.5L229.3 268.5L231.3 265.2L233.3 261.9L235.3 258.9L237.3 256.3L239.3 254.0L241.3 251.8L243.3 250.1L245.3 248.8L247.3 248.1L249.3 247.7L251.3 247.4L253.3 247.2L255.3 247.2L257.3 247.3L259.3 247.3L261.3 247.4L263.3 247.5L265.3 247.6L267.3 247.8L269.3 248.2L271.3 249.0L273.3 250.3L275.3 251.9L277.3 254.0L279.3 256.5L281.3 260.0L283.3 264.9L285.3 270.7L287.3 276.8L289.3 282.6L291.3 288.3L293.3 293.5L295.3 297.9L297.3 300.7L299.3 300.9L301.3 299.4L303.3 298.7L305.3 300.7L307.3 308.8L309.3 319.9L311.3 331.2L313.3 341.3L315.3 349.7L317.3 356.2L319.3 360.5L321.3 362.7L323.3 362.4L325.3 359.9L327.3 354.9L329.3 348.6L331.3 344.4L333.3 343.7L335.3 349.1L337.3 356.8L339.3 364.2L341.3 370.3L343.3 374.9L345.3 378.2L347.3 380.7L349.3 382.3L351.3 383.4L353.3 384.0L355.3 384.2L357.3 385.6L359.3 388.0L361.3 390.4L363.3 391.1L365.3 390.1L367.3 386.4L369.3 380.2L371.3 371.6L373.3 362.0L375.3 352.8L377.3 345.4L379.3 340.6L381.3 339.6L383.3 342.4L385.3 349.4L387.3 359.7L389.3 371.7L391.3 384.0L393.3 394.5L395.3 401.3L397.3 404.4L399.3 405.4L401.3 404.5L403.3 402.6L405.3 400.2L407.3 398.1L409.3 397.5L411.3 397.6L413.3 398.1L415.3 398.3L417.3 398.5L419.3 400.5L421.3 418.5L423.3 442.2L425.3 449.2L427.3 450.0L429.3 450.1L431.3 445.6L433.3 426.5L435.3 404.5L437.3 391.1L439.3 386.2L441.3 382.8L443.3 380.1L445.3 377.6L447.3 375.1L449.3 372.2L451.3 368.4L453.3 362.9L455.3 356.9L457.3 353.9L459.3 353.8L461.3 355.2L463.3 357.4L465.3 359.9L467.3 363.7L469.3 368.6L471.3 374.3L473.3 380.0L475.3 385.8L477.3 392.0L479.3 399.1L481.3 408.0L483.3 420.3L485.3 432.2L487.3 436.7L489.3 435.5L491.3 431.8L493.3 424.9L495.3 412.7L497.3 398.1L499.3 390.6L501.3 390.4L503.3 397.1L505.3 407.0L507.3 418.7L509.3 430.0L511.3 437.4L513.3 437.5L515.3 432.0L517.3 423.2L519.3 417.4L521.3 416.3L523.3 421.9L525.3 431.2L527.3 441.8L529.3 450.7L531.3 451.8L533.3 449.0L535.3 440.8L537.3 430.5L539.3 419.9L541.3 410.2L543.3 402.6L545.3 398.0L547.3 398.1L549.3 404.3L551.3 416.2L553.3 430.6L555.3 443.2L557.3 446.8L559.3 445.9L561.3 440.4L563.3 433.1L565.3 425.1L567.3 417.1L569.3 409.9L571.3 403.4L573.3 396.2L575.3 388.6L577.3 380.9L579.3 373.6L581.3 367.0L583.3 361.6L585.3 357.6L587.3 355.2L589.3 355.3L591.3 358.2L593.3 364.1L595.3 371.8L597.3 380.4L599.3 389.4L601.3 400.5L603.3 414.9L605.3 428.8L607.3 437.8L609.3 438.8L611.3 439.1L613.3 439.3L615.3 438.3L617.3 432.6L619.3 421.0L621.3 409.1L623.3 399.9L625.3 393.9L627.3 388.6L629.3 384.1L631.3 381.0L633.3 380.4L635.3 382.5L637.3 388.3L639.3 396.8L641.3 406.9L643.3 417.8L645.3 427.8L647.3 435.3L649.3 438.4L651.3 437.7L653.3 435.7L655.3 432.8L657.3 429.1L659.3 424.8L661.3 420.3L663.3 415.6L665.3 411.0L667.3 406.6L669.3 402.1L671.3 396.6L673.3 390.6L675.3 384.9L677.3 380.0L679.3 376.3L681.3 375.2L683.3 375.8L685.3 380.4L687.3 387.8L689.3 397.1L691.3 407.7L693.3 418.4L695.3 427.9L697.3 434.8L699.3 435.7L701.3 433.4L703.3 426.4L705.3 418.5L707.3 411.4L709.3 405.4L711.3 398.7L713.3 392.3L715.3 386.8L717.3 382.9L719.3 382.5L721.3 385.4L723.3 394.9L725.3 408.3L727.3 423.3L729.3 436.7L731.3 444.3L733.3 442.0L735.3 430.3L737.3 414.4L739.3 399.2L741.3 388.5L743.3 385.5L745.3 384.9L747.3 384.6L749.3 384.5L751.3 386.4L753.3 396.7L755.3 412.2L757.3 429.9L759.3 444.9L761.3 457.2L763.3 468.6L764.0 472.5" fill="none" stroke="#000" stroke-width="1" stroke-linejoin="round"/><path d="M41.3 501.0L41.3 498.2L43.3 491.4L45.3 483.6L47.3 478.0L49.3 474.5L51.3 473.1L53.3 474.8L55.3 481.9L57.3 490.1L59.3 488.3L61.3 485.1L63.3 481.1L65.3 476.1L67.3 470.9L69.3 464.4L71.3 458.0L73.3 452.5L75.3 447.0L77.3 441.4L79.3 435.5L81.3 427.8L83.3 418.2L85.3 408.1L87.3 398.1L89.3 388.7L91.3 379.8L93.3 371.9L95.3 364.9L97.3 358.5L99.3 349.8L101.3 338.3L103.3 313.4L105.3 276.0L107.3 260.0L109.3 258.7L111.3 258.0L113.3 256.5L115.3 254.0L117.3 250.6L119.3 246.4L121.3 241.6L123.3 236.3L125.3 230.7L127.3 224.9L129.3 219.0L131.3 213.2L133.3 207.6L135.3 202.4L137.3 197.7L139.3 193.7L141.3 190.5L143.3 188.3L145.3 186.9L147.3 186.0L149.3 185.6L151.3 186.2L153.3 189.4L155.3 193.4L157.3 197.8L159.3 202.1L161.3 206.1L163.3 210.0L165.3 213.9L167.3 217.9L169.3 221.5L171.3 224.7L173.3 227.4L175.3 229.6L177.3 231.6L179.3 233.3L181.3 234.9L183.3 236.4L185.3 237.9L187.3 239.6L189.3 241.7L191.3 244.0L193.3 246.4L195.3 248.9L197.3 251.6L199.3 254.5L201.3 257.8L203.3 262.1L205.3 268.1L207.3 275.3L209.3 282.4L211.3 288.2L213.3 290.7L215.3 290.6L217.3 290.2L219.3 289.4L221.3 288.5L223.3 287.5L225.3 286.4L227.3 284.9L229.3 282.5L231.3 279.7L233.3 276.7L235.3 273.9L237.3 271.3L239.3 268.9L241.3 266.7L243.3 264.6L245.3 262.9L247.3 261.7L249.3 261.0L251.3 260.6L253.3 260.4L255.3 260.7L257.3 261.4L259.3 262.2L261.3 263.1L263.3 264.0L265.3 264.7L267.3 265.3L269.3 266.0L271.3 267.1L273.3 268.6L275.3 270.7L277.3 273.2L279.3 276.1L281.3 279.8L283.3 285.2L285.3 291.8L287.3 299.0L289.3 305.6L291.3 311.6L293.3 316.6L295.3 319.9L297.3 319.9L299.3 317.3L301.3 311.3L303.3 305.5L305.3 304.0L307.3 309.1L309.3 320.6L311.3 334.2L313.3 347.6L315.3 359.6L317.3 369.4L319.3 376.6L321.3 380.3L323.3 380.6L325.3 377.5L327.3 370.5L329.3 361.4L331.3 352.7L333.3 348.7L335.3 352.3L337.3 361.3L339.3 372.9L341.3 384.1L343.3 393.9L345.3 402.0L347.3 408.3L349.3 413.1L351.3 416.7L353.3 419.2L355.3 420.6L357.3 422.0L359.3 424.4L361.3 427.3L363.3 429.0L365.3 428.9L367.3 426.1L369.3 420.5L371.3 412.6L373.3 403.0L375.3 393.2L377.3 384.4L379.3 377.7L381.3 374.6L383.3 374.8L385.3 379.4L387.3 388.7L389.3 400.8L391.3 414.1L393.3 426.9L395.3 437.4L397.3 443.5L399.3 446.9L401.3 447.6L403.3 447.2L405.3 445.2L407.3 442.9L409.3 441.3L411.3 441.0L413.3 441.8L415.3 442.4L417.3 442.9L419.3 443.4L421.3 451.0L423.3 474.0L425.3 474.0L427.3 474.0L429.3 474.0L431.3 474.0L433.3 474.0L435.3 468.9L437.3 443.9L439.3 432.4L441.3 426.9L443.3 423.3L445.3 420.4L447.3 417.7L449.3 414.9L451.3 411.6L453.3 407.0L455.3 400.0L457.3 393.4L459.3 391.3L461.3 391.7L463.3 393.5L465.3 396.1L467.3 399.2L469.3 403.7L471.3 409.5L473.3 416.1L475.3 422.6L477.3 429.3L479.3 436.7L481.3 445.1L483.3 456.7L485.3 471.9L487.3 474.0L489.3 474.0L491.3 474.0L493.3 474.0L495.3 473.4L497.3 456.4L499.3 438.9L501.3 431.7L503.3 432.6L505.3 440.8L507.3 453.0L509.3 466.9L511.3 474.0L513.3 474.0L515.3 474.0L517.3 474.0L519.3 468.2L521.3 461.5L523.3 461.7L525.3 468.5L527.3 474.0L529.3 474.0L531.3 474.0L533.3 474.0L535.3 474.0L537.3 474.0L539.3 474.0L541.3 465.0L543.3 453.6L545.3 444.8L547.3 440.2L549.3 439.6L551.3 448.0L553.3 462.8L555.3 474.0L557.3 474.0L559.3 474.0L561.3 474.0L563.3 474.0L565.3 474.0L567.3 472.3L569.3 462.8L571.3 454.3L573.3 447.0L575.3 438.8L577.3 430.1L579.3 421.4L581.3 413.2L583.3 405.8L585.3 399.6L587.3 395.0L589.3 392.6L591.3 392.1L593.3 395.7L595.3 402.3L597.3 411.1L599.3 420.9L601.3 430.9L603.3 443.9L605.3 460.8L607.3 474.0L609.3 474.0L611.3 474.0L613.3 474.0L615.3 474.0L617.3 474.0L619.3 474.0L621.3 467.8L623.3 453.4L625.3 442.5L627.3 435.3L629.3 429.4L631.3 424.3L633.3 420.7L635.3 419.4L637.3 421.8L639.3 428.2L641.3 438.0L643.3 450.0L645.3 463.0L647.3 474.0L649.3 474.0L651.3 474.0L653.3 474.0L655.3 474.0L657.3 474.0L659.3 474.0L661.3 473.3L663.3 467.9L665.3 462.5L667.3 457.2L669.3 452.3L671.3 447.4L673.3 441.4L675.3 434.9L677.3 428.5L679.3 422.8L681.3 418.5L683.3 416.5L685.3 417.0L687.3 421.5L689.3 429.7L691.3 440.3L693.3 452.7L695.3 465.5L697.3 474.0L699.3 474.0L701.3 474.0L703.3 474.0L705.3 474.0L707.3 470.4L709.3 461.7L711.3 454.8L713.3 447.4L715.3 440.0L717.3 433.5L719.3 428.7L721.3 426.9L723.3 429.2L725.3 438.7L727.3 453.8L729.3 471.7L731.3 474.0L733.3 474.0L735.3 474.0L737.3 474.0L739.3 472.2L741.3 453.8L743.3 439.5L745.3 434.1L747.3 433.3L749.3 433.1L751.3 433.0L753.3 433.6L755.3 442.8L757.3 459.0L759.3 474.0L761.3 474.0L763.3 474.0L765.3 474.0L767.3 474.0L769.3 474.0L771.3 474.0L773.3 474.0L775.3 474.0L777.3 474.0L779.3 474.0L779.4 474.0L779.4 474.0L112 474.0L112 501.0L41.3 501.0Z" fill="#0055ff"/><path d="M41.3 474.0L41.3 498.2L43.3 491.4L45.3 483.6L47.3 478.0L49.3 474.5L51.3 473.1L53.3 474.8L55.3 481.9L57.3 490.1L59.3 488.3L61.3 485.1L63.3 481.1L65.3 476.1L67.3 470.9L69.3 464.4L71.3 458.0L73.3 452.5L75.3 447.0L77.3 441.4L79.3 435.5L81.3 427.8L83.3 418.2L85.3 408.1L87.3 398.1L89.3 388.7L91.3 379.8L93.3 371.9L95.3 364.9L97.3 358.5L99.3 349.8L101.3 338.3L103.3 313.4L105.3 276.0L107.3 260.0L109.3 258.7L111.3 258.0L113.3 256.5L115.3 254.0L117.3 250.6L119.3 246.4L121.3 241.6L123.3 236.3L125.3 230.7L127.3 224.9L129.3 219.0L131.3 213.2L133.3 207.6L135.3 202.4L137.3 197.7L139.3 193.7L141.3 190.5L143.3 188.3L145.3 186.9L147.3 186.0L149.3 185.6L151.3 186.2L153.3 189.4L155.3 193.4L157.3 197.8L159.3 202.1L161.3 206.1L163.3 210.0L165.3 213.9L167.3 217.9L169.3 221.5L171.3 224.7L173.3 227.4L175.3 229.6L177.3 231.6L179.3 233.3L181.3 234.9L183.3 236.4L185.3 237.9L187.3 239.6L189.3 241.7L191.3 244.0L193.3 246.4L195.3 248.9L197.3 251.6L199.3 254.5L201.3 257.8L203.3 262.1L205.3 268.1L207.3 275.3L209.3 282.4L211.3 288.2L213.3 290.7L215.3 290.6L217.3 290.2L219.3 289.4L221.3 288.5L223.3 287.5L225.3 286.4L227.3 284.9L229.3 282.5L231.3 279.7L233.3 276.7L235.3 273.9L237.3 271.3L239.3 268.9L241.3 266.7L243.3 264.6L245.3 262.9L247.3 261.7L249.3 261.0L251.3 260.6L253.3 260.4L255.3 260.7L257.3 261.4L259.3 262.2L261.3 263.1L263.3 264.0L265.3 264.7L267.3 265.3L269.3 266.0L271.3 267.1L273.3 268.6L275.3 270.7L277.3 273.2L279.3 276.1L281.3 279.8L283.3 285.2L285.3 291.8L287.3 299.0L289.3 305.6L291.3 311.6L293.3 316.6L295.3 319.9L297.3 319.9L299.3 317.3L301.3 311.3L303.3 305.5L305.3 304.0L307.3 309.1L309.3 320.6L311.3 334.2L313.3 347.6L315.3 359.6L317.3 369.4L319.3 376.6L321.3 380.3L323.3 380.6L325.3 377.5L327.3 370.5L329.3 361.4L331.3 352.7L333.3 348.7L335.3 352.3L337.3 361.3L339.3 372.9L341.3 384.1L343.3 393.9L345.3 402.0L347.3 408.3L349.3 413.1L351.3 416.7L353.3 419.2L355.3 420.6L357.3 422.0L359.3 424.4L361.3 427.3L363.3 429.0L365.3 428.9L367.3 426.1L369.3 420.5L371.3 412.6L373.3 403.0L375.3 393.2L377.3 384.4L379.3 377.7L381.3 374.6L383.3 374.8L385.3 379.4L387.3 388.7L389.3 400.8L391.3 414.1L393.3 426.9L395.3 437.4L397.3 443.5L399.3 446.9L401.3 447.6L403.3 447.2L405.3 445.2L407.3 442.9L409.3 441.3L411.3 441.0L413.3 441.8L415.3 442.4L417.3 442.9L419.3 443.4L421.3 451.0L423.1 474.0M434.9 474.0L435.3 468.9L437.3 443.9L439.3 432.4L441.3 426.9L443.3 423.3L445.3 420.4L447.3 417.7L449.3 414.9L451.3 411.6L453.3 407.0L455.3 400.0L457.3 393.4L459.3 391.3L461.3 391.7L463.3 393.5L465.3 396.1L467.3 399.2L469.3 403.7L471.3 409.5L473.3 416.1L475.3 422.6L477.3 429.3L479.3 436.7L481.3 445.1L483.3 456.7L485.3 471.9L485.6 474.0M495.1 474.0L495.3 473.4L497.3 456.4L499.3 438.9L501.3 431.7L503.3 432.6L505.3 440.8L507.3 453.0L509.3 466.9L510.4 474.0M518.2 474.0L519.3 468.2L521.3 461.5L523.3 461.7L525.3 468.5L526.2 474.0M539.8 474.0L541.3 465.0L543.3 453.6L545.3 444.8L547.3 440.2L549.3 439.6L551.3 448.0L553.3 462.8L554.6 474.0M566.9 474.0L567.3 472.3L569.3 462.8L571.3 454.3L573.3 447.0L575.3 438.8L577.3 430.1L579.3 421.4L581.3 413.2L583.3 405.8L585.3 399.6L587.3 395.0L589.3 392.6L591.3 392.1L593.3 395.7L595.3 402.3L597.3 411.1L599.3 420.9L601.3 430.9L603.3 443.9L605.3 460.8L606.9 474.0M620.3 474.0L621.3 467.8L623.3 453.4L625.3 442.5L627.3 435.3L629.3 429.4L631.3 424.3L633.3 420.7L635.3 419.4L637.3 421.8L639.3 428.2L641.3 438.0L643.3 450.0L645.3 463.0L647.1 474.0M661.0 474.0L661.3 473.3L663.3 467.9L665.3 462.5L667.3 457.2L669.3 452.3L671.3 447.4L673.3 441.4L675.3 434.9L677.3 428.5L679.3 422.8L681.3 418.5L683.3 416.5L685.3 417.0L687.3 421.5L689.3 429.7L691.3 440.3L693.3 452.7L695.3 465.5L696.7 474.0M706.5 474.0L707.3 470.4L709.3 461.7L711.3 454.8L713.3 447.4L715.3 440.0L717.3 433.5L719.3 428.7L721.3 426.9L723.3 429.2L725.3 438.7L727.3 453.8L729.3 471.7L729.5 474.0M739.1 474.0L739.3 472.2L741.3 453.8L743.3 439.5L745.3 434.1L747.3 433.3L749.3 433.1L751.3 433.0L753.3 433.6L755.3 442.8L757.3 459.0L758.8 474.0" fill="none" stroke="#000" stroke-width="1" stroke-linejoin="round"/><path d="M41.2 501.0L41.2 498.8L43.2 497.9L45.2 493.9L47.2 488.2L49.2 484.5L51.2 482.9L53.2 484.7L55.2 491.5L57.2 491.7L59.2 488.6L61.2 485.4L63.2 481.4L65.2 476.4L67.2 471.3L69.2 464.8L71.2 458.4L73.2 452.9L75.2 447.4L77.2 441.9L79.2 436.2L81.2 429.6L83.2 422.6L85.2 412.2L87.2 402.0L89.2 393.6L91.2 385.3L93.2 377.2L95.2 369.5L97.2 361.4L99.2 350.5L101.2 339.0L103.2 314.0L105.2 276.6L107.2 262.7L109.2 261.9L111.2 261.2L113.2 259.8L115.2 257.4L117.2 254.2L119.2 250.2L121.2 245.6L123.2 240.5L125.2 235.1L127.2 229.6L129.2 223.9L131.2 218.4L133.2 213.1L135.2 208.1L137.2 203.7L139.2 199.9L141.2 196.9L143.2 194.8L145.2 193.3L147.2 192.4L149.2 192.0L151.2 191.9L153.2 195.4L155.2 199.6L157.2 204.3L159.2 209.0L161.2 213.3L163.2 217.5L165.2 221.7L167.2 225.8L169.2 229.7L171.2 233.1L173.2 236.0L175.2 238.4L177.2 240.4L179.2 242.0L181.2 243.3L183.2 244.3L185.2 245.2L187.2 246.2L189.2 247.6L191.2 249.5L193.2 251.8L195.2 254.2L197.2 256.6L199.2 259.3L201.2 262.2L203.2 265.8L205.2 270.7L207.2 276.7L209.2 282.8L211.2 287.8L213.2 290.7L215.2 290.8L217.2 290.7L219.2 290.3L221.2 289.7L223.2 289.1L225.2 288.4L227.2 287.5L229.2 286.1L231.2 284.3L233.2 282.2L235.2 280.0L237.2 278.0L239.2 276.0L241.2 274.0L243.2 272.0L245.2 270.1L247.2 268.6L249.2 268.1L251.2 268.3L253.2 269.0L255.2 270.2L257.2 272.0L259.2 274.3L261.2 276.7L263.2 278.8L265.2 280.7L267.2 282.3L269.2 283.6L271.2 285.2L273.2 287.3L275.2 289.9L277.2 293.0L279.2 296.6L281.2 300.8L283.2 306.6L285.2 314.2L287.2 322.9L289.2 331.3L291.2 338.8L293.2 345.3L295.2 350.2L297.2 350.9L299.2 349.4L301.2 343.2L303.2 335.5L305.2 330.8L307.2 331.9L309.2 341.3L311.2 354.5L313.2 368.6L315.2 381.8L317.2 392.8L319.2 400.8L321.2 404.5L323.2 404.9L325.2 400.2L327.2 391.6L329.2 380.4L331.2 368.7L333.2 360.2L335.2 360.3L337.2 366.3L339.2 378.8L341.2 392.7L343.2 406.1L345.2 418.1L347.2 428.4L349.2 436.9L351.2 443.4L353.2 448.2L355.2 451.1L357.2 452.5L359.2 453.4L361.2 454.0L363.2 453.9L365.2 451.2L367.2 446.2L369.2 439.1L371.2 430.5L373.2 421.0L375.2 411.3L377.2 402.6L379.2 396.0L381.2 392.5L383.2 391.9L385.2 395.4L387.2 403.1L389.2 413.7L391.2 426.1L393.2 438.7L395.2 450.6L397.2 460.5L399.2 468.3L401.2 474.3L403.2 475.5L405.2 475.5L407.2 475.5L409.2 475.5L411.2 475.5L413.2 475.5L415.2 475.5L417.2 475.5L419.2 475.5L421.2 475.5L423.2 475.5L425.2 475.5L427.2 475.5L429.2 475.5L431.2 475.5L433.2 475.5L435.2 475.5L437.2 475.5L439.2 475.5L441.2 475.5L443.2 471.7L445.2 467.7L447.2 464.6L449.2 461.7L451.2 458.5L453.2 454.6L455.2 448.7L457.2 440.6L459.2 434.3L461.2 432.2L463.2 433.4L465.2 435.7L467.2 438.7L469.2 442.5L471.2 447.8L473.2 454.7L475.2 462.1L477.2 469.6L479.2 475.5L481.2 475.5L483.2 475.5L485.2 475.5L487.2 475.5L489.2 475.5L491.2 475.5L493.2 475.5L495.2 475.5L497.2 475.5L499.2 475.5L501.2 475.5L503.2 475.5L505.2 475.5L507.2 475.5L509.2 475.5L511.2 475.5L513.2 475.5L515.2 475.5L517.2 475.5L519.2 475.5L521.2 475.5L523.2 475.5L525.2 475.5L527.2 475.5L529.2 475.5L531.2 475.5L533.2 475.5L535.2 475.5L537.2 475.5L539.2 475.5L541.2 475.5L543.2 475.5L545.2 475.5L547.2 475.5L549.2 475.5L551.2 475.5L553.2 475.5L555.2 475.5L557.2 475.5L559.2 475.5L561.2 475.5L563.2 475.5L565.2 475.5L567.2 475.5L569.2 475.5L571.2 475.5L573.2 475.5L575.2 475.5L577.2 475.5L579.2 475.5L581.2 465.9L583.2 456.6L585.2 448.2L587.2 441.3L589.2 436.1L591.2 433.3L593.2 433.1L595.2 436.6L597.2 444.1L599.2 454.0L601.2 465.2L603.2 475.5L605.2 475.5L607.2 475.5L609.2 475.5L611.2 475.5L613.2 475.5L615.2 475.5L617.2 475.5L619.2 475.5L621.2 475.5L623.2 475.5L625.2 475.5L627.2 475.5L629.2 475.5L631.2 474.2L633.2 468.3L635.2 464.2L637.2 462.4L639.2 464.6L641.2 471.9L643.2 475.5L645.2 475.5L647.2 475.5L649.2 475.5L651.2 475.5L653.2 475.5L655.2 475.5L657.2 475.5L659.2 475.5L661.2 475.5L663.2 475.5L665.2 475.5L667.2 475.5L669.2 475.5L671.2 475.5L673.2 475.5L675.2 475.5L677.2 475.5L679.2 475.5L681.2 470.0L683.2 464.9L685.2 462.0L687.2 462.4L689.2 466.4L691.2 475.3L693.2 475.5L695.2 475.5L697.2 475.5L699.2 475.5L701.2 475.5L703.2 475.5L705.2 475.5L707.2 475.5L709.2 475.5L711.2 475.5L713.2 475.5L715.2 475.5L717.2 475.5L719.2 475.5L721.2 475.5L723.2 475.5L725.2 475.5L727.2 475.5L729.2 475.5L731.2 475.5L733.2 475.5L735.2 475.5L737.2 475.5L739.2 475.5L741.2 475.5L743.2 475.5L745.2 475.5L747.2 475.5L749.2 475.5L751.2 475.5L753.2 475.5L755.2 475.5L757.2 475.5L759.2 475.5L761.2 475.5L763.2 475.5L765.2 475.5L767.2 475.5L769.2 475.5L771.2 475.5L773.2 475.5L775.2 475.5L777.2 475.5L779.2 475.5L781.2 475.5L782.1 475.5L782.1 475.5L112 475.5L112 501.0L41.2 501.0Z" fill="#0055ff"/><path d="M41.2 475.5L41.2 498.8L43.2 497.9L45.2 493.9L47.2 488.2L49.2 484.5L51.2 482.9L53.2 484.7L55.2 491.5L57.2 491.7L59.2 488.6L61.2 485.4L63.2 481.4L65.2 476.4L67.2 471.3L69.2 464.8L71.2 458.4L73.2 452.9L75.2 447.4L77.2 441.9L79.2 436.2L81.2 429.6L83.2 422.6L85.2 412.2L87.2 402.0L89.2 393.6L91.2 385.3L93.2 377.2L95.2 369.5L97.2 361.4L99.2 350.5L101.2 339.0L103.2 314.0L105.2 276.6L107.2 262.7L109.2 261.9L111.2 261.2L113.2 259.8L115.2 257.4L117.2 254.2L119.2 250.2L121.2 245.6L123.2 240.5L125.2 235.1L127.2 229.6L129.2 223.9L131.2 218.4L133.2 213.1L135.2 208.1L137.2 203.7L139.2 199.9L141.2 196.9L143.2 194.8L145.2 193.3L147.2 192.4L149.2 192.0L151.2 191.9L153.2 195.4L155.2 199.6L157.2 204.3L159.2 209.0L161.2 213.3L163.2 217.5L165.2 221.7L167.2 225.8L169.2 229.7L171.2 233.1L173.2 236.0L175.2 238.4L177.2 240.4L179.2 242.0L181.2 243.3L183.2 244.3L185.2 245.2L187.2 246.2L189.2 247.6L191.2 249.5L193.2 251.8L195.2 254.2L197.2 256.6L199.2 259.3L201.2 262.2L203.2 265.8L205.2 270.7L207.2 276.7L209.2 282.8L211.2 287.8L213.2 290.7L215.2 290.8L217.2 290.7L219.2 290.3L221.2 289.7L223.2 289.1L225.2 288.4L227.2 287.5L229.2 286.1L231.2 284.3L233.2 282.2L235.2 280.0L237.2 278.0L239.2 276.0L241.2 274.0L243.2 272.0L245.2 270.1L247.2 268.6L249.2 268.1L251.2 268.3L253.2 269.0L255.2 270.2L257.2 272.0L259.2 274.3L261.2 276.7L263.2 278.8L265.2 280.7L267.2 282.3L269.2 283.6L271.2 285.2L273.2 287.3L275.2 289.9L277.2 293.0L279.2 296.6L281.2 300.8L283.2 306.6L285.2 314.2L287.2 322.9L289.2 331.3L291.2 338.8L293.2 345.3L295.2 350.2L297.2 350.9L299.2 349.4L301.2 343.2L303.2 335.5L305.2 330.8L307.2 331.9L309.2 341.3L311.2 354.5L313.2 368.6L315.2 381.8L317.2 392.8L319.2 400.8L321.2 404.5L323.2 404.9L325.2 400.2L327.2 391.6L329.2 380.4L331.2 368.7L333.2 360.2L335.2 360.3L337.2 366.3L339.2 378.8L341.2 392.7L343.2 406.1L345.2 418.1L347.2 428.4L349.2 436.9L351.2 443.4L353.2 448.2L355.2 451.1L357.2 452.5L359.2 453.4L361.2 454.0L363.2 453.9L365.2 451.2L367.2 446.2L369.2 439.1L371.2 430.5L373.2 421.0L375.2 411.3L377.2 402.6L379.2 396.0L381.2 392.5L383.2 391.9L385.2 395.4L387.2 403.1L389.2 413.7L391.2 426.1L393.2 438.7L395.2 450.6L397.2 460.5L399.2 468.3L401.2 474.3L401.8 475.5M441.8 475.5L443.2 471.7L445.2 467.7L447.2 464.6L449.2 461.7L451.2 458.5L453.2 454.6L455.2 448.7L457.2 440.6L459.2 434.3L461.2 432.2L463.2 433.4L465.2 435.7L467.2 438.7L469.2 442.5L471.2 447.8L473.2 454.7L475.2 462.1L477.2 469.6L478.7 475.5M579.3 475.5L581.2 465.9L583.2 456.6L585.2 448.2L587.2 441.3L589.2 436.1L591.2 433.3L593.2 433.1L595.2 436.6L597.2 444.1L599.2 454.0L601.2 465.2L603.1 475.5M630.8 475.5L631.2 474.2L633.2 468.3L635.2 464.2L637.2 462.4L639.2 464.6L641.2 471.9L641.9 475.5M679.5 475.5L681.2 470.0L683.2 464.9L685.2 462.0L687.2 462.4L689.2 466.4L691.2 475.5" fill="none" stroke="#000" stroke-width="1" stroke-linejoin="round"/><path d="M41.2 501.0L41.2 498.9L43.2 498.3L45.2 497.6L47.2 496.5L49.2 494.1L51.2 492.6L53.2 493.9L55.2 493.8L57.2 492.0L59.2 488.8L61.2 485.6L63.2 481.7L65.2 476.8L67.2 471.7L69.2 465.2L71.2 458.8L73.2 453.3L75.2 447.8L77.2 442.2L79.2 436.7L81.2 430.2L83.2 423.5L85.2 413.1L87.2 402.8L89.2 394.5L91.2 386.5L93.2 378.5L95.2 370.5L97.2 362.1L99.2 351.0L101.2 339.6L103.2 314.6L105.2 277.2L107.2 266.0L109.2 265.3L111.2 264.7L113.2 263.3L115.2 261.1L117.2 257.9L119.2 254.1L121.2 249.8L123.2 245.0L125.2 239.8L127.2 234.5L129.2 229.2L131.2 223.9L133.2 218.9L135.2 214.2L137.2 209.9L139.2 206.3L141.2 203.4L143.2 201.4L145.2 200.0L147.2 199.0L149.2 198.6L151.2 198.5L153.2 201.4L155.2 206.0L157.2 210.9L159.2 216.0L161.2 220.7L163.2 225.2L165.2 229.6L167.2 234.0L169.2 238.1L171.2 241.8L173.2 244.9L175.2 247.4L177.2 249.4L179.2 251.0L181.2 252.1L183.2 252.7L185.2 253.1L187.2 253.3L189.2 253.8L191.2 255.2L193.2 257.4L195.2 259.6L197.2 261.8L199.2 264.2L201.2 266.8L203.2 269.8L205.2 273.8L207.2 278.7L209.2 283.7L211.2 288.0L213.2 290.7L215.2 291.2L217.2 291.1L219.2 290.9L221.2 290.5L223.2 290.1L225.2 289.6L227.2 289.1L229.2 288.2L231.2 286.9L233.2 285.5L235.2 283.8L237.2 282.1L239.2 280.3L241.2 278.4L243.2 276.4L245.2 274.2L247.2 272.0L249.2 270.8L251.2 271.0L253.2 271.9L255.2 273.7L257.2 276.6L259.2 280.4L261.2 284.8L263.2 289.0L265.2 292.9L267.2 296.2L269.2 298.9L271.2 301.6L273.2 304.6L275.2 308.2L277.2 312.2L279.2 316.8L281.2 321.8L283.2 328.0L285.2 336.6L287.2 346.8L289.2 357.3L291.2 366.9L293.2 375.6L295.2 382.9L297.2 387.0L299.2 387.6L301.2 383.5L303.2 376.0L305.2 368.5L307.2 367.0L309.2 372.5L311.2 384.2L313.2 398.3L315.2 412.2L317.2 424.2L319.2 433.2L321.2 438.0L323.2 438.5L325.2 434.0L327.2 425.4L329.2 413.7L331.2 400.7L333.2 389.1L335.2 385.1L337.2 386.0L339.2 396.8L341.2 410.9L343.2 425.5L345.2 439.3L347.2 451.6L349.2 462.1L351.2 470.3L353.2 476.3L355.2 477.0L357.2 477.0L359.2 477.0L361.2 477.0L363.2 474.8L365.2 469.7L367.2 462.7L369.2 454.3L371.2 444.9L373.2 435.0L375.2 425.1L377.2 416.1L379.2 408.8L381.2 404.2L383.2 403.4L385.2 405.8L387.2 411.8L389.2 420.9L391.2 431.8L393.2 443.5L395.2 455.0L397.2 466.0L399.2 476.0L401.2 477.0L403.2 477.0L405.2 477.0L407.2 477.0L409.2 477.0L411.2 477.0L413.2 477.0L415.2 477.0L417.2 477.0L419.2 477.0L421.2 477.0L423.2 477.0L425.2 477.0L427.2 477.0L429.2 477.0L431.2 477.0L433.2 477.0L435.2 477.0L437.2 477.0L439.2 477.0L441.2 477.0L443.2 477.0L445.2 477.0L447.2 477.0L449.2 477.0L451.2 477.0L453.2 477.0L455.2 477.0L457.2 477.0L459.2 477.0L461.2 477.0L463.2 477.0L465.2 477.0L467.2 477.0L469.2 477.0L471.2 477.0L473.2 477.0L475.2 477.0L477.2 477.0L479.2 477.0L481.2 477.0L483.2 477.0L485.2 477.0L487.2 477.0L489.2 477.0L491.2 477.0L493.2 477.0L495.2 477.0L497.2 477.0L499.2 477.0L501.2 477.0L503.2 477.0L505.2 477.0L507.2 477.0L509.2 477.0L511.2 477.0L513.2 477.0L515.2 477.0L517.2 477.0L519.2 477.0L521.2 477.0L523.2 477.0L525.2 477.0L527.2 477.0L529.2 477.0L531.2 477.0L533.2 477.0L535.2 477.0L537.2 477.0L539.2 477.0L541.2 477.0L543.2 477.0L545.2 477.0L547.2 477.0L549.2 477.0L551.2 477.0L553.2 477.0L555.2 477.0L557.2 477.0L559.2 477.0L561.2 477.0L563.2 477.0L565.2 477.0L567.2 477.0L569.2 477.0L571.2 477.0L573.2 477.0L575.2 477.0L577.2 477.0L579.2 477.0L581.2 477.0L583.2 477.0L585.2 477.0L587.2 477.0L589.2 477.0L591.2 477.0L593.2 477.0L595.2 477.0L597.2 477.0L599.2 477.0L601.2 477.0L603.2 477.0L605.2 477.0L607.2 477.0L609.2 477.0L611.2 477.0L613.2 477.0L615.2 477.0L617.2 477.0L619.2 477.0L621.2 477.0L623.2 477.0L625.2 477.0L627.2 477.0L629.2 477.0L631.2 477.0L633.2 477.0L635.2 477.0L637.2 477.0L639.2 477.0L641.2 477.0L643.2 477.0L645.2 477.0L647.2 477.0L649.2 477.0L651.2 477.0L653.2 477.0L655.2 477.0L657.2 477.0L659.2 477.0L661.2 477.0L663.2 477.0L665.2 477.0L667.2 477.0L669.2 477.0L671.2 477.0L673.2 477.0L675.2 477.0L677.2 477.0L679.2 477.0L681.2 477.0L683.2 477.0L685.2 477.0L687.2 477.0L689.2 477.0L691.2 477.0L693.2 477.0L695.2 477.0L697.2 477.0L699.2 477.0L701.2 477.0L703.2 477.0L705.2 477.0L707.2 477.0L709.2 477.0L711.2 477.0L713.2 477.0L715.2 477.0L717.2 477.0L719.2 477.0L721.2 477.0L723.2 477.0L725.2 477.0L727.2 477.0L729.2 477.0L731.2 477.0L733.2 477.0L735.2 477.0L737.2 477.0L739.2 477.0L741.2 477.0L743.2 477.0L745.2 477.0L747.2 477.0L749.2 477.0L751.2 477.0L753.2 477.0L755.2 477.0L757.2 477.0L759.2 477.0L761.2 477.0L763.2 477.0L765.2 477.0L767.2 477.0L769.2 477.0L771.2 477.0L773.2 477.0L775.2 477.0L777.2 477.0L779.2 477.0L781.2 477.0L783.2 477.0L784.8 477.0L784.8 477.0L112 477.0L112 501.0L41.2 501.0Z" fill="#0055ff"/><path d="M41.2 477.0L41.2 498.9L43.2 498.3L45.2 497.6L47.2 496.5L49.2 494.1L51.2 492.6L53.2 493.9L55.2 493.8L57.2 492.0L59.2 488.8L61.2 485.6L63.2 481.7L65.2 476.8L67.2 471.7L69.2 465.2L71.2 458.8L73.2 453.3L75.2 447.8L77.2 442.2L79.2 436.7L81.2 430.2L83.2 423.5L85.2 413.1L87.2 402.8L89.2 394.5L91.2 386.5L93.2 378.5L95.2 370.5L97.2 362.1L99.2 351.0L101.2 339.6L103.2 314.6L105.2 277.2L107.2 266.0L109.2 265.3L111.2 264.7L113.2 263.3L115.2 261.1L117.2 257.9L119.2 254.1L121.2 249.8L123.2 245.0L125.2 239.8L127.2 234.5L129.2 229.2L131.2 223.9L133.2 218.9L135.2 214.2L137.2 209.9L139.2 206.3L141.2 203.4L143.2 201.4L145.2 200.0L147.2 199.0L149.2 198.6L151.2 198.5L153.2 201.4L155.2 206.0L157.2 210.9L159.2 216.0L161.2 220.7L163.2 225.2L165.2 229.6L167.2 234.0L169.2 238.1L171.2 241.8L173.2 244.9L175.2 247.4L177.2 249.4L179.2 251.0L181.2 252.1L183.2 252.7L185.2 253.1L187.2 253.3L189.2 253.8L191.2 255.2L193.2 257.4L195.2 259.6L197.2 261.8L199.2 264.2L201.2 266.8L203.2 269.8L205.2 273.8L207.2 278.7L209.2 283.7L211.2 288.0L213.2 290.7L215.2 291.2L217.2 291.1L219.2 290.9L221.2 290.5L223.2 290.1L225.2 289.6L227.2 289.1L229.2 288.2L231.2 286.9L233.2 285.5L235.2 283.8L237.2 282.1L239.2 280.3L241.2 278.4L243.2 276.4L245.2 274.2L247.2 272.0L249.2 270.8L251.2 271.0L253.2 271.9L255.2 273.7L257.2 276.6L259.2 280.4L261.2 284.8L263.2 289.0L265.2 292.9L267.2 296.2L269.2 298.9L271.2 301.6L273.2 304.6L275.2 308.2L277.2 312.2L279.2 316.8L281.2 321.8L283.2 328.0L285.2 336.6L287.2 346.8L289.2 357.3L291.2 366.9L293.2 375.6L295.2 382.9L297.2 387.0L299.2 387.6L301.2 383.5L303.2 376.0L305.2 368.5L307.2 367.0L309.2 372.5L311.2 384.2L313.2 398.3L315.2 412.2L317.2 424.2L319.2 433.2L321.2 438.0L323.2 438.5L325.2 434.0L327.2 425.4L329.2 413.7L331.2 400.7L333.2 389.1L335.2 385.1L337.2 386.0L339.2 396.8L341.2 410.9L343.2 425.5L345.2 439.3L347.2 451.6L349.2 462.1L351.2 470.3L353.2 476.3L353.6 477.0M361.8 477.0L363.2 474.8L365.2 469.7L367.2 462.7L369.2 454.3L371.2 444.9L373.2 435.0L375.2 425.1L377.2 416.1L379.2 408.8L381.2 404.2L383.2 403.4L385.2 405.8L387.2 411.8L389.2 420.9L391.2 431.8L393.2 443.5L395.2 455.0L397.2 466.0L399.2 476.0L399.4 477.0" fill="none" stroke="#000" stroke-width="1" stroke-linejoin="round"/><path d="M41.2 501.0L41.2 498.9L43.2 498.4L45.2 497.8L47.2 497.2L49.2 496.7L51.2 496.2L53.2 495.8L55.2 494.1L57.2 492.2L59.2 489.0L61.2 485.8L63.2 482.1L65.2 477.1L67.2 472.1L69.2 465.6L71.2 459.1L73.2 453.6L75.2 448.1L77.2 442.6L79.2 437.1L81.2 430.6L83.2 424.1L85.2 413.8L87.2 403.5L89.2 395.1L91.2 387.1L93.2 379.1L95.2 371.0L97.2 362.7L99.2 351.4L101.2 340.1L103.2 315.1L105.2 277.8L107.2 269.5L109.2 268.9L111.2 268.3L113.2 267.0L115.2 264.8L117.2 261.8L119.2 258.2L121.2 254.0L123.2 249.3L125.2 244.4L127.2 239.4L129.2 234.2L131.2 229.2L133.2 224.4L135.2 220.0L137.2 216.0L139.2 212.6L141.2 209.9L143.2 208.1L145.2 206.6L147.2 205.6L149.2 205.2L151.2 205.2L153.2 207.2L155.2 212.3L157.2 217.6L159.2 223.0L161.2 228.2L163.2 233.0L165.2 237.6L167.2 242.2L169.2 246.6L171.2 250.5L173.2 253.9L175.2 256.6L177.2 258.7L179.2 260.2L181.2 261.2L183.2 261.4L185.2 261.3L187.2 260.7L189.2 260.4L191.2 261.0L193.2 262.9L195.2 264.9L197.2 267.0L199.2 269.1L201.2 271.4L203.2 273.9L205.2 277.0L207.2 281.0L209.2 285.0L211.2 288.5L213.2 290.9L215.2 291.7L217.2 291.7L219.2 291.5L221.2 291.3L223.2 291.0L225.2 290.7L227.2 290.2L229.2 289.6L231.2 288.7L233.2 287.6L235.2 286.4L237.2 284.9L239.2 283.3L241.2 281.5L243.2 279.5L245.2 277.1L247.2 274.5L249.2 272.3L251.2 272.0L253.2 272.8L255.2 274.8L257.2 278.2L259.2 283.2L261.2 289.1L263.2 295.4L265.2 301.3L267.2 306.8L269.2 311.5L271.2 315.7L273.2 320.0L275.2 324.7L277.2 329.9L279.2 335.6L281.2 341.7L283.2 348.4L285.2 357.5L287.2 368.6L289.2 380.6L291.2 391.6L293.2 401.2L295.2 409.0L297.2 412.7L299.2 413.1L301.2 407.6L303.2 398.2L305.2 388.1L307.2 382.1L309.2 384.3L311.2 393.1L313.2 407.0L315.2 421.9L317.2 436.0L319.2 447.7L321.2 456.2L323.2 460.2L325.2 458.6L327.2 452.6L329.2 442.3L331.2 429.4L333.2 416.4L335.2 407.6L337.2 405.1L339.2 411.9L341.2 424.7L343.2 439.5L345.2 454.4L347.2 468.2L349.2 478.5L351.2 478.5L353.2 478.5L355.2 478.5L357.2 478.5L359.2 478.5L361.2 478.5L363.2 478.5L365.2 478.5L367.2 476.4L369.2 467.3L371.2 457.4L373.2 447.2L375.2 437.1L377.2 427.5L379.2 419.2L381.2 413.2L383.2 411.0L385.2 411.8L387.2 416.4L389.2 424.0L391.2 433.7L393.2 444.4L395.2 455.5L397.2 466.3L399.2 476.9L401.2 478.5L403.2 478.5L405.2 478.5L407.2 478.5L409.2 478.5L411.2 478.5L413.2 478.5L415.2 478.5L417.2 478.5L419.2 478.5L421.2 478.5L423.2 478.5L425.2 478.5L427.2 478.5L429.2 478.5L431.2 478.5L433.2 478.5L435.2 478.5L437.2 478.5L439.2 478.5L441.2 478.5L443.2 478.5L445.2 478.5L447.2 478.5L449.2 478.5L451.2 478.5L453.2 478.5L455.2 478.5L457.2 478.5L459.2 478.5L461.2 478.5L463.2 478.5L465.2 478.5L467.2 478.5L469.2 478.5L471.2 478.5L473.2 478.5L475.2 478.5L477.2 478.5L479.2 478.5L481.2 478.5L483.2 478.5L485.2 478.5L487.2 478.5L489.2 478.5L491.2 478.5L493.2 478.5L495.2 478.5L497.2 478.5L499.2 478.5L501.2 478.5L503.2 478.5L505.2 478.5L507.2 478.5L509.2 478.5L511.2 478.5L513.2 478.5L515.2 478.5L517.2 478.5L519.2 478.5L521.2 478.5L523.2 478.5L525.2 478.5L527.2 478.5L529.2 478.5L531.2 478.5L533.2 478.5L535.2 478.5L537.2 478.5L539.2 478.5L541.2 478.5L543.2 478.5L545.2 478.5L547.2 478.5L549.2 478.5L551.2 478.5L553.2 478.5L555.2 478.5L557.2 478.5L559.2 478.5L561.2 478.5L563.2 478.5L565.2 478.5L567.2 478.5L569.2 478.5L571.2 478.5L573.2 478.5L575.2 478.5L577.2 478.5L579.2 478.5L581.2 478.5L583.2 478.5L585.2 478.5L587.2 478.5L589.2 478.5L591.2 478.5L593.2 478.5L595.2 478.5L597.2 478.5L599.2 478.5L601.2 478.5L603.2 478.5L605.2 478.5L607.2 478.5L609.2 478.5L611.2 478.5L613.2 478.5L615.2 478.5L617.2 478.5L619.2 478.5L621.2 478.5L623.2 478.5L625.2 478.5L627.2 478.5L629.2 478.5L631.2 478.5L633.2 478.5L635.2 478.5L637.2 478.5L639.2 478.5L641.2 478.5L643.2 478.5L645.2 478.5L647.2 478.5L649.2 478.5L651.2 478.5L653.2 478.5L655.2 478.5L657.2 478.5L659.2 478.5L661.2 478.5L663.2 478.5L665.2 478.5L667.2 478.5L669.2 478.5L671.2 478.5L673.2 478.5L675.2 478.5L677.2 478.5L679.2 478.5L681.2 478.5L683.2 478.5L685.2 478.5L687.2 478.5L689.2 478.5L691.2 478.5L693.2 478.5L695.2 478.5L697.2 478.5L699.2 478.5L701.2 478.5L703.2 478.5L705.2 478.5L707.2 478.5L709.2 478.5L711.2 478.5L713.2 478.5L715.2 478.5L717.2 478.5L719.2 478.5L721.2 478.5L723.2 478.5L725.2 478.5L727.2 478.5L729.2 478.5L731.2 478.5L733.2 478.5L735.2 478.5L737.2 478.5L739.2 478.5L741.2 478.5L743.2 478.5L745.2 478.5L747.2 478.5L749.2 478.5L751.2 478.5L753.2 478.5L755.2 478.5L757.2 478.5L759.2 478.5L761.2 478.5L763.2 478.5L765.2 478.5L767.2 478.5L769.2 478.5L771.2 478.5L773.2 478.5L775.2 478.5L777.2 478.5L779.2 478.5L781.2 478.5L783.2 478.5L785.2 478.5L787.2 478.5L787.5 478.5L787.5 478.5L112 478.5L112 501.0L41.2 501.0Z" fill="#0055ff"/><path d="M41.2 478.5L41.2 498.9L43.2 498.4L45.2 497.8L47.2 497.2L49.2 496.7L51.2 496.2L53.2 495.8L55.2 494.1L57.2 492.2L59.2 489.0L61.2 485.8L63.2 482.1L65.2 477.1L67.2 472.1L69.2 465.6L71.2 459.1L73.2 453.6L75.2 448.1L77.2 442.6L79.2 437.1L81.2 430.6L83.2 424.1L85.2 413.8L87.2 403.5L89.2 395.1L91.2 387.1L93.2 379.1L95.2 371.0L97.2 362.7L99.2 351.4L101.2 340.1L103.2 315.1L105.2 277.8L107.2 269.5L109.2 268.9L111.2 268.3L113.2 267.0L115.2 264.8L117.2 261.8L119.2 258.2L121.2 254.0L123.2 249.3L125.2 244.4L127.2 239.4L129.2 234.2L131.2 229.2L133.2 224.4L135.2 220.0L137.2 216.0L139.2 212.6L141.2 209.9L143.2 208.1L145.2 206.6L147.2 205.6L149.2 205.2L151.2 205.2L153.2 207.2L155.2 212.3L157.2 217.6L159.2 223.0L161.2 228.2L163.2 233.0L165.2 237.6L167.2 242.2L169.2 246.6L171.2 250.5L173.2 253.9L175.2 256.6L177.2 258.7L179.2 260.2L181.2 261.2L183.2 261.4L185.2 261.3L187.2 260.7L189.2 260.4L191.2 261.0L193.2 262.9L195.2 264.9L197.2 267.0L199.2 269.1L201.2 271.4L203.2 273.9L205.2 277.0L207.2 281.0L209.2 285.0L211.2 288.5L213.2 290.9L215.2 291.7L217.2 291.7L219.2 291.5L221.2 291.3L223.2 291.0L225.2 290.7L227.2 290.2L229.2 289.6L231.2 288.7L233.2 287.6L235.2 286.4L237.2 284.9L239.2 283.3L241.2 281.5L243.2 279.5L245.2 277.1L247.2 274.5L249.2 272.3L251.2 272.0L253.2 272.8L255.2 274.8L257.2 278.2L259.2 283.2L261.2 289.1L263.2 295.4L265.2 301.3L267.2 306.8L269.2 311.5L271.2 315.7L273.2 320.0L275.2 324.7L277.2 329.9L279.2 335.6L281.2 341.7L283.2 348.4L285.2 357.5L287.2 368.6L289.2 380.6L291.2 391.6L293.2 401.2L295.2 409.0L297.2 412.7L299.2 413.1L301.2 407.6L303.2 398.2L305.2 388.1L307.2 382.1L309.2 384.3L311.2 393.1L313.2 407.0L315.2 421.9L317.2 436.0L319.2 447.7L321.2 456.2L323.2 460.2L325.2 458.6L327.2 452.6L329.2 442.3L331.2 429.4L333.2 416.4L335.2 407.6L337.2 405.1L339.2 411.9L341.2 424.7L343.2 439.5L345.2 454.4L347.2 468.2L348.9 478.5M366.6 478.5L367.2 476.4L369.2 467.3L371.2 457.4L373.2 447.2L375.2 437.1L377.2 427.5L379.2 419.2L381.2 413.2L383.2 411.0L385.2 411.8L387.2 416.4L389.2 424.0L391.2 433.7L393.2 444.4L395.2 455.5L397.2 466.3L399.2 476.9L399.5 478.5" fill="none" stroke="#000" stroke-width="1" stroke-linejoin="round"/><path d="M41.1 501.0L41.1 499.0L43.1 498.4L45.1 497.9L47.1 497.3L49.1 496.8L51.1 496.4L53.1 495.9L55.1 494.3L57.1 492.4L59.1 489.2L61.1 486.0L63.1 482.4L65.1 477.4L67.1 472.4L69.1 466.1L71.1 459.6L73.1 454.0L75.1 448.5L77.1 443.0L79.1 437.5L81.1 431.0L83.1 424.5L85.1 414.5L87.1 404.2L89.1 395.7L91.1 387.6L93.1 379.5L95.1 371.4L97.1 363.2L99.1 351.8L101.1 340.4L103.1 315.7L105.1 278.6L107.1 273.2L109.1 272.6L111.1 272.0L113.1 270.8L115.1 268.7L117.1 265.8L119.1 262.3L121.1 258.3L123.1 253.9L125.1 249.2L127.1 244.4L129.1 239.5L131.1 234.7L133.1 230.1L135.1 225.9L137.1 222.1L139.1 218.9L141.1 216.4L143.1 214.6L145.1 213.2L147.1 212.2L149.1 211.8L151.1 211.7L153.1 212.9L155.1 218.6L157.1 224.2L159.1 230.0L161.1 235.6L163.1 240.7L165.1 245.7L167.1 250.6L169.1 255.2L171.1 259.3L173.1 262.9L175.1 265.8L177.1 268.0L179.1 269.6L181.1 270.3L183.1 270.3L185.1 269.6L187.1 268.4L189.1 267.2L191.1 266.9L193.1 268.2L195.1 270.1L197.1 272.0L199.1 273.9L201.1 275.9L203.1 277.9L205.1 280.4L207.1 283.5L209.1 286.7L211.1 289.5L213.1 291.5L215.1 292.4L217.1 292.4L219.1 292.3L221.1 292.2L223.1 291.9L225.1 291.6L227.1 291.3L229.1 290.8L231.1 290.2L233.1 289.3L235.1 288.3L237.1 287.0L239.1 285.6L241.1 283.9L243.1 281.9L245.1 279.5L247.1 276.7L249.1 273.8L251.1 272.7L253.1 273.3L255.1 275.3L257.1 279.0L259.1 284.5L261.1 291.4L263.1 299.1L265.1 306.8L267.1 314.2L269.1 320.9L271.1 326.9L273.1 332.7L275.1 338.7L277.1 345.2L279.1 352.1L281.1 359.4L283.1 367.0L285.1 376.3L287.1 387.8L289.1 400.5L291.1 412.4L293.1 422.5L295.1 430.1L297.1 433.2L299.1 433.0L301.1 426.4L303.1 416.0L305.1 404.1L307.1 394.2L309.1 393.3L311.1 397.6L313.1 410.2L315.1 425.2L317.1 440.3L319.1 454.0L321.1 465.2L323.1 472.7L325.1 474.3L327.1 471.8L329.1 463.8L331.1 452.0L333.1 438.7L335.1 426.9L337.1 420.5L339.1 422.9L341.1 432.7L343.1 446.8L345.1 462.1L347.1 476.9L349.1 480.0L351.1 480.0L353.1 480.0L355.1 480.0L357.1 480.0L359.1 480.0L361.1 480.0L363.1 480.0L365.1 480.0L367.1 480.0L369.1 480.0L371.1 470.2L373.1 459.9L375.1 449.6L377.1 439.5L379.1 430.4L381.1 423.0L383.1 418.6L385.1 417.8L387.1 420.2L389.1 426.4L391.1 435.0L393.1 444.9L395.1 455.5L397.1 466.2L399.1 476.8L401.1 480.0L403.1 480.0L405.1 480.0L407.1 480.0L409.1 480.0L411.1 480.0L413.1 480.0L415.1 480.0L417.1 480.0L419.1 480.0L421.1 480.0L423.1 480.0L425.1 480.0L427.1 480.0L429.1 480.0L431.1 480.0L433.1 480.0L435.1 480.0L437.1 480.0L439.1 480.0L441.1 480.0L443.1 480.0L445.1 480.0L447.1 480.0L449.1 480.0L451.1 480.0L453.1 480.0L455.1 480.0L457.1 480.0L459.1 480.0L461.1 480.0L463.1 480.0L465.1 480.0L467.1 480.0L469.1 480.0L471.1 480.0L473.1 480.0L475.1 480.0L477.1 480.0L479.1 480.0L481.1 480.0L483.1 480.0L485.1 480.0L487.1 480.0L489.1 480.0L491.1 480.0L493.1 480.0L495.1 480.0L497.1 480.0L499.1 480.0L501.1 480.0L503.1 480.0L505.1 480.0L507.1 480.0L509.1 480.0L511.1 480.0L513.1 480.0L515.1 480.0L517.1 480.0L519.1 480.0L521.1 480.0L523.1 480.0L525.1 480.0L527.1 480.0L529.1 480.0L531.1 480.0L533.1 480.0L535.1 480.0L537.1 480.0L539.1 480.0L541.1 480.0L543.1 480.0L545.1 480.0L547.1 480.0L549.1 480.0L551.1 480.0L553.1 480.0L555.1 480.0L557.1 480.0L559.1 480.0L561.1 480.0L563.1 480.0L565.1 480.0L567.1 480.0L569.1 480.0L571.1 480.0L573.1 480.0L575.1 480.0L577.1 480.0L579.1 480.0L581.1 480.0L583.1 480.0L585.1 480.0L587.1 480.0L589.1 480.0L591.1 480.0L593.1 480.0L595.1 480.0L597.1 480.0L599.1 480.0L601.1 480.0L603.1 480.0L605.1 480.0L607.1 480.0L609.1 480.0L611.1 480.0L613.1 480.0L615.1 480.0L617.1 480.0L619.1 480.0L621.1 480.0L623.1 480.0L625.1 480.0L627.1 480.0L629.1 480.0L631.1 480.0L633.1 480.0L635.1 480.0L637.1 480.0L639.1 480.0L641.1 480.0L643.1 480.0L645.1 480.0L647.1 480.0L649.1 480.0L651.1 480.0L653.1 480.0L655.1 480.0L657.1 480.0L659.1 480.0L661.1 480.0L663.1 480.0L665.1 480.0L667.1 480.0L669.1 480.0L671.1 480.0L673.1 480.0L675.1 480.0L677.1 480.0L679.1 480.0L681.1 480.0L683.1 480.0L685.1 480.0L687.1 480.0L689.1 480.0L691.1 480.0L693.1 480.0L695.1 480.0L697.1 480.0L699.1 480.0L701.1 480.0L703.1 480.0L705.1 480.0L707.1 480.0L709.1 480.0L711.1 480.0L713.1 480.0L715.1 480.0L717.1 480.0L719.1 480.0L721.1 480.0L723.1 480.0L725.1 480.0L727.1 480.0L729.1 480.0L731.1 480.0L733.1 480.0L735.1 480.0L737.1 480.0L739.1 480.0L741.1 480.0L743.1 480.0L745.1 480.0L747.1 480.0L749.1 480.0L751.1 480.0L753.1 480.0L755.1 480.0L757.1 480.0L759.1 480.0L761.1 480.0L763.1 480.0L765.1 480.0L767.1 480.0L769.1 480.0L771.1 480.0L773.1 480.0L775.1 480.0L777.1 480.0L779.1 480.0L781.1 480.0L783.1 480.0L785.1 480.0L787.1 480.0L789.1 480.0L790.2 480.0L790.2 480.0L112 480.0L112 501.0L41.1 501.0Z" fill="#0055ff"/><path d="M41.1 480.0L41.1 499.0L43.1 498.4L45.1 497.9L47.1 497.3L49.1 496.8L51.1 496.4L53.1 495.9L55.1 494.3L57.1 492.4L59.1 489.2L61.1 486.0L63.1 482.4L65.1 477.4L67.1 472.4L69.1 466.1L71.1 459.6L73.1 454.0L75.1 448.5L77.1 443.0L79.1 437.5L81.1 431.0L83.1 424.5L85.1 414.5L87.1 404.2L89.1 395.7L91.1 387.6L93.1 379.5L95.1 371.4L97.1 363.2L99.1 351.8L101.1 340.4L103.1 315.7L105.1 278.6L107.1 273.2L109.1 272.6L111.1 272.0L113.1 270.8L115.1 268.7L117.1 265.8L119.1 262.3L121.1 258.3L123.1 253.9L125.1 249.2L127.1 244.4L129.1 239.5L131.1 234.7L133.1 230.1L135.1 225.9L137.1 222.1L139.1 218.9L141.1 216.4L143.1 214.6L145.1 213.2L147.1 212.2L149.1 211.8L151.1 211.7L153.1 212.9L155.1 218.6L157.1 224.2L159.1 230.0L161.1 235.6L163.1 240.7L165.1 245.7L167.1 250.6L169.1 255.2L171.1 259.3L173.1 262.9L175.1 265.8L177.1 268.0L179.1 269.6L181.1 270.3L183.1 270.3L185.1 269.6L187.1 268.4L189.1 267.2L191.1 266.9L193.1 268.2L195.1 270.1L197.1 272.0L199.1 273.9L201.1 275.9L203.1 277.9L205.1 280.4L207.1 283.5L209.1 286.7L211.1 289.5L213.1 291.5L215.1 292.4L217.1 292.4L219.1 292.3L221.1 292.2L223.1 291.9L225.1 291.6L227.1 291.3L229.1 290.8L231.1 290.2L233.1 289.3L235.1 288.3L237.1 287.0L239.1 285.6L241.1 283.9L243.1 281.9L245.1 279.5L247.1 276.7L249.1 273.8L251.1 272.7L253.1 273.3L255.1 275.3L257.1 279.0L259.1 284.5L261.1 291.4L263.1 299.1L265.1 306.8L267.1 314.2L269.1 320.9L271.1 326.9L273.1 332.7L275.1 338.7L277.1 345.2L279.1 352.1L281.1 359.4L283.1 367.0L285.1 376.3L287.1 387.8L289.1 400.5L291.1 412.4L293.1 422.5L295.1 430.1L297.1 433.2L299.1 433.0L301.1 426.4L303.1 416.0L305.1 404.1L307.1 394.2L309.1 393.3L311.1 397.6L313.1 410.2L315.1 425.2L317.1 440.3L319.1 454.0L321.1 465.2L323.1 472.7L325.1 474.3L327.1 471.8L329.1 463.8L331.1 452.0L333.1 438.7L335.1 426.9L337.1 420.5L339.1 422.9L341.1 432.7L343.1 446.8L345.1 462.1L347.1 476.9L347.6 480.0M369.1 480.0L371.1 470.2L373.1 459.9L375.1 449.6L377.1 439.5L379.1 430.4L381.1 423.0L383.1 418.6L385.1 417.8L387.1 420.2L389.1 426.4L391.1 435.0L393.1 444.9L395.1 455.5L397.1 466.2L399.1 476.8L399.7 480.0" fill="none" stroke="#000" stroke-width="1" stroke-linejoin="round"/><path d="M41.1 501.0L41.1 499.0L43.1 498.5L45.1 497.9L47.1 497.4L49.1 496.9L51.1 496.5L53.1 496.0L55.1 494.4L57.1 492.6L59.1 489.5L61.1 486.3L63.1 482.7L65.1 477.7L67.1 472.8L69.1 466.5L71.1 460.0L73.1 454.3L75.1 448.8L77.1 443.3L79.1 437.8L81.1 431.5L83.1 425.0L85.1 415.2L87.1 404.8L89.1 396.2L91.1 388.1L93.1 380.0L95.1 371.8L97.1 363.6L99.1 352.2L101.1 340.7L103.1 316.3L105.1 279.7L107.1 277.0L109.1 276.5L111.1 275.8L113.1 274.6L115.1 272.6L117.1 269.8L119.1 266.4L121.1 262.5L123.1 258.2L125.1 253.7L127.1 249.0L129.1 244.3L131.1 239.7L133.1 235.4L135.1 231.3L137.1 227.7L139.1 224.7L141.1 222.3L143.1 220.7L145.1 219.5L147.1 218.5L149.1 218.1L151.1 218.1L153.1 219.7L155.1 224.3L157.1 230.5L159.1 236.7L161.1 242.7L163.1 248.3L165.1 253.5L167.1 258.6L169.1 263.4L171.1 267.8L173.1 271.6L175.1 274.7L177.1 277.1L179.1 278.6L181.1 279.3L183.1 279.0L185.1 277.9L187.1 276.0L189.1 273.9L191.1 272.9L193.1 273.1L195.1 274.9L197.1 276.6L199.1 278.3L201.1 280.0L203.1 281.7L205.1 283.6L207.1 285.9L209.1 288.5L211.1 290.7L213.1 292.3L215.1 293.1L217.1 293.3L219.1 293.2L221.1 293.1L223.1 292.9L225.1 292.7L227.1 292.3L229.1 291.9L231.1 291.4L233.1 290.7L235.1 289.8L237.1 288.8L239.1 287.5L241.1 285.9L243.1 284.0L245.1 281.6L247.1 278.9L249.1 275.9L251.1 273.8L253.1 274.1L255.1 275.9L257.1 279.7L259.1 285.5L261.1 293.0L263.1 301.6L265.1 310.5L267.1 319.3L269.1 327.7L271.1 335.4L273.1 342.7L275.1 350.0L277.1 357.6L279.1 365.6L281.1 374.0L283.1 382.8L285.1 392.1L287.1 403.5L289.1 416.1L291.1 428.2L293.1 438.3L295.1 445.6L297.1 448.3L299.1 447.9L301.1 441.3L303.1 430.8L305.1 418.3L307.1 406.3L309.1 400.6L311.1 401.8L313.1 411.2L315.1 425.5L317.1 441.0L319.1 455.8L321.1 469.0L323.1 479.3L325.1 481.5L327.1 481.5L329.1 481.5L331.1 471.9L333.1 459.4L335.1 446.5L337.1 436.4L339.1 434.5L341.1 440.2L343.1 452.5L345.1 467.5L347.1 481.5L349.1 481.5L351.1 481.5L353.1 481.5L355.1 481.5L357.1 481.5L359.1 481.5L361.1 481.5L363.1 481.5L365.1 481.5L367.1 481.5L369.1 481.5L371.1 481.5L373.1 472.6L375.1 462.2L377.1 451.9L379.1 442.1L381.1 433.6L383.1 427.2L385.1 424.5L387.1 424.6L389.1 429.0L391.1 436.1L393.1 445.2L395.1 455.2L397.1 465.8L399.1 476.4L401.1 481.5L403.1 481.5L405.1 481.5L407.1 481.5L409.1 481.5L411.1 481.5L413.1 481.5L415.1 481.5L417.1 481.5L419.1 481.5L421.1 481.5L423.1 481.5L425.1 481.5L427.1 481.5L429.1 481.5L431.1 481.5L433.1 481.5L435.1 481.5L437.1 481.5L439.1 481.5L441.1 481.5L443.1 481.5L445.1 481.5L447.1 481.5L449.1 481.5L451.1 481.5L453.1 481.5L455.1 481.5L457.1 481.5L459.1 481.5L461.1 481.5L463.1 481.5L465.1 481.5L467.1 481.5L469.1 481.5L471.1 481.5L473.1 481.5L475.1 481.5L477.1 481.5L479.1 481.5L481.1 481.5L483.1 481.5L485.1 481.5L487.1 481.5L489.1 481.5L491.1 481.5L493.1 481.5L495.1 481.5L497.1 481.5L499.1 481.5L501.1 481.5L503.1 481.5L505.1 481.5L507.1 481.5L509.1 481.5L511.1 481.5L513.1 481.5L515.1 481.5L517.1 481.5L519.1 481.5L521.1 481.5L523.1 481.5L525.1 481.5L527.1 481.5L529.1 481.5L531.1 481.5L533.1 481.5L535.1 481.5L537.1 481.5L539.1 481.5L541.1 481.5L543.1 481.5L545.1 481.5L547.1 481.5L549.1 481.5L551.1 481.5L553.1 481.5L555.1 481.5L557.1 481.5L559.1 481.5L561.1 481.5L563.1 481.5L565.1 481.5L567.1 481.5L569.1 481.5L571.1 481.5L573.1 481.5L575.1 481.5L577.1 481.5L579.1 481.5L581.1 481.5L583.1 481.5L585.1 481.5L587.1 481.5L589.1 481.5L591.1 481.5L593.1 481.5L595.1 481.5L597.1 481.5L599.1 481.5L601.1 481.5L603.1 481.5L605.1 481.5L607.1 481.5L609.1 481.5L611.1 481.5L613.1 481.5L615.1 481.5L617.1 481.5L619.1 481.5L621.1 481.5L623.1 481.5L625.1 481.5L627.1 481.5L629.1 481.5L631.1 481.5L633.1 481.5L635.1 481.5L637.1 481.5L639.1 481.5L641.1 481.5L643.1 481.5L645.1 481.5L647.1 481.5L649.1 481.5L651.1 481.5L653.1 481.5L655.1 481.5L657.1 481.5L659.1 481.5L661.1 481.5L663.1 481.5L665.1 481.5L667.1 481.5L669.1 481.5L671.1 481.5L673.1 481.5L675.1 481.5L677.1 481.5L679.1 481.5L681.1 481.5L683.1 481.5L685.1 481.5L687.1 481.5L689.1 481.5L691.1 481.5L693.1 481.5L695.1 481.5L697.1 481.5L699.1 481.5L701.1 481.5L703.1 481.5L705.1 481.5L707.1 481.5L709.1 481.5L711.1 481.5L713.1 481.5L715.1 481.5L717.1 481.5L719.1 481.5L721.1 481.5L723.1 481.5L725.1 481.5L727.1 481.5L729.1 481.5L731.1 481.5L733.1 481.5L735.1 481.5L737.1 481.5L739.1 481.5L741.1 481.5L743.1 481.5L745.1 481.5L747.1 481.5L749.1 481.5L751.1 481.5L753.1 481.5L755.1 481.5L757.1 481.5L759.1 481.5L761.1 481.5L763.1 481.5L765.1 481.5L767.1 481.5L769.1 481.5L771.1 481.5L773.1 481.5L775.1 481.5L777.1 481.5L779.1 481.5L781.1 481.5L783.1 481.5L785.1 481.5L787.1 481.5L789.1 481.5L791.1 481.5L792.8 481.5L792.8 481.5L112 481.5L112 501.0L41.1 501.0Z" fill="#0055ff"/><path d="M41.1 481.5L41.1 499.0L43.1 498.5L45.1 497.9L47.1 497.4L49.1 496.9L51.1 496.5L53.1 496.0L55.1 494.4L57.1 492.6L59.1 489.5L61.1 486.3L63.1 482.7L65.1 477.7L67.1 472.8L69.1 466.5L71.1 460.0L73.1 454.3L75.1 448.8L77.1 443.3L79.1 437.8L81.1 431.5L83.1 425.0L85.1 415.2L87.1 404.8L89.1 396.2L91.1 388.1L93.1 380.0L95.1 371.8L97.1 363.6L99.1 352.2L101.1 340.7L103.1 316.3L105.1 279.7L107.1 277.0L109.1 276.5L111.1 275.8L113.1 274.6L115.1 272.6L117.1 269.8L119.1 266.4L121.1 262.5L123.1 258.2L125.1 253.7L127.1 249.0L129.1 244.3L131.1 239.7L133.1 235.4L135.1 231.3L137.1 227.7L139.1 224.7L141.1 222.3L143.1 220.7L145.1 219.5L147.1 218.5L149.1 218.1L151.1 218.1L153.1 219.7L155.1 224.3L157.1 230.5L159.1 236.7L161.1 242.7L163.1 248.3L165.1 253.5L167.1 258.6L169.1 263.4L171.1 267.8L173.1 271.6L175.1 274.7L177.1 277.1L179.1 278.6L181.1 279.3L183.1 279.0L185.1 277.9L187.1 276.0L189.1 273.9L191.1 272.9L193.1 273.1L195.1 274.9L197.1 276.6L199.1 278.3L201.1 280.0L203.1 281.7L205.1 283.6L207.1 285.9L209.1 288.5L211.1 290.7L213.1 292.3L215.1 293.1L217.1 293.3L219.1 293.2L221.1 293.1L223.1 292.9L225.1 292.7L227.1 292.3L229.1 291.9L231.1 291.4L233.1 290.7L235.1 289.8L237.1 288.8L239.1 287.5L241.1 285.9L243.1 284.0L245.1 281.6L247.1 278.9L249.1 275.9L251.1 273.8L253.1 274.1L255.1 275.9L257.1 279.7L259.1 285.5L261.1 293.0L263.1 301.6L265.1 310.5L267.1 319.3L269.1 327.7L271.1 335.4L273.1 342.7L275.1 350.0L277.1 357.6L279.1 365.6L281.1 374.0L283.1 382.8L285.1 392.1L287.1 403.5L289.1 416.1L291.1 428.2L293.1 438.3L295.1 445.6L297.1 448.3L299.1 447.9L301.1 441.3L303.1 430.8L305.1 418.3L307.1 406.3L309.1 400.6L311.1 401.8L313.1 411.2L315.1 425.5L317.1 441.0L319.1 455.8L321.1 469.0L323.1 479.3L323.8 481.5M329.1 481.5L331.1 471.9L333.1 459.4L335.1 446.5L337.1 436.4L339.1 434.5L341.1 440.2L343.1 452.5L345.1 467.5L346.9 481.5M371.3 481.5L373.1 472.6L375.1 462.2L377.1 451.9L379.1 442.1L381.1 433.6L383.1 427.2L385.1 424.5L387.1 424.6L389.1 429.0L391.1 436.1L393.1 445.2L395.1 455.2L397.1 465.8L399.1 476.4L400.1 481.5" fill="none" stroke="#000" stroke-width="1" stroke-linejoin="round"/><path d="M41.0 501.0L41.0 499.1L43.0 498.5L45.0 498.0L47.0 497.5L49.0 497.0L51.0 496.5L53.0 496.1L55.0 494.5L57.0 492.7L59.0 489.7L61.0 486.5L63.0 483.0L65.0 478.1L67.0 473.1L69.0 466.9L71.0 460.4L73.0 454.7L75.0 449.2L77.0 443.7L79.0 438.2L81.0 431.9L83.0 425.4L85.0 415.8L87.0 405.5L89.0 396.8L91.0 388.6L93.0 380.4L95.0 372.2L97.0 364.0L99.0 352.5L101.0 341.0L103.0 316.9L105.0 282.1L107.0 281.0L109.0 280.5L111.0 279.8L113.0 278.6L115.0 276.5L117.0 273.8L119.0 270.5L121.0 266.7L123.0 262.5L125.0 258.1L127.0 253.6L129.0 249.1L131.0 244.6L133.0 240.4L135.0 236.5L137.0 233.1L139.0 230.2L141.0 227.9L143.0 226.4L145.0 225.4L147.0 224.6L149.0 224.3L151.0 224.3L153.0 225.3L155.0 230.2L157.0 236.6L159.0 243.1L161.0 249.5L163.0 255.5L165.0 261.0L167.0 266.3L169.0 271.4L171.0 275.9L173.0 279.9L175.0 283.1L177.0 285.4L179.0 286.8L181.0 287.2L183.0 286.6L185.0 284.7L187.0 282.0L189.0 278.9L191.0 276.4L193.0 276.1L195.0 277.2L197.0 278.8L199.0 280.2L201.0 281.7L203.0 283.1L205.0 284.6L207.0 286.4L209.0 288.4L211.0 290.1L213.0 291.4L215.0 292.2L217.0 292.5L219.0 292.6L221.0 292.6L223.0 292.5L225.0 292.4L227.0 292.3L229.0 292.0L231.0 291.7L233.0 291.2L235.0 290.6L237.0 289.8L239.0 288.7L241.0 287.4L243.0 285.7L245.0 283.7L247.0 281.2L249.0 278.3L251.0 275.7L253.0 275.5L255.0 277.3L257.0 281.1L259.0 287.1L261.0 294.9L263.0 304.0L265.0 313.7L267.0 323.5L269.0 333.0L271.0 342.0L273.0 350.5L275.0 358.9L277.0 367.5L279.0 376.4L281.0 385.6L283.0 395.2L285.0 404.9L287.0 415.9L289.0 427.8L291.0 439.4L293.0 449.2L295.0 456.3L297.0 458.9L299.0 458.8L301.0 452.8L303.0 443.0L305.0 430.5L307.0 417.4L309.0 407.6L311.0 406.2L313.0 410.9L315.0 423.7L317.0 438.9L319.0 454.4L321.0 468.8L323.0 481.1L325.0 483.0L327.0 483.0L329.0 483.0L331.0 483.0L333.0 476.5L335.0 463.6L337.0 451.6L339.0 444.8L341.0 446.9L343.0 455.7L345.0 469.7L347.0 483.0L349.0 483.0L351.0 483.0L353.0 483.0L355.0 483.0L357.0 483.0L359.0 483.0L361.0 483.0L363.0 483.0L365.0 483.0L367.0 483.0L369.0 483.0L371.0 483.0L373.0 483.0L375.0 475.7L377.0 465.3L379.0 455.1L381.0 445.8L383.0 438.0L385.0 432.8L387.0 431.0L389.0 433.1L391.0 438.4L393.0 446.4L395.0 455.9L397.0 466.2L399.0 476.7L401.0 483.0L403.0 483.0L405.0 483.0L407.0 483.0L409.0 483.0L411.0 483.0L413.0 483.0L415.0 483.0L417.0 483.0L419.0 483.0L421.0 483.0L423.0 483.0L425.0 483.0L427.0 483.0L429.0 483.0L431.0 483.0L433.0 483.0L435.0 483.0L437.0 483.0L439.0 483.0L441.0 483.0L443.0 483.0L445.0 483.0L447.0 483.0L449.0 483.0L451.0 483.0L453.0 483.0L455.0 483.0L457.0 483.0L459.0 483.0L461.0 483.0L463.0 483.0L465.0 483.0L467.0 483.0L469.0 483.0L471.0 483.0L473.0 483.0L475.0 483.0L477.0 483.0L479.0 483.0L481.0 483.0L483.0 483.0L485.0 483.0L487.0 483.0L489.0 483.0L491.0 483.0L493.0 483.0L495.0 483.0L497.0 483.0L499.0 483.0L501.0 483.0L503.0 483.0L505.0 483.0L507.0 483.0L509.0 483.0L511.0 483.0L513.0 483.0L515.0 483.0L517.0 483.0L519.0 483.0L521.0 483.0L523.0 483.0L525.0 483.0L527.0 483.0L529.0 483.0L531.0 483.0L533.0 483.0L535.0 483.0L537.0 483.0L539.0 483.0L541.0 483.0L543.0 483.0L545.0 483.0L547.0 483.0L549.0 483.0L551.0 483.0L553.0 483.0L555.0 483.0L557.0 483.0L559.0 483.0L561.0 483.0L563.0 483.0L565.0 483.0L567.0 483.0L569.0 483.0L571.0 483.0L573.0 483.0L575.0 483.0L577.0 483.0L579.0 483.0L581.0 483.0L583.0 483.0L585.0 483.0L587.0 483.0L589.0 483.0L591.0 483.0L593.0 483.0L595.0 483.0L597.0 483.0L599.0 483.0L601.0 483.0L603.0 483.0L605.0 483.0L607.0 483.0L609.0 483.0L611.0 483.0L613.0 483.0L615.0 483.0L617.0 483.0L619.0 483.0L621.0 483.0L623.0 483.0L625.0 483.0L627.0 483.0L629.0 483.0L631.0 483.0L633.0 483.0L635.0 483.0L637.0 483.0L639.0 483.0L641.0 483.0L643.0 483.0L645.0 483.0L647.0 483.0L649.0 483.0L651.0 483.0L653.0 483.0L655.0 483.0L657.0 483.0L659.0 483.0L661.0 483.0L663.0 483.0L665.0 483.0L667.0 483.0L669.0 483.0L671.0 483.0L673.0 483.0L675.0 483.0L677.0 483.0L679.0 483.0L681.0 483.0L683.0 483.0L685.0 483.0L687.0 483.0L689.0 483.0L691.0 483.0L693.0 483.0L695.0 483.0L697.0 483.0L699.0 483.0L701.0 483.0L703.0 483.0L705.0 483.0L707.0 483.0L709.0 483.0L711.0 483.0L713.0 483.0L715.0 483.0L717.0 483.0L719.0 483.0L721.0 483.0L723.0 483.0L725.0 483.0L727.0 483.0L729.0 483.0L731.0 483.0L733.0 483.0L735.0 483.0L737.0 483.0L739.0 483.0L741.0 483.0L743.0 483.0L745.0 483.0L747.0 483.0L749.0 483.0L751.0 483.0L753.0 483.0L755.0 483.0L757.0 483.0L759.0 483.0L761.0 483.0L763.0 483.0L765.0 483.0L767.0 483.0L769.0 483.0L771.0 483.0L773.0 483.0L775.0 483.0L777.0 483.0L779.0 483.0L781.0 483.0L783.0 483.0L785.0 483.0L787.0 483.0L789.0 483.0L791.0 483.0L793.0 483.0L795.0 483.0L795.5 483.0L795.5 483.0L112 483.0L112 501.0L41.0 501.0Z" fill="#0055ff"/><path d="M41.0 483.0L41.0 499.1L43.0 498.5L45.0 498.0L47.0 497.5L49.0 497.0L51.0 496.5L53.0 496.1L55.0 494.5L57.0 492.7L59.0 489.7L61.0 486.5L63.0 483.0L65.0 478.1L67.0 473.1L69.0 466.9L71.0 460.4L73.0 454.7L75.0 449.2L77.0 443.7L79.0 438.2L81.0 431.9L83.0 425.4L85.0 415.8L87.0 405.5L89.0 396.8L91.0 388.6L93.0 380.4L95.0 372.2L97.0 364.0L99.0 352.5L101.0 341.0L103.0 316.9L105.0 282.1L107.0 281.0L109.0 280.5L111.0 279.8L113.0 278.6L115.0 276.5L117.0 273.8L119.0 270.5L121.0 266.7L123.0 262.5L125.0 258.1L127.0 253.6L129.0 249.1L131.0 244.6L133.0 240.4L135.0 236.5L137.0 233.1L139.0 230.2L141.0 227.9L143.0 226.4L145.0 225.4L147.0 224.6L149.0 224.3L151.0 224.3L153.0 225.3L155.0 230.2L157.0 236.6L159.0 243.1L161.0 249.5L163.0 255.5L165.0 261.0L167.0 266.3L169.0 271.4L171.0 275.9L173.0 279.9L175.0 283.1L177.0 285.4L179.0 286.8L181.0 287.2L183.0 286.6L185.0 284.7L187.0 282.0L189.0 278.9L191.0 276.4L193.0 276.1L195.0 277.2L197.0 278.8L199.0 280.2L201.0 281.7L203.0 283.1L205.0 284.6L207.0 286.4L209.0 288.4L211.0 290.1L213.0 291.4L215.0 292.2L217.0 292.5L219.0 292.6L221.0 292.6L223.0 292.5L225.0 292.4L227.0 292.3L229.0 292.0L231.0 291.7L233.0 291.2L235.0 290.6L237.0 289.8L239.0 288.7L241.0 287.4L243.0 285.7L245.0 283.7L247.0 281.2L249.0 278.3L251.0 275.7L253.0 275.5L255.0 277.3L257.0 281.1L259.0 287.1L261.0 294.9L263.0 304.0L265.0 313.7L267.0 323.5L269.0 333.0L271.0 342.0L273.0 350.5L275.0 358.9L277.0 367.5L279.0 376.4L281.0 385.6L283.0 395.2L285.0 404.9L287.0 415.9L289.0 427.8L291.0 439.4L293.0 449.2L295.0 456.3L297.0 458.9L299.0 458.8L301.0 452.8L303.0 443.0L305.0 430.5L307.0 417.4L309.0 407.6L311.0 406.2L313.0 410.9L315.0 423.7L317.0 438.9L319.0 454.4L321.0 468.8L323.0 481.1L323.5 483.0M331.8 483.0L333.0 476.5L335.0 463.6L337.0 451.6L339.0 444.8L341.0 446.9L343.0 455.7L345.0 469.7L346.8 483.0M373.6 483.0L375.0 475.7L377.0 465.3L379.0 455.1L381.0 445.8L383.0 438.0L385.0 432.8L387.0 431.0L389.0 433.1L391.0 438.4L393.0 446.4L395.0 455.9L397.0 466.2L399.0 476.7L400.2 483.0" fill="none" stroke="#000" stroke-width="1" stroke-linejoin="round"/><path d="M41.0 501.0L41.0 499.1L43.0 498.6L45.0 498.0L47.0 497.5L49.0 497.0L51.0 496.5L53.0 496.1L55.0 494.7L57.0 492.8L59.0 489.9L61.0 486.7L63.0 483.3L65.0 478.4L67.0 473.4L69.0 467.3L71.0 460.8L73.0 455.0L75.0 449.5L77.0 444.0L79.0 438.5L81.0 432.3L83.0 425.8L85.0 416.5L87.0 406.1L89.0 397.3L91.0 389.1L93.0 380.9L95.0 372.6L97.0 364.4L99.0 352.9L101.0 341.3L103.0 317.4L105.0 285.8L107.0 285.0L109.0 284.5L111.0 283.8L113.0 282.6L115.0 280.5L117.0 277.8L119.0 274.6L121.0 270.9L123.0 266.8L125.0 262.6L127.0 258.2L129.0 253.8L131.0 249.5L133.0 245.4L135.0 241.7L137.0 238.4L139.0 235.6L141.0 233.4L143.0 232.1L145.0 231.2L147.0 230.6L149.0 230.4L151.0 230.6L153.0 231.4L155.0 236.2L157.0 242.7L159.0 249.5L161.0 256.2L163.0 262.6L165.0 268.4L167.0 273.9L169.0 279.1L171.0 283.8L173.0 287.9L175.0 291.1L177.0 293.5L179.0 294.6L181.0 294.7L183.0 293.6L185.0 291.1L187.0 287.6L189.0 283.4L191.0 279.7L193.0 278.2L195.0 278.6L197.0 280.1L199.0 281.4L201.0 282.7L203.0 283.9L205.0 285.2L207.0 286.6L209.0 288.1L211.0 289.5L213.0 290.6L215.0 291.3L217.0 291.8L219.0 292.0L221.0 292.1L223.0 292.2L225.0 292.2L227.0 292.2L229.0 292.2L231.0 292.0L233.0 291.7L235.0 291.3L237.0 290.8L239.0 290.0L241.0 289.0L243.0 287.7L245.0 286.0L247.0 283.8L249.0 281.3L251.0 278.7L253.0 277.8L255.0 279.6L257.0 283.6L259.0 289.7L261.0 297.8L263.0 307.3L265.0 317.4L267.0 327.7L269.0 337.9L271.0 347.8L273.0 357.3L275.0 366.5L277.0 375.8L279.0 385.3L281.0 395.1L283.0 405.1L285.0 415.3L287.0 425.8L289.0 437.0L291.0 448.0L293.0 457.5L295.0 464.6L297.0 467.9L299.0 468.2L301.0 463.5L303.0 454.7L305.0 442.8L307.0 429.5L309.0 417.3L311.0 412.1L313.0 412.6L315.0 422.6L317.0 437.1L319.0 452.8L321.0 468.0L323.0 481.8L325.0 484.5L327.0 484.5L329.0 484.5L331.0 484.5L333.0 484.5L335.0 481.7L337.0 469.0L339.0 458.5L341.0 457.4L343.0 461.0L345.0 473.3L347.0 484.5L349.0 484.5L351.0 484.5L353.0 484.5L355.0 484.5L357.0 484.5L359.0 484.5L361.0 484.5L363.0 484.5L365.0 484.5L367.0 484.5L369.0 484.5L371.0 484.5L373.0 484.5L375.0 484.5L377.0 479.3L379.0 468.9L381.0 459.0L383.0 450.1L385.0 443.1L387.0 439.0L389.0 439.2L391.0 442.1L393.0 448.7L395.0 457.3L397.0 467.2L399.0 477.6L401.0 484.5L403.0 484.5L405.0 484.5L407.0 484.5L409.0 484.5L411.0 484.5L413.0 484.5L415.0 484.5L417.0 484.5L419.0 484.5L421.0 484.5L423.0 484.5L425.0 484.5L427.0 484.5L429.0 484.5L431.0 484.5L433.0 484.5L435.0 484.5L437.0 484.5L439.0 484.5L441.0 484.5L443.0 484.5L445.0 484.5L447.0 484.5L449.0 484.5L451.0 484.5L453.0 484.5L455.0 484.5L457.0 484.5L459.0 484.5L461.0 484.5L463.0 484.5L465.0 484.5L467.0 484.5L469.0 484.5L471.0 484.5L473.0 484.5L475.0 484.5L477.0 484.5L479.0 484.5L481.0 484.5L483.0 484.5L485.0 484.5L487.0 484.5L489.0 484.5L491.0 484.5L493.0 484.5L495.0 484.5L497.0 484.5L499.0 484.5L501.0 484.5L503.0 484.5L505.0 484.5L507.0 484.5L509.0 484.5L511.0 484.5L513.0 484.5L515.0 484.5L517.0 484.5L519.0 484.5L521.0 484.5L523.0 484.5L525.0 484.5L527.0 484.5L529.0 484.5L531.0 484.5L533.0 484.5L535.0 484.5L537.0 484.5L539.0 484.5L541.0 484.5L543.0 484.5L545.0 484.5L547.0 484.5L549.0 484.5L551.0 484.5L553.0 484.5L555.0 484.5L557.0 484.5L559.0 484.5L561.0 484.5L563.0 484.5L565.0 484.5L567.0 484.5L569.0 484.5L571.0 484.5L573.0 484.5L575.0 484.5L577.0 484.5L579.0 484.5L581.0 484.5L583.0 484.5L585.0 484.5L587.0 484.5L589.0 484.5L591.0 484.5L593.0 484.5L595.0 484.5L597.0 484.5L599.0 484.5L601.0 484.5L603.0 484.5L605.0 484.5L607.0 484.5L609.0 484.5L611.0 484.5L613.0 484.5L615.0 484.5L617.0 484.5L619.0 484.5L621.0 484.5L623.0 484.5L625.0 484.5L627.0 484.5L629.0 484.5L631.0 484.5L633.0 484.5L635.0 484.5L637.0 484.5L639.0 484.5L641.0 484.5L643.0 484.5L645.0 484.5L647.0 484.5L649.0 484.5L651.0 484.5L653.0 484.5L655.0 484.5L657.0 484.5L659.0 484.5L661.0 484.5L663.0 484.5L665.0 484.5L667.0 484.5L669.0 484.5L671.0 484.5L673.0 484.5L675.0 484.5L677.0 484.5L679.0 484.5L681.0 484.5L683.0 484.5L685.0 484.5L687.0 484.5L689.0 484.5L691.0 484.5L693.0 484.5L695.0 484.5L697.0 484.5L699.0 484.5L701.0 484.5L703.0 484.5L705.0 484.5L707.0 484.5L709.0 484.5L711.0 484.5L713.0 484.5L715.0 484.5L717.0 484.5L719.0 484.5L721.0 484.5L723.0 484.5L725.0 484.5L727.0 484.5L729.0 484.5L731.0 484.5L733.0 484.5L735.0 484.5L737.0 484.5L739.0 484.5L741.0 484.5L743.0 484.5L745.0 484.5L747.0 484.5L749.0 484.5L751.0 484.5L753.0 484.5L755.0 484.5L757.0 484.5L759.0 484.5L761.0 484.5L763.0 484.5L765.0 484.5L767.0 484.5L769.0 484.5L771.0 484.5L773.0 484.5L775.0 484.5L777.0 484.5L779.0 484.5L781.0 484.5L783.0 484.5L785.0 484.5L787.0 484.5L789.0 484.5L791.0 484.5L793.0 484.5L795.0 484.5L797.0 484.5L798.2 484.5L798.2 484.5L112 484.5L112 501.0L41.0 501.0Z" fill="#0055ff"/><path d="M41.0 484.5L41.0 499.1L43.0 498.6L45.0 498.0L47.0 497.5L49.0 497.0L51.0 496.5L53.0 496.1L55.0 494.7L57.0 492.8L59.0 489.9L61.0 486.7L63.0 483.3L65.0 478.4L67.0 473.4L69.0 467.3L71.0 460.8L73.0 455.0L75.0 449.5L77.0 444.0L79.0 438.5L81.0 432.3L83.0 425.8L85.0 416.5L87.0 406.1L89.0 397.3L91.0 389.1L93.0 380.9L95.0 372.6L97.0 364.4L99.0 352.9L101.0 341.3L103.0 317.4L105.0 285.8L107.0 285.0L109.0 284.5L111.0 283.8L113.0 282.6L115.0 280.5L117.0 277.8L119.0 274.6L121.0 270.9L123.0 266.8L125.0 262.6L127.0 258.2L129.0 253.8L131.0 249.5L133.0 245.4L135.0 241.7L137.0 238.4L139.0 235.6L141.0 233.4L143.0 232.1L145.0 231.2L147.0 230.6L149.0 230.4L151.0 230.6L153.0 231.4L155.0 236.2L157.0 242.7L159.0 249.5L161.0 256.2L163.0 262.6L165.0 268.4L167.0 273.9L169.0 279.1L171.0 283.8L173.0 287.9L175.0 291.1L177.0 293.5L179.0 294.6L181.0 294.7L183.0 293.6L185.0 291.1L187.0 287.6L189.0 283.4L191.0 279.7L193.0 278.2L195.0 278.6L197.0 280.1L199.0 281.4L201.0 282.7L203.0 283.9L205.0 285.2L207.0 286.6L209.0 288.1L211.0 289.5L213.0 290.6L215.0 291.3L217.0 291.8L219.0 292.0L221.0 292.1L223.0 292.2L225.0 292.2L227.0 292.2L229.0 292.2L231.0 292.0L233.0 291.7L235.0 291.3L237.0 290.8L239.0 290.0L241.0 289.0L243.0 287.7L245.0 286.0L247.0 283.8L249.0 281.3L251.0 278.7L253.0 277.8L255.0 279.6L257.0 283.6L259.0 289.7L261.0 297.8L263.0 307.3L265.0 317.4L267.0 327.7L269.0 337.9L271.0 347.8L273.0 357.3L275.0 366.5L277.0 375.8L279.0 385.3L281.0 395.1L283.0 405.1L285.0 415.3L287.0 425.8L289.0 437.0L291.0 448.0L293.0 457.5L295.0 464.6L297.0 467.9L299.0 468.2L301.0 463.5L303.0 454.7L305.0 442.8L307.0 429.5L309.0 417.3L311.0 412.1L313.0 412.6L315.0 422.6L317.0 437.1L319.0 452.8L321.0 468.0L323.0 481.8L323.5 484.5M334.5 484.5L335.0 481.7L337.0 469.0L339.0 458.5L341.0 457.4L343.0 461.0L345.0 473.3L346.5 484.5M376.0 484.5L377.0 479.3L379.0 468.9L381.0 459.0L383.0 450.1L385.0 443.1L387.0 439.0L389.0 439.2L391.0 442.1L393.0 448.7L395.0 457.3L397.0 467.2L399.0 477.6L400.3 484.5" fill="none" stroke="#000" stroke-width="1" stroke-linejoin="round"/><path d="M41.0 501.0L41.0 499.1L43.0 498.6L45.0 498.1L47.0 497.5L49.0 497.0L51.0 496.6L53.0 496.1L55.0 494.8L57.0 492.9L59.0 490.1L61.0 486.9L63.0 483.7L65.0 478.7L67.0 473.7L69.0 467.7L71.0 461.2L73.0 455.4L75.0 449.9L77.0 444.4L79.0 438.9L81.0 432.7L83.0 426.2L85.0 417.2L87.0 406.8L89.0 397.9L91.0 389.6L93.0 381.3L95.0 373.0L97.0 364.7L99.0 353.3L101.0 341.6L103.0 317.9L105.0 289.7L107.0 289.0L109.0 288.5L111.0 287.8L113.0 286.6L115.0 284.5L117.0 281.9L119.0 278.7L121.0 275.0L123.0 271.1L125.0 267.0L127.0 262.7L129.0 258.5L131.0 254.4L133.0 250.5L135.0 246.9L137.0 243.7L139.0 241.1L141.0 239.1L143.0 238.0L145.0 237.3L147.0 236.8L149.0 236.8L151.0 237.1L153.0 238.3L155.0 241.9L157.0 248.9L159.0 256.0L161.0 263.0L163.0 269.8L165.0 275.9L167.0 281.6L169.0 287.0L171.0 291.8L173.0 295.9L175.0 299.2L177.0 301.5L179.0 302.5L181.0 302.3L183.0 300.8L185.0 297.8L187.0 293.5L189.0 288.6L191.0 283.8L193.0 280.7L195.0 280.8L197.0 281.9L199.0 283.2L201.0 284.3L203.0 285.4L205.0 286.6L207.0 287.7L209.0 288.9L211.0 290.1L213.0 291.1L215.0 291.9L217.0 292.4L219.0 292.7L221.0 293.0L223.0 293.2L225.0 293.4L227.0 293.6L229.0 293.7L231.0 293.7L233.0 293.6L235.0 293.5L237.0 293.2L239.0 292.7L241.0 292.0L243.0 291.0L245.0 289.7L247.0 288.0L249.0 286.0L251.0 283.7L253.0 282.2L255.0 283.9L257.0 288.0L259.0 294.4L261.0 302.7L263.0 312.4L265.0 322.8L267.0 333.5L269.0 344.1L271.0 354.5L273.0 364.6L275.0 374.4L277.0 384.2L279.0 394.1L281.0 404.2L283.0 414.5L285.0 424.9L287.0 435.2L289.0 445.9L291.0 456.4L293.0 465.7L295.0 472.9L297.0 477.0L299.0 478.0L301.0 474.5L303.0 466.9L305.0 455.8L307.0 442.6L309.0 429.4L311.0 420.1L313.0 417.5L315.0 423.3L317.0 436.1L319.0 451.4L321.0 467.1L323.0 481.8L325.0 486.0L327.0 486.0L329.0 486.0L331.0 486.0L333.0 486.0L335.0 486.0L337.0 484.7L339.0 472.7L341.0 466.5L343.0 466.6L345.0 475.3L347.0 486.0L349.0 486.0L351.0 486.0L353.0 486.0L355.0 486.0L357.0 486.0L359.0 486.0L361.0 486.0L363.0 486.0L365.0 486.0L367.0 486.0L369.0 486.0L371.0 486.0L373.0 486.0L375.0 486.0L377.0 486.0L379.0 484.8L381.0 474.5L383.0 464.9L385.0 456.6L387.0 450.5L389.0 448.5L391.0 449.0L393.0 453.7L395.0 461.2L397.0 470.3L399.0 480.5L401.0 486.0L403.0 486.0L405.0 486.0L407.0 486.0L409.0 486.0L411.0 486.0L413.0 486.0L415.0 486.0L417.0 486.0L419.0 486.0L421.0 486.0L423.0 486.0L425.0 486.0L427.0 486.0L429.0 486.0L431.0 486.0L433.0 486.0L435.0 486.0L437.0 486.0L439.0 486.0L441.0 486.0L443.0 486.0L445.0 486.0L447.0 486.0L449.0 486.0L451.0 486.0L453.0 486.0L455.0 486.0L457.0 486.0L459.0 486.0L461.0 486.0L463.0 486.0L465.0 486.0L467.0 486.0L469.0 486.0L471.0 486.0L473.0 486.0L475.0 486.0L477.0 486.0L479.0 486.0L481.0 486.0L483.0 486.0L485.0 486.0L487.0 486.0L489.0 486.0L491.0 486.0L493.0 486.0L495.0 486.0L497.0 486.0L499.0 486.0L501.0 486.0L503.0 486.0L505.0 486.0L507.0 486.0L509.0 486.0L511.0 486.0L513.0 486.0L515.0 486.0L517.0 486.0L519.0 486.0L521.0 486.0L523.0 486.0L525.0 486.0L527.0 486.0L529.0 486.0L531.0 486.0L533.0 486.0L535.0 486.0L537.0 486.0L539.0 486.0L541.0 486.0L543.0 486.0L545.0 486.0L547.0 486.0L549.0 486.0L551.0 486.0L553.0 486.0L555.0 486.0L557.0 486.0L559.0 486.0L561.0 486.0L563.0 486.0L565.0 486.0L567.0 486.0L569.0 486.0L571.0 486.0L573.0 486.0L575.0 486.0L577.0 486.0L579.0 486.0L581.0 486.0L583.0 486.0L585.0 486.0L587.0 486.0L589.0 486.0L591.0 486.0L593.0 486.0L595.0 486.0L597.0 486.0L599.0 486.0L601.0 486.0L603.0 486.0L605.0 486.0L607.0 486.0L609.0 486.0L611.0 486.0L613.0 486.0L615.0 486.0L617.0 486.0L619.0 486.0L621.0 486.0L623.0 486.0L625.0 486.0L627.0 486.0L629.0 486.0L631.0 486.0L633.0 486.0L635.0 486.0L637.0 486.0L639.0 486.0L641.0 486.0L643.0 486.0L645.0 486.0L647.0 486.0L649.0 486.0L651.0 486.0L653.0 486.0L655.0 486.0L657.0 486.0L659.0 486.0L661.0 486.0L663.0 486.0L665.0 486.0L667.0 486.0L669.0 486.0L671.0 486.0L673.0 486.0L675.0 486.0L677.0 486.0L679.0 486.0L681.0 486.0L683.0 486.0L685.0 486.0L687.0 486.0L689.0 486.0L691.0 486.0L693.0 486.0L695.0 486.0L697.0 486.0L699.0 486.0L701.0 486.0L703.0 486.0L705.0 486.0L707.0 486.0L709.0 486.0L711.0 486.0L713.0 486.0L715.0 486.0L717.0 486.0L719.0 486.0L721.0 486.0L723.0 486.0L725.0 486.0L727.0 486.0L729.0 486.0L731.0 486.0L733.0 486.0L735.0 486.0L737.0 486.0L739.0 486.0L741.0 486.0L743.0 486.0L745.0 486.0L747.0 486.0L749.0 486.0L751.0 486.0L753.0 486.0L755.0 486.0L757.0 486.0L759.0 486.0L761.0 486.0L763.0 486.0L765.0 486.0L767.0 486.0L769.0 486.0L771.0 486.0L773.0 486.0L775.0 486.0L777.0 486.0L779.0 486.0L781.0 486.0L783.0 486.0L785.0 486.0L787.0 486.0L789.0 486.0L791.0 486.0L793.0 486.0L795.0 486.0L797.0 486.0L799.0 486.0L800.9 486.0L800.9 486.0L112 486.0L112 501.0L41.0 501.0Z" fill="#0055ff"/><path d="M41.0 486.0L41.0 499.1L43.0 498.6L45.0 498.1L47.0 497.5L49.0 497.0L51.0 496.6L53.0 496.1L55.0 494.8L57.0 492.9L59.0 490.1L61.0 486.9L63.0 483.7L65.0 478.7L67.0 473.7L69.0 467.7L71.0 461.2L73.0 455.4L75.0 449.9L77.0 444.4L79.0 438.9L81.0 432.7L83.0 426.2L85.0 417.2L87.0 406.8L89.0 397.9L91.0 389.6L93.0 381.3L95.0 373.0L97.0 364.7L99.0 353.3L101.0 341.6L103.0 317.9L105.0 289.7L107.0 289.0L109.0 288.5L111.0 287.8L113.0 286.6L115.0 284.5L117.0 281.9L119.0 278.7L121.0 275.0L123.0 271.1L125.0 267.0L127.0 262.7L129.0 258.5L131.0 254.4L133.0 250.5L135.0 246.9L137.0 243.7L139.0 241.1L141.0 239.1L143.0 238.0L145.0 237.3L147.0 236.8L149.0 236.8L151.0 237.1L153.0 238.3L155.0 241.9L157.0 248.9L159.0 256.0L161.0 263.0L163.0 269.8L165.0 275.9L167.0 281.6L169.0 287.0L171.0 291.8L173.0 295.9L175.0 299.2L177.0 301.5L179.0 302.5L181.0 302.3L183.0 300.8L185.0 297.8L187.0 293.5L189.0 288.6L191.0 283.8L193.0 280.7L195.0 280.8L197.0 281.9L199.0 283.2L201.0 284.3L203.0 285.4L205.0 286.6L207.0 287.7L209.0 288.9L211.0 290.1L213.0 291.1L215.0 291.9L217.0 292.4L219.0 292.7L221.0 293.0L223.0 293.2L225.0 293.4L227.0 293.6L229.0 293.7L231.0 293.7L233.0 293.6L235.0 293.5L237.0 293.2L239.0 292.7L241.0 292.0L243.0 291.0L245.0 289.7L247.0 288.0L249.0 286.0L251.0 283.7L253.0 282.2L255.0 283.9L257.0 288.0L259.0 294.4L261.0 302.7L263.0 312.4L265.0 322.8L267.0 333.5L269.0 344.1L271.0 354.5L273.0 364.6L275.0 374.4L277.0 384.2L279.0 394.1L281.0 404.2L283.0 414.5L285.0 424.9L287.0 435.2L289.0 445.9L291.0 456.4L293.0 465.7L295.0 472.9L297.0 477.0L299.0 478.0L301.0 474.5L303.0 466.9L305.0 455.8L307.0 442.6L309.0 429.4L311.0 420.1L313.0 417.5L315.0 423.3L317.0 436.1L319.0 451.4L321.0 467.1L323.0 481.8L323.6 486.0M336.8 486.0L337.0 484.7L339.0 472.7L341.0 466.5L343.0 466.6L345.0 475.3L346.5 486.0M378.7 486.0L379.0 484.8L381.0 474.5L383.0 464.9L385.0 456.6L387.0 450.5L389.0 448.5L391.0 449.0L393.0 453.7L395.0 461.2L397.0 470.3L399.0 480.5L400.0 486.0" fill="none" stroke="#000" stroke-width="1" stroke-linejoin="round"/><path d="M40.9 501.0L40.9 499.2L42.9 498.6L44.9 498.1L46.9 497.6L48.9 497.1L50.9 496.6L52.9 496.2L54.9 494.9L56.9 493.1L58.9 490.3L60.9 487.1L62.9 483.9L64.9 479.0L66.9 474.0L68.9 468.2L70.9 461.7L72.9 455.7L74.9 450.2L76.9 444.7L78.9 439.2L80.9 433.1L82.9 426.6L84.9 417.8L86.9 407.4L88.9 398.5L90.9 390.1L92.9 381.7L94.9 373.4L96.9 365.0L98.9 353.7L100.9 341.9L102.9 318.4L104.9 293.6L106.9 293.0L108.9 292.5L110.9 291.8L112.9 290.5L114.9 288.5L116.9 285.9L118.9 282.8L120.9 279.3L122.9 275.5L124.9 271.5L126.9 267.4L128.9 263.3L130.9 259.4L132.9 255.7L134.9 252.3L136.9 249.4L138.9 247.0L140.9 245.2L142.9 244.2L144.9 243.7L146.9 243.4L148.9 243.4L150.9 243.9L152.9 245.1L154.9 247.8L156.9 255.3L158.9 262.6L160.9 270.0L162.9 277.1L164.9 283.6L166.9 289.5L168.9 295.1L170.9 300.0L172.9 304.3L174.9 307.8L176.9 310.2L178.9 311.3L180.9 311.2L182.9 309.7L184.9 306.6L186.9 302.1L188.9 296.5L190.9 290.9L192.9 286.6L194.9 286.1L196.9 286.5L198.9 287.9L200.9 289.0L202.9 290.0L204.9 291.1L206.9 292.1L208.9 293.2L210.9 294.3L212.9 295.2L214.9 295.9L216.9 296.5L218.9 297.0L220.9 297.4L222.9 297.7L224.9 298.1L226.9 298.3L228.9 298.6L230.9 298.7L232.9 298.8L234.9 298.8L236.9 298.7L238.9 298.4L240.9 297.9L242.9 297.2L244.9 296.2L246.9 294.8L248.9 293.1L250.9 291.0L252.9 289.1L254.9 290.2L256.9 293.9L258.9 300.3L260.9 308.7L262.9 318.5L264.9 329.1L266.9 340.0L268.9 350.9L270.9 361.6L272.9 372.1L274.9 382.3L276.9 392.4L278.9 402.6L280.9 412.8L282.9 423.2L284.9 433.7L286.9 444.0L288.9 454.3L290.9 464.4L292.9 473.5L294.9 480.9L296.9 485.7L298.9 487.2L300.9 484.8L302.9 478.3L304.9 468.1L306.9 455.3L308.9 441.5L310.9 429.6L312.9 423.1L314.9 425.4L316.9 435.0L318.9 449.3L320.9 465.0L322.9 480.5L324.9 487.5L326.9 487.5L328.9 487.5L330.9 487.5L332.9 487.5L334.9 487.5L336.9 487.5L338.9 487.5L340.9 478.4L342.9 474.4L344.9 479.3L346.9 487.5L348.9 487.5L350.9 487.5L352.9 487.5L354.9 487.5L356.9 487.5L358.9 487.5L360.9 487.5L362.9 487.5L364.9 487.5L366.9 487.5L368.9 487.5L370.9 487.5L372.9 487.5L374.9 487.5L376.9 487.5L378.9 487.5L380.9 487.5L382.9 481.8L384.9 472.6L386.9 465.1L388.9 460.5L390.9 459.0L392.9 461.6L394.9 467.3L396.9 475.4L398.9 485.0L400.9 487.5L402.9 487.5L404.9 487.5L406.9 487.5L408.9 487.5L410.9 487.5L412.9 487.5L414.9 487.5L416.9 487.5L418.9 487.5L420.9 487.5L422.9 487.5L424.9 487.5L426.9 487.5L428.9 487.5L430.9 487.5L432.9 487.5L434.9 487.5L436.9 487.5L438.9 487.5L440.9 487.5L442.9 487.5L444.9 487.5L446.9 487.5L448.9 487.5L450.9 487.5L452.9 487.5L454.9 487.5L456.9 487.5L458.9 487.5L460.9 487.5L462.9 487.5L464.9 487.5L466.9 487.5L468.9 487.5L470.9 487.5L472.9 487.5L474.9 487.5L476.9 487.5L478.9 487.5L480.9 487.5L482.9 487.5L484.9 487.5L486.9 487.5L488.9 487.5L490.9 487.5L492.9 487.5L494.9 487.5L496.9 487.5L498.9 487.5L500.9 487.5L502.9 487.5L504.9 487.5L506.9 487.5L508.9 487.5L510.9 487.5L512.9 487.5L514.9 487.5L516.9 487.5L518.9 487.5L520.9 487.5L522.9 487.5L524.9 487.5L526.9 487.5L528.9 487.5L530.9 487.5L532.9 487.5L534.9 487.5L536.9 487.5L538.9 487.5L540.9 487.5L542.9 487.5L544.9 487.5L546.9 487.5L548.9 487.5L550.9 487.5L552.9 487.5L554.9 487.5L556.9 487.5L558.9 487.5L560.9 487.5L562.9 487.5L564.9 487.5L566.9 487.5L568.9 487.5L570.9 487.5L572.9 487.5L574.9 487.5L576.9 487.5L578.9 487.5L580.9 487.5L582.9 487.5L584.9 487.5L586.9 487.5L588.9 487.5L590.9 487.5L592.9 487.5L594.9 487.5L596.9 487.5L598.9 487.5L600.9 487.5L602.9 487.5L604.9 487.5L606.9 487.5L608.9 487.5L610.9 487.5L612.9 487.5L614.9 487.5L616.9 487.5L618.9 487.5L620.9 487.5L622.9 487.5L624.9 487.5L626.9 487.5L628.9 487.5L630.9 487.5L632.9 487.5L634.9 487.5L636.9 487.5L638.9 487.5L640.9 487.5L642.9 487.5L644.9 487.5L646.9 487.5L648.9 487.5L650.9 487.5L652.9 487.5L654.9 487.5L656.9 487.5L658.9 487.5L660.9 487.5L662.9 487.5L664.9 487.5L666.9 487.5L668.9 487.5L670.9 487.5L672.9 487.5L674.9 487.5L676.9 487.5L678.9 487.5L680.9 487.5L682.9 487.5L684.9 487.5L686.9 487.5L688.9 487.5L690.9 487.5L692.9 487.5L694.9 487.5L696.9 487.5L698.9 487.5L700.9 487.5L702.9 487.5L704.9 487.5L706.9 487.5L708.9 487.5L710.9 487.5L712.9 487.5L714.9 487.5L716.9 487.5L718.9 487.5L720.9 487.5L722.9 487.5L724.9 487.5L726.9 487.5L728.9 487.5L730.9 487.5L732.9 487.5L734.9 487.5L736.9 487.5L738.9 487.5L740.9 487.5L742.9 487.5L744.9 487.5L746.9 487.5L748.9 487.5L750.9 487.5L752.9 487.5L754.9 487.5L756.9 487.5L758.9 487.5L760.9 487.5L762.9 487.5L764.9 487.5L766.9 487.5L768.9 487.5L770.9 487.5L772.9 487.5L774.9 487.5L776.9 487.5L778.9 487.5L780.9 487.5L782.9 487.5L784.9 487.5L786.9 487.5L788.9 487.5L790.9 487.5L792.9 487.5L794.9 487.5L796.9 487.5L798.9 487.5L800.9 487.5L802.9 487.5L803.6 487.5L803.6 487.5L112 487.5L112 501.0L40.9 501.0Z" fill="#0055ff"/><path d="M40.9 487.5L40.9 499.2L42.9 498.6L44.9 498.1L46.9 497.6L48.9 497.1L50.9 496.6L52.9 496.2L54.9 494.9L56.9 493.1L58.9 490.3L60.9 487.1L62.9 483.9L64.9 479.0L66.9 474.0L68.9 468.2L70.9 461.7L72.9 455.7L74.9 450.2L76.9 444.7L78.9 439.2L80.9 433.1L82.9 426.6L84.9 417.8L86.9 407.4L88.9 398.5L90.9 390.1L92.9 381.7L94.9 373.4L96.9 365.0L98.9 353.7L100.9 341.9L102.9 318.4L104.9 293.6L106.9 293.0L108.9 292.5L110.9 291.8L112.9 290.5L114.9 288.5L116.9 285.9L118.9 282.8L120.9 279.3L122.9 275.5L124.9 271.5L126.9 267.4L128.9 263.3L130.9 259.4L132.9 255.7L134.9 252.3L136.9 249.4L138.9 247.0L140.9 245.2L142.9 244.2L144.9 243.7L146.9 243.4L148.9 243.4L150.9 243.9L152.9 245.1L154.9 247.8L156.9 255.3L158.9 262.6L160.9 270.0L162.9 277.1L164.9 283.6L166.9 289.5L168.9 295.1L170.9 300.0L172.9 304.3L174.9 307.8L176.9 310.2L178.9 311.3L180.9 311.2L182.9 309.7L184.9 306.6L186.9 302.1L188.9 296.5L190.9 290.9L192.9 286.6L194.9 286.1L196.9 286.5L198.9 287.9L200.9 289.0L202.9 290.0L204.9 291.1L206.9 292.1L208.9 293.2L210.9 294.3L212.9 295.2L214.9 295.9L216.9 296.5L218.9 297.0L220.9 297.4L222.9 297.7L224.9 298.1L226.9 298.3L228.9 298.6L230.9 298.7L232.9 298.8L234.9 298.8L236.9 298.7L238.9 298.4L240.9 297.9L242.9 297.2L244.9 296.2L246.9 294.8L248.9 293.1L250.9 291.0L252.9 289.1L254.9 290.2L256.9 293.9L258.9 300.3L260.9 308.7L262.9 318.5L264.9 329.1L266.9 340.0L268.9 350.9L270.9 361.6L272.9 372.1L274.9 382.3L276.9 392.4L278.9 402.6L280.9 412.8L282.9 423.2L284.9 433.7L286.9 444.0L288.9 454.3L290.9 464.4L292.9 473.5L294.9 480.9L296.9 485.7L298.9 487.5M298.9 487.5L300.9 484.8L302.9 478.3L304.9 468.1L306.9 455.3L308.9 441.5L310.9 429.6L312.9 423.1L314.9 425.4L316.9 435.0L318.9 449.3L320.9 465.0L322.9 480.5L323.9 487.5M339.1 487.5L340.9 478.4L342.9 474.4L344.9 479.3L346.4 487.5M381.8 487.5L382.9 481.8L384.9 472.6L386.9 465.1L388.9 460.5L390.9 459.0L392.9 461.6L394.9 467.3L396.9 475.4L398.9 485.0L399.4 487.5" fill="none" stroke="#000" stroke-width="1" stroke-linejoin="round"/><path d="M40.9 501.0L40.9 499.2L42.9 498.7L44.9 498.1L46.9 497.6L48.9 497.1L50.9 496.7L52.9 496.2L54.9 495.0L56.9 493.2L58.9 490.5L60.9 487.3L62.9 484.1L64.9 479.3L66.9 474.3L68.9 468.6L70.9 462.1L72.9 456.1L74.9 450.6L76.9 445.1L78.9 439.6L80.9 433.6L82.9 427.1L84.9 418.5L86.9 408.1L88.9 399.0L90.9 390.6L92.9 382.2L94.9 373.8L96.9 365.4L98.9 354.1L100.9 342.2L102.9 318.9L104.9 297.5L106.9 297.0L108.9 296.4L110.9 295.7L112.9 294.4L114.9 292.5L116.9 290.0L118.9 286.9L120.9 283.6L122.9 279.9L124.9 276.1L126.9 272.2L128.9 268.4L130.9 264.6L132.9 261.2L134.9 258.0L136.9 255.3L138.9 253.1L140.9 251.5L142.9 250.6L144.9 250.2L146.9 250.1L148.9 250.2L150.9 250.8L152.9 252.0L154.9 253.9L156.9 261.7L158.9 269.3L160.9 277.0L162.9 284.4L164.9 291.3L166.9 297.5L168.9 303.4L170.9 308.6L172.9 313.3L174.9 317.1L176.9 319.9L178.9 321.6L180.9 321.9L182.9 321.1L184.9 318.4L186.9 314.1L188.9 308.6L190.9 302.8L192.9 297.9L194.9 296.3L196.9 296.5L198.9 298.0L200.9 299.1L202.9 300.3L204.9 301.4L206.9 302.4L208.9 303.5L210.9 304.6L212.9 305.6L214.9 306.5L216.9 307.2L218.9 307.7L220.9 308.3L222.9 308.7L224.9 309.2L226.9 309.6L228.9 309.9L230.9 310.2L232.9 310.4L234.9 310.5L236.9 310.5L238.9 310.4L240.9 310.0L242.9 309.4L244.9 308.5L246.9 307.2L248.9 305.6L250.9 303.6L252.9 301.4L254.9 301.6L256.9 304.3L258.9 310.3L260.9 318.5L262.9 328.3L264.9 338.9L266.9 349.9L268.9 361.0L270.9 371.9L272.9 382.6L274.9 393.1L276.9 403.5L278.9 413.7L280.9 424.1L282.9 434.5L284.9 444.9L286.9 455.2L288.9 465.3L290.9 475.1L292.9 484.0L294.9 489.0L296.9 489.0L298.9 489.0L300.9 489.0L302.9 489.0L304.9 480.9L306.9 468.4L308.9 454.3L310.9 440.6L312.9 430.3L314.9 429.7L316.9 434.5L318.9 447.4L320.9 462.9L322.9 478.7L324.9 489.0L326.9 489.0L328.9 489.0L330.9 489.0L332.9 489.0L334.9 489.0L336.9 489.0L338.9 489.0L340.9 489.0L342.9 483.9L344.9 485.0L346.9 489.0L348.9 489.0L350.9 489.0L352.9 489.0L354.9 489.0L356.9 489.0L358.9 489.0L360.9 489.0L362.9 489.0L364.9 489.0L366.9 489.0L368.9 489.0L370.9 489.0L372.9 489.0L374.9 489.0L376.9 489.0L378.9 489.0L380.9 489.0L382.9 489.0L384.9 489.0L386.9 481.0L388.9 474.4L390.9 471.1L392.9 471.2L394.9 474.7L396.9 481.6L398.9 489.0L400.9 489.0L402.9 489.0L404.9 489.0L406.9 489.0L408.9 489.0L410.9 489.0L412.9 489.0L414.9 489.0L416.9 489.0L418.9 489.0L420.9 489.0L422.9 489.0L424.9 489.0L426.9 489.0L428.9 489.0L430.9 489.0L432.9 489.0L434.9 489.0L436.9 489.0L438.9 489.0L440.9 489.0L442.9 489.0L444.9 489.0L446.9 489.0L448.9 489.0L450.9 489.0L452.9 489.0L454.9 489.0L456.9 489.0L458.9 489.0L460.9 489.0L462.9 489.0L464.9 489.0L466.9 489.0L468.9 489.0L470.9 489.0L472.9 489.0L474.9 489.0L476.9 489.0L478.9 489.0L480.9 489.0L482.9 489.0L484.9 489.0L486.9 489.0L488.9 489.0L490.9 489.0L492.9 489.0L494.9 489.0L496.9 489.0L498.9 489.0L500.9 489.0L502.9 489.0L504.9 489.0L506.9 489.0L508.9 489.0L510.9 489.0L512.9 489.0L514.9 489.0L516.9 489.0L518.9 489.0L520.9 489.0L522.9 489.0L524.9 489.0L526.9 489.0L528.9 489.0L530.9 489.0L532.9 489.0L534.9 489.0L536.9 489.0L538.9 489.0L540.9 489.0L542.9 489.0L544.9 489.0L546.9 489.0L548.9 489.0L550.9 489.0L552.9 489.0L554.9 489.0L556.9 489.0L558.9 489.0L560.9 489.0L562.9 489.0L564.9 489.0L566.9 489.0L568.9 489.0L570.9 489.0L572.9 489.0L574.9 489.0L576.9 489.0L578.9 489.0L580.9 489.0L582.9 489.0L584.9 489.0L586.9 489.0L588.9 489.0L590.9 489.0L592.9 489.0L594.9 489.0L596.9 489.0L598.9 489.0L600.9 489.0L602.9 489.0L604.9 489.0L606.9 489.0L608.9 489.0L610.9 489.0L612.9 489.0L614.9 489.0L616.9 489.0L618.9 489.0L620.9 489.0L622.9 489.0L624.9 489.0L626.9 489.0L628.9 489.0L630.9 489.0L632.9 489.0L634.9 489.0L636.9 489.0L638.9 489.0L640.9 489.0L642.9 489.0L644.9 489.0L646.9 489.0L648.9 489.0L650.9 489.0L652.9 489.0L654.9 489.0L656.9 489.0L658.9 489.0L660.9 489.0L662.9 489.0L664.9 489.0L666.9 489.0L668.9 489.0L670.9 489.0L672.9 489.0L674.9 489.0L676.9 489.0L678.9 489.0L680.9 489.0L682.9 489.0L684.9 489.0L686.9 489.0L688.9 489.0L690.9 489.0L692.9 489.0L694.9 489.0L696.9 489.0L698.9 489.0L700.9 489.0L702.9 489.0L704.9 489.0L706.9 489.0L708.9 489.0L710.9 489.0L712.9 489.0L714.9 489.0L716.9 489.0L718.9 489.0L720.9 489.0L722.9 489.0L724.9 489.0L726.9 489.0L728.9 489.0L730.9 489.0L732.9 489.0L734.9 489.0L736.9 489.0L738.9 489.0L740.9 489.0L742.9 489.0L744.9 489.0L746.9 489.0L748.9 489.0L750.9 489.0L752.9 489.0L754.9 489.0L756.9 489.0L758.9 489.0L760.9 489.0L762.9 489.0L764.9 489.0L766.9 489.0L768.9 489.0L770.9 489.0L772.9 489.0L774.9 489.0L776.9 489.0L778.9 489.0L780.9 489.0L782.9 489.0L784.9 489.0L786.9 489.0L788.9 489.0L790.9 489.0L792.9 489.0L794.9 489.0L796.9 489.0L798.9 489.0L800.9 489.0L802.9 489.0L804.9 489.0L806.3 489.0L806.3 489.0L112 489.0L112 501.0L40.9 501.0Z" fill="#0055ff"/><path d="M40.9 489.0L40.9 499.2L42.9 498.7L44.9 498.1L46.9 497.6L48.9 497.1L50.9 496.7L52.9 496.2L54.9 495.0L56.9 493.2L58.9 490.5L60.9 487.3L62.9 484.1L64.9 479.3L66.9 474.3L68.9 468.6L70.9 462.1L72.9 456.1L74.9 450.6L76.9 445.1L78.9 439.6L80.9 433.6L82.9 427.1L84.9 418.5L86.9 408.1L88.9 399.0L90.9 390.6L92.9 382.2L94.9 373.8L96.9 365.4L98.9 354.1L100.9 342.2L102.9 318.9L104.9 297.5L106.9 297.0L108.9 296.4L110.9 295.7L112.9 294.4L114.9 292.5L116.9 290.0L118.9 286.9L120.9 283.6L122.9 279.9L124.9 276.1L126.9 272.2L128.9 268.4L130.9 264.6L132.9 261.2L134.9 258.0L136.9 255.3L138.9 253.1L140.9 251.5L142.9 250.6L144.9 250.2L146.9 250.1L148.9 250.2L150.9 250.8L152.9 252.0L154.9 253.9L156.9 261.7L158.9 269.3L160.9 277.0L162.9 284.4L164.9 291.3L166.9 297.5L168.9 303.4L170.9 308.6L172.9 313.3L174.9 317.1L176.9 319.9L178.9 321.6L180.9 321.9L182.9 321.1L184.9 318.4L186.9 314.1L188.9 308.6L190.9 302.8L192.9 297.9L194.9 296.3L196.9 296.5L198.9 298.0L200.9 299.1L202.9 300.3L204.9 301.4L206.9 302.4L208.9 303.5L210.9 304.6L212.9 305.6L214.9 306.5L216.9 307.2L218.9 307.7L220.9 308.3L222.9 308.7L224.9 309.2L226.9 309.6L228.9 309.9L230.9 310.2L232.9 310.4L234.9 310.5L236.9 310.5L238.9 310.4L240.9 310.0L242.9 309.4L244.9 308.5L246.9 307.2L248.9 305.6L250.9 303.6L252.9 301.4L254.9 301.6L256.9 304.3L258.9 310.3L260.9 318.5L262.9 328.3L264.9 338.9L266.9 349.9L268.9 361.0L270.9 371.9L272.9 382.6L274.9 393.1L276.9 403.5L278.9 413.7L280.9 424.1L282.9 434.5L284.9 444.9L286.9 455.2L288.9 465.3L290.9 475.1L292.9 484.0L294.2 489.0M303.2 489.0L304.9 480.9L306.9 468.4L308.9 454.3L310.9 440.6L312.9 430.3L314.9 429.7L316.9 434.5L318.9 447.4L320.9 462.9L322.9 478.7L324.3 489.0M341.5 489.0L342.9 483.9L344.9 485.0L346.0 489.0M385.1 489.0L386.9 481.0L388.9 474.4L390.9 471.1L392.9 471.2L394.9 474.7L396.9 481.6L398.6 489.0" fill="none" stroke="#000" stroke-width="1" stroke-linejoin="round"/><path d="M40.9 501.0L40.9 499.2L42.9 498.7L44.9 498.2L46.9 497.7L48.9 497.1L50.9 496.7L52.9 496.2L54.9 495.1L56.9 493.3L58.9 490.7L60.9 487.5L62.9 484.3L64.9 479.6L66.9 474.7L68.9 469.0L70.9 462.5L72.9 456.4L74.9 450.9L76.9 445.4L78.9 439.9L80.9 434.0L82.9 427.5L84.9 419.2L86.9 408.8L88.9 399.6L90.9 391.1L92.9 382.6L94.9 374.1L96.9 365.7L98.9 354.5L100.9 342.5L102.9 319.5L104.9 301.4L106.9 300.9L108.9 300.4L110.9 299.7L112.9 298.4L114.9 296.5L116.9 294.0L118.9 291.1L120.9 287.8L122.9 284.3L124.9 280.7L126.9 277.0L128.9 273.3L130.9 269.8L132.9 266.5L134.9 263.6L136.9 261.1L138.9 259.1L140.9 257.8L142.9 256.9L144.9 256.7L146.9 256.7L148.9 257.0L150.9 257.7L152.9 259.1L154.9 260.9L156.9 268.1L158.9 275.8L160.9 283.9L162.9 291.7L164.9 298.9L166.9 305.5L168.9 311.6L170.9 317.2L172.9 322.1L174.9 326.4L176.9 329.8L178.9 332.1L180.9 333.0L182.9 333.0L184.9 331.0L186.9 327.4L188.9 322.4L190.9 316.7L192.9 311.4L194.9 308.8L196.9 308.5L198.9 310.1L200.9 311.4L202.9 312.7L204.9 313.8L206.9 315.0L208.9 316.1L210.9 317.3L212.9 318.4L214.9 319.3L216.9 320.1L218.9 320.9L220.9 321.5L222.9 322.1L224.9 322.7L226.9 323.2L228.9 323.6L230.9 324.0L232.9 324.3L234.9 324.6L236.9 324.6L238.9 324.6L240.9 324.3L242.9 323.8L244.9 322.9L246.9 321.7L248.9 320.1L250.9 318.1L252.9 315.9L254.9 315.1L256.9 316.7L258.9 322.2L260.9 330.1L262.9 339.7L264.9 350.2L266.9 361.3L268.9 372.4L270.9 383.5L272.9 394.4L274.9 405.1L276.9 415.6L278.9 426.0L280.9 436.4L282.9 446.8L284.9 457.1L286.9 467.4L288.9 477.4L290.9 487.0L292.9 490.5L294.9 490.5L296.9 490.5L298.9 490.5L300.9 490.5L302.9 490.5L304.9 490.5L306.9 481.5L308.9 467.4L310.9 452.9L312.9 440.3L314.9 435.5L316.9 435.8L318.9 446.4L320.9 460.9L322.9 476.7L324.9 490.5L326.9 490.5L328.9 490.5L330.9 490.5L332.9 490.5L334.9 490.5L336.9 490.5L338.9 490.5L340.9 490.5L342.9 490.5L344.9 490.5L346.9 490.5L348.9 490.5L350.9 490.5L352.9 490.5L354.9 490.5L356.9 490.5L358.9 490.5L360.9 490.5L362.9 490.5L364.9 490.5L366.9 490.5L368.9 490.5L370.9 490.5L372.9 490.5L374.9 490.5L376.9 490.5L378.9 490.5L380.9 490.5L382.9 490.5L384.9 490.5L386.9 490.5L388.9 489.9L390.9 484.4L392.9 482.1L394.9 483.7L396.9 488.6L398.9 490.5L400.9 490.5L402.9 490.5L404.9 490.5L406.9 490.5L408.9 490.5L410.9 490.5L412.9 490.5L414.9 490.5L416.9 490.5L418.9 490.5L420.9 490.5L422.9 490.5L424.9 490.5L426.9 490.5L428.9 490.5L430.9 490.5L432.9 490.5L434.9 490.5L436.9 490.5L438.9 490.5L440.9 490.5L442.9 490.5L444.9 490.5L446.9 490.5L448.9 490.5L450.9 490.5L452.9 490.5L454.9 490.5L456.9 490.5L458.9 490.5L460.9 490.5L462.9 490.5L464.9 490.5L466.9 490.5L468.9 490.5L470.9 490.5L472.9 490.5L474.9 490.5L476.9 490.5L478.9 490.5L480.9 490.5L482.9 490.5L484.9 490.5L486.9 490.5L488.9 490.5L490.9 490.5L492.9 490.5L494.9 490.5L496.9 490.5L498.9 490.5L500.9 490.5L502.9 490.5L504.9 490.5L506.9 490.5L508.9 490.5L510.9 490.5L512.9 490.5L514.9 490.5L516.9 490.5L518.9 490.5L520.9 490.5L522.9 490.5L524.9 490.5L526.9 490.5L528.9 490.5L530.9 490.5L532.9 490.5L534.9 490.5L536.9 490.5L538.9 490.5L540.9 490.5L542.9 490.5L544.9 490.5L546.9 490.5L548.9 490.5L550.9 490.5L552.9 490.5L554.9 490.5L556.9 490.5L558.9 490.5L560.9 490.5L562.9 490.5L564.9 490.5L566.9 490.5L568.9 490.5L570.9 490.5L572.9 490.5L574.9 490.5L576.9 490.5L578.9 490.5L580.9 490.5L582.9 490.5L584.9 490.5L586.9 490.5L588.9 490.5L590.9 490.5L592.9 490.5L594.9 490.5L596.9 490.5L598.9 490.5L600.9 490.5L602.9 490.5L604.9 490.5L606.9 490.5L608.9 490.5L610.9 490.5L612.9 490.5L614.9 490.5L616.9 490.5L618.9 490.5L620.9 490.5L622.9 490.5L624.9 490.5L626.9 490.5L628.9 490.5L630.9 490.5L632.9 490.5L634.9 490.5L636.9 490.5L638.9 490.5L640.9 490.5L642.9 490.5L644.9 490.5L646.9 490.5L648.9 490.5L650.9 490.5L652.9 490.5L654.9 490.5L656.9 490.5L658.9 490.5L660.9 490.5L662.9 490.5L664.9 490.5L666.9 490.5L668.9 490.5L670.9 490.5L672.9 490.5L674.9 490.5L676.9 490.5L678.9 490.5L680.9 490.5L682.9 490.5L684.9 490.5L686.9 490.5L688.9 490.5L690.9 490.5L692.9 490.5L694.9 490.5L696.9 490.5L698.9 490.5L700.9 490.5L702.9 490.5L704.9 490.5L706.9 490.5L708.9 490.5L710.9 490.5L712.9 490.5L714.9 490.5L716.9 490.5L718.9 490.5L720.9 490.5L722.9 490.5L724.9 490.5L726.9 490.5L728.9 490.5L730.9 490.5L732.9 490.5L734.9 490.5L736.9 490.5L738.9 490.5L740.9 490.5L742.9 490.5L744.9 490.5L746.9 490.5L748.9 490.5L750.9 490.5L752.9 490.5L754.9 490.5L756.9 490.5L758.9 490.5L760.9 490.5L762.9 490.5L764.9 490.5L766.9 490.5L768.9 490.5L770.9 490.5L772.9 490.5L774.9 490.5L776.9 490.5L778.9 490.5L780.9 490.5L782.9 490.5L784.9 490.5L786.9 490.5L788.9 490.5L790.9 490.5L792.9 490.5L794.9 490.5L796.9 490.5L798.9 490.5L800.9 490.5L802.9 490.5L804.9 490.5L806.9 490.5L808.9 490.5L809.0 490.5L809.0 490.5L112 490.5L112 501.0L40.9 501.0Z" fill="#0055ff"/><path d="M40.9 490.5L40.9 499.2L42.9 498.7L44.9 498.2L46.9 497.7L48.9 497.1L50.9 496.7L52.9 496.2L54.9 495.1L56.9 493.3L58.9 490.7L60.9 487.5L62.9 484.3L64.9 479.6L66.9 474.7L68.9 469.0L70.9 462.5L72.9 456.4L74.9 450.9L76.9 445.4L78.9 439.9L80.9 434.0L82.9 427.5L84.9 419.2L86.9 408.8L88.9 399.6L90.9 391.1L92.9 382.6L94.9 374.1L96.9 365.7L98.9 354.5L100.9 342.5L102.9 319.5L104.9 301.4L106.9 300.9L108.9 300.4L110.9 299.7L112.9 298.4L114.9 296.5L116.9 294.0L118.9 291.1L120.9 287.8L122.9 284.3L124.9 280.7L126.9 277.0L128.9 273.3L130.9 269.8L132.9 266.5L134.9 263.6L136.9 261.1L138.9 259.1L140.9 257.8L142.9 256.9L144.9 256.7L146.9 256.7L148.9 257.0L150.9 257.7L152.9 259.1L154.9 260.9L156.9 268.1L158.9 275.8L160.9 283.9L162.9 291.7L164.9 298.9L166.9 305.5L168.9 311.6L170.9 317.2L172.9 322.1L174.9 326.4L176.9 329.8L178.9 332.1L180.9 333.0L182.9 333.0L184.9 331.0L186.9 327.4L188.9 322.4L190.9 316.7L192.9 311.4L194.9 308.8L196.9 308.5L198.9 310.1L200.9 311.4L202.9 312.7L204.9 313.8L206.9 315.0L208.9 316.1L210.9 317.3L212.9 318.4L214.9 319.3L216.9 320.1L218.9 320.9L220.9 321.5L222.9 322.1L224.9 322.7L226.9 323.2L228.9 323.6L230.9 324.0L232.9 324.3L234.9 324.6L236.9 324.6L238.9 324.6L240.9 324.3L242.9 323.8L244.9 322.9L246.9 321.7L248.9 320.1L250.9 318.1L252.9 315.9L254.9 315.1L256.9 316.7L258.9 322.2L260.9 330.1L262.9 339.7L264.9 350.2L266.9 361.3L268.9 372.4L270.9 383.5L272.9 394.4L274.9 405.1L276.9 415.6L278.9 426.0L280.9 436.4L282.9 446.8L284.9 457.1L286.9 467.4L288.9 477.4L290.9 487.0L291.7 490.5M305.4 490.5L306.9 481.5L308.9 467.4L310.9 452.9L312.9 440.3L314.9 435.5L316.9 435.8L318.9 446.4L320.9 460.9L322.9 476.7L324.6 490.5M388.7 490.5L388.9 489.9L390.9 484.4L392.9 482.1L394.9 483.7L396.9 488.6L397.4 490.5" fill="none" stroke="#000" stroke-width="1" stroke-linejoin="round"/><path d="M40.8 501.0L40.8 499.3L42.8 498.8L44.8 498.2L46.8 497.7L48.8 497.2L50.8 496.7L52.8 496.3L54.8 495.3L56.8 493.4L58.8 490.9L60.8 487.7L62.8 484.5L64.8 480.0L66.8 475.0L68.8 469.4L70.8 462.9L72.8 456.8L74.8 451.3L76.8 445.8L78.8 440.3L80.8 434.4L82.8 427.9L84.8 419.8L86.8 409.4L88.8 400.2L90.8 391.6L92.8 383.0L94.8 374.5L96.8 366.0L98.8 354.8L100.8 342.8L102.8 320.0L104.8 305.4L106.8 304.9L108.8 304.4L110.8 303.7L112.8 302.4L114.8 300.5L116.8 298.1L118.8 295.2L120.8 292.1L122.8 288.7L124.8 285.2L126.8 281.6L128.8 278.2L130.8 274.9L132.8 271.8L134.8 269.1L136.8 266.8L138.8 265.1L140.8 263.9L142.8 263.2L144.8 263.2L146.8 263.3L148.8 263.7L150.8 264.6L152.8 266.2L154.8 268.1L156.8 274.5L158.8 282.4L160.8 290.7L162.8 298.8L164.8 306.3L166.8 313.3L168.8 319.7L170.8 325.6L172.8 331.0L174.8 335.9L176.8 339.9L178.8 343.2L180.8 345.3L182.8 346.3L184.8 345.8L186.8 343.5L188.8 339.6L190.8 334.6L192.8 329.5L194.8 326.2L196.8 325.4L198.8 327.0L200.8 328.4L202.8 329.7L204.8 331.0L206.8 332.2L208.8 333.3L210.8 334.5L212.8 335.6L214.8 336.6L216.8 337.5L218.8 338.2L220.8 338.9L222.8 339.5L224.8 340.1L226.8 340.6L228.8 341.0L230.8 341.4L232.8 341.7L234.8 341.8L236.8 341.9L238.8 341.7L240.8 341.3L242.8 340.7L244.8 339.7L246.8 338.2L248.8 336.4L250.8 334.2L252.8 331.7L254.8 330.1L256.8 330.6L258.8 335.0L260.8 342.2L262.8 351.5L264.8 361.9L266.8 373.0L268.8 384.2L270.8 395.4L272.8 406.4L274.8 417.2L276.8 427.8L278.8 438.3L280.8 448.7L282.8 459.1L284.8 469.4L286.8 479.6L288.8 489.5L290.8 492.0L292.8 492.0L294.8 492.0L296.8 492.0L298.8 492.0L300.8 492.0L302.8 492.0L304.8 492.0L306.8 492.0L308.8 480.8L310.8 465.9L312.8 452.1L314.8 442.2L316.8 440.3L318.8 446.5L320.8 459.0L322.8 474.5L324.8 490.4L326.8 492.0L328.8 492.0L330.8 492.0L332.8 492.0L334.8 492.0L336.8 492.0L338.8 492.0L340.8 492.0L342.8 492.0L344.8 492.0L346.8 492.0L348.8 492.0L350.8 492.0L352.8 492.0L354.8 492.0L356.8 492.0L358.8 492.0L360.8 492.0L362.8 492.0L364.8 492.0L366.8 492.0L368.8 492.0L370.8 492.0L372.8 492.0L374.8 492.0L376.8 492.0L378.8 492.0L380.8 492.0L382.8 492.0L384.8 492.0L386.8 492.0L388.8 492.0L390.8 492.0L392.8 492.0L394.8 492.0L396.8 492.0L398.8 492.0L400.8 492.0L402.8 492.0L404.8 492.0L406.8 492.0L408.8 492.0L410.8 492.0L412.8 492.0L414.8 492.0L416.8 492.0L418.8 492.0L420.8 492.0L422.8 492.0L424.8 492.0L426.8 492.0L428.8 492.0L430.8 492.0L432.8 492.0L434.8 492.0L436.8 492.0L438.8 492.0L440.8 492.0L442.8 492.0L444.8 492.0L446.8 492.0L448.8 492.0L450.8 492.0L452.8 492.0L454.8 492.0L456.8 492.0L458.8 492.0L460.8 492.0L462.8 492.0L464.8 492.0L466.8 492.0L468.8 492.0L470.8 492.0L472.8 492.0L474.8 492.0L476.8 492.0L478.8 492.0L480.8 492.0L482.8 492.0L484.8 492.0L486.8 492.0L488.8 492.0L490.8 492.0L492.8 492.0L494.8 492.0L496.8 492.0L498.8 492.0L500.8 492.0L502.8 492.0L504.8 492.0L506.8 492.0L508.8 492.0L510.8 492.0L512.8 492.0L514.8 492.0L516.8 492.0L518.8 492.0L520.8 492.0L522.8 492.0L524.8 492.0L526.8 492.0L528.8 492.0L530.8 492.0L532.8 492.0L534.8 492.0L536.8 492.0L538.8 492.0L540.8 492.0L542.8 492.0L544.8 492.0L546.8 492.0L548.8 492.0L550.8 492.0L552.8 492.0L554.8 492.0L556.8 492.0L558.8 492.0L560.8 492.0L562.8 492.0L564.8 492.0L566.8 492.0L568.8 492.0L570.8 492.0L572.8 492.0L574.8 492.0L576.8 492.0L578.8 492.0L580.8 492.0L582.8 492.0L584.8 492.0L586.8 492.0L588.8 492.0L590.8 492.0L592.8 492.0L594.8 492.0L596.8 492.0L598.8 492.0L600.8 492.0L602.8 492.0L604.8 492.0L606.8 492.0L608.8 492.0L610.8 492.0L612.8 492.0L614.8 492.0L616.8 492.0L618.8 492.0L620.8 492.0L622.8 492.0L624.8 492.0L626.8 492.0L628.8 492.0L630.8 492.0L632.8 492.0L634.8 492.0L636.8 492.0L638.8 492.0L640.8 492.0L642.8 492.0L644.8 492.0L646.8 492.0L648.8 492.0L650.8 492.0L652.8 492.0L654.8 492.0L656.8 492.0L658.8 492.0L660.8 492.0L662.8 492.0L664.8 492.0L666.8 492.0L668.8 492.0L670.8 492.0L672.8 492.0L674.8 492.0L676.8 492.0L678.8 492.0L680.8 492.0L682.8 492.0L684.8 492.0L686.8 492.0L688.8 492.0L690.8 492.0L692.8 492.0L694.8 492.0L696.8 492.0L698.8 492.0L700.8 492.0L702.8 492.0L704.8 492.0L706.8 492.0L708.8 492.0L710.8 492.0L712.8 492.0L714.8 492.0L716.8 492.0L718.8 492.0L720.8 492.0L722.8 492.0L724.8 492.0L726.8 492.0L728.8 492.0L730.8 492.0L732.8 492.0L734.8 492.0L736.8 492.0L738.8 492.0L740.8 492.0L742.8 492.0L744.8 492.0L746.8 492.0L748.8 492.0L750.8 492.0L752.8 492.0L754.8 492.0L756.8 492.0L758.8 492.0L760.8 492.0L762.8 492.0L764.8 492.0L766.8 492.0L768.8 492.0L770.8 492.0L772.8 492.0L774.8 492.0L776.8 492.0L778.8 492.0L780.8 492.0L782.8 492.0L784.8 492.0L786.8 492.0L788.8 492.0L790.8 492.0L792.8 492.0L794.8 492.0L796.8 492.0L798.8 492.0L800.8 492.0L802.8 492.0L804.8 492.0L806.8 492.0L808.8 492.0L810.8 492.0L811.7 492.0L811.7 492.0L112 492.0L112 501.0L40.8 501.0Z" fill="#0055ff"/><path d="M40.8 492.0L40.8 499.3L42.8 498.8L44.8 498.2L46.8 497.7L48.8 497.2L50.8 496.7L52.8 496.3L54.8 495.3L56.8 493.4L58.8 490.9L60.8 487.7L62.8 484.5L64.8 480.0L66.8 475.0L68.8 469.4L70.8 462.9L72.8 456.8L74.8 451.3L76.8 445.8L78.8 440.3L80.8 434.4L82.8 427.9L84.8 419.8L86.8 409.4L88.8 400.2L90.8 391.6L92.8 383.0L94.8 374.5L96.8 366.0L98.8 354.8L100.8 342.8L102.8 320.0L104.8 305.4L106.8 304.9L108.8 304.4L110.8 303.7L112.8 302.4L114.8 300.5L116.8 298.1L118.8 295.2L120.8 292.1L122.8 288.7L124.8 285.2L126.8 281.6L128.8 278.2L130.8 274.9L132.8 271.8L134.8 269.1L136.8 266.8L138.8 265.1L140.8 263.9L142.8 263.2L144.8 263.2L146.8 263.3L148.8 263.7L150.8 264.6L152.8 266.2L154.8 268.1L156.8 274.5L158.8 282.4L160.8 290.7L162.8 298.8L164.8 306.3L166.8 313.3L168.8 319.7L170.8 325.6L172.8 331.0L174.8 335.9L176.8 339.9L178.8 343.2L180.8 345.3L182.8 346.3L184.8 345.8L186.8 343.5L188.8 339.6L190.8 334.6L192.8 329.5L194.8 326.2L196.8 325.4L198.8 327.0L200.8 328.4L202.8 329.7L204.8 331.0L206.8 332.2L208.8 333.3L210.8 334.5L212.8 335.6L214.8 336.6L216.8 337.5L218.8 338.2L220.8 338.9L222.8 339.5L224.8 340.1L226.8 340.6L228.8 341.0L230.8 341.4L232.8 341.7L234.8 341.8L236.8 341.9L238.8 341.7L240.8 341.3L242.8 340.7L244.8 339.7L246.8 338.2L248.8 336.4L250.8 334.2L252.8 331.7L254.8 330.1L256.8 330.6L258.8 335.0L260.8 342.2L262.8 351.5L264.8 361.9L266.8 373.0L268.8 384.2L270.8 395.4L272.8 406.4L274.8 417.2L276.8 427.8L278.8 438.3L280.8 448.7L282.8 459.1L284.8 469.4L286.8 479.6L288.8 489.5L289.4 492.0M307.2 492.0L308.8 480.8L310.8 465.9L312.8 452.1L314.8 442.2L316.8 440.3L318.8 446.5L320.8 459.0L322.8 474.5L324.8 490.4L325.0 492.0" fill="none" stroke="#000" stroke-width="1" stroke-linejoin="round"/><path d="M40.8 501.0L40.8 499.3L42.8 498.8L44.8 498.3L46.8 497.7L48.8 497.2L50.8 496.8L52.8 496.3L54.8 495.4L56.8 493.5L58.8 491.1L60.8 487.9L62.8 484.7L64.8 480.3L66.8 475.3L68.8 469.8L70.8 463.3L72.8 457.2L74.8 451.7L76.8 446.2L78.8 440.7L80.8 434.8L82.8 428.3L84.8 420.5L86.8 410.1L88.8 400.8L90.8 392.0L92.8 383.5L94.8 374.9L96.8 366.4L98.8 355.2L100.8 343.2L102.8 320.5L104.8 309.5L106.8 309.0L108.8 308.4L110.8 307.7L112.8 306.4L114.8 304.5L116.8 302.1L118.8 299.4L120.8 296.3L122.8 293.1L124.8 289.7L126.8 286.3L128.8 283.0L130.8 279.9L132.8 277.0L134.8 274.5L136.8 272.5L138.8 271.0L140.8 270.1L142.8 269.5L144.8 269.6L146.8 269.9L148.8 270.5L150.8 271.4L152.8 273.2L154.8 275.3L156.8 280.9L158.8 288.8L160.8 297.3L162.8 305.7L164.8 313.5L166.8 320.8L168.8 327.4L170.8 333.6L172.8 339.4L174.8 344.6L176.8 349.3L178.8 353.3L180.8 356.4L182.8 358.5L184.8 359.3L186.8 358.4L188.8 355.9L190.8 351.8L192.8 347.1L194.8 343.5L196.8 342.1L198.8 343.7L200.8 345.2L202.8 346.6L204.8 347.9L206.8 349.2L208.8 350.4L210.8 351.6L212.8 352.8L214.8 353.8L216.8 354.7L218.8 355.5L220.8 356.2L222.8 356.8L224.8 357.4L226.8 357.9L228.8 358.3L230.8 358.7L232.8 358.9L234.8 359.0L236.8 359.0L238.8 358.7L240.8 358.1L242.8 357.3L244.8 356.0L246.8 354.3L248.8 352.2L250.8 349.6L252.8 346.8L254.8 344.3L256.8 344.3L258.8 347.1L260.8 353.6L262.8 362.4L264.8 372.7L266.8 383.7L268.8 394.9L270.8 406.1L272.8 417.2L274.8 428.1L276.8 438.8L278.8 449.4L280.8 459.8L282.8 470.2L284.8 480.5L286.8 490.7L288.8 493.5L290.8 493.5L292.8 493.5L294.8 493.5L296.8 493.5L298.8 493.5L300.8 493.5L302.8 493.5L304.8 493.5L306.8 493.5L308.8 493.5L310.8 481.2L312.8 466.3L314.8 453.5L316.8 448.3L318.8 449.9L320.8 459.8L322.8 474.4L324.8 490.4L326.8 493.5L328.8 493.5L330.8 493.5L332.8 493.5L334.8 493.5L336.8 493.5L338.8 493.5L340.8 493.5L342.8 493.5L344.8 493.5L346.8 493.5L348.8 493.5L350.8 493.5L352.8 493.5L354.8 493.5L356.8 493.5L358.8 493.5L360.8 493.5L362.8 493.5L364.8 493.5L366.8 493.5L368.8 493.5L370.8 493.5L372.8 493.5L374.8 493.5L376.8 493.5L378.8 493.5L380.8 493.5L382.8 493.5L384.8 493.5L386.8 493.5L388.8 493.5L390.8 493.5L392.8 493.5L394.8 493.5L396.8 493.5L398.8 493.5L400.8 493.5L402.8 493.5L404.8 493.5L406.8 493.5L408.8 493.5L410.8 493.5L412.8 493.5L414.8 493.5L416.8 493.5L418.8 493.5L420.8 493.5L422.8 493.5L424.8 493.5L426.8 493.5L428.8 493.5L430.8 493.5L432.8 493.5L434.8 493.5L436.8 493.5L438.8 493.5L440.8 493.5L442.8 493.5L444.8 493.5L446.8 493.5L448.8 493.5L450.8 493.5L452.8 493.5L454.8 493.5L456.8 493.5L458.8 493.5L460.8 493.5L462.8 493.5L464.8 493.5L466.8 493.5L468.8 493.5L470.8 493.5L472.8 493.5L474.8 493.5L476.8 493.5L478.8 493.5L480.8 493.5L482.8 493.5L484.8 493.5L486.8 493.5L488.8 493.5L490.8 493.5L492.8 493.5L494.8 493.5L496.8 493.5L498.8 493.5L500.8 493.5L502.8 493.5L504.8 493.5L506.8 493.5L508.8 493.5L510.8 493.5L512.8 493.5L514.8 493.5L516.8 493.5L518.8 493.5L520.8 493.5L522.8 493.5L524.8 493.5L526.8 493.5L528.8 493.5L530.8 493.5L532.8 493.5L534.8 493.5L536.8 493.5L538.8 493.5L540.8 493.5L542.8 493.5L544.8 493.5L546.8 493.5L548.8 493.5L550.8 493.5L552.8 493.5L554.8 493.5L556.8 493.5L558.8 493.5L560.8 493.5L562.8 493.5L564.8 493.5L566.8 493.5L568.8 493.5L570.8 493.5L572.8 493.5L574.8 493.5L576.8 493.5L578.8 493.5L580.8 493.5L582.8 493.5L584.8 493.5L586.8 493.5L588.8 493.5L590.8 493.5L592.8 493.5L594.8 493.5L596.8 493.5L598.8 493.5L600.8 493.5L602.8 493.5L604.8 493.5L606.8 493.5L608.8 493.5L610.8 493.5L612.8 493.5L614.8 493.5L616.8 493.5L618.8 493.5L620.8 493.5L622.8 493.5L624.8 493.5L626.8 493.5L628.8 493.5L630.8 493.5L632.8 493.5L634.8 493.5L636.8 493.5L638.8 493.5L640.8 493.5L642.8 493.5L644.8 493.5L646.8 493.5L648.8 493.5L650.8 493.5L652.8 493.5L654.8 493.5L656.8 493.5L658.8 493.5L660.8 493.5L662.8 493.5L664.8 493.5L666.8 493.5L668.8 493.5L670.8 493.5L672.8 493.5L674.8 493.5L676.8 493.5L678.8 493.5L680.8 493.5L682.8 493.5L684.8 493.5L686.8 493.5L688.8 493.5L690.8 493.5L692.8 493.5L694.8 493.5L696.8 493.5L698.8 493.5L700.8 493.5L702.8 493.5L704.8 493.5L706.8 493.5L708.8 493.5L710.8 493.5L712.8 493.5L714.8 493.5L716.8 493.5L718.8 493.5L720.8 493.5L722.8 493.5L724.8 493.5L726.8 493.5L728.8 493.5L730.8 493.5L732.8 493.5L734.8 493.5L736.8 493.5L738.8 493.5L740.8 493.5L742.8 493.5L744.8 493.5L746.8 493.5L748.8 493.5L750.8 493.5L752.8 493.5L754.8 493.5L756.8 493.5L758.8 493.5L760.8 493.5L762.8 493.5L764.8 493.5L766.8 493.5L768.8 493.5L770.8 493.5L772.8 493.5L774.8 493.5L776.8 493.5L778.8 493.5L780.8 493.5L782.8 493.5L784.8 493.5L786.8 493.5L788.8 493.5L790.8 493.5L792.8 493.5L794.8 493.5L796.8 493.5L798.8 493.5L800.8 493.5L802.8 493.5L804.8 493.5L806.8 493.5L808.8 493.5L810.8 493.5L812.8 493.5L814.4 493.5L814.4 493.5L112 493.5L112 501.0L40.8 501.0Z" fill="#0055ff"/><path d="M40.8 493.5L40.8 499.3L42.8 498.8L44.8 498.3L46.8 497.7L48.8 497.2L50.8 496.8L52.8 496.3L54.8 495.4L56.8 493.5L58.8 491.1L60.8 487.9L62.8 484.7L64.8 480.3L66.8 475.3L68.8 469.8L70.8 463.3L72.8 457.2L74.8 451.7L76.8 446.2L78.8 440.7L80.8 434.8L82.8 428.3L84.8 420.5L86.8 410.1L88.8 400.8L90.8 392.0L92.8 383.5L94.8 374.9L96.8 366.4L98.8 355.2L100.8 343.2L102.8 320.5L104.8 309.5L106.8 309.0L108.8 308.4L110.8 307.7L112.8 306.4L114.8 304.5L116.8 302.1L118.8 299.4L120.8 296.3L122.8 293.1L124.8 289.7L126.8 286.3L128.8 283.0L130.8 279.9L132.8 277.0L134.8 274.5L136.8 272.5L138.8 271.0L140.8 270.1L142.8 269.5L144.8 269.6L146.8 269.9L148.8 270.5L150.8 271.4L152.8 273.2L154.8 275.3L156.8 280.9L158.8 288.8L160.8 297.3L162.8 305.7L164.8 313.5L166.8 320.8L168.8 327.4L170.8 333.6L172.8 339.4L174.8 344.6L176.8 349.3L178.8 353.3L180.8 356.4L182.8 358.5L184.8 359.3L186.8 358.4L188.8 355.9L190.8 351.8L192.8 347.1L194.8 343.5L196.8 342.1L198.8 343.7L200.8 345.2L202.8 346.6L204.8 347.9L206.8 349.2L208.8 350.4L210.8 351.6L212.8 352.8L214.8 353.8L216.8 354.7L218.8 355.5L220.8 356.2L222.8 356.8L224.8 357.4L226.8 357.9L228.8 358.3L230.8 358.7L232.8 358.9L234.8 359.0L236.8 359.0L238.8 358.7L240.8 358.1L242.8 357.3L244.8 356.0L246.8 354.3L248.8 352.2L250.8 349.6L252.8 346.8L254.8 344.3L256.8 344.3L258.8 347.1L260.8 353.6L262.8 362.4L264.8 372.7L266.8 383.7L268.8 394.9L270.8 406.1L272.8 417.2L274.8 428.1L276.8 438.8L278.8 449.4L280.8 459.8L282.8 470.2L284.8 480.5L286.8 490.7L287.4 493.5M309.1 493.5L310.8 481.2L312.8 466.3L314.8 453.5L316.8 448.3L318.8 449.9L320.8 459.8L322.8 474.4L324.8 490.4L325.2 493.5" fill="none" stroke="#000" stroke-width="1" stroke-linejoin="round"/><path d="M40.7 501.0L40.7 499.4L42.7 498.8L44.7 498.3L46.7 497.8L48.7 497.2L50.7 496.8L52.7 496.3L54.7 495.5L56.7 493.7L58.7 491.3L60.7 488.1L62.7 484.9L64.7 480.6L66.7 475.6L68.7 470.2L70.7 463.7L72.7 457.5L74.7 452.0L76.7 446.5L78.7 441.0L80.7 435.2L82.7 428.7L84.7 421.2L86.7 410.8L88.7 401.4L90.7 392.5L92.7 383.9L94.7 375.3L96.7 366.7L98.7 355.6L100.7 343.5L102.7 321.2L104.7 313.6L106.7 313.1L108.7 312.5L110.7 311.8L112.7 310.4L114.7 308.6L116.7 306.2L118.7 303.5L120.7 300.6L122.7 297.4L124.7 294.2L126.7 291.0L128.7 287.8L130.7 284.9L132.7 282.3L134.7 280.0L136.7 278.1L138.7 276.9L140.7 276.1L142.7 275.7L144.7 275.9L146.7 276.4L148.7 277.1L150.7 278.2L152.7 280.2L154.7 282.5L156.7 287.3L158.7 295.1L160.7 303.8L162.7 312.4L164.7 320.5L166.7 328.0L168.7 334.8L170.7 341.2L172.7 347.2L174.7 352.8L176.7 357.9L178.7 362.5L180.7 366.4L182.7 369.5L184.7 371.6L186.7 371.9L188.7 371.0L190.7 368.1L192.7 364.1L194.7 360.5L196.7 358.7L198.7 359.9L200.7 361.6L202.7 363.1L204.7 364.6L206.7 365.9L208.7 367.2L210.7 368.5L212.7 369.7L214.7 370.8L216.7 371.8L218.7 372.6L220.7 373.4L222.7 374.1L224.7 374.7L226.7 375.2L228.7 375.6L230.7 375.9L232.7 376.1L234.7 376.1L236.7 376.0L238.7 375.6L240.7 374.9L242.7 373.9L244.7 372.4L246.7 370.4L248.7 368.0L250.7 365.0L252.7 361.8L254.7 358.9L256.7 358.0L258.7 359.4L260.7 365.1L262.7 373.5L264.7 383.5L266.7 394.4L268.7 405.6L270.7 416.8L272.7 428.0L274.7 438.9L276.7 449.7L278.7 460.4L280.7 470.8L282.7 481.2L284.7 491.5L286.7 495.0L288.7 495.0L290.7 495.0L292.7 495.0L294.7 495.0L296.7 495.0L298.7 495.0L300.7 495.0L302.7 495.0L304.7 495.0L306.7 495.0L308.7 495.0L310.7 495.0L312.7 481.3L314.7 467.1L316.7 458.0L318.7 455.5L320.7 462.1L322.7 474.9L324.7 490.3L326.7 495.0L328.7 495.0L330.7 495.0L332.7 495.0L334.7 495.0L336.7 495.0L338.7 495.0L340.7 495.0L342.7 495.0L344.7 495.0L346.7 495.0L348.7 495.0L350.7 495.0L352.7 495.0L354.7 495.0L356.7 495.0L358.7 495.0L360.7 495.0L362.7 495.0L364.7 495.0L366.7 495.0L368.7 495.0L370.7 495.0L372.7 495.0L374.7 495.0L376.7 495.0L378.7 495.0L380.7 495.0L382.7 495.0L384.7 495.0L386.7 495.0L388.7 495.0L390.7 495.0L392.7 495.0L394.7 495.0L396.7 495.0L398.7 495.0L400.7 495.0L402.7 495.0L404.7 495.0L406.7 495.0L408.7 495.0L410.7 495.0L412.7 495.0L414.7 495.0L416.7 495.0L418.7 495.0L420.7 495.0L422.7 495.0L424.7 495.0L426.7 495.0L428.7 495.0L430.7 495.0L432.7 495.0L434.7 495.0L436.7 495.0L438.7 495.0L440.7 495.0L442.7 495.0L444.7 495.0L446.7 495.0L448.7 495.0L450.7 495.0L452.7 495.0L454.7 495.0L456.7 495.0L458.7 495.0L460.7 495.0L462.7 495.0L464.7 495.0L466.7 495.0L468.7 495.0L470.7 495.0L472.7 495.0L474.7 495.0L476.7 495.0L478.7 495.0L480.7 495.0L482.7 495.0L484.7 495.0L486.7 495.0L488.7 495.0L490.7 495.0L492.7 495.0L494.7 495.0L496.7 495.0L498.7 495.0L500.7 495.0L502.7 495.0L504.7 495.0L506.7 495.0L508.7 495.0L510.7 495.0L512.7 495.0L514.7 495.0L516.7 495.0L518.7 495.0L520.7 495.0L522.7 495.0L524.7 495.0L526.7 495.0L528.7 495.0L530.7 495.0L532.7 495.0L534.7 495.0L536.7 495.0L538.7 495.0L540.7 495.0L542.7 495.0L544.7 495.0L546.7 495.0L548.7 495.0L550.7 495.0L552.7 495.0L554.7 495.0L556.7 495.0L558.7 495.0L560.7 495.0L562.7 495.0L564.7 495.0L566.7 495.0L568.7 495.0L570.7 495.0L572.7 495.0L574.7 495.0L576.7 495.0L578.7 495.0L580.7 495.0L582.7 495.0L584.7 495.0L586.7 495.0L588.7 495.0L590.7 495.0L592.7 495.0L594.7 495.0L596.7 495.0L598.7 495.0L600.7 495.0L602.7 495.0L604.7 495.0L606.7 495.0L608.7 495.0L610.7 495.0L612.7 495.0L614.7 495.0L616.7 495.0L618.7 495.0L620.7 495.0L622.7 495.0L624.7 495.0L626.7 495.0L628.7 495.0L630.7 495.0L632.7 495.0L634.7 495.0L636.7 495.0L638.7 495.0L640.7 495.0L642.7 495.0L644.7 495.0L646.7 495.0L648.7 495.0L650.7 495.0L652.7 495.0L654.7 495.0L656.7 495.0L658.7 495.0L660.7 495.0L662.7 495.0L664.7 495.0L666.7 495.0L668.7 495.0L670.7 495.0L672.7 495.0L674.7 495.0L676.7 495.0L678.7 495.0L680.7 495.0L682.7 495.0L684.7 495.0L686.7 495.0L688.7 495.0L690.7 495.0L692.7 495.0L694.7 495.0L696.7 495.0L698.7 495.0L700.7 495.0L702.7 495.0L704.7 495.0L706.7 495.0L708.7 495.0L710.7 495.0L712.7 495.0L714.7 495.0L716.7 495.0L718.7 495.0L720.7 495.0L722.7 495.0L724.7 495.0L726.7 495.0L728.7 495.0L730.7 495.0L732.7 495.0L734.7 495.0L736.7 495.0L738.7 495.0L740.7 495.0L742.7 495.0L744.7 495.0L746.7 495.0L748.7 495.0L750.7 495.0L752.7 495.0L754.7 495.0L756.7 495.0L758.7 495.0L760.7 495.0L762.7 495.0L764.7 495.0L766.7 495.0L768.7 495.0L770.7 495.0L772.7 495.0L774.7 495.0L776.7 495.0L778.7 495.0L780.7 495.0L782.7 495.0L784.7 495.0L786.7 495.0L788.7 495.0L790.7 495.0L792.7 495.0L794.7 495.0L796.7 495.0L798.7 495.0L800.7 495.0L802.7 495.0L804.7 495.0L806.7 495.0L808.7 495.0L810.7 495.0L812.7 495.0L814.7 495.0L816.7 495.0L817.1 495.0L817.1 495.0L112 495.0L112 501.0L40.7 501.0Z" fill="#0055ff"/><path d="M40.7 495.0L40.7 499.4L42.7 498.8L44.7 498.3L46.7 497.8L48.7 497.2L50.7 496.8L52.7 496.3L54.7 495.5L56.7 493.7L58.7 491.3L60.7 488.1L62.7 484.9L64.7 480.6L66.7 475.6L68.7 470.2L70.7 463.7L72.7 457.5L74.7 452.0L76.7 446.5L78.7 441.0L80.7 435.2L82.7 428.7L84.7 421.2L86.7 410.8L88.7 401.4L90.7 392.5L92.7 383.9L94.7 375.3L96.7 366.7L98.7 355.6L100.7 343.5L102.7 321.2L104.7 313.6L106.7 313.1L108.7 312.5L110.7 311.8L112.7 310.4L114.7 308.6L116.7 306.2L118.7 303.5L120.7 300.6L122.7 297.4L124.7 294.2L126.7 291.0L128.7 287.8L130.7 284.9L132.7 282.3L134.7 280.0L136.7 278.1L138.7 276.9L140.7 276.1L142.7 275.7L144.7 275.9L146.7 276.4L148.7 277.1L150.7 278.2L152.7 280.2L154.7 282.5L156.7 287.3L158.7 295.1L160.7 303.8L162.7 312.4L164.7 320.5L166.7 328.0L168.7 334.8L170.7 341.2L172.7 347.2L174.7 352.8L176.7 357.9L178.7 362.5L180.7 366.4L182.7 369.5L184.7 371.6L186.7 371.9L188.7 371.0L190.7 368.1L192.7 364.1L194.7 360.5L196.7 358.7L198.7 359.9L200.7 361.6L202.7 363.1L204.7 364.6L206.7 365.9L208.7 367.2L210.7 368.5L212.7 369.7L214.7 370.8L216.7 371.8L218.7 372.6L220.7 373.4L222.7 374.1L224.7 374.7L226.7 375.2L228.7 375.6L230.7 375.9L232.7 376.1L234.7 376.1L236.7 376.0L238.7 375.6L240.7 374.9L242.7 373.9L244.7 372.4L246.7 370.4L248.7 368.0L250.7 365.0L252.7 361.8L254.7 358.9L256.7 358.0L258.7 359.4L260.7 365.1L262.7 373.5L264.7 383.5L266.7 394.4L268.7 405.6L270.7 416.8L272.7 428.0L274.7 438.9L276.7 449.7L278.7 460.4L280.7 470.8L282.7 481.2L284.7 491.5L285.4 495.0M311.0 495.0L312.7 481.3L314.7 467.1L316.7 458.0L318.7 455.5L320.7 462.1L322.7 474.9L324.7 490.3L325.3 495.0" fill="none" stroke="#000" stroke-width="1" stroke-linejoin="round"/><path d="M40.7 501.0L40.7 499.4L42.7 498.9L44.7 498.3L46.7 497.8L48.7 497.3L50.7 496.8L52.7 496.4L54.7 495.6L56.7 493.8L58.7 491.5L60.7 488.3L62.7 485.1L64.7 480.9L66.7 475.9L68.7 470.6L70.7 464.1L72.7 457.9L74.7 452.4L76.7 446.9L78.7 441.4L80.7 435.6L82.7 429.1L84.7 421.8L86.7 411.4L88.7 402.0L90.7 393.0L92.7 384.4L94.7 375.7L96.7 367.0L98.7 356.0L100.7 343.8L102.7 321.9L104.7 317.1L106.7 316.7L108.7 316.4L110.7 316.6L112.7 317.4L114.7 318.5L116.7 319.5L118.7 320.0L120.7 319.3L122.7 316.8L124.7 312.9L126.7 308.1L128.7 302.8L130.7 297.3L132.7 292.2L134.7 287.7L136.7 284.5L138.7 282.8L140.7 282.1L142.7 281.9L144.7 282.2L146.7 282.8L148.7 283.7L150.7 284.9L152.7 287.0L154.7 289.4L156.7 293.8L158.7 301.2L160.7 310.2L162.7 318.8L164.7 327.1L166.7 334.7L168.7 341.7L170.7 348.3L172.7 354.4L174.7 360.2L176.7 365.6L178.7 370.7L180.7 375.2L182.7 379.0L184.7 382.2L186.7 384.0L188.7 384.3L190.7 382.9L192.7 379.7L194.7 376.4L196.7 374.5L198.7 375.3L200.7 377.1L202.7 378.9L204.7 380.4L206.7 381.9L208.7 383.3L210.7 384.7L212.7 386.0L214.7 387.2L216.7 388.2L218.7 389.2L220.7 390.0L222.7 390.7L224.7 391.4L226.7 391.9L228.7 392.3L230.7 392.6L232.7 392.8L234.7 392.8L236.7 392.5L238.7 392.0L240.7 391.2L242.7 390.0L244.7 388.3L246.7 386.1L248.7 383.4L250.7 380.1L252.7 376.6L254.7 373.2L256.7 371.6L258.7 371.8L260.7 376.6L262.7 384.3L264.7 394.0L266.7 404.6L268.7 415.8L270.7 427.1L272.7 438.3L274.7 449.3L276.7 460.2L278.7 470.8L280.7 481.4L282.7 491.8L284.7 496.5L286.7 496.5L288.7 496.5L290.7 496.5L292.7 496.5L294.7 496.5L296.7 496.5L298.7 496.5L300.7 496.5L302.7 496.5L304.7 496.5L306.7 496.5L308.7 496.5L310.7 496.5L312.7 496.3L314.7 481.3L316.7 468.8L318.7 462.7L320.7 465.6L322.7 475.2L324.7 489.7L326.7 496.5L328.7 496.5L330.7 496.5L332.7 496.5L334.7 496.5L336.7 496.5L338.7 496.5L340.7 496.5L342.7 496.5L344.7 496.5L346.7 496.5L348.7 496.5L350.7 496.5L352.7 496.5L354.7 496.5L356.7 496.5L358.7 496.5L360.7 496.5L362.7 496.5L364.7 496.5L366.7 496.5L368.7 496.5L370.7 496.5L372.7 496.5L374.7 496.5L376.7 496.5L378.7 496.5L380.7 496.5L382.7 496.5L384.7 496.5L386.7 496.5L388.7 496.5L390.7 496.5L392.7 496.5L394.7 496.5L396.7 496.5L398.7 496.5L400.7 496.5L402.7 496.5L404.7 496.5L406.7 496.5L408.7 496.5L410.7 496.5L412.7 496.5L414.7 496.5L416.7 496.5L418.7 496.5L420.7 496.5L422.7 496.5L424.7 496.5L426.7 496.5L428.7 496.5L430.7 496.5L432.7 496.5L434.7 496.5L436.7 496.5L438.7 496.5L440.7 496.5L442.7 496.5L444.7 496.5L446.7 496.5L448.7 496.5L450.7 496.5L452.7 496.5L454.7 496.5L456.7 496.5L458.7 496.5L460.7 496.5L462.7 496.5L464.7 496.5L466.7 496.5L468.7 496.5L470.7 496.5L472.7 496.5L474.7 496.5L476.7 496.5L478.7 496.5L480.7 496.5L482.7 496.5L484.7 496.5L486.7 496.5L488.7 496.5L490.7 496.5L492.7 496.5L494.7 496.5L496.7 496.5L498.7 496.5L500.7 496.5L502.7 496.5L504.7 496.5L506.7 496.5L508.7 496.5L510.7 496.5L512.7 496.5L514.7 496.5L516.7 496.5L518.7 496.5L520.7 496.5L522.7 496.5L524.7 496.5L526.7 496.5L528.7 496.5L530.7 496.5L532.7 496.5L534.7 496.5L536.7 496.5L538.7 496.5L540.7 496.5L542.7 496.5L544.7 496.5L546.7 496.5L548.7 496.5L550.7 496.5L552.7 496.5L554.7 496.5L556.7 496.5L558.7 496.5L560.7 496.5L562.7 496.5L564.7 496.5L566.7 496.5L568.7 496.5L570.7 496.5L572.7 496.5L574.7 496.5L576.7 496.5L578.7 496.5L580.7 496.5L582.7 496.5L584.7 496.5L586.7 496.5L588.7 496.5L590.7 496.5L592.7 496.5L594.7 496.5L596.7 496.5L598.7 496.5L600.7 496.5L602.7 496.5L604.7 496.5L606.7 496.5L608.7 496.5L610.7 496.5L612.7 496.5L614.7 496.5L616.7 496.5L618.7 496.5L620.7 496.5L622.7 496.5L624.7 496.5L626.7 496.5L628.7 496.5L630.7 496.5L632.7 496.5L634.7 496.5L636.7 496.5L638.7 496.5L640.7 496.5L642.7 496.5L644.7 496.5L646.7 496.5L648.7 496.5L650.7 496.5L652.7 496.5L654.7 496.5L656.7 496.5L658.7 496.5L660.7 496.5L662.7 496.5L664.7 496.5L666.7 496.5L668.7 496.5L670.7 496.5L672.7 496.5L674.7 496.5L676.7 496.5L678.7 496.5L680.7 496.5L682.7 496.5L684.7 496.5L686.7 496.5L688.7 496.5L690.7 496.5L692.7 496.5L694.7 496.5L696.7 496.5L698.7 496.5L700.7 496.5L702.7 496.5L704.7 496.5L706.7 496.5L708.7 496.5L710.7 496.5L712.7 496.5L714.7 496.5L716.7 496.5L718.7 496.5L720.7 496.5L722.7 496.5L724.7 496.5L726.7 496.5L728.7 496.5L730.7 496.5L732.7 496.5L734.7 496.5L736.7 496.5L738.7 496.5L740.7 496.5L742.7 496.5L744.7 496.5L746.7 496.5L748.7 496.5L750.7 496.5L752.7 496.5L754.7 496.5L756.7 496.5L758.7 496.5L760.7 496.5L762.7 496.5L764.7 496.5L766.7 496.5L768.7 496.5L770.7 496.5L772.7 496.5L774.7 496.5L776.7 496.5L778.7 496.5L780.7 496.5L782.7 496.5L784.7 496.5L786.7 496.5L788.7 496.5L790.7 496.5L792.7 496.5L794.7 496.5L796.7 496.5L798.7 496.5L800.7 496.5L802.7 496.5L804.7 496.5L806.7 496.5L808.7 496.5L810.7 496.5L812.7 496.5L814.7 496.5L816.7 496.5L818.7 496.5L819.8 496.5L819.8 496.5L112 496.5L112 501.0L40.7 501.0Z" fill="#0055ff"/><path d="M40.7 496.5L40.7 499.4L42.7 498.9L44.7 498.3L46.7 497.8L48.7 497.3L50.7 496.8L52.7 496.4L54.7 495.6L56.7 493.8L58.7 491.5L60.7 488.3L62.7 485.1L64.7 480.9L66.7 475.9L68.7 470.6L70.7 464.1L72.7 457.9L74.7 452.4L76.7 446.9L78.7 441.4L80.7 435.6L82.7 429.1L84.7 421.8L86.7 411.4L88.7 402.0L90.7 393.0L92.7 384.4L94.7 375.7L96.7 367.0L98.7 356.0L100.7 343.8L102.7 321.9L104.7 317.1L106.7 316.7L108.7 316.4L110.7 316.6L112.7 317.4L114.7 318.5L116.7 319.5L118.7 320.0L120.7 319.3L122.7 316.8L124.7 312.9L126.7 308.1L128.7 302.8L130.7 297.3L132.7 292.2L134.7 287.7L136.7 284.5L138.7 282.8L140.7 282.1L142.7 281.9L144.7 282.2L146.7 282.8L148.7 283.7L150.7 284.9L152.7 287.0L154.7 289.4L156.7 293.8L158.7 301.2L160.7 310.2L162.7 318.8L164.7 327.1L166.7 334.7L168.7 341.7L170.7 348.3L172.7 354.4L174.7 360.2L176.7 365.6L178.7 370.7L180.7 375.2L182.7 379.0L184.7 382.2L186.7 384.0L188.7 384.3L190.7 382.9L192.7 379.7L194.7 376.4L196.7 374.5L198.7 375.3L200.7 377.1L202.7 378.9L204.7 380.4L206.7 381.9L208.7 383.3L210.7 384.7L212.7 386.0L214.7 387.2L216.7 388.2L218.7 389.2L220.7 390.0L222.7 390.7L224.7 391.4L226.7 391.9L228.7 392.3L230.7 392.6L232.7 392.8L234.7 392.8L236.7 392.5L238.7 392.0L240.7 391.2L242.7 390.0L244.7 388.3L246.7 386.1L248.7 383.4L250.7 380.1L252.7 376.6L254.7 373.2L256.7 371.6L258.7 371.8L260.7 376.6L262.7 384.3L264.7 394.0L266.7 404.6L268.7 415.8L270.7 427.1L272.7 438.3L274.7 449.3L276.7 460.2L278.7 470.8L280.7 481.4L282.7 491.8L283.6 496.5M312.7 496.5L314.7 481.3L316.7 468.8L318.7 462.7L320.7 465.6L322.7 475.2L324.7 489.7L325.6 496.5" fill="none" stroke="#000" stroke-width="1" stroke-linejoin="round"/><path d="M40.7 501.0L40.7 499.4L42.7 498.9L44.7 498.4L46.7 497.8L48.7 497.3L50.7 496.8L52.7 496.4L54.7 495.7L56.7 493.9L58.7 491.7L60.7 488.5L62.7 485.3L64.7 481.2L66.7 476.3L68.7 471.1L70.7 464.6L72.7 458.2L74.7 452.7L76.7 447.2L78.7 441.7L80.7 436.1L82.7 429.6L84.7 422.5L86.7 412.1L88.7 402.6L90.7 393.5L92.7 384.8L94.7 376.1L96.7 367.4L98.7 356.4L100.7 344.1L102.7 323.3L104.7 321.2L106.7 320.8L108.7 320.6L110.7 321.0L112.7 322.1L114.7 323.6L116.7 324.9L118.7 325.6L120.7 324.9L122.7 322.5L124.7 318.7L126.7 314.0L128.7 308.7L130.7 303.4L132.7 298.3L134.7 293.8L136.7 290.5L138.7 288.6L140.7 288.0L142.7 288.0L144.7 288.2L146.7 289.1L148.7 290.1L150.7 291.3L152.7 293.5L154.7 296.1L156.7 300.1L158.7 307.0L160.7 316.1L162.7 324.8L164.7 333.1L166.7 340.9L168.7 348.0L170.7 354.6L172.7 360.9L174.7 366.8L176.7 372.4L178.7 377.7L180.7 382.7L182.7 387.2L184.7 391.1L186.7 394.2L188.7 395.8L190.7 395.8L192.7 393.9L194.7 391.2L196.7 389.5L198.7 389.6L200.7 391.7L202.7 393.6L204.7 395.4L206.7 397.0L208.7 398.5L210.7 400.0L212.7 401.4L214.7 402.8L216.7 403.9L218.7 405.0L220.7 405.9L222.7 406.8L224.7 407.5L226.7 408.0L228.7 408.5L230.7 408.8L232.7 408.9L234.7 408.8L236.7 408.5L238.7 407.9L240.7 406.9L242.7 405.6L244.7 403.7L246.7 401.2L248.7 398.2L250.7 394.6L252.7 390.7L254.7 387.0L256.7 384.5L258.7 384.2L260.7 387.5L262.7 394.4L264.7 403.5L266.7 414.0L268.7 425.1L270.7 436.4L272.7 447.6L274.7 458.7L276.7 469.6L278.7 480.3L280.7 490.9L282.7 498.0L284.7 498.0L286.7 498.0L288.7 498.0L290.7 498.0L292.7 498.0L294.7 498.0L296.7 498.0L298.7 498.0L300.7 498.0L302.7 498.0L304.7 498.0L306.7 498.0L308.7 498.0L310.7 498.0L312.7 498.0L314.7 495.6L316.7 481.4L318.7 472.4L320.7 470.3L322.7 476.7L324.7 489.8L326.7 498.0L328.7 498.0L330.7 498.0L332.7 498.0L334.7 498.0L336.7 498.0L338.7 498.0L340.7 498.0L342.7 498.0L344.7 498.0L346.7 498.0L348.7 498.0L350.7 498.0L352.7 498.0L354.7 498.0L356.7 498.0L358.7 498.0L360.7 498.0L362.7 498.0L364.7 498.0L366.7 498.0L368.7 498.0L370.7 498.0L372.7 498.0L374.7 498.0L376.7 498.0L378.7 498.0L380.7 498.0L382.7 498.0L384.7 498.0L386.7 498.0L388.7 498.0L390.7 498.0L392.7 498.0L394.7 498.0L396.7 498.0L398.7 498.0L400.7 498.0L402.7 498.0L404.7 498.0L406.7 498.0L408.7 498.0L410.7 498.0L412.7 498.0L414.7 498.0L416.7 498.0L418.7 498.0L420.7 498.0L422.7 498.0L424.7 498.0L426.7 498.0L428.7 498.0L430.7 498.0L432.7 498.0L434.7 498.0L436.7 498.0L438.7 498.0L440.7 498.0L442.7 498.0L444.7 498.0L446.7 498.0L448.7 498.0L450.7 498.0L452.7 498.0L454.7 498.0L456.7 498.0L458.7 498.0L460.7 498.0L462.7 498.0L464.7 498.0L466.7 498.0L468.7 498.0L470.7 498.0L472.7 498.0L474.7 498.0L476.7 498.0L478.7 498.0L480.7 498.0L482.7 498.0L484.7 498.0L486.7 498.0L488.7 498.0L490.7 498.0L492.7 498.0L494.7 498.0L496.7 498.0L498.7 498.0L500.7 498.0L502.7 498.0L504.7 498.0L506.7 498.0L508.7 498.0L510.7 498.0L512.7 498.0L514.7 498.0L516.7 498.0L518.7 498.0L520.7 498.0L522.7 498.0L524.7 498.0L526.7 498.0L528.7 498.0L530.7 498.0L532.7 498.0L534.7 498.0L536.7 498.0L538.7 498.0L540.7 498.0L542.7 498.0L544.7 498.0L546.7 498.0L548.7 498.0L550.7 498.0L552.7 498.0L554.7 498.0L556.7 498.0L558.7 498.0L560.7 498.0L562.7 498.0L564.7 498.0L566.7 498.0L568.7 498.0L570.7 498.0L572.7 498.0L574.7 498.0L576.7 498.0L578.7 498.0L580.7 498.0L582.7 498.0L584.7 498.0L586.7 498.0L588.7 498.0L590.7 498.0L592.7 498.0L594.7 498.0L596.7 498.0L598.7 498.0L600.7 498.0L602.7 498.0L604.7 498.0L606.7 498.0L608.7 498.0L610.7 498.0L612.7 498.0L614.7 498.0L616.7 498.0L618.7 498.0L620.7 498.0L622.7 498.0L624.7 498.0L626.7 498.0L628.7 498.0L630.7 498.0L632.7 498.0L634.7 498.0L636.7 498.0L638.7 498.0L640.7 498.0L642.7 498.0L644.7 498.0L646.7 498.0L648.7 498.0L650.7 498.0L652.7 498.0L654.7 498.0L656.7 498.0L658.7 498.0L660.7 498.0L662.7 498.0L664.7 498.0L666.7 498.0L668.7 498.0L670.7 498.0L672.7 498.0L674.7 498.0L676.7 498.0L678.7 498.0L680.7 498.0L682.7 498.0L684.7 498.0L686.7 498.0L688.7 498.0L690.7 498.0L692.7 498.0L694.7 498.0L696.7 498.0L698.7 498.0L700.7 498.0L702.7 498.0L704.7 498.0L706.7 498.0L708.7 498.0L710.7 498.0L712.7 498.0L714.7 498.0L716.7 498.0L718.7 498.0L720.7 498.0L722.7 498.0L724.7 498.0L726.7 498.0L728.7 498.0L730.7 498.0L732.7 498.0L734.7 498.0L736.7 498.0L738.7 498.0L740.7 498.0L742.7 498.0L744.7 498.0L746.7 498.0L748.7 498.0L750.7 498.0L752.7 498.0L754.7 498.0L756.7 498.0L758.7 498.0L760.7 498.0L762.7 498.0L764.7 498.0L766.7 498.0L768.7 498.0L770.7 498.0L772.7 498.0L774.7 498.0L776.7 498.0L778.7 498.0L780.7 498.0L782.7 498.0L784.7 498.0L786.7 498.0L788.7 498.0L790.7 498.0L792.7 498.0L794.7 498.0L796.7 498.0L798.7 498.0L800.7 498.0L802.7 498.0L804.7 498.0L806.7 498.0L808.7 498.0L810.7 498.0L812.7 498.0L814.7 498.0L816.7 498.0L818.7 498.0L820.7 498.0L822.5 498.0L822.5 498.0L112 498.0L112 501.0L40.7 501.0Z" fill="#0055ff"/><path d="M40.7 498.0L40.7 499.4L42.7 498.9L44.7 498.4L46.7 497.8L48.7 497.3L50.7 496.8L52.7 496.4L54.7 495.7L56.7 493.9L58.7 491.7L60.7 488.5L62.7 485.3L64.7 481.2L66.7 476.3L68.7 471.1L70.7 464.6L72.7 458.2L74.7 452.7L76.7 447.2L78.7 441.7L80.7 436.1L82.7 429.6L84.7 422.5L86.7 412.1L88.7 402.6L90.7 393.5L92.7 384.8L94.7 376.1L96.7 367.4L98.7 356.4L100.7 344.1L102.7 323.3L104.7 321.2L106.7 320.8L108.7 320.6L110.7 321.0L112.7 322.1L114.7 323.6L116.7 324.9L118.7 325.6L120.7 324.9L122.7 322.5L124.7 318.7L126.7 314.0L128.7 308.7L130.7 303.4L132.7 298.3L134.7 293.8L136.7 290.5L138.7 288.6L140.7 288.0L142.7 288.0L144.7 288.2L146.7 289.1L148.7 290.1L150.7 291.3L152.7 293.5L154.7 296.1L156.7 300.1L158.7 307.0L160.7 316.1L162.7 324.8L164.7 333.1L166.7 340.9L168.7 348.0L170.7 354.6L172.7 360.9L174.7 366.8L176.7 372.4L178.7 377.7L180.7 382.7L182.7 387.2L184.7 391.1L186.7 394.2L188.7 395.8L190.7 395.8L192.7 393.9L194.7 391.2L196.7 389.5L198.7 389.6L200.7 391.7L202.7 393.6L204.7 395.4L206.7 397.0L208.7 398.5L210.7 400.0L212.7 401.4L214.7 402.8L216.7 403.9L218.7 405.0L220.7 405.9L222.7 406.8L224.7 407.5L226.7 408.0L228.7 408.5L230.7 408.8L232.7 408.9L234.7 408.8L236.7 408.5L238.7 407.9L240.7 406.9L242.7 405.6L244.7 403.7L246.7 401.2L248.7 398.2L250.7 394.6L252.7 390.7L254.7 387.0L256.7 384.5L258.7 384.2L260.7 387.5L262.7 394.4L264.7 403.5L266.7 414.0L268.7 425.1L270.7 436.4L272.7 447.6L274.7 458.7L276.7 469.6L278.7 480.3L280.7 490.9L282.0 498.0M314.4 498.0L314.7 495.6L316.7 481.4L318.7 472.4L320.7 470.3L322.7 476.7L324.7 489.8L325.7 498.0" fill="none" stroke="#000" stroke-width="1" stroke-linejoin="round"/><path d="M40.6 501.0L40.6 499.5L42.6 498.9L44.6 498.4L46.6 497.9L48.6 497.3L50.6 496.9L52.6 496.4L54.6 495.8L56.6 494.0L58.6 491.9L60.6 488.7L62.6 485.5L64.6 481.6L66.6 476.6L68.6 471.5L70.6 465.0L72.6 458.6L74.6 453.1L76.6 447.6L78.6 442.1L80.6 436.5L82.6 430.0L84.6 423.2L86.6 412.8L88.6 403.2L90.6 394.1L92.6 385.3L94.6 376.5L96.6 367.7L98.6 356.8L100.6 344.5L102.6 326.3L104.6 325.3L106.6 324.9L108.6 324.8L110.6 325.5L112.6 327.3L114.6 329.3L116.6 331.2L118.6 332.1L120.6 331.5L122.6 329.1L124.6 325.4L126.6 320.7L128.6 315.4L130.6 310.0L132.6 304.8L134.6 300.2L136.6 296.7L138.6 294.6L140.6 294.0L142.6 293.9L144.6 294.2L146.6 295.1L148.6 296.2L150.6 297.5L152.6 299.7L154.6 302.4L156.6 306.1L158.6 312.7L160.6 321.7L162.6 330.3L164.6 338.7L166.6 346.5L168.6 353.7L170.6 360.3L172.6 366.6L174.6 372.5L176.6 378.3L178.6 383.8L180.6 389.0L182.6 393.9L184.6 398.4L186.6 402.5L188.6 405.5L190.6 406.3L192.6 405.7L194.6 403.9L196.6 402.4L198.6 402.1L200.6 404.2L202.6 406.3L204.6 408.2L206.6 410.0L208.6 411.7L210.6 413.4L212.6 414.9L214.6 416.4L216.6 417.7L218.6 418.9L220.6 420.0L222.6 420.9L224.6 421.7L226.6 422.4L228.6 422.9L230.6 423.2L232.6 423.3L234.6 423.2L236.6 422.9L238.6 422.1L240.6 421.1L242.6 419.7L244.6 417.7L246.6 415.1L248.6 411.9L250.6 408.1L252.6 403.9L254.6 399.8L256.6 396.5L258.6 396.0L260.6 397.5L262.6 403.7L264.6 412.4L266.6 422.6L268.6 433.6L270.6 444.8L272.6 456.1L274.6 467.2L276.6 478.2L278.6 489.0L280.6 499.5L282.6 499.5L284.6 499.5L286.6 499.5L288.6 499.5L290.6 499.5L292.6 499.5L294.6 499.5L296.6 499.5L298.6 499.5L300.6 499.5L302.6 499.5L304.6 499.5L306.6 499.5L308.6 499.5L310.6 499.5L312.6 499.5L314.6 499.5L316.6 496.3L318.6 483.8L320.6 478.2L322.6 481.0L324.6 490.7L326.6 499.5L328.6 499.5L330.6 499.5L332.6 499.5L334.6 499.5L336.6 499.5L338.6 499.5L340.6 499.5L342.6 499.5L344.6 499.5L346.6 499.5L348.6 499.5L350.6 499.5L352.6 499.5L354.6 499.5L356.6 499.5L358.6 499.5L360.6 499.5L362.6 499.5L364.6 499.5L366.6 499.5L368.6 499.5L370.6 499.5L372.6 499.5L374.6 499.5L376.6 499.5L378.6 499.5L380.6 499.5L382.6 499.5L384.6 499.5L386.6 499.5L388.6 499.5L390.6 499.5L392.6 499.5L394.6 499.5L396.6 499.5L398.6 499.5L400.6 499.5L402.6 499.5L404.6 499.5L406.6 499.5L408.6 499.5L410.6 499.5L412.6 499.5L414.6 499.5L416.6 499.5L418.6 499.5L420.6 499.5L422.6 499.5L424.6 499.5L426.6 499.5L428.6 499.5L430.6 499.5L432.6 499.5L434.6 499.5L436.6 499.5L438.6 499.5L440.6 499.5L442.6 499.5L444.6 499.5L446.6 499.5L448.6 499.5L450.6 499.5L452.6 499.5L454.6 499.5L456.6 499.5L458.6 499.5L460.6 499.5L462.6 499.5L464.6 499.5L466.6 499.5L468.6 499.5L470.6 499.5L472.6 499.5L474.6 499.5L476.6 499.5L478.6 499.5L480.6 499.5L482.6 499.5L484.6 499.5L486.6 499.5L488.6 499.5L490.6 499.5L492.6 499.5L494.6 499.5L496.6 499.5L498.6 499.5L500.6 499.5L502.6 499.5L504.6 499.5L506.6 499.5L508.6 499.5L510.6 499.5L512.6 499.5L514.6 499.5L516.6 499.5L518.6 499.5L520.6 499.5L522.6 499.5L524.6 499.5L526.6 499.5L528.6 499.5L530.6 499.5L532.6 499.5L534.6 499.5L536.6 499.5L538.6 499.5L540.6 499.5L542.6 499.5L544.6 499.5L546.6 499.5L548.6 499.5L550.6 499.5L552.6 499.5L554.6 499.5L556.6 499.5L558.6 499.5L560.6 499.5L562.6 499.5L564.6 499.5L566.6 499.5L568.6 499.5L570.6 499.5L572.6 499.5L574.6 499.5L576.6 499.5L578.6 499.5L580.6 499.5L582.6 499.5L584.6 499.5L586.6 499.5L588.6 499.5L590.6 499.5L592.6 499.5L594.6 499.5L596.6 499.5L598.6 499.5L600.6 499.5L602.6 499.5L604.6 499.5L606.6 499.5L608.6 499.5L610.6 499.5L612.6 499.5L614.6 499.5L616.6 499.5L618.6 499.5L620.6 499.5L622.6 499.5L624.6 499.5L626.6 499.5L628.6 499.5L630.6 499.5L632.6 499.5L634.6 499.5L636.6 499.5L638.6 499.5L640.6 499.5L642.6 499.5L644.6 499.5L646.6 499.5L648.6 499.5L650.6 499.5L652.6 499.5L654.6 499.5L656.6 499.5L658.6 499.5L660.6 499.5L662.6 499.5L664.6 499.5L666.6 499.5L668.6 499.5L670.6 499.5L672.6 499.5L674.6 499.5L676.6 499.5L678.6 499.5L680.6 499.5L682.6 499.5L684.6 499.5L686.6 499.5L688.6 499.5L690.6 499.5L692.6 499.5L694.6 499.5L696.6 499.5L698.6 499.5L700.6 499.5L702.6 499.5L704.6 499.5L706.6 499.5L708.6 499.5L710.6 499.5L712.6 499.5L714.6 499.5L716.6 499.5L718.6 499.5L720.6 499.5L722.6 499.5L724.6 499.5L726.6 499.5L728.6 499.5L730.6 499.5L732.6 499.5L734.6 499.5L736.6 499.5L738.6 499.5L740.6 499.5L742.6 499.5L744.6 499.5L746.6 499.5L748.6 499.5L750.6 499.5L752.6 499.5L754.6 499.5L756.6 499.5L758.6 499.5L760.6 499.5L762.6 499.5L764.6 499.5L766.6 499.5L768.6 499.5L770.6 499.5L772.6 499.5L774.6 499.5L776.6 499.5L778.6 499.5L780.6 499.5L782.6 499.5L784.6 499.5L786.6 499.5L788.6 499.5L790.6 499.5L792.6 499.5L794.6 499.5L796.6 499.5L798.6 499.5L800.6 499.5L802.6 499.5L804.6 499.5L806.6 499.5L808.6 499.5L810.6 499.5L812.6 499.5L814.6 499.5L816.6 499.5L818.6 499.5L820.6 499.5L822.6 499.5L824.6 499.5L825.2 499.5L825.2 499.5L112 499.5L112 501.0L40.6 501.0Z" fill="#0055ff"/><path d="M40.6 499.5L40.6 499.5L42.6 498.9L44.6 498.4L46.6 497.9L48.6 497.3L50.6 496.9L52.6 496.4L54.6 495.8L56.6 494.0L58.6 491.9L60.6 488.7L62.6 485.5L64.6 481.6L66.6 476.6L68.6 471.5L70.6 465.0L72.6 458.6L74.6 453.1L76.6 447.6L78.6 442.1L80.6 436.5L82.6 430.0L84.6 423.2L86.6 412.8L88.6 403.2L90.6 394.1L92.6 385.3L94.6 376.5L96.6 367.7L98.6 356.8L100.6 344.5L102.6 326.3L104.6 325.3L106.6 324.9L108.6 324.8L110.6 325.5L112.6 327.3L114.6 329.3L116.6 331.2L118.6 332.1L120.6 331.5L122.6 329.1L124.6 325.4L126.6 320.7L128.6 315.4L130.6 310.0L132.6 304.8L134.6 300.2L136.6 296.7L138.6 294.6L140.6 294.0L142.6 293.9L144.6 294.2L146.6 295.1L148.6 296.2L150.6 297.5L152.6 299.7L154.6 302.4L156.6 306.1L158.6 312.7L160.6 321.7L162.6 330.3L164.6 338.7L166.6 346.5L168.6 353.7L170.6 360.3L172.6 366.6L174.6 372.5L176.6 378.3L178.6 383.8L180.6 389.0L182.6 393.9L184.6 398.4L186.6 402.5L188.6 405.5L190.6 406.3L192.6 405.7L194.6 403.9L196.6 402.4L198.6 402.1L200.6 404.2L202.6 406.3L204.6 408.2L206.6 410.0L208.6 411.7L210.6 413.4L212.6 414.9L214.6 416.4L216.6 417.7L218.6 418.9L220.6 420.0L222.6 420.9L224.6 421.7L226.6 422.4L228.6 422.9L230.6 423.2L232.6 423.3L234.6 423.2L236.6 422.9L238.6 422.1L240.6 421.1L242.6 419.7L244.6 417.7L246.6 415.1L248.6 411.9L250.6 408.1L252.6 403.9L254.6 399.8L256.6 396.5L258.6 396.0L260.6 397.5L262.6 403.7L264.6 412.4L266.6 422.6L268.6 433.6L270.6 444.8L272.6 456.1L274.6 467.2L276.6 478.2L278.6 489.0L280.6 499.5M316.2 499.5L316.6 496.3L318.6 483.8L320.6 478.2L322.6 481.0L324.6 490.7L325.8 499.5" fill="none" stroke="#000" stroke-width="1" stroke-linejoin="round"/><path d="M40.6 501.0L40.6 499.5L42.6 499.0L44.6 498.4L46.6 497.9L48.6 497.4L50.6 496.9L52.6 496.4L54.6 496.0L56.6 494.1L58.6 492.1L60.6 488.9L62.6 485.7L64.6 481.9L66.6 476.9L68.6 471.9L70.6 465.4L72.6 458.9L74.6 453.4L76.6 447.9L78.6 442.4L80.6 436.9L82.6 430.4L84.6 423.8L86.6 413.4L88.6 403.8L90.6 394.6L92.6 385.7L94.6 376.9L96.6 368.1L98.6 357.3L100.6 344.8L102.6 330.2L104.6 329.4L106.6 329.1L108.6 329.1L110.6 330.4L112.6 332.8L114.6 335.5L116.6 337.8L118.6 339.0L120.6 338.4L122.6 336.0L124.6 332.3L126.6 327.6L128.6 322.3L130.6 316.8L132.6 311.5L134.6 306.8L136.6 303.0L138.6 300.6L140.6 299.8L142.6 299.6L144.6 300.1L146.6 301.0L148.6 302.2L150.6 303.6L152.6 305.5L154.6 308.4L156.6 311.8L158.6 318.4L160.6 326.9L162.6 335.5L164.6 343.8L166.6 351.6L168.6 358.8L170.6 365.5L172.6 371.7L174.6 377.7L176.6 383.4L178.6 389.0L180.6 394.3L182.6 399.5L184.6 404.4L186.6 409.1L188.6 412.8L190.6 414.7L192.6 415.1L194.6 414.1L196.6 412.7L198.6 412.8L200.6 414.1L202.6 416.5L204.6 418.6L206.6 420.6L208.6 422.5L210.6 424.3L212.6 426.0L214.6 427.6L216.6 429.1L218.6 430.4L220.6 431.7L222.6 432.7L224.6 433.7L226.6 434.4L228.6 435.0L230.6 435.3L232.6 435.5L234.6 435.5L236.6 435.1L238.6 434.4L240.6 433.4L242.6 432.0L244.6 430.0L246.6 427.4L248.6 424.2L250.6 420.3L252.6 416.0L254.6 411.8L256.6 408.4L258.6 406.6L260.6 407.9L262.6 412.8L264.6 420.8L266.6 430.6L268.6 441.5L270.6 452.7L272.6 464.0L274.6 475.1L276.6 486.2L278.6 497.0L280.6 501.0L282.6 501.0L284.6 501.0L286.6 501.0L288.6 501.0L290.6 501.0L292.6 501.0L294.6 501.0L296.6 501.0L298.6 501.0L300.6 501.0L302.6 501.0L304.6 501.0L306.6 501.0L308.6 501.0L310.6 501.0L312.6 501.0L314.6 501.0L316.6 501.0L318.6 497.0L320.6 488.3L322.6 485.9L324.6 493.0L326.6 501.0L328.6 501.0L330.6 501.0L332.6 501.0L334.6 501.0L336.6 501.0L338.6 501.0L340.6 501.0L342.6 501.0L344.6 501.0L346.6 501.0L348.6 501.0L350.6 501.0L352.6 501.0L354.6 501.0L356.6 501.0L358.6 501.0L360.6 501.0L362.6 501.0L364.6 501.0L366.6 501.0L368.6 501.0L370.6 501.0L372.6 501.0L374.6 501.0L376.6 501.0L378.6 501.0L380.6 501.0L382.6 501.0L384.6 501.0L386.6 501.0L388.6 501.0L390.6 501.0L392.6 501.0L394.6 501.0L396.6 501.0L398.6 501.0L400.6 501.0L402.6 501.0L404.6 501.0L406.6 501.0L408.6 501.0L410.6 501.0L412.6 501.0L414.6 501.0L416.6 501.0L418.6 501.0L420.6 501.0L422.6 501.0L424.6 501.0L426.6 501.0L428.6 501.0L430.6 501.0L432.6 501.0L434.6 501.0L436.6 501.0L438.6 501.0L440.6 501.0L442.6 501.0L444.6 501.0L446.6 501.0L448.6 501.0L450.6 501.0L452.6 501.0L454.6 501.0L456.6 501.0L458.6 501.0L460.6 501.0L462.6 501.0L464.6 501.0L466.6 501.0L468.6 501.0L470.6 501.0L472.6 501.0L474.6 501.0L476.6 501.0L478.6 501.0L480.6 501.0L482.6 501.0L484.6 501.0L486.6 501.0L488.6 501.0L490.6 501.0L492.6 501.0L494.6 501.0L496.6 501.0L498.6 501.0L500.6 501.0L502.6 501.0L504.6 501.0L506.6 501.0L508.6 501.0L510.6 501.0L512.6 501.0L514.6 501.0L516.6 501.0L518.6 501.0L520.6 501.0L522.6 501.0L524.6 501.0L526.6 501.0L528.6 501.0L530.6 501.0L532.6 501.0L534.6 501.0L536.6 501.0L538.6 501.0L540.6 501.0L542.6 501.0L544.6 501.0L546.6 501.0L548.6 501.0L550.6 501.0L552.6 501.0L554.6 501.0L556.6 501.0L558.6 501.0L560.6 501.0L562.6 501.0L564.6 501.0L566.6 501.0L568.6 501.0L570.6 501.0L572.6 501.0L574.6 501.0L576.6 501.0L578.6 501.0L580.6 501.0L582.6 501.0L584.6 501.0L586.6 501.0L588.6 501.0L590.6 501.0L592.6 501.0L594.6 501.0L596.6 501.0L598.6 501.0L600.6 501.0L602.6 501.0L604.6 501.0L606.6 501.0L608.6 501.0L610.6 501.0L612.6 501.0L614.6 501.0L616.6 501.0L618.6 501.0L620.6 501.0L622.6 501.0L624.6 501.0L626.6 501.0L628.6 501.0L630.6 501.0L632.6 501.0L634.6 501.0L636.6 501.0L638.6 501.0L640.6 501.0L642.6 501.0L644.6 501.0L646.6 501.0L648.6 501.0L650.6 501.0L652.6 501.0L654.6 501.0L656.6 501.0L658.6 501.0L660.6 501.0L662.6 501.0L664.6 501.0L666.6 501.0L668.6 501.0L670.6 501.0L672.6 501.0L674.6 501.0L676.6 501.0L678.6 501.0L680.6 501.0L682.6 501.0L684.6 501.0L686.6 501.0L688.6 501.0L690.6 501.0L692.6 501.0L694.6 501.0L696.6 501.0L698.6 501.0L700.6 501.0L702.6 501.0L704.6 501.0L706.6 501.0L708.6 501.0L710.6 501.0L712.6 501.0L714.6 501.0L716.6 501.0L718.6 501.0L720.6 501.0L722.6 501.0L724.6 501.0L726.6 501.0L728.6 501.0L730.6 501.0L732.6 501.0L734.6 501.0L736.6 501.0L738.6 501.0L740.6 501.0L742.6 501.0L744.6 501.0L746.6 501.0L748.6 501.0L750.6 501.0L752.6 501.0L754.6 501.0L756.6 501.0L758.6 501.0L760.6 501.0L762.6 501.0L764.6 501.0L766.6 501.0L768.6 501.0L770.6 501.0L772.6 501.0L774.6 501.0L776.6 501.0L778.6 501.0L780.6 501.0L782.6 501.0L784.6 501.0L786.6 501.0L788.6 501.0L790.6 501.0L792.6 501.0L794.6 501.0L796.6 501.0L798.6 501.0L800.6 501.0L802.6 501.0L804.6 501.0L806.6 501.0L808.6 501.0L810.6 501.0L812.6 501.0L814.6 501.0L816.6 501.0L818.6 501.0L820.6 501.0L822.6 501.0L824.6 501.0L826.6 501.0L827.9 501.0L827.9 501.0L112 501.0L112 501.0L40.6 501.0Z" fill="#0055ff"/><path d="M40.6 501.0L40.6 499.5L42.6 499.0L44.6 498.4L46.6 497.9L48.6 497.4L50.6 496.9L52.6 496.4L54.6 496.0L56.6 494.1L58.6 492.1L60.6 488.9L62.6 485.7L64.6 481.9L66.6 476.9L68.6 471.9L70.6 465.4L72.6 458.9L74.6 453.4L76.6 447.9L78.6 442.4L80.6 436.9L82.6 430.4L84.6 423.8L86.6 413.4L88.6 403.8L90.6 394.6L92.6 385.7L94.6 376.9L96.6 368.1L98.6 357.3L100.6 344.8L102.6 330.2L104.6 329.4L106.6 329.1L108.6 329.1L110.6 330.4L112.6 332.8L114.6 335.5L116.6 337.8L118.6 339.0L120.6 338.4L122.6 336.0L124.6 332.3L126.6 327.6L128.6 322.3L130.6 316.8L132.6 311.5L134.6 306.8L136.6 303.0L138.6 300.6L140.6 299.8L142.6 299.6L144.6 300.1L146.6 301.0L148.6 302.2L150.6 303.6L152.6 305.5L154.6 308.4L156.6 311.8L158.6 318.4L160.6 326.9L162.6 335.5L164.6 343.8L166.6 351.6L168.6 358.8L170.6 365.5L172.6 371.7L174.6 377.7L176.6 383.4L178.6 389.0L180.6 394.3L182.6 399.5L184.6 404.4L186.6 409.1L188.6 412.8L190.6 414.7L192.6 415.1L194.6 414.1L196.6 412.7L198.6 412.8L200.6 414.1L202.6 416.5L204.6 418.6L206.6 420.6L208.6 422.5L210.6 424.3L212.6 426.0L214.6 427.6L216.6 429.1L218.6 430.4L220.6 431.7L222.6 432.7L224.6 433.7L226.6 434.4L228.6 435.0L230.6 435.3L232.6 435.5L234.6 435.5L236.6 435.1L238.6 434.4L240.6 433.4L242.6 432.0L244.6 430.0L246.6 427.4L248.6 424.2L250.6 420.3L252.6 416.0L254.6 411.8L256.6 408.4L258.6 406.6L260.6 407.9L262.6 412.8L264.6 420.8L266.6 430.6L268.6 441.5L270.6 452.7L272.6 464.0L274.6 475.1L276.6 486.2L278.6 497.0L279.4 501.0M318.0 501.0L318.6 497.0L320.6 488.3L322.6 485.9L324.6 493.0L325.8 501.0" fill="none" stroke="#000" stroke-width="1" stroke-linejoin="round"/><path d="M40.6 502.5L40.6 499.5L42.6 499.0L44.6 498.5L46.6 497.9L48.6 497.4L50.6 496.9L52.6 496.5L54.6 496.0L56.6 494.2L58.6 492.3L60.6 489.1L62.6 485.9L64.6 482.2L66.6 477.2L68.6 472.2L70.6 465.8L72.6 459.3L74.6 453.8L76.6 448.3L78.6 442.8L80.6 437.3L82.6 430.8L84.6 424.3L86.6 414.1L88.6 404.4L90.6 395.1L92.6 386.2L94.6 377.3L96.6 368.4L98.6 357.7L100.6 345.2L102.6 334.2L104.6 333.6L106.6 333.3L108.6 333.7L110.6 335.7L112.6 338.6L114.6 341.7L116.6 344.4L118.6 345.7L120.6 345.2L122.6 342.9L124.6 339.2L126.6 334.5L128.6 329.2L130.6 323.6L132.6 318.2L134.6 313.3L136.6 309.3L138.6 306.6L140.6 305.5L142.6 305.4L144.6 305.8L146.6 306.7L148.6 308.0L150.6 309.5L152.6 311.3L154.6 314.3L156.6 317.5L158.6 323.6L160.6 331.8L162.6 340.4L164.6 348.6L166.6 356.4L168.6 363.6L170.6 370.2L172.6 376.4L174.6 382.3L176.6 388.0L178.6 393.6L180.6 399.0L182.6 404.3L184.6 409.5L186.6 414.5L188.6 418.9L190.6 421.6L192.6 422.9L194.6 422.7L196.6 421.9L198.6 421.8L200.6 422.7L202.6 425.4L204.6 427.7L206.6 429.8L208.6 431.9L210.6 433.9L212.6 435.7L214.6 437.4L216.6 439.1L218.6 440.6L220.6 442.0L222.6 443.2L224.6 444.3L226.6 445.1L228.6 445.8L230.6 446.2L232.6 446.4L234.6 446.4L236.6 446.1L238.6 445.4L240.6 444.4L242.6 443.0L244.6 441.0L246.6 438.4L248.6 435.2L250.6 431.3L252.6 426.9L254.6 422.4L256.6 418.5L258.6 416.3L260.6 416.8L262.6 420.4L264.6 427.8L266.6 437.3L268.6 447.9L270.6 459.0L272.6 470.3L274.6 481.5L276.6 492.6L278.6 502.5L280.6 502.5L282.6 502.5L284.6 502.5L286.6 502.5L288.6 502.5L290.6 502.5L292.6 502.5L294.6 502.5L296.6 502.5L298.6 502.5L300.6 502.5L302.6 502.5L304.6 502.5L306.6 502.5L308.6 502.5L310.6 502.5L312.6 502.5L314.6 502.5L316.6 502.5L318.6 502.5L320.6 497.4L322.6 493.0L324.6 494.8L326.6 502.5L328.6 502.5L330.6 502.5L332.6 502.5L334.6 502.5L336.6 502.5L338.6 502.5L340.6 502.5L342.6 502.5L344.6 502.5L346.6 502.5L348.6 502.5L350.6 502.5L352.6 502.5L354.6 502.5L356.6 502.5L358.6 502.5L360.6 502.5L362.6 502.5L364.6 502.5L366.6 502.5L368.6 502.5L370.6 502.5L372.6 502.5L374.6 502.5L376.6 502.5L378.6 502.5L380.6 502.5L382.6 502.5L384.6 502.5L386.6 502.5L388.6 502.5L390.6 502.5L392.6 502.5L394.6 502.5L396.6 502.5L398.6 502.5L400.6 502.5L402.6 502.5L404.6 502.5L406.6 502.5L408.6 502.5L410.6 502.5L412.6 502.5L414.6 502.5L416.6 502.5L418.6 502.5L420.6 502.5L422.6 502.5L424.6 502.5L426.6 502.5L428.6 502.5L430.6 502.5L432.6 502.5L434.6 502.5L436.6 502.5L438.6 502.5L440.6 502.5L442.6 502.5L444.6 502.5L446.6 502.5L448.6 502.5L450.6 502.5L452.6 502.5L454.6 502.5L456.6 502.5L458.6 502.5L460.6 502.5L462.6 502.5L464.6 502.5L466.6 502.5L468.6 502.5L470.6 502.5L472.6 502.5L474.6 502.5L476.6 502.5L478.6 502.5L480.6 502.5L482.6 502.5L484.6 502.5L486.6 502.5L488.6 502.5L490.6 502.5L492.6 502.5L494.6 502.5L496.6 502.5L498.6 502.5L500.6 502.5L502.6 502.5L504.6 502.5L506.6 502.5L508.6 502.5L510.6 502.5L512.6 502.5L514.6 502.5L516.6 502.5L518.6 502.5L520.6 502.5L522.6 502.5L524.6 502.5L526.6 502.5L528.6 502.5L530.6 502.5L532.6 502.5L534.6 502.5L536.6 502.5L538.6 502.5L540.6 502.5L542.6 502.5L544.6 502.5L546.6 502.5L548.6 502.5L550.6 502.5L552.6 502.5L554.6 502.5L556.6 502.5L558.6 502.5L560.6 502.5L562.6 502.5L564.6 502.5L566.6 502.5L568.6 502.5L570.6 502.5L572.6 502.5L574.6 502.5L576.6 502.5L578.6 502.5L580.6 502.5L582.6 502.5L584.6 502.5L586.6 502.5L588.6 502.5L590.6 502.5L592.6 502.5L594.6 502.5L596.6 502.5L598.6 502.5L600.6 502.5L602.6 502.5L604.6 502.5L606.6 502.5L608.6 502.5L610.6 502.5L612.6 502.5L614.6 502.5L616.6 502.5L618.6 502.5L620.6 502.5L622.6 502.5L624.6 502.5L626.6 502.5L628.6 502.5L630.6 502.5L632.6 502.5L634.6 502.5L636.6 502.5L638.6 502.5L640.6 502.5L642.6 502.5L644.6 502.5L646.6 502.5L648.6 502.5L650.6 502.5L652.6 502.5L654.6 502.5L656.6 502.5L658.6 502.5L660.6 502.5L662.6 502.5L664.6 502.5L666.6 502.5L668.6 502.5L670.6 502.5L672.6 502.5L674.6 502.5L676.6 502.5L678.6 502.5L680.6 502.5L682.6 502.5L684.6 502.5L686.6 502.5L688.6 502.5L690.6 502.5L692.6 502.5L694.6 502.5L696.6 502.5L698.6 502.5L700.6 502.5L702.6 502.5L704.6 502.5L706.6 502.5L708.6 502.5L710.6 502.5L712.6 502.5L714.6 502.5L716.6 502.5L718.6 502.5L720.6 502.5L722.6 502.5L724.6 502.5L726.6 502.5L728.6 502.5L730.6 502.5L732.6 502.5L734.6 502.5L736.6 502.5L738.6 502.5L740.6 502.5L742.6 502.5L744.6 502.5L746.6 502.5L748.6 502.5L750.6 502.5L752.6 502.5L754.6 502.5L756.6 502.5L758.6 502.5L760.6 502.5L762.6 502.5L764.6 502.5L766.6 502.5L768.6 502.5L770.6 502.5L772.6 502.5L774.6 502.5L776.6 502.5L778.6 502.5L780.6 502.5L782.6 502.5L784.6 502.5L786.6 502.5L788.6 502.5L790.6 502.5L792.6 502.5L794.6 502.5L796.6 502.5L798.6 502.5L800.6 502.5L802.6 502.5L804.6 502.5L806.6 502.5L808.6 502.5L810.6 502.5L812.6 502.5L814.6 502.5L816.6 502.5L818.6 502.5L820.6 502.5L822.6 502.5L824.6 502.5L826.6 502.5L828.6 502.5L830.6 502.5L830.6 502.5L830.6 502.5L112 502.5L112 502.5L40.6 502.5Z" fill="#0055ff"/><path d="M40.6 502.5L40.6 499.5L42.6 499.0L44.6 498.5L46.6 497.9L48.6 497.4L50.6 496.9L52.6 496.5L54.6 496.0L56.6 494.2L58.6 492.3L60.6 489.1L62.6 485.9L64.6 482.2L66.6 477.2L68.6 472.2L70.6 465.8L72.6 459.3L74.6 453.8L76.6 448.3L78.6 442.8L80.6 437.3L82.6 430.8L84.6 424.3L86.6 414.1L88.6 404.4L90.6 395.1L92.6 386.2L94.6 377.3L96.6 368.4L98.6 357.7L100.6 345.2L102.6 334.2L104.6 333.6L106.6 333.3L108.6 333.7L110.6 335.7L112.6 338.6L114.6 341.7L116.6 344.4L118.6 345.7L120.6 345.2L122.6 342.9L124.6 339.2L126.6 334.5L128.6 329.2L130.6 323.6L132.6 318.2L134.6 313.3L136.6 309.3L138.6 306.6L140.6 305.5L142.6 305.4L144.6 305.8L146.6 306.7L148.6 308.0L150.6 309.5L152.6 311.3L154.6 314.3L156.6 317.5L158.6 323.6L160.6 331.8L162.6 340.4L164.6 348.6L166.6 356.4L168.6 363.6L170.6 370.2L172.6 376.4L174.6 382.3L176.6 388.0L178.6 393.6L180.6 399.0L182.6 404.3L184.6 409.5L186.6 414.5L188.6 418.9L190.6 421.6L192.6 422.9L194.6 422.7L196.6 421.9L198.6 421.8L200.6 422.7L202.6 425.4L204.6 427.7L206.6 429.8L208.6 431.9L210.6 433.9L212.6 435.7L214.6 437.4L216.6 439.1L218.6 440.6L220.6 442.0L222.6 443.2L224.6 444.3L226.6 445.1L228.6 445.8L230.6 446.2L232.6 446.4L234.6 446.4L236.6 446.1L238.6 445.4L240.6 444.4L242.6 443.0L244.6 441.0L246.6 438.4L248.6 435.2L250.6 431.3L252.6 426.9L254.6 422.4L256.6 418.5L258.6 416.3L260.6 416.8L262.6 420.4L264.6 427.8L266.6 437.3L268.6 447.9L270.6 459.0L272.6 470.3L274.6 481.5L276.6 492.6L278.4 502.5M319.8 502.5L320.6 497.4L322.6 493.0L324.6 494.8L326.0 502.5" fill="none" stroke="#000" stroke-width="1" stroke-linejoin="round"/><path d="M40.5 504.0L40.5 499.5L42.5 499.0L44.5 498.5L46.5 498.0L48.5 497.4L50.5 497.0L52.5 496.5L54.5 496.1L56.5 494.4L58.5 492.5L60.5 489.3L62.5 486.1L64.5 482.5L66.5 477.5L68.5 472.6L70.5 466.2L72.5 459.7L74.5 454.1L76.5 448.6L78.5 443.1L80.5 437.6L82.5 431.2L84.5 424.7L86.5 414.8L88.5 405.0L90.5 395.6L92.5 386.6L94.5 377.7L96.5 368.8L98.5 358.1L100.5 345.7L102.5 338.3L104.5 337.9L106.5 337.7L108.5 338.8L110.5 341.4L112.5 344.8L114.5 348.3L116.5 351.2L118.5 352.6L120.5 352.1L122.5 349.9L124.5 346.2L126.5 341.5L128.5 336.2L130.5 330.5L132.5 325.0L134.5 319.9L136.5 315.7L138.5 312.6L140.5 311.2L142.5 311.1L144.5 311.3L146.5 312.3L148.5 313.6L150.5 315.2L152.5 317.0L154.5 319.7L156.5 323.2L158.5 328.3L160.5 336.7L162.5 345.1L164.5 353.2L166.5 360.8L168.5 368.0L170.5 374.6L172.5 380.7L174.5 386.6L176.5 392.3L178.5 397.8L180.5 403.3L182.5 408.6L184.5 414.0L186.5 419.3L188.5 424.2L190.5 427.7L192.5 429.8L194.5 430.5L196.5 430.5L198.5 430.2L200.5 431.1L202.5 433.6L204.5 436.2L206.5 438.6L208.5 440.8L210.5 443.0L212.5 445.1L214.5 447.0L216.5 448.8L218.5 450.6L220.5 452.2L222.5 453.6L224.5 454.8L226.5 455.7L228.5 456.5L230.5 457.0L232.5 457.3L234.5 457.3L236.5 457.0L238.5 456.3L240.5 455.3L242.5 453.9L244.5 452.0L246.5 449.4L248.5 446.1L250.5 442.2L252.5 437.7L254.5 433.0L256.5 428.9L258.5 426.3L260.5 425.5L262.5 428.6L264.5 435.0L266.5 443.9L268.5 454.2L270.5 465.3L272.5 476.5L274.5 487.8L276.5 498.9L278.5 504.0L280.5 504.0L282.5 504.0L284.5 504.0L286.5 504.0L288.5 504.0L290.5 504.0L292.5 504.0L294.5 504.0L296.5 504.0L298.5 504.0L300.5 504.0L302.5 504.0L304.5 504.0L306.5 504.0L308.5 504.0L310.5 504.0L312.5 504.0L314.5 504.0L316.5 504.0L318.5 504.0L320.5 504.0L322.5 500.6L324.5 499.1L326.5 504.0L328.5 504.0L330.5 504.0L332.5 504.0L334.5 504.0L336.5 504.0L338.5 504.0L340.5 504.0L342.5 504.0L344.5 504.0L346.5 504.0L348.5 504.0L350.5 504.0L352.5 504.0L354.5 504.0L356.5 504.0L358.5 504.0L360.5 504.0L362.5 504.0L364.5 504.0L366.5 504.0L368.5 504.0L370.5 504.0L372.5 504.0L374.5 504.0L376.5 504.0L378.5 504.0L380.5 504.0L382.5 504.0L384.5 504.0L386.5 504.0L388.5 504.0L390.5 504.0L392.5 504.0L394.5 504.0L396.5 504.0L398.5 504.0L400.5 504.0L402.5 504.0L404.5 504.0L406.5 504.0L408.5 504.0L410.5 504.0L412.5 504.0L414.5 504.0L416.5 504.0L418.5 504.0L420.5 504.0L422.5 504.0L424.5 504.0L426.5 504.0L428.5 504.0L430.5 504.0L432.5 504.0L434.5 504.0L436.5 504.0L438.5 504.0L440.5 504.0L442.5 504.0L444.5 504.0L446.5 504.0L448.5 504.0L450.5 504.0L452.5 504.0L454.5 504.0L456.5 504.0L458.5 504.0L460.5 504.0L462.5 504.0L464.5 504.0L466.5 504.0L468.5 504.0L470.5 504.0L472.5 504.0L474.5 504.0L476.5 504.0L478.5 504.0L480.5 504.0L482.5 504.0L484.5 504.0L486.5 504.0L488.5 504.0L490.5 504.0L492.5 504.0L494.5 504.0L496.5 504.0L498.5 504.0L500.5 504.0L502.5 504.0L504.5 504.0L506.5 504.0L508.5 504.0L510.5 504.0L512.5 504.0L514.5 504.0L516.5 504.0L518.5 504.0L520.5 504.0L522.5 504.0L524.5 504.0L526.5 504.0L528.5 504.0L530.5 504.0L532.5 504.0L534.5 504.0L536.5 504.0L538.5 504.0L540.5 504.0L542.5 504.0L544.5 504.0L546.5 504.0L548.5 504.0L550.5 504.0L552.5 504.0L554.5 504.0L556.5 504.0L558.5 504.0L560.5 504.0L562.5 504.0L564.5 504.0L566.5 504.0L568.5 504.0L570.5 504.0L572.5 504.0L574.5 504.0L576.5 504.0L578.5 504.0L580.5 504.0L582.5 504.0L584.5 504.0L586.5 504.0L588.5 504.0L590.5 504.0L592.5 504.0L594.5 504.0L596.5 504.0L598.5 504.0L600.5 504.0L602.5 504.0L604.5 504.0L606.5 504.0L608.5 504.0L610.5 504.0L612.5 504.0L614.5 504.0L616.5 504.0L618.5 504.0L620.5 504.0L622.5 504.0L624.5 504.0L626.5 504.0L628.5 504.0L630.5 504.0L632.5 504.0L634.5 504.0L636.5 504.0L638.5 504.0L640.5 504.0L642.5 504.0L644.5 504.0L646.5 504.0L648.5 504.0L650.5 504.0L652.5 504.0L654.5 504.0L656.5 504.0L658.5 504.0L660.5 504.0L662.5 504.0L664.5 504.0L666.5 504.0L668.5 504.0L670.5 504.0L672.5 504.0L674.5 504.0L676.5 504.0L678.5 504.0L680.5 504.0L682.5 504.0L684.5 504.0L686.5 504.0L688.5 504.0L690.5 504.0L692.5 504.0L694.5 504.0L696.5 504.0L698.5 504.0L700.5 504.0L702.5 504.0L704.5 504.0L706.5 504.0L708.5 504.0L710.5 504.0L712.5 504.0L714.5 504.0L716.5 504.0L718.5 504.0L720.5 504.0L722.5 504.0L724.5 504.0L726.5 504.0L728.5 504.0L730.5 504.0L732.5 504.0L734.5 504.0L736.5 504.0L738.5 504.0L740.5 504.0L742.5 504.0L744.5 504.0L746.5 504.0L748.5 504.0L750.5 504.0L752.5 504.0L754.5 504.0L756.5 504.0L758.5 504.0L760.5 504.0L762.5 504.0L764.5 504.0L766.5 504.0L768.5 504.0L770.5 504.0L772.5 504.0L774.5 504.0L776.5 504.0L778.5 504.0L780.5 504.0L782.5 504.0L784.5 504.0L786.5 504.0L788.5 504.0L790.5 504.0L792.5 504.0L794.5 504.0L796.5 504.0L798.5 504.0L800.5 504.0L802.5 504.0L804.5 504.0L806.5 504.0L808.5 504.0L810.5 504.0L812.5 504.0L814.5 504.0L816.5 504.0L818.5 504.0L820.5 504.0L822.5 504.0L824.5 504.0L826.5 504.0L828.5 504.0L830.5 504.0L832.5 504.0L833.3 504.0L833.3 504.0L112 504.0L112 504.0L40.5 504.0Z" fill="#0055ff"/><path d="M40.5 504.0L40.5 499.5L42.5 499.0L44.5 498.5L46.5 498.0L48.5 497.4L50.5 497.0L52.5 496.5L54.5 496.1L56.5 494.4L58.5 492.5L60.5 489.3L62.5 486.1L64.5 482.5L66.5 477.5L68.5 472.6L70.5 466.2L72.5 459.7L74.5 454.1L76.5 448.6L78.5 443.1L80.5 437.6L82.5 431.2L84.5 424.7L86.5 414.8L88.5 405.0L90.5 395.6L92.5 386.6L94.5 377.7L96.5 368.8L98.5 358.1L100.5 345.7L102.5 338.3L104.5 337.9L106.5 337.7L108.5 338.8L110.5 341.4L112.5 344.8L114.5 348.3L116.5 351.2L118.5 352.6L120.5 352.1L122.5 349.9L124.5 346.2L126.5 341.5L128.5 336.2L130.5 330.5L132.5 325.0L134.5 319.9L136.5 315.7L138.5 312.6L140.5 311.2L142.5 311.1L144.5 311.3L146.5 312.3L148.5 313.6L150.5 315.2L152.5 317.0L154.5 319.7L156.5 323.2L158.5 328.3L160.5 336.7L162.5 345.1L164.5 353.2L166.5 360.8L168.5 368.0L170.5 374.6L172.5 380.7L174.5 386.6L176.5 392.3L178.5 397.8L180.5 403.3L182.5 408.6L184.5 414.0L186.5 419.3L188.5 424.2L190.5 427.7L192.5 429.8L194.5 430.5L196.5 430.5L198.5 430.2L200.5 431.1L202.5 433.6L204.5 436.2L206.5 438.6L208.5 440.8L210.5 443.0L212.5 445.1L214.5 447.0L216.5 448.8L218.5 450.6L220.5 452.2L222.5 453.6L224.5 454.8L226.5 455.7L228.5 456.5L230.5 457.0L232.5 457.3L234.5 457.3L236.5 457.0L238.5 456.3L240.5 455.3L242.5 453.9L244.5 452.0L246.5 449.4L248.5 446.1L250.5 442.2L252.5 437.7L254.5 433.0L256.5 428.9L258.5 426.3L260.5 425.5L262.5 428.6L264.5 435.0L266.5 443.9L268.5 454.2L270.5 465.3L272.5 476.5L274.5 487.8L276.5 498.9L277.5 504.0M321.8 504.0L322.5 500.6L324.5 499.1L326.0 504.0" fill="none" stroke="#000" stroke-width="1" stroke-linejoin="round"/><path d="M40.5 505.5L40.5 499.5L42.5 499.1L44.5 498.5L46.5 498.0L48.5 497.5L50.5 497.0L52.5 496.5L54.5 496.1L56.5 494.5L58.5 492.6L60.5 489.5L62.5 486.3L64.5 482.8L66.5 477.8L68.5 472.9L70.5 466.6L72.5 460.1L74.5 454.5L76.5 449.0L78.5 443.5L80.5 438.0L82.5 431.6L84.5 425.1L86.5 415.4L88.5 405.6L90.5 396.1L92.5 387.1L94.5 378.1L96.5 369.1L98.5 358.5L100.5 346.4L102.5 342.7L104.5 342.4L106.5 342.4L108.5 344.3L110.5 347.6L112.5 351.6L114.5 355.5L116.5 358.7L118.5 360.3L120.5 359.9L122.5 357.6L124.5 354.0L126.5 349.3L128.5 343.9L130.5 338.2L132.5 332.4L134.5 327.1L136.5 322.5L138.5 319.0L140.5 317.0L142.5 316.6L144.5 316.8L146.5 317.7L148.5 319.0L150.5 320.6L152.5 322.4L154.5 324.9L156.5 328.5L158.5 332.7L160.5 341.1L162.5 349.4L164.5 357.3L166.5 364.8L168.5 371.9L170.5 378.4L172.5 384.6L174.5 390.4L176.5 396.0L178.5 401.5L180.5 407.0L182.5 412.4L184.5 417.9L186.5 423.5L188.5 428.6L190.5 432.7L192.5 435.7L194.5 437.5L196.5 438.2L198.5 438.3L200.5 439.1L202.5 441.4L204.5 444.3L206.5 446.9L208.5 449.5L210.5 451.9L212.5 454.1L214.5 456.3L216.5 458.4L218.5 460.4L220.5 462.2L222.5 463.8L224.5 465.2L226.5 466.3L228.5 467.2L230.5 467.8L232.5 468.2L234.5 468.2L236.5 467.9L238.5 467.3L240.5 466.3L242.5 464.9L244.5 463.0L246.5 460.4L248.5 457.1L250.5 453.1L252.5 448.6L254.5 443.8L256.5 439.3L258.5 435.9L260.5 435.3L262.5 436.6L264.5 442.2L266.5 450.6L268.5 460.6L270.5 471.5L272.5 482.8L274.5 494.0L276.5 505.2L278.5 505.5L280.5 505.5L282.5 505.5L284.5 505.5L286.5 505.5L288.5 505.5L290.5 505.5L292.5 505.5L294.5 505.5L296.5 505.5L298.5 505.5L300.5 505.5L302.5 505.5L304.5 505.5L306.5 505.5L308.5 505.5L310.5 505.5L312.5 505.5L314.5 505.5L316.5 505.5L318.5 505.5L320.5 505.5L322.5 505.5L324.5 505.5L326.5 505.5L328.5 505.5L330.5 505.5L332.5 505.5L334.5 505.5L336.5 505.5L338.5 505.5L340.5 505.5L342.5 505.5L344.5 505.5L346.5 505.5L348.5 505.5L350.5 505.5L352.5 505.5L354.5 505.5L356.5 505.5L358.5 505.5L360.5 505.5L362.5 505.5L364.5 505.5L366.5 505.5L368.5 505.5L370.5 505.5L372.5 505.5L374.5 505.5L376.5 505.5L378.5 505.5L380.5 505.5L382.5 505.5L384.5 505.5L386.5 505.5L388.5 505.5L390.5 505.5L392.5 505.5L394.5 505.5L396.5 505.5L398.5 505.5L400.5 505.5L402.5 505.5L404.5 505.5L406.5 505.5L408.5 505.5L410.5 505.5L412.5 505.5L414.5 505.5L416.5 505.5L418.5 505.5L420.5 505.5L422.5 505.5L424.5 505.5L426.5 505.5L428.5 505.5L430.5 505.5L432.5 505.5L434.5 505.5L436.5 505.5L438.5 505.5L440.5 505.5L442.5 505.5L444.5 505.5L446.5 505.5L448.5 505.5L450.5 505.5L452.5 505.5L454.5 505.5L456.5 505.5L458.5 505.5L460.5 505.5L462.5 505.5L464.5 505.5L466.5 505.5L468.5 505.5L470.5 505.5L472.5 505.5L474.5 505.5L476.5 505.5L478.5 505.5L480.5 505.5L482.5 505.5L484.5 505.5L486.5 505.5L488.5 505.5L490.5 505.5L492.5 505.5L494.5 505.5L496.5 505.5L498.5 505.5L500.5 505.5L502.5 505.5L504.5 505.5L506.5 505.5L508.5 505.5L510.5 505.5L512.5 505.5L514.5 505.5L516.5 505.5L518.5 505.5L520.5 505.5L522.5 505.5L524.5 505.5L526.5 505.5L528.5 505.5L530.5 505.5L532.5 505.5L534.5 505.5L536.5 505.5L538.5 505.5L540.5 505.5L542.5 505.5L544.5 505.5L546.5 505.5L548.5 505.5L550.5 505.5L552.5 505.5L554.5 505.5L556.5 505.5L558.5 505.5L560.5 505.5L562.5 505.5L564.5 505.5L566.5 505.5L568.5 505.5L570.5 505.5L572.5 505.5L574.5 505.5L576.5 505.5L578.5 505.5L580.5 505.5L582.5 505.5L584.5 505.5L586.5 505.5L588.5 505.5L590.5 505.5L592.5 505.5L594.5 505.5L596.5 505.5L598.5 505.5L600.5 505.5L602.5 505.5L604.5 505.5L606.5 505.5L608.5 505.5L610.5 505.5L612.5 505.5L614.5 505.5L616.5 505.5L618.5 505.5L620.5 505.5L622.5 505.5L624.5 505.5L626.5 505.5L628.5 505.5L630.5 505.5L632.5 505.5L634.5 505.5L636.5 505.5L638.5 505.5L640.5 505.5L642.5 505.5L644.5 505.5L646.5 505.5L648.5 505.5L650.5 505.5L652.5 505.5L654.5 505.5L656.5 505.5L658.5 505.5L660.5 505.5L662.5 505.5L664.5 505.5L666.5 505.5L668.5 505.5L670.5 505.5L672.5 505.5L674.5 505.5L676.5 505.5L678.5 505.5L680.5 505.5L682.5 505.5L684.5 505.5L686.5 505.5L688.5 505.5L690.5 505.5L692.5 505.5L694.5 505.5L696.5 505.5L698.5 505.5L700.5 505.5L702.5 505.5L704.5 505.5L706.5 505.5L708.5 505.5L710.5 505.5L712.5 505.5L714.5 505.5L716.5 505.5L718.5 505.5L720.5 505.5L722.5 505.5L724.5 505.5L726.5 505.5L728.5 505.5L730.5 505.5L732.5 505.5L734.5 505.5L736.5 505.5L738.5 505.5L740.5 505.5L742.5 505.5L744.5 505.5L746.5 505.5L748.5 505.5L750.5 505.5L752.5 505.5L754.5 505.5L756.5 505.5L758.5 505.5L760.5 505.5L762.5 505.5L764.5 505.5L766.5 505.5L768.5 505.5L770.5 505.5L772.5 505.5L774.5 505.5L776.5 505.5L778.5 505.5L780.5 505.5L782.5 505.5L784.5 505.5L786.5 505.5L788.5 505.5L790.5 505.5L792.5 505.5L794.5 505.5L796.5 505.5L798.5 505.5L800.5 505.5L802.5 505.5L804.5 505.5L806.5 505.5L808.5 505.5L810.5 505.5L812.5 505.5L814.5 505.5L816.5 505.5L818.5 505.5L820.5 505.5L822.5 505.5L824.5 505.5L826.5 505.5L828.5 505.5L830.5 505.5L832.5 505.5L834.5 505.5L836.0 505.5L836.0 505.5L112 505.5L112 505.5L40.5 505.5Z" fill="#0055ff"/><path d="M40.5 505.5L40.5 499.5L42.5 499.1L44.5 498.5L46.5 498.0L48.5 497.5L50.5 497.0L52.5 496.5L54.5 496.1L56.5 494.5L58.5 492.6L60.5 489.5L62.5 486.3L64.5 482.8L66.5 477.8L68.5 472.9L70.5 466.6L72.5 460.1L74.5 454.5L76.5 449.0L78.5 443.5L80.5 438.0L82.5 431.6L84.5 425.1L86.5 415.4L88.5 405.6L90.5 396.1L92.5 387.1L94.5 378.1L96.5 369.1L98.5 358.5L100.5 346.4L102.5 342.7L104.5 342.4L106.5 342.4L108.5 344.3L110.5 347.6L112.5 351.6L114.5 355.5L116.5 358.7L118.5 360.3L120.5 359.9L122.5 357.6L124.5 354.0L126.5 349.3L128.5 343.9L130.5 338.2L132.5 332.4L134.5 327.1L136.5 322.5L138.5 319.0L140.5 317.0L142.5 316.6L144.5 316.8L146.5 317.7L148.5 319.0L150.5 320.6L152.5 322.4L154.5 324.9L156.5 328.5L158.5 332.7L160.5 341.1L162.5 349.4L164.5 357.3L166.5 364.8L168.5 371.9L170.5 378.4L172.5 384.6L174.5 390.4L176.5 396.0L178.5 401.5L180.5 407.0L182.5 412.4L184.5 417.9L186.5 423.5L188.5 428.6L190.5 432.7L192.5 435.7L194.5 437.5L196.5 438.2L198.5 438.3L200.5 439.1L202.5 441.4L204.5 444.3L206.5 446.9L208.5 449.5L210.5 451.9L212.5 454.1L214.5 456.3L216.5 458.4L218.5 460.4L220.5 462.2L222.5 463.8L224.5 465.2L226.5 466.3L228.5 467.2L230.5 467.8L232.5 468.2L234.5 468.2L236.5 467.9L238.5 467.3L240.5 466.3L242.5 464.9L244.5 463.0L246.5 460.4L248.5 457.1L250.5 453.1L252.5 448.6L254.5 443.8L256.5 439.3L258.5 435.9L260.5 435.3L262.5 436.6L264.5 442.2L266.5 450.6L268.5 460.6L270.5 471.5L272.5 482.8L274.5 494.0L276.5 505.2L276.5 505.5" fill="none" stroke="#000" stroke-width="1" stroke-linejoin="round"/><path d="M40.4 507.0L40.4 499.5L42.4 499.1L44.4 498.6L46.4 498.0L48.4 497.5L50.4 497.0L52.4 496.6L54.4 496.1L56.4 494.6L58.4 492.8L60.4 489.7L62.4 486.5L64.4 483.1L66.4 478.2L68.4 473.2L70.4 467.0L72.4 460.5L74.4 454.8L76.4 449.3L78.4 443.8L80.4 438.3L82.4 432.1L84.4 425.6L86.4 416.1L88.4 406.2L90.4 396.6L92.4 387.6L94.4 378.5L96.4 369.5L98.4 359.0L100.4 348.5L102.4 347.3L104.4 347.0L106.4 347.6L108.4 350.1L110.4 353.9L112.4 358.3L114.4 362.5L116.4 365.8L118.4 367.5L120.4 367.1L122.4 364.9L124.4 361.4L126.4 356.8L128.4 351.4L130.4 345.7L132.4 339.9L134.4 334.4L136.4 329.5L138.4 325.6L140.4 323.0L142.4 322.1L144.4 322.3L146.4 323.0L148.4 324.2L150.4 325.9L152.4 327.7L154.4 329.9L156.4 333.5L158.4 337.7L160.4 344.7L162.4 353.4L164.4 361.1L166.4 368.4L168.4 375.4L170.4 381.9L172.4 388.0L174.4 393.9L176.4 399.4L178.4 404.9L180.4 410.3L182.4 415.8L184.4 421.4L186.4 427.1L188.4 432.5L190.4 437.1L192.4 440.9L194.4 443.6L196.4 445.0L198.4 445.7L200.4 446.3L202.4 448.8L204.4 451.8L206.4 454.7L208.4 457.5L210.4 460.3L212.4 462.8L214.4 465.2L216.4 467.6L218.4 469.9L220.4 472.0L222.4 473.8L224.4 475.4L226.4 476.7L228.4 477.7L230.4 478.5L232.4 479.0L234.4 479.1L236.4 478.8L238.4 478.1L240.4 477.2L242.4 475.9L244.4 474.0L246.4 471.4L248.4 468.2L250.4 464.2L252.4 459.6L254.4 454.6L256.4 449.8L258.4 446.2L260.4 444.6L262.4 445.4L264.4 449.9L266.4 457.5L268.4 467.1L270.4 477.8L272.4 489.0L274.4 500.3L276.4 507.0L278.4 507.0L280.4 507.0L282.4 507.0L284.4 507.0L286.4 507.0L288.4 507.0L290.4 507.0L292.4 507.0L294.4 507.0L296.4 507.0L298.4 507.0L300.4 507.0L302.4 507.0L304.4 507.0L306.4 507.0L308.4 507.0L310.4 507.0L312.4 507.0L314.4 507.0L316.4 507.0L318.4 507.0L320.4 507.0L322.4 507.0L324.4 507.0L326.4 507.0L328.4 507.0L330.4 507.0L332.4 507.0L334.4 507.0L336.4 507.0L338.4 507.0L340.4 507.0L342.4 507.0L344.4 507.0L346.4 507.0L348.4 507.0L350.4 507.0L352.4 507.0L354.4 507.0L356.4 507.0L358.4 507.0L360.4 507.0L362.4 507.0L364.4 507.0L366.4 507.0L368.4 507.0L370.4 507.0L372.4 507.0L374.4 507.0L376.4 507.0L378.4 507.0L380.4 507.0L382.4 507.0L384.4 507.0L386.4 507.0L388.4 507.0L390.4 507.0L392.4 507.0L394.4 507.0L396.4 507.0L398.4 507.0L400.4 507.0L402.4 507.0L404.4 507.0L406.4 507.0L408.4 507.0L410.4 507.0L412.4 507.0L414.4 507.0L416.4 507.0L418.4 507.0L420.4 507.0L422.4 507.0L424.4 507.0L426.4 507.0L428.4 507.0L430.4 507.0L432.4 507.0L434.4 507.0L436.4 507.0L438.4 507.0L440.4 507.0L442.4 507.0L444.4 507.0L446.4 507.0L448.4 507.0L450.4 507.0L452.4 507.0L454.4 507.0L456.4 507.0L458.4 507.0L460.4 507.0L462.4 507.0L464.4 507.0L466.4 507.0L468.4 507.0L470.4 507.0L472.4 507.0L474.4 507.0L476.4 507.0L478.4 507.0L480.4 507.0L482.4 507.0L484.4 507.0L486.4 507.0L488.4 507.0L490.4 507.0L492.4 507.0L494.4 507.0L496.4 507.0L498.4 507.0L500.4 507.0L502.4 507.0L504.4 507.0L506.4 507.0L508.4 507.0L510.4 507.0L512.4 507.0L514.4 507.0L516.4 507.0L518.4 507.0L520.4 507.0L522.4 507.0L524.4 507.0L526.4 507.0L528.4 507.0L530.4 507.0L532.4 507.0L534.4 507.0L536.4 507.0L538.4 507.0L540.4 507.0L542.4 507.0L544.4 507.0L546.4 507.0L548.4 507.0L550.4 507.0L552.4 507.0L554.4 507.0L556.4 507.0L558.4 507.0L560.4 507.0L562.4 507.0L564.4 507.0L566.4 507.0L568.4 507.0L570.4 507.0L572.4 507.0L574.4 507.0L576.4 507.0L578.4 507.0L580.4 507.0L582.4 507.0L584.4 507.0L586.4 507.0L588.4 507.0L590.4 507.0L592.4 507.0L594.4 507.0L596.4 507.0L598.4 507.0L600.4 507.0L602.4 507.0L604.4 507.0L606.4 507.0L608.4 507.0L610.4 507.0L612.4 507.0L614.4 507.0L616.4 507.0L618.4 507.0L620.4 507.0L622.4 507.0L624.4 507.0L626.4 507.0L628.4 507.0L630.4 507.0L632.4 507.0L634.4 507.0L636.4 507.0L638.4 507.0L640.4 507.0L642.4 507.0L644.4 507.0L646.4 507.0L648.4 507.0L650.4 507.0L652.4 507.0L654.4 507.0L656.4 507.0L658.4 507.0L660.4 507.0L662.4 507.0L664.4 507.0L666.4 507.0L668.4 507.0L670.4 507.0L672.4 507.0L674.4 507.0L676.4 507.0L678.4 507.0L680.4 507.0L682.4 507.0L684.4 507.0L686.4 507.0L688.4 507.0L690.4 507.0L692.4 507.0L694.4 507.0L696.4 507.0L698.4 507.0L700.4 507.0L702.4 507.0L704.4 507.0L706.4 507.0L708.4 507.0L710.4 507.0L712.4 507.0L714.4 507.0L716.4 507.0L718.4 507.0L720.4 507.0L722.4 507.0L724.4 507.0L726.4 507.0L728.4 507.0L730.4 507.0L732.4 507.0L734.4 507.0L736.4 507.0L738.4 507.0L740.4 507.0L742.4 507.0L744.4 507.0L746.4 507.0L748.4 507.0L750.4 507.0L752.4 507.0L754.4 507.0L756.4 507.0L758.4 507.0L760.4 507.0L762.4 507.0L764.4 507.0L766.4 507.0L768.4 507.0L770.4 507.0L772.4 507.0L774.4 507.0L776.4 507.0L778.4 507.0L780.4 507.0L782.4 507.0L784.4 507.0L786.4 507.0L788.4 507.0L790.4 507.0L792.4 507.0L794.4 507.0L796.4 507.0L798.4 507.0L800.4 507.0L802.4 507.0L804.4 507.0L806.4 507.0L808.4 507.0L810.4 507.0L812.4 507.0L814.4 507.0L816.4 507.0L818.4 507.0L820.4 507.0L822.4 507.0L824.4 507.0L826.4 507.0L828.4 507.0L830.4 507.0L832.4 507.0L834.4 507.0L836.4 507.0L838.4 507.0L838.7 507.0L838.7 507.0L112 507.0L112 507.0L40.4 507.0Z" fill="#0055ff"/><path d="M40.4 507.0L40.4 499.5L42.4 499.1L44.4 498.6L46.4 498.0L48.4 497.5L50.4 497.0L52.4 496.6L54.4 496.1L56.4 494.6L58.4 492.8L60.4 489.7L62.4 486.5L64.4 483.1L66.4 478.2L68.4 473.2L70.4 467.0L72.4 460.5L74.4 454.8L76.4 449.3L78.4 443.8L80.4 438.3L82.4 432.1L84.4 425.6L86.4 416.1L88.4 406.2L90.4 396.6L92.4 387.6L94.4 378.5L96.4 369.5L98.4 359.0L100.4 348.5L102.4 347.3L104.4 347.0L106.4 347.6L108.4 350.1L110.4 353.9L112.4 358.3L114.4 362.5L116.4 365.8L118.4 367.5L120.4 367.1L122.4 364.9L124.4 361.4L126.4 356.8L128.4 351.4L130.4 345.7L132.4 339.9L134.4 334.4L136.4 329.5L138.4 325.6L140.4 323.0L142.4 322.1L144.4 322.3L146.4 323.0L148.4 324.2L150.4 325.9L152.4 327.7L154.4 329.9L156.4 333.5L158.4 337.7L160.4 344.7L162.4 353.4L164.4 361.1L166.4 368.4L168.4 375.4L170.4 381.9L172.4 388.0L174.4 393.9L176.4 399.4L178.4 404.9L180.4 410.3L182.4 415.8L184.4 421.4L186.4 427.1L188.4 432.5L190.4 437.1L192.4 440.9L194.4 443.6L196.4 445.0L198.4 445.7L200.4 446.3L202.4 448.8L204.4 451.8L206.4 454.7L208.4 457.5L210.4 460.3L212.4 462.8L214.4 465.2L216.4 467.6L218.4 469.9L220.4 472.0L222.4 473.8L224.4 475.4L226.4 476.7L228.4 477.7L230.4 478.5L232.4 479.0L234.4 479.1L236.4 478.8L238.4 478.1L240.4 477.2L242.4 475.9L244.4 474.0L246.4 471.4L248.4 468.2L250.4 464.2L252.4 459.6L254.4 454.6L256.4 449.8L258.4 446.2L260.4 444.6L262.4 445.4L264.4 449.9L266.4 457.5L268.4 467.1L270.4 477.8L272.4 489.0L274.4 500.3L275.6 507.0" fill="none" stroke="#000" stroke-width="1" stroke-linejoin="round"/><path d="M40.4 508.5L40.4 499.5L42.4 499.1L44.4 498.6L46.4 498.1L48.4 497.5L50.4 497.1L52.4 496.6L54.4 496.1L56.4 494.7L58.4 492.9L60.4 489.9L62.4 486.8L64.4 483.5L66.4 478.5L68.4 473.5L70.4 467.5L72.4 461.0L74.4 455.2L76.4 449.7L78.4 444.2L80.4 438.7L82.4 432.5L84.4 426.0L86.4 416.7L88.4 406.8L90.4 397.1L92.4 388.0L94.4 378.9L96.4 369.9L98.4 359.6L100.4 352.8L102.4 352.2L104.4 352.0L106.4 353.2L108.4 355.9L110.4 359.5L112.4 363.6L114.4 367.6L116.4 370.8L118.4 372.7L120.4 372.8L122.4 371.1L124.4 368.0L126.4 363.7L128.4 358.6L130.4 353.0L132.4 347.3L134.4 341.7L136.4 336.6L138.4 332.4L140.4 329.3L142.4 327.7L144.4 327.7L146.4 328.1L148.4 329.3L150.4 331.0L152.4 332.8L154.4 334.9L156.4 338.0L158.4 342.4L160.4 348.5L162.4 357.0L164.4 364.6L166.4 371.8L168.4 378.6L170.4 385.1L172.4 391.2L174.4 397.0L176.4 402.6L178.4 408.0L180.4 413.4L182.4 418.9L184.4 424.5L186.4 430.4L188.4 436.0L190.4 441.0L192.4 445.4L194.4 448.9L196.4 451.4L198.4 452.5L200.4 453.6L202.4 456.0L204.4 459.2L206.4 462.4L208.4 465.6L210.4 468.7L212.4 471.5L214.4 474.3L216.4 477.0L218.4 479.7L220.4 482.1L222.4 484.2L224.4 486.0L226.4 487.5L228.4 488.8L230.4 489.7L232.4 490.3L234.4 490.5L236.4 490.1L238.4 489.5L240.4 488.7L242.4 487.4L244.4 485.5L246.4 483.0L248.4 479.7L250.4 475.7L252.4 471.0L254.4 465.9L256.4 460.8L258.4 456.6L260.4 454.4L262.4 454.7L264.4 457.8L266.4 464.8L268.4 474.0L270.4 484.4L272.4 495.5L274.4 506.8L276.4 508.5L278.4 508.5L280.4 508.5L282.4 508.5L284.4 508.5L286.4 508.5L288.4 508.5L290.4 508.5L292.4 508.5L294.4 508.5L296.4 508.5L298.4 508.5L300.4 508.5L302.4 508.5L304.4 508.5L306.4 508.5L308.4 508.5L310.4 508.5L312.4 508.5L314.4 508.5L316.4 508.5L318.4 508.5L320.4 508.5L322.4 508.5L324.4 508.5L326.4 508.5L328.4 508.5L330.4 508.5L332.4 508.5L334.4 508.5L336.4 508.5L338.4 508.5L340.4 508.5L342.4 508.5L344.4 508.5L346.4 508.5L348.4 508.5L350.4 508.5L352.4 508.5L354.4 508.5L356.4 508.5L358.4 508.5L360.4 508.5L362.4 508.5L364.4 508.5L366.4 508.5L368.4 508.5L370.4 508.5L372.4 508.5L374.4 508.5L376.4 508.5L378.4 508.5L380.4 508.5L382.4 508.5L384.4 508.5L386.4 508.5L388.4 508.5L390.4 508.5L392.4 508.5L394.4 508.5L396.4 508.5L398.4 508.5L400.4 508.5L402.4 508.5L404.4 508.5L406.4 508.5L408.4 508.5L410.4 508.5L412.4 508.5L414.4 508.5L416.4 508.5L418.4 508.5L420.4 508.5L422.4 508.5L424.4 508.5L426.4 508.5L428.4 508.5L430.4 508.5L432.4 508.5L434.4 508.5L436.4 508.5L438.4 508.5L440.4 508.5L442.4 508.5L444.4 508.5L446.4 508.5L448.4 508.5L450.4 508.5L452.4 508.5L454.4 508.5L456.4 508.5L458.4 508.5L460.4 508.5L462.4 508.5L464.4 508.5L466.4 508.5L468.4 508.5L470.4 508.5L472.4 508.5L474.4 508.5L476.4 508.5L478.4 508.5L480.4 508.5L482.4 508.5L484.4 508.5L486.4 508.5L488.4 508.5L490.4 508.5L492.4 508.5L494.4 508.5L496.4 508.5L498.4 508.5L500.4 508.5L502.4 508.5L504.4 508.5L506.4 508.5L508.4 508.5L510.4 508.5L512.4 508.5L514.4 508.5L516.4 508.5L518.4 508.5L520.4 508.5L522.4 508.5L524.4 508.5L526.4 508.5L528.4 508.5L530.4 508.5L532.4 508.5L534.4 508.5L536.4 508.5L538.4 508.5L540.4 508.5L542.4 508.5L544.4 508.5L546.4 508.5L548.4 508.5L550.4 508.5L552.4 508.5L554.4 508.5L556.4 508.5L558.4 508.5L560.4 508.5L562.4 508.5L564.4 508.5L566.4 508.5L568.4 508.5L570.4 508.5L572.4 508.5L574.4 508.5L576.4 508.5L578.4 508.5L580.4 508.5L582.4 508.5L584.4 508.5L586.4 508.5L588.4 508.5L590.4 508.5L592.4 508.5L594.4 508.5L596.4 508.5L598.4 508.5L600.4 508.5L602.4 508.5L604.4 508.5L606.4 508.5L608.4 508.5L610.4 508.5L612.4 508.5L614.4 508.5L616.4 508.5L618.4 508.5L620.4 508.5L622.4 508.5L624.4 508.5L626.4 508.5L628.4 508.5L630.4 508.5L632.4 508.5L634.4 508.5L636.4 508.5L638.4 508.5L640.4 508.5L642.4 508.5L644.4 508.5L646.4 508.5L648.4 508.5L650.4 508.5L652.4 508.5L654.4 508.5L656.4 508.5L658.4 508.5L660.4 508.5L662.4 508.5L664.4 508.5L666.4 508.5L668.4 508.5L670.4 508.5L672.4 508.5L674.4 508.5L676.4 508.5L678.4 508.5L680.4 508.5L682.4 508.5L684.4 508.5L686.4 508.5L688.4 508.5L690.4 508.5L692.4 508.5L694.4 508.5L696.4 508.5L698.4 508.5L700.4 508.5L702.4 508.5L704.4 508.5L706.4 508.5L708.4 508.5L710.4 508.5L712.4 508.5L714.4 508.5L716.4 508.5L718.4 508.5L720.4 508.5L722.4 508.5L724.4 508.5L726.4 508.5L728.4 508.5L730.4 508.5L732.4 508.5L734.4 508.5L736.4 508.5L738.4 508.5L740.4 508.5L742.4 508.5L744.4 508.5L746.4 508.5L748.4 508.5L750.4 508.5L752.4 508.5L754.4 508.5L756.4 508.5L758.4 508.5L760.4 508.5L762.4 508.5L764.4 508.5L766.4 508.5L768.4 508.5L770.4 508.5L772.4 508.5L774.4 508.5L776.4 508.5L778.4 508.5L780.4 508.5L782.4 508.5L784.4 508.5L786.4 508.5L788.4 508.5L790.4 508.5L792.4 508.5L794.4 508.5L796.4 508.5L798.4 508.5L800.4 508.5L802.4 508.5L804.4 508.5L806.4 508.5L808.4 508.5L810.4 508.5L812.4 508.5L814.4 508.5L816.4 508.5L818.4 508.5L820.4 508.5L822.4 508.5L824.4 508.5L826.4 508.5L828.4 508.5L830.4 508.5L832.4 508.5L834.4 508.5L836.4 508.5L838.4 508.5L840.4 508.5L841.4 508.5L841.4 508.5L112 508.5L112 508.5L40.4 508.5Z" fill="#0055ff"/><path d="M40.4 508.5L40.4 499.5L42.4 499.1L44.4 498.6L46.4 498.1L48.4 497.5L50.4 497.1L52.4 496.6L54.4 496.1L56.4 494.7L58.4 492.9L60.4 489.9L62.4 486.8L64.4 483.5L66.4 478.5L68.4 473.5L70.4 467.5L72.4 461.0L74.4 455.2L76.4 449.7L78.4 444.2L80.4 438.7L82.4 432.5L84.4 426.0L86.4 416.7L88.4 406.8L90.4 397.1L92.4 388.0L94.4 378.9L96.4 369.9L98.4 359.6L100.4 352.8L102.4 352.2L104.4 352.0L106.4 353.2L108.4 355.9L110.4 359.5L112.4 363.6L114.4 367.6L116.4 370.8L118.4 372.7L120.4 372.8L122.4 371.1L124.4 368.0L126.4 363.7L128.4 358.6L130.4 353.0L132.4 347.3L134.4 341.7L136.4 336.6L138.4 332.4L140.4 329.3L142.4 327.7L144.4 327.7L146.4 328.1L148.4 329.3L150.4 331.0L152.4 332.8L154.4 334.9L156.4 338.0L158.4 342.4L160.4 348.5L162.4 357.0L164.4 364.6L166.4 371.8L168.4 378.6L170.4 385.1L172.4 391.2L174.4 397.0L176.4 402.6L178.4 408.0L180.4 413.4L182.4 418.9L184.4 424.5L186.4 430.4L188.4 436.0L190.4 441.0L192.4 445.4L194.4 448.9L196.4 451.4L198.4 452.5L200.4 453.6L202.4 456.0L204.4 459.2L206.4 462.4L208.4 465.6L210.4 468.7L212.4 471.5L214.4 474.3L216.4 477.0L218.4 479.7L220.4 482.1L222.4 484.2L224.4 486.0L226.4 487.5L228.4 488.8L230.4 489.7L232.4 490.3L234.4 490.5L236.4 490.1L238.4 489.5L240.4 488.7L242.4 487.4L244.4 485.5L246.4 483.0L248.4 479.7L250.4 475.7L252.4 471.0L254.4 465.9L256.4 460.8L258.4 456.6L260.4 454.4L262.4 454.7L264.4 457.8L266.4 464.8L268.4 474.0L270.4 484.4L272.4 495.5L274.4 506.8L274.7 508.5" fill="none" stroke="#000" stroke-width="1" stroke-linejoin="round"/><path d="M40.4 510.0L40.4 499.5L42.4 499.2L44.4 498.6L46.4 498.1L48.4 497.6L50.4 497.1L52.4 496.6L54.4 496.2L56.4 494.8L58.4 493.0L60.4 490.2L62.4 487.0L64.4 483.8L66.4 478.8L68.4 473.8L70.4 467.9L72.4 461.4L74.4 455.5L76.4 450.0L78.4 444.5L80.4 439.0L82.4 432.9L84.4 426.4L86.4 417.4L88.4 407.4L90.4 397.6L92.4 388.5L94.4 379.4L96.4 370.3L98.4 360.5L100.4 357.5L102.4 357.1L104.4 357.2L106.4 358.8L108.4 361.7L110.4 365.4L112.4 369.4L114.4 373.1L116.4 376.2L118.4 378.0L120.4 378.1L122.4 376.6L124.4 373.6L126.4 369.6L128.4 364.8L130.4 359.5L132.4 353.9L134.4 348.5L136.4 343.4L138.4 339.1L140.4 335.7L142.4 333.6L144.4 333.0L146.4 333.4L148.4 334.4L150.4 335.9L152.4 337.8L154.4 339.9L156.4 342.6L158.4 346.5L160.4 352.5L162.4 360.2L164.4 367.9L166.4 374.9L168.4 381.6L170.4 388.0L172.4 394.1L174.4 399.9L176.4 405.5L178.4 410.9L180.4 416.3L182.4 421.8L184.4 427.5L186.4 433.4L188.4 439.1L190.4 444.5L192.4 449.5L194.4 453.8L196.4 457.0L198.4 459.0L200.4 460.7L202.4 463.0L204.4 466.6L206.4 470.2L208.4 473.7L210.4 477.1L212.4 480.4L214.4 483.6L216.4 486.7L218.4 489.8L220.4 492.7L222.4 495.2L224.4 497.3L226.4 499.1L228.4 500.5L230.4 501.7L232.4 502.5L234.4 502.6L236.4 502.1L238.4 501.5L240.4 500.7L242.4 499.4L244.4 497.5L246.4 494.8L248.4 491.4L250.4 487.2L252.4 482.3L254.4 476.9L256.4 471.5L258.4 466.8L260.4 464.0L262.4 463.4L264.4 466.0L266.4 471.8L268.4 480.3L270.4 490.5L272.4 501.4L274.4 510.0L276.4 510.0L278.4 510.0L280.4 510.0L282.4 510.0L284.4 510.0L286.4 510.0L288.4 510.0L290.4 510.0L292.4 510.0L294.4 510.0L296.4 510.0L298.4 510.0L300.4 510.0L302.4 510.0L304.4 510.0L306.4 510.0L308.4 510.0L310.4 510.0L312.4 510.0L314.4 510.0L316.4 510.0L318.4 510.0L320.4 510.0L322.4 510.0L324.4 510.0L326.4 510.0L328.4 510.0L330.4 510.0L332.4 510.0L334.4 510.0L336.4 510.0L338.4 510.0L340.4 510.0L342.4 510.0L344.4 510.0L346.4 510.0L348.4 510.0L350.4 510.0L352.4 510.0L354.4 510.0L356.4 510.0L358.4 510.0L360.4 510.0L362.4 510.0L364.4 510.0L366.4 510.0L368.4 510.0L370.4 510.0L372.4 510.0L374.4 510.0L376.4 510.0L378.4 510.0L380.4 510.0L382.4 510.0L384.4 510.0L386.4 510.0L388.4 510.0L390.4 510.0L392.4 510.0L394.4 510.0L396.4 510.0L398.4 510.0L400.4 510.0L402.4 510.0L404.4 510.0L406.4 510.0L408.4 510.0L410.4 510.0L412.4 510.0L414.4 510.0L416.4 510.0L418.4 510.0L420.4 510.0L422.4 510.0L424.4 510.0L426.4 510.0L428.4 510.0L430.4 510.0L432.4 510.0L434.4 510.0L436.4 510.0L438.4 510.0L440.4 510.0L442.4 510.0L444.4 510.0L446.4 510.0L448.4 510.0L450.4 510.0L452.4 510.0L454.4 510.0L456.4 510.0L458.4 510.0L460.4 510.0L462.4 510.0L464.4 510.0L466.4 510.0L468.4 510.0L470.4 510.0L472.4 510.0L474.4 510.0L476.4 510.0L478.4 510.0L480.4 510.0L482.4 510.0L484.4 510.0L486.4 510.0L488.4 510.0L490.4 510.0L492.4 510.0L494.4 510.0L496.4 510.0L498.4 510.0L500.4 510.0L502.4 510.0L504.4 510.0L506.4 510.0L508.4 510.0L510.4 510.0L512.4 510.0L514.4 510.0L516.4 510.0L518.4 510.0L520.4 510.0L522.4 510.0L524.4 510.0L526.4 510.0L528.4 510.0L530.4 510.0L532.4 510.0L534.4 510.0L536.4 510.0L538.4 510.0L540.4 510.0L542.4 510.0L544.4 510.0L546.4 510.0L548.4 510.0L550.4 510.0L552.4 510.0L554.4 510.0L556.4 510.0L558.4 510.0L560.4 510.0L562.4 510.0L564.4 510.0L566.4 510.0L568.4 510.0L570.4 510.0L572.4 510.0L574.4 510.0L576.4 510.0L578.4 510.0L580.4 510.0L582.4 510.0L584.4 510.0L586.4 510.0L588.4 510.0L590.4 510.0L592.4 510.0L594.4 510.0L596.4 510.0L598.4 510.0L600.4 510.0L602.4 510.0L604.4 510.0L606.4 510.0L608.4 510.0L610.4 510.0L612.4 510.0L614.4 510.0L616.4 510.0L618.4 510.0L620.4 510.0L622.4 510.0L624.4 510.0L626.4 510.0L628.4 510.0L630.4 510.0L632.4 510.0L634.4 510.0L636.4 510.0L638.4 510.0L640.4 510.0L642.4 510.0L644.4 510.0L646.4 510.0L648.4 510.0L650.4 510.0L652.4 510.0L654.4 510.0L656.4 510.0L658.4 510.0L660.4 510.0L662.4 510.0L664.4 510.0L666.4 510.0L668.4 510.0L670.4 510.0L672.4 510.0L674.4 510.0L676.4 510.0L678.4 510.0L680.4 510.0L682.4 510.0L684.4 510.0L686.4 510.0L688.4 510.0L690.4 510.0L692.4 510.0L694.4 510.0L696.4 510.0L698.4 510.0L700.4 510.0L702.4 510.0L704.4 510.0L706.4 510.0L708.4 510.0L710.4 510.0L712.4 510.0L714.4 510.0L716.4 510.0L718.4 510.0L720.4 510.0L722.4 510.0L724.4 510.0L726.4 510.0L728.4 510.0L730.4 510.0L732.4 510.0L734.4 510.0L736.4 510.0L738.4 510.0L740.4 510.0L742.4 510.0L744.4 510.0L746.4 510.0L748.4 510.0L750.4 510.0L752.4 510.0L754.4 510.0L756.4 510.0L758.4 510.0L760.4 510.0L762.4 510.0L764.4 510.0L766.4 510.0L768.4 510.0L770.4 510.0L772.4 510.0L774.4 510.0L776.4 510.0L778.4 510.0L780.4 510.0L782.4 510.0L784.4 510.0L786.4 510.0L788.4 510.0L790.4 510.0L792.4 510.0L794.4 510.0L796.4 510.0L798.4 510.0L800.4 510.0L802.4 510.0L804.4 510.0L806.4 510.0L808.4 510.0L810.4 510.0L812.4 510.0L814.4 510.0L816.4 510.0L818.4 510.0L820.4 510.0L822.4 510.0L824.4 510.0L826.4 510.0L828.4 510.0L830.4 510.0L832.4 510.0L834.4 510.0L836.4 510.0L838.4 510.0L840.4 510.0L842.4 510.0L844.1 510.0L844.1 510.0L112 510.0L112 510.0L40.4 510.0Z" fill="#0055ff"/><path d="M40.4 510.0L40.4 499.5L42.4 499.2L44.4 498.6L46.4 498.1L48.4 497.6L50.4 497.1L52.4 496.6L54.4 496.2L56.4 494.8L58.4 493.0L60.4 490.2L62.4 487.0L64.4 483.8L66.4 478.8L68.4 473.8L70.4 467.9L72.4 461.4L74.4 455.5L76.4 450.0L78.4 444.5L80.4 439.0L82.4 432.9L84.4 426.4L86.4 417.4L88.4 407.4L90.4 397.6L92.4 388.5L94.4 379.4L96.4 370.3L98.4 360.5L100.4 357.5L102.4 357.1L104.4 357.2L106.4 358.8L108.4 361.7L110.4 365.4L112.4 369.4L114.4 373.1L116.4 376.2L118.4 378.0L120.4 378.1L122.4 376.6L124.4 373.6L126.4 369.6L128.4 364.8L130.4 359.5L132.4 353.9L134.4 348.5L136.4 343.4L138.4 339.1L140.4 335.7L142.4 333.6L144.4 333.0L146.4 333.4L148.4 334.4L150.4 335.9L152.4 337.8L154.4 339.9L156.4 342.6L158.4 346.5L160.4 352.5L162.4 360.2L164.4 367.9L166.4 374.9L168.4 381.6L170.4 388.0L172.4 394.1L174.4 399.9L176.4 405.5L178.4 410.9L180.4 416.3L182.4 421.8L184.4 427.5L186.4 433.4L188.4 439.1L190.4 444.5L192.4 449.5L194.4 453.8L196.4 457.0L198.4 459.0L200.4 460.7L202.4 463.0L204.4 466.6L206.4 470.2L208.4 473.7L210.4 477.1L212.4 480.4L214.4 483.6L216.4 486.7L218.4 489.8L220.4 492.7L222.4 495.2L224.4 497.3L226.4 499.1L228.4 500.5L230.4 501.7L232.4 502.5L234.4 502.6L236.4 502.1L238.4 501.5L240.4 500.7L242.4 499.4L244.4 497.5L246.4 494.8L248.4 491.4L250.4 487.2L252.4 482.3L254.4 476.9L256.4 471.5L258.4 466.8L260.4 464.0L262.4 463.4L264.4 466.0L266.4 471.8L268.4 480.3L270.4 490.5L272.4 501.4L273.9 510.0" fill="none" stroke="#000" stroke-width="1" stroke-linejoin="round"/><path d="M40.3 511.5L40.3 499.5L42.3 499.2L44.3 498.7L46.3 498.1L48.3 497.6L50.3 497.1L52.3 496.7L54.3 496.2L56.3 495.0L58.3 493.1L60.3 490.4L62.3 487.2L64.3 484.0L66.3 479.1L68.3 474.1L70.3 468.3L72.3 461.8L74.3 455.9L76.3 450.4L78.3 444.9L80.3 439.4L82.3 433.3L84.3 426.8L86.3 418.1L88.3 408.0L90.3 398.2L92.3 389.0L94.3 379.8L96.3 370.7L98.3 363.2L100.3 362.2L102.3 361.9L104.3 362.3L106.3 364.1L108.3 367.0L110.3 370.7L112.3 374.6L114.3 378.3L116.3 381.4L118.3 383.4L120.3 384.0L122.3 382.9L124.3 380.3L126.3 376.6L128.3 372.1L130.3 366.9L132.3 361.5L134.3 356.0L136.3 350.8L138.3 346.2L140.3 342.4L142.3 339.7L144.3 338.5L146.3 338.6L148.3 339.3L150.3 340.7L152.3 342.6L154.3 344.6L156.3 347.1L158.3 350.5L160.3 355.7L162.3 363.2L164.3 370.9L166.3 377.8L168.3 384.4L170.3 390.7L172.3 396.8L174.3 402.6L176.3 408.2L178.3 413.6L180.3 419.0L182.3 424.4L184.3 430.2L186.3 436.2L188.3 441.9L190.3 447.6L192.3 453.0L194.3 458.1L196.3 462.1L198.3 464.8L200.3 467.1L202.3 469.8L204.3 473.4L206.3 477.5L208.3 481.5L210.3 485.3L212.3 489.0L214.3 492.7L216.3 496.4L218.3 500.0L220.3 503.3L222.3 506.3L224.3 508.8L226.3 511.0L228.3 511.5L230.3 511.5L232.3 511.5L234.3 511.5L236.3 511.5L238.3 511.5L240.3 511.5L242.3 511.5L244.3 510.1L246.3 507.3L248.3 503.8L250.3 499.5L252.3 494.4L254.3 488.7L256.3 482.9L258.3 477.7L260.3 473.9L262.3 473.2L264.3 474.3L266.3 479.5L268.3 487.5L270.3 497.2L272.3 507.9L274.3 511.5L276.3 511.5L278.3 511.5L280.3 511.5L282.3 511.5L284.3 511.5L286.3 511.5L288.3 511.5L290.3 511.5L292.3 511.5L294.3 511.5L296.3 511.5L298.3 511.5L300.3 511.5L302.3 511.5L304.3 511.5L306.3 511.5L308.3 511.5L310.3 511.5L312.3 511.5L314.3 511.5L316.3 511.5L318.3 511.5L320.3 511.5L322.3 511.5L324.3 511.5L326.3 511.5L328.3 511.5L330.3 511.5L332.3 511.5L334.3 511.5L336.3 511.5L338.3 511.5L340.3 511.5L342.3 511.5L344.3 511.5L346.3 511.5L348.3 511.5L350.3 511.5L352.3 511.5L354.3 511.5L356.3 511.5L358.3 511.5L360.3 511.5L362.3 511.5L364.3 511.5L366.3 511.5L368.3 511.5L370.3 511.5L372.3 511.5L374.3 511.5L376.3 511.5L378.3 511.5L380.3 511.5L382.3 511.5L384.3 511.5L386.3 511.5L388.3 511.5L390.3 511.5L392.3 511.5L394.3 511.5L396.3 511.5L398.3 511.5L400.3 511.5L402.3 511.5L404.3 511.5L406.3 511.5L408.3 511.5L410.3 511.5L412.3 511.5L414.3 511.5L416.3 511.5L418.3 511.5L420.3 511.5L422.3 511.5L424.3 511.5L426.3 511.5L428.3 511.5L430.3 511.5L432.3 511.5L434.3 511.5L436.3 511.5L438.3 511.5L440.3 511.5L442.3 511.5L444.3 511.5L446.3 511.5L448.3 511.5L450.3 511.5L452.3 511.5L454.3 511.5L456.3 511.5L458.3 511.5L460.3 511.5L462.3 511.5L464.3 511.5L466.3 511.5L468.3 511.5L470.3 511.5L472.3 511.5L474.3 511.5L476.3 511.5L478.3 511.5L480.3 511.5L482.3 511.5L484.3 511.5L486.3 511.5L488.3 511.5L490.3 511.5L492.3 511.5L494.3 511.5L496.3 511.5L498.3 511.5L500.3 511.5L502.3 511.5L504.3 511.5L506.3 511.5L508.3 511.5L510.3 511.5L512.3 511.5L514.3 511.5L516.3 511.5L518.3 511.5L520.3 511.5L522.3 511.5L524.3 511.5L526.3 511.5L528.3 511.5L530.3 511.5L532.3 511.5L534.3 511.5L536.3 511.5L538.3 511.5L540.3 511.5L542.3 511.5L544.3 511.5L546.3 511.5L548.3 511.5L550.3 511.5L552.3 511.5L554.3 511.5L556.3 511.5L558.3 511.5L560.3 511.5L562.3 511.5L564.3 511.5L566.3 511.5L568.3 511.5L570.3 511.5L572.3 511.5L574.3 511.5L576.3 511.5L578.3 511.5L580.3 511.5L582.3 511.5L584.3 511.5L586.3 511.5L588.3 511.5L590.3 511.5L592.3 511.5L594.3 511.5L596.3 511.5L598.3 511.5L600.3 511.5L602.3 511.5L604.3 511.5L606.3 511.5L608.3 511.5L610.3 511.5L612.3 511.5L614.3 511.5L616.3 511.5L618.3 511.5L620.3 511.5L622.3 511.5L624.3 511.5L626.3 511.5L628.3 511.5L630.3 511.5L632.3 511.5L634.3 511.5L636.3 511.5L638.3 511.5L640.3 511.5L642.3 511.5L644.3 511.5L646.3 511.5L648.3 511.5L650.3 511.5L652.3 511.5L654.3 511.5L656.3 511.5L658.3 511.5L660.3 511.5L662.3 511.5L664.3 511.5L666.3 511.5L668.3 511.5L670.3 511.5L672.3 511.5L674.3 511.5L676.3 511.5L678.3 511.5L680.3 511.5L682.3 511.5L684.3 511.5L686.3 511.5L688.3 511.5L690.3 511.5L692.3 511.5L694.3 511.5L696.3 511.5L698.3 511.5L700.3 511.5L702.3 511.5L704.3 511.5L706.3 511.5L708.3 511.5L710.3 511.5L712.3 511.5L714.3 511.5L716.3 511.5L718.3 511.5L720.3 511.5L722.3 511.5L724.3 511.5L726.3 511.5L728.3 511.5L730.3 511.5L732.3 511.5L734.3 511.5L736.3 511.5L738.3 511.5L740.3 511.5L742.3 511.5L744.3 511.5L746.3 511.5L748.3 511.5L750.3 511.5L752.3 511.5L754.3 511.5L756.3 511.5L758.3 511.5L760.3 511.5L762.3 511.5L764.3 511.5L766.3 511.5L768.3 511.5L770.3 511.5L772.3 511.5L774.3 511.5L776.3 511.5L778.3 511.5L780.3 511.5L782.3 511.5L784.3 511.5L786.3 511.5L788.3 511.5L790.3 511.5L792.3 511.5L794.3 511.5L796.3 511.5L798.3 511.5L800.3 511.5L802.3 511.5L804.3 511.5L806.3 511.5L808.3 511.5L810.3 511.5L812.3 511.5L814.3 511.5L816.3 511.5L818.3 511.5L820.3 511.5L822.3 511.5L824.3 511.5L826.3 511.5L828.3 511.5L830.3 511.5L832.3 511.5L834.3 511.5L836.3 511.5L838.3 511.5L840.3 511.5L842.3 511.5L844.3 511.5L846.3 511.5L846.7 511.5L846.7 511.5L112 511.5L112 511.5L40.3 511.5Z" fill="#0055ff"/><path d="M40.3 511.5L40.3 499.5L42.3 499.2L44.3 498.7L46.3 498.1L48.3 497.6L50.3 497.1L52.3 496.7L54.3 496.2L56.3 495.0L58.3 493.1L60.3 490.4L62.3 487.2L64.3 484.0L66.3 479.1L68.3 474.1L70.3 468.3L72.3 461.8L74.3 455.9L76.3 450.4L78.3 444.9L80.3 439.4L82.3 433.3L84.3 426.8L86.3 418.1L88.3 408.0L90.3 398.2L92.3 389.0L94.3 379.8L96.3 370.7L98.3 363.2L100.3 362.2L102.3 361.9L104.3 362.3L106.3 364.1L108.3 367.0L110.3 370.7L112.3 374.6L114.3 378.3L116.3 381.4L118.3 383.4L120.3 384.0L122.3 382.9L124.3 380.3L126.3 376.6L128.3 372.1L130.3 366.9L132.3 361.5L134.3 356.0L136.3 350.8L138.3 346.2L140.3 342.4L142.3 339.7L144.3 338.5L146.3 338.6L148.3 339.3L150.3 340.7L152.3 342.6L154.3 344.6L156.3 347.1L158.3 350.5L160.3 355.7L162.3 363.2L164.3 370.9L166.3 377.8L168.3 384.4L170.3 390.7L172.3 396.8L174.3 402.6L176.3 408.2L178.3 413.6L180.3 419.0L182.3 424.4L184.3 430.2L186.3 436.2L188.3 441.9L190.3 447.6L192.3 453.0L194.3 458.1L196.3 462.1L198.3 464.8L200.3 467.1L202.3 469.8L204.3 473.4L206.3 477.5L208.3 481.5L210.3 485.3L212.3 489.0L214.3 492.7L216.3 496.4L218.3 500.0L220.3 503.3L222.3 506.3L224.3 508.8L226.3 511.0L226.9 511.5M242.9 511.5L244.3 510.1L246.3 507.3L248.3 503.8L250.3 499.5L252.3 494.4L254.3 488.7L256.3 482.9L258.3 477.7L260.3 473.9L262.3 473.2L264.3 474.3L266.3 479.5L268.3 487.5L270.3 497.2L272.3 507.9L273.0 511.5" fill="none" stroke="#000" stroke-width="1" stroke-linejoin="round"/><path d="M40.3 513.0L40.3 499.6L42.3 499.2L44.3 498.7L46.3 498.2L48.3 497.7L50.3 497.1L52.3 496.7L54.3 496.2L56.3 495.1L58.3 493.2L60.3 490.6L62.3 487.4L64.3 484.2L66.3 479.4L68.3 474.5L70.3 468.7L72.3 462.2L74.3 456.2L76.3 450.7L78.3 445.2L80.3 439.7L82.3 433.7L84.3 427.2L86.3 418.7L88.3 408.7L90.3 398.7L92.3 389.5L94.3 380.3L96.3 371.4L98.3 367.7L100.3 367.1L102.3 366.8L104.3 367.5L106.3 369.5L108.3 372.5L110.3 376.1L112.3 379.9L114.3 383.5L116.3 386.4L118.3 388.4L120.3 389.0L122.3 388.0L124.3 385.7L126.3 382.2L128.3 378.0L130.3 373.1L132.3 368.0L134.3 362.7L136.3 357.7L138.3 353.0L140.3 349.1L142.3 346.1L144.3 344.2L146.3 343.8L148.3 344.3L150.3 345.5L152.3 347.2L154.3 349.3L156.3 351.7L158.3 354.4L160.3 358.6L162.3 365.8L164.3 373.4L166.3 380.4L168.3 386.8L170.3 393.0L172.3 399.1L174.3 404.9L176.3 410.6L178.3 416.1L180.3 421.4L182.3 426.9L184.3 432.6L186.3 438.5L188.3 444.4L190.3 450.3L192.3 456.1L194.3 461.6L196.3 466.1L198.3 469.6L200.3 472.7L202.3 475.9L204.3 479.7L206.3 484.2L208.3 488.6L210.3 492.8L212.3 497.0L214.3 501.3L216.3 505.6L218.3 509.8L220.3 513.0L222.3 513.0L224.3 513.0L226.3 513.0L228.3 513.0L230.3 513.0L232.3 513.0L234.3 513.0L236.3 513.0L238.3 513.0L240.3 513.0L242.3 513.0L244.3 513.0L246.3 513.0L248.3 513.0L250.3 511.7L252.3 506.4L254.3 500.4L256.3 494.3L258.3 488.6L260.3 484.2L262.3 482.2L264.3 483.3L266.3 487.1L268.3 494.3L270.3 503.7L272.3 513.0L274.3 513.0L276.3 513.0L278.3 513.0L280.3 513.0L282.3 513.0L284.3 513.0L286.3 513.0L288.3 513.0L290.3 513.0L292.3 513.0L294.3 513.0L296.3 513.0L298.3 513.0L300.3 513.0L302.3 513.0L304.3 513.0L306.3 513.0L308.3 513.0L310.3 513.0L312.3 513.0L314.3 513.0L316.3 513.0L318.3 513.0L320.3 513.0L322.3 513.0L324.3 513.0L326.3 513.0L328.3 513.0L330.3 513.0L332.3 513.0L334.3 513.0L336.3 513.0L338.3 513.0L340.3 513.0L342.3 513.0L344.3 513.0L346.3 513.0L348.3 513.0L350.3 513.0L352.3 513.0L354.3 513.0L356.3 513.0L358.3 513.0L360.3 513.0L362.3 513.0L364.3 513.0L366.3 513.0L368.3 513.0L370.3 513.0L372.3 513.0L374.3 513.0L376.3 513.0L378.3 513.0L380.3 513.0L382.3 513.0L384.3 513.0L386.3 513.0L388.3 513.0L390.3 513.0L392.3 513.0L394.3 513.0L396.3 513.0L398.3 513.0L400.3 513.0L402.3 513.0L404.3 513.0L406.3 513.0L408.3 513.0L410.3 513.0L412.3 513.0L414.3 513.0L416.3 513.0L418.3 513.0L420.3 513.0L422.3 513.0L424.3 513.0L426.3 513.0L428.3 513.0L430.3 513.0L432.3 513.0L434.3 513.0L436.3 513.0L438.3 513.0L440.3 513.0L442.3 513.0L444.3 513.0L446.3 513.0L448.3 513.0L450.3 513.0L452.3 513.0L454.3 513.0L456.3 513.0L458.3 513.0L460.3 513.0L462.3 513.0L464.3 513.0L466.3 513.0L468.3 513.0L470.3 513.0L472.3 513.0L474.3 513.0L476.3 513.0L478.3 513.0L480.3 513.0L482.3 513.0L484.3 513.0L486.3 513.0L488.3 513.0L490.3 513.0L492.3 513.0L494.3 513.0L496.3 513.0L498.3 513.0L500.3 513.0L502.3 513.0L504.3 513.0L506.3 513.0L508.3 513.0L510.3 513.0L512.3 513.0L514.3 513.0L516.3 513.0L518.3 513.0L520.3 513.0L522.3 513.0L524.3 513.0L526.3 513.0L528.3 513.0L530.3 513.0L532.3 513.0L534.3 513.0L536.3 513.0L538.3 513.0L540.3 513.0L542.3 513.0L544.3 513.0L546.3 513.0L548.3 513.0L550.3 513.0L552.3 513.0L554.3 513.0L556.3 513.0L558.3 513.0L560.3 513.0L562.3 513.0L564.3 513.0L566.3 513.0L568.3 513.0L570.3 513.0L572.3 513.0L574.3 513.0L576.3 513.0L578.3 513.0L580.3 513.0L582.3 513.0L584.3 513.0L586.3 513.0L588.3 513.0L590.3 513.0L592.3 513.0L594.3 513.0L596.3 513.0L598.3 513.0L600.3 513.0L602.3 513.0L604.3 513.0L606.3 513.0L608.3 513.0L610.3 513.0L612.3 513.0L614.3 513.0L616.3 513.0L618.3 513.0L620.3 513.0L622.3 513.0L624.3 513.0L626.3 513.0L628.3 513.0L630.3 513.0L632.3 513.0L634.3 513.0L636.3 513.0L638.3 513.0L640.3 513.0L642.3 513.0L644.3 513.0L646.3 513.0L648.3 513.0L650.3 513.0L652.3 513.0L654.3 513.0L656.3 513.0L658.3 513.0L660.3 513.0L662.3 513.0L664.3 513.0L666.3 513.0L668.3 513.0L670.3 513.0L672.3 513.0L674.3 513.0L676.3 513.0L678.3 513.0L680.3 513.0L682.3 513.0L684.3 513.0L686.3 513.0L688.3 513.0L690.3 513.0L692.3 513.0L694.3 513.0L696.3 513.0L698.3 513.0L700.3 513.0L702.3 513.0L704.3 513.0L706.3 513.0L708.3 513.0L710.3 513.0L712.3 513.0L714.3 513.0L716.3 513.0L718.3 513.0L720.3 513.0L722.3 513.0L724.3 513.0L726.3 513.0L728.3 513.0L730.3 513.0L732.3 513.0L734.3 513.0L736.3 513.0L738.3 513.0L740.3 513.0L742.3 513.0L744.3 513.0L746.3 513.0L748.3 513.0L750.3 513.0L752.3 513.0L754.3 513.0L756.3 513.0L758.3 513.0L760.3 513.0L762.3 513.0L764.3 513.0L766.3 513.0L768.3 513.0L770.3 513.0L772.3 513.0L774.3 513.0L776.3 513.0L778.3 513.0L780.3 513.0L782.3 513.0L784.3 513.0L786.3 513.0L788.3 513.0L790.3 513.0L792.3 513.0L794.3 513.0L796.3 513.0L798.3 513.0L800.3 513.0L802.3 513.0L804.3 513.0L806.3 513.0L808.3 513.0L810.3 513.0L812.3 513.0L814.3 513.0L816.3 513.0L818.3 513.0L820.3 513.0L822.3 513.0L824.3 513.0L826.3 513.0L828.3 513.0L830.3 513.0L832.3 513.0L834.3 513.0L836.3 513.0L838.3 513.0L840.3 513.0L842.3 513.0L844.3 513.0L846.3 513.0L848.3 513.0L849.4 513.0L849.4 513.0L112 513.0L112 513.0L40.3 513.0Z" fill="#0055ff"/><path d="M40.3 513.0L40.3 499.6L42.3 499.2L44.3 498.7L46.3 498.2L48.3 497.7L50.3 497.1L52.3 496.7L54.3 496.2L56.3 495.1L58.3 493.2L60.3 490.6L62.3 487.4L64.3 484.2L66.3 479.4L68.3 474.5L70.3 468.7L72.3 462.2L74.3 456.2L76.3 450.7L78.3 445.2L80.3 439.7L82.3 433.7L84.3 427.2L86.3 418.7L88.3 408.7L90.3 398.7L92.3 389.5L94.3 380.3L96.3 371.4L98.3 367.7L100.3 367.1L102.3 366.8L104.3 367.5L106.3 369.5L108.3 372.5L110.3 376.1L112.3 379.9L114.3 383.5L116.3 386.4L118.3 388.4L120.3 389.0L122.3 388.0L124.3 385.7L126.3 382.2L128.3 378.0L130.3 373.1L132.3 368.0L134.3 362.7L136.3 357.7L138.3 353.0L140.3 349.1L142.3 346.1L144.3 344.2L146.3 343.8L148.3 344.3L150.3 345.5L152.3 347.2L154.3 349.3L156.3 351.7L158.3 354.4L160.3 358.6L162.3 365.8L164.3 373.4L166.3 380.4L168.3 386.8L170.3 393.0L172.3 399.1L174.3 404.9L176.3 410.6L178.3 416.1L180.3 421.4L182.3 426.9L184.3 432.6L186.3 438.5L188.3 444.4L190.3 450.3L192.3 456.1L194.3 461.6L196.3 466.1L198.3 469.6L200.3 472.7L202.3 475.9L204.3 479.7L206.3 484.2L208.3 488.6L210.3 492.8L212.3 497.0L214.3 501.3L216.3 505.6L218.3 509.8L220.0 513.0M249.7 513.0L250.3 511.7L252.3 506.4L254.3 500.4L256.3 494.3L258.3 488.6L260.3 484.2L262.3 482.2L264.3 483.3L266.3 487.1L268.3 494.3L270.3 503.7L272.1 513.0" fill="none" stroke="#000" stroke-width="1" stroke-linejoin="round"/><path d="M40.3 514.5L40.3 499.6L42.3 499.3L44.3 498.7L46.3 498.2L48.3 497.7L50.3 497.2L52.3 496.7L54.3 496.3L56.3 495.2L58.3 493.4L60.3 490.8L62.3 487.6L64.3 484.4L66.3 479.8L68.3 474.8L70.3 469.1L72.3 462.6L74.3 456.6L76.3 451.1L78.3 445.6L80.3 440.1L82.3 434.1L84.3 427.6L86.3 419.4L88.3 409.3L90.3 399.3L92.3 390.0L94.3 380.8L96.3 373.7L98.3 372.6L100.3 372.2L102.3 372.1L104.3 373.1L106.3 375.2L108.3 378.2L110.3 381.7L112.3 385.3L114.3 388.7L116.3 391.6L118.3 393.6L120.3 394.5L122.3 393.9L124.3 392.0L126.3 388.9L128.3 385.0L130.3 380.3L132.3 375.3L134.3 370.2L136.3 365.1L138.3 360.3L140.3 356.1L142.3 352.7L144.3 350.3L146.3 349.2L148.3 349.4L150.3 350.2L152.3 351.7L154.3 353.7L156.3 356.1L158.3 358.5L160.3 362.3L162.3 368.2L164.3 375.7L166.3 382.8L168.3 389.1L170.3 395.3L172.3 401.2L174.3 407.1L176.3 412.8L178.3 418.3L180.3 423.7L182.3 429.2L184.3 434.9L186.3 440.8L188.3 446.7L190.3 452.7L192.3 458.8L194.3 464.6L196.3 469.7L198.3 473.7L200.3 477.4L202.3 481.0L204.3 485.2L206.3 490.0L208.3 494.9L210.3 499.5L212.3 504.2L214.3 509.0L216.3 513.9L218.3 514.5L220.3 514.5L222.3 514.5L224.3 514.5L226.3 514.5L228.3 514.5L230.3 514.5L232.3 514.5L234.3 514.5L236.3 514.5L238.3 514.5L240.3 514.5L242.3 514.5L244.3 514.5L246.3 514.5L248.3 514.5L250.3 514.5L252.3 514.5L254.3 512.2L256.3 505.7L258.3 499.4L260.3 494.3L262.3 492.0L264.3 491.6L266.3 495.0L268.3 501.4L270.3 510.1L272.3 514.5L274.3 514.5L276.3 514.5L278.3 514.5L280.3 514.5L282.3 514.5L284.3 514.5L286.3 514.5L288.3 514.5L290.3 514.5L292.3 514.5L294.3 514.5L296.3 514.5L298.3 514.5L300.3 514.5L302.3 514.5L304.3 514.5L306.3 514.5L308.3 514.5L310.3 514.5L312.3 514.5L314.3 514.5L316.3 514.5L318.3 514.5L320.3 514.5L322.3 514.5L324.3 514.5L326.3 514.5L328.3 514.5L330.3 514.5L332.3 514.5L334.3 514.5L336.3 514.5L338.3 514.5L340.3 514.5L342.3 514.5L344.3 514.5L346.3 514.5L348.3 514.5L350.3 514.5L352.3 514.5L354.3 514.5L356.3 514.5L358.3 514.5L360.3 514.5L362.3 514.5L364.3 514.5L366.3 514.5L368.3 514.5L370.3 514.5L372.3 514.5L374.3 514.5L376.3 514.5L378.3 514.5L380.3 514.5L382.3 514.5L384.3 514.5L386.3 514.5L388.3 514.5L390.3 514.5L392.3 514.5L394.3 514.5L396.3 514.5L398.3 514.5L400.3 514.5L402.3 514.5L404.3 514.5L406.3 514.5L408.3 514.5L410.3 514.5L412.3 514.5L414.3 514.5L416.3 514.5L418.3 514.5L420.3 514.5L422.3 514.5L424.3 514.5L426.3 514.5L428.3 514.5L430.3 514.5L432.3 514.5L434.3 514.5L436.3 514.5L438.3 514.5L440.3 514.5L442.3 514.5L444.3 514.5L446.3 514.5L448.3 514.5L450.3 514.5L452.3 514.5L454.3 514.5L456.3 514.5L458.3 514.5L460.3 514.5L462.3 514.5L464.3 514.5L466.3 514.5L468.3 514.5L470.3 514.5L472.3 514.5L474.3 514.5L476.3 514.5L478.3 514.5L480.3 514.5L482.3 514.5L484.3 514.5L486.3 514.5L488.3 514.5L490.3 514.5L492.3 514.5L494.3 514.5L496.3 514.5L498.3 514.5L500.3 514.5L502.3 514.5L504.3 514.5L506.3 514.5L508.3 514.5L510.3 514.5L512.3 514.5L514.3 514.5L516.3 514.5L518.3 514.5L520.3 514.5L522.3 514.5L524.3 514.5L526.3 514.5L528.3 514.5L530.3 514.5L532.3 514.5L534.3 514.5L536.3 514.5L538.3 514.5L540.3 514.5L542.3 514.5L544.3 514.5L546.3 514.5L548.3 514.5L550.3 514.5L552.3 514.5L554.3 514.5L556.3 514.5L558.3 514.5L560.3 514.5L562.3 514.5L564.3 514.5L566.3 514.5L568.3 514.5L570.3 514.5L572.3 514.5L574.3 514.5L576.3 514.5L578.3 514.5L580.3 514.5L582.3 514.5L584.3 514.5L586.3 514.5L588.3 514.5L590.3 514.5L592.3 514.5L594.3 514.5L596.3 514.5L598.3 514.5L600.3 514.5L602.3 514.5L604.3 514.5L606.3 514.5L608.3 514.5L610.3 514.5L612.3 514.5L614.3 514.5L616.3 514.5L618.3 514.5L620.3 514.5L622.3 514.5L624.3 514.5L626.3 514.5L628.3 514.5L630.3 514.5L632.3 514.5L634.3 514.5L636.3 514.5L638.3 514.5L640.3 514.5L642.3 514.5L644.3 514.5L646.3 514.5L648.3 514.5L650.3 514.5L652.3 514.5L654.3 514.5L656.3 514.5L658.3 514.5L660.3 514.5L662.3 514.5L664.3 514.5L666.3 514.5L668.3 514.5L670.3 514.5L672.3 514.5L674.3 514.5L676.3 514.5L678.3 514.5L680.3 514.5L682.3 514.5L684.3 514.5L686.3 514.5L688.3 514.5L690.3 514.5L692.3 514.5L694.3 514.5L696.3 514.5L698.3 514.5L700.3 514.5L702.3 514.5L704.3 514.5L706.3 514.5L708.3 514.5L710.3 514.5L712.3 514.5L714.3 514.5L716.3 514.5L718.3 514.5L720.3 514.5L722.3 514.5L724.3 514.5L726.3 514.5L728.3 514.5L730.3 514.5L732.3 514.5L734.3 514.5L736.3 514.5L738.3 514.5L740.3 514.5L742.3 514.5L744.3 514.5L746.3 514.5L748.3 514.5L750.3 514.5L752.3 514.5L754.3 514.5L756.3 514.5L758.3 514.5L760.3 514.5L762.3 514.5L764.3 514.5L766.3 514.5L768.3 514.5L770.3 514.5L772.3 514.5L774.3 514.5L776.3 514.5L778.3 514.5L780.3 514.5L782.3 514.5L784.3 514.5L786.3 514.5L788.3 514.5L790.3 514.5L792.3 514.5L794.3 514.5L796.3 514.5L798.3 514.5L800.3 514.5L802.3 514.5L804.3 514.5L806.3 514.5L808.3 514.5L810.3 514.5L812.3 514.5L814.3 514.5L816.3 514.5L818.3 514.5L820.3 514.5L822.3 514.5L824.3 514.5L826.3 514.5L828.3 514.5L830.3 514.5L832.3 514.5L834.3 514.5L836.3 514.5L838.3 514.5L840.3 514.5L842.3 514.5L844.3 514.5L846.3 514.5L848.3 514.5L850.3 514.5L852.1 514.5L852.1 514.5L112 514.5L112 514.5L40.3 514.5Z" fill="#0055ff"/><path d="M40.3 514.5L40.3 499.6L42.3 499.3L44.3 498.7L46.3 498.2L48.3 497.7L50.3 497.2L52.3 496.7L54.3 496.3L56.3 495.2L58.3 493.4L60.3 490.8L62.3 487.6L64.3 484.4L66.3 479.8L68.3 474.8L70.3 469.1L72.3 462.6L74.3 456.6L76.3 451.1L78.3 445.6L80.3 440.1L82.3 434.1L84.3 427.6L86.3 419.4L88.3 409.3L90.3 399.3L92.3 390.0L94.3 380.8L96.3 373.7L98.3 372.6L100.3 372.2L102.3 372.1L104.3 373.1L106.3 375.2L108.3 378.2L110.3 381.7L112.3 385.3L114.3 388.7L116.3 391.6L118.3 393.6L120.3 394.5L122.3 393.9L124.3 392.0L126.3 388.9L128.3 385.0L130.3 380.3L132.3 375.3L134.3 370.2L136.3 365.1L138.3 360.3L140.3 356.1L142.3 352.7L144.3 350.3L146.3 349.2L148.3 349.4L150.3 350.2L152.3 351.7L154.3 353.7L156.3 356.1L158.3 358.5L160.3 362.3L162.3 368.2L164.3 375.7L166.3 382.8L168.3 389.1L170.3 395.3L172.3 401.2L174.3 407.1L176.3 412.8L178.3 418.3L180.3 423.7L182.3 429.2L184.3 434.9L186.3 440.8L188.3 446.7L190.3 452.7L192.3 458.8L194.3 464.6L196.3 469.7L198.3 473.7L200.3 477.4L202.3 481.0L204.3 485.2L206.3 490.0L208.3 494.9L210.3 499.5L212.3 504.2L214.3 509.0L216.3 513.9L216.5 514.5M253.5 514.5L254.3 512.2L256.3 505.7L258.3 499.4L260.3 494.3L262.3 492.0L264.3 491.6L266.3 495.0L268.3 501.4L270.3 510.1L271.1 514.5" fill="none" stroke="#000" stroke-width="1" stroke-linejoin="round"/><path d="M40.2 516.0L40.2 499.6L42.2 499.3L44.2 498.8L46.2 498.3L48.2 497.7L50.2 497.2L52.2 496.8L54.2 496.3L56.2 495.3L58.2 493.5L60.2 491.0L62.2 487.8L64.2 484.6L66.2 480.1L68.2 475.1L70.2 469.5L72.2 463.0L74.2 456.9L76.2 451.4L78.2 445.9L80.2 440.4L82.2 434.6L84.2 428.1L86.2 420.1L88.2 409.9L90.2 399.9L92.2 390.5L94.2 381.6L96.2 378.4L98.2 377.8L100.2 377.5L102.2 377.7L104.2 379.0L106.2 381.3L108.2 384.3L110.2 387.6L112.2 391.1L114.2 394.3L116.2 397.2L118.2 399.3L120.2 400.4L122.2 400.2L124.2 398.6L126.2 395.9L128.2 392.2L130.2 387.8L132.2 382.9L134.2 377.8L136.2 372.6L138.2 367.7L140.2 363.2L142.2 359.4L144.2 356.6L146.2 354.8L148.2 354.5L150.2 355.1L152.2 356.3L154.2 358.3L156.2 360.5L158.2 362.8L160.2 365.8L162.2 371.1L164.2 378.0L166.2 385.0L168.2 391.5L170.2 397.5L172.2 403.4L174.2 409.3L176.2 415.0L178.2 420.6L180.2 426.1L182.2 431.5L184.2 437.2L186.2 442.9L188.2 448.9L190.2 455.0L192.2 461.1L194.2 467.3L196.2 472.4L198.2 477.0L200.2 481.3L202.2 485.4L204.2 489.8L206.2 495.1L208.2 500.3L210.2 505.3L212.2 510.5L214.2 515.8L216.2 516.0L218.2 516.0L220.2 516.0L222.2 516.0L224.2 516.0L226.2 516.0L228.2 516.0L230.2 516.0L232.2 516.0L234.2 516.0L236.2 516.0L238.2 516.0L240.2 516.0L242.2 516.0L244.2 516.0L246.2 516.0L248.2 516.0L250.2 516.0L252.2 516.0L254.2 516.0L256.2 516.0L258.2 509.9L260.2 504.1L262.2 500.3L264.2 500.2L266.2 502.0L268.2 507.7L270.2 516.0L272.2 516.0L274.2 516.0L276.2 516.0L278.2 516.0L280.2 516.0L282.2 516.0L284.2 516.0L286.2 516.0L288.2 516.0L290.2 516.0L292.2 516.0L294.2 516.0L296.2 516.0L298.2 516.0L300.2 516.0L302.2 516.0L304.2 516.0L306.2 516.0L308.2 516.0L310.2 516.0L312.2 516.0L314.2 516.0L316.2 516.0L318.2 516.0L320.2 516.0L322.2 516.0L324.2 516.0L326.2 516.0L328.2 516.0L330.2 516.0L332.2 516.0L334.2 516.0L336.2 516.0L338.2 516.0L340.2 516.0L342.2 516.0L344.2 516.0L346.2 516.0L348.2 516.0L350.2 516.0L352.2 516.0L354.2 516.0L356.2 516.0L358.2 516.0L360.2 516.0L362.2 516.0L364.2 516.0L366.2 516.0L368.2 516.0L370.2 516.0L372.2 516.0L374.2 516.0L376.2 516.0L378.2 516.0L380.2 516.0L382.2 516.0L384.2 516.0L386.2 516.0L388.2 516.0L390.2 516.0L392.2 516.0L394.2 516.0L396.2 516.0L398.2 516.0L400.2 516.0L402.2 516.0L404.2 516.0L406.2 516.0L408.2 516.0L410.2 516.0L412.2 516.0L414.2 516.0L416.2 516.0L418.2 516.0L420.2 516.0L422.2 516.0L424.2 516.0L426.2 516.0L428.2 516.0L430.2 516.0L432.2 516.0L434.2 516.0L436.2 516.0L438.2 516.0L440.2 516.0L442.2 516.0L444.2 516.0L446.2 516.0L448.2 516.0L450.2 516.0L452.2 516.0L454.2 516.0L456.2 516.0L458.2 516.0L460.2 516.0L462.2 516.0L464.2 516.0L466.2 516.0L468.2 516.0L470.2 516.0L472.2 516.0L474.2 516.0L476.2 516.0L478.2 516.0L480.2 516.0L482.2 516.0L484.2 516.0L486.2 516.0L488.2 516.0L490.2 516.0L492.2 516.0L494.2 516.0L496.2 516.0L498.2 516.0L500.2 516.0L502.2 516.0L504.2 516.0L506.2 516.0L508.2 516.0L510.2 516.0L512.2 516.0L514.2 516.0L516.2 516.0L518.2 516.0L520.2 516.0L522.2 516.0L524.2 516.0L526.2 516.0L528.2 516.0L530.2 516.0L532.2 516.0L534.2 516.0L536.2 516.0L538.2 516.0L540.2 516.0L542.2 516.0L544.2 516.0L546.2 516.0L548.2 516.0L550.2 516.0L552.2 516.0L554.2 516.0L556.2 516.0L558.2 516.0L560.2 516.0L562.2 516.0L564.2 516.0L566.2 516.0L568.2 516.0L570.2 516.0L572.2 516.0L574.2 516.0L576.2 516.0L578.2 516.0L580.2 516.0L582.2 516.0L584.2 516.0L586.2 516.0L588.2 516.0L590.2 516.0L592.2 516.0L594.2 516.0L596.2 516.0L598.2 516.0L600.2 516.0L602.2 516.0L604.2 516.0L606.2 516.0L608.2 516.0L610.2 516.0L612.2 516.0L614.2 516.0L616.2 516.0L618.2 516.0L620.2 516.0L622.2 516.0L624.2 516.0L626.2 516.0L628.2 516.0L630.2 516.0L632.2 516.0L634.2 516.0L636.2 516.0L638.2 516.0L640.2 516.0L642.2 516.0L644.2 516.0L646.2 516.0L648.2 516.0L650.2 516.0L652.2 516.0L654.2 516.0L656.2 516.0L658.2 516.0L660.2 516.0L662.2 516.0L664.2 516.0L666.2 516.0L668.2 516.0L670.2 516.0L672.2 516.0L674.2 516.0L676.2 516.0L678.2 516.0L680.2 516.0L682.2 516.0L684.2 516.0L686.2 516.0L688.2 516.0L690.2 516.0L692.2 516.0L694.2 516.0L696.2 516.0L698.2 516.0L700.2 516.0L702.2 516.0L704.2 516.0L706.2 516.0L708.2 516.0L710.2 516.0L712.2 516.0L714.2 516.0L716.2 516.0L718.2 516.0L720.2 516.0L722.2 516.0L724.2 516.0L726.2 516.0L728.2 516.0L730.2 516.0L732.2 516.0L734.2 516.0L736.2 516.0L738.2 516.0L740.2 516.0L742.2 516.0L744.2 516.0L746.2 516.0L748.2 516.0L750.2 516.0L752.2 516.0L754.2 516.0L756.2 516.0L758.2 516.0L760.2 516.0L762.2 516.0L764.2 516.0L766.2 516.0L768.2 516.0L770.2 516.0L772.2 516.0L774.2 516.0L776.2 516.0L778.2 516.0L780.2 516.0L782.2 516.0L784.2 516.0L786.2 516.0L788.2 516.0L790.2 516.0L792.2 516.0L794.2 516.0L796.2 516.0L798.2 516.0L800.2 516.0L802.2 516.0L804.2 516.0L806.2 516.0L808.2 516.0L810.2 516.0L812.2 516.0L814.2 516.0L816.2 516.0L818.2 516.0L820.2 516.0L822.2 516.0L824.2 516.0L826.2 516.0L828.2 516.0L830.2 516.0L832.2 516.0L834.2 516.0L836.2 516.0L838.2 516.0L840.2 516.0L842.2 516.0L844.2 516.0L846.2 516.0L848.2 516.0L850.2 516.0L852.2 516.0L854.2 516.0L854.8 516.0L854.8 516.0L112 516.0L112 516.0L40.2 516.0Z" fill="#0055ff"/><path d="M40.2 516.0L40.2 499.6L42.2 499.3L44.2 498.8L46.2 498.3L48.2 497.7L50.2 497.2L52.2 496.8L54.2 496.3L56.2 495.3L58.2 493.5L60.2 491.0L62.2 487.8L64.2 484.6L66.2 480.1L68.2 475.1L70.2 469.5L72.2 463.0L74.2 456.9L76.2 451.4L78.2 445.9L80.2 440.4L82.2 434.6L84.2 428.1L86.2 420.1L88.2 409.9L90.2 399.9L92.2 390.5L94.2 381.6L96.2 378.4L98.2 377.8L100.2 377.5L102.2 377.7L104.2 379.0L106.2 381.3L108.2 384.3L110.2 387.6L112.2 391.1L114.2 394.3L116.2 397.2L118.2 399.3L120.2 400.4L122.2 400.2L124.2 398.6L126.2 395.9L128.2 392.2L130.2 387.8L132.2 382.9L134.2 377.8L136.2 372.6L138.2 367.7L140.2 363.2L142.2 359.4L144.2 356.6L146.2 354.8L148.2 354.5L150.2 355.1L152.2 356.3L154.2 358.3L156.2 360.5L158.2 362.8L160.2 365.8L162.2 371.1L164.2 378.0L166.2 385.0L168.2 391.5L170.2 397.5L172.2 403.4L174.2 409.3L176.2 415.0L178.2 420.6L180.2 426.1L182.2 431.5L184.2 437.2L186.2 442.9L188.2 448.9L190.2 455.0L192.2 461.1L194.2 467.3L196.2 472.4L198.2 477.0L200.2 481.3L202.2 485.4L204.2 489.8L206.2 495.1L208.2 500.3L210.2 505.3L212.2 510.5L214.2 516.0M256.4 516.0L258.2 509.9L260.2 504.1L262.2 500.3L264.2 500.2L266.2 502.0L268.2 507.7L270.2 516.0" fill="none" stroke="#000" stroke-width="1" stroke-linejoin="round"/><path d="M40.2 517.5L40.2 499.6L42.2 499.3L44.2 498.8L46.2 498.3L48.2 497.8L50.2 497.2L52.2 496.8L54.2 496.3L56.2 495.4L58.2 493.6L60.2 491.2L62.2 488.0L64.2 484.8L66.2 480.4L68.2 475.4L70.2 470.0L72.2 463.5L74.2 457.3L76.2 451.8L78.2 446.3L80.2 440.8L82.2 435.0L84.2 428.5L86.2 420.7L88.2 410.5L90.2 400.5L92.2 391.1L94.2 384.7L96.2 383.8L98.2 383.3L100.2 383.1L102.2 383.7L104.2 385.2L106.2 387.6L108.2 390.6L110.2 393.9L112.2 397.2L114.2 400.4L116.2 403.3L118.2 405.4L120.2 406.7L122.2 406.9L124.2 405.7L126.2 403.2L128.2 399.7L130.2 395.5L132.2 390.6L134.2 385.5L136.2 380.2L138.2 375.1L140.2 370.4L142.2 366.3L144.2 362.9L146.2 360.7L148.2 359.7L150.2 360.0L152.2 361.0L154.2 362.7L156.2 364.9L158.2 367.2L160.2 369.7L162.2 374.2L164.2 380.5L166.2 387.4L168.2 394.0L170.2 400.0L172.2 405.9L174.2 411.7L176.2 417.4L178.2 423.1L180.2 428.6L182.2 434.0L184.2 439.6L186.2 445.3L188.2 451.1L190.2 457.2L192.2 463.4L194.2 469.5L196.2 475.0L198.2 479.8L200.2 484.5L202.2 489.1L204.2 494.0L206.2 499.3L208.2 504.9L210.2 510.3L212.2 515.9L214.2 517.5L216.2 517.5L218.2 517.5L220.2 517.5L222.2 517.5L224.2 517.5L226.2 517.5L228.2 517.5L230.2 517.5L232.2 517.5L234.2 517.5L236.2 517.5L238.2 517.5L240.2 517.5L242.2 517.5L244.2 517.5L246.2 517.5L248.2 517.5L250.2 517.5L252.2 517.5L254.2 517.5L256.2 517.5L258.2 517.5L260.2 512.8L262.2 508.5L264.2 506.8L266.2 508.4L268.2 513.1L270.2 517.5L272.2 517.5L274.2 517.5L276.2 517.5L278.2 517.5L280.2 517.5L282.2 517.5L284.2 517.5L286.2 517.5L288.2 517.5L290.2 517.5L292.2 517.5L294.2 517.5L296.2 517.5L298.2 517.5L300.2 517.5L302.2 517.5L304.2 517.5L306.2 517.5L308.2 517.5L310.2 517.5L312.2 517.5L314.2 517.5L316.2 517.5L318.2 517.5L320.2 517.5L322.2 517.5L324.2 517.5L326.2 517.5L328.2 517.5L330.2 517.5L332.2 517.5L334.2 517.5L336.2 517.5L338.2 517.5L340.2 517.5L342.2 517.5L344.2 517.5L346.2 517.5L348.2 517.5L350.2 517.5L352.2 517.5L354.2 517.5L356.2 517.5L358.2 517.5L360.2 517.5L362.2 517.5L364.2 517.5L366.2 517.5L368.2 517.5L370.2 517.5L372.2 517.5L374.2 517.5L376.2 517.5L378.2 517.5L380.2 517.5L382.2 517.5L384.2 517.5L386.2 517.5L388.2 517.5L390.2 517.5L392.2 517.5L394.2 517.5L396.2 517.5L398.2 517.5L400.2 517.5L402.2 517.5L404.2 517.5L406.2 517.5L408.2 517.5L410.2 517.5L412.2 517.5L414.2 517.5L416.2 517.5L418.2 517.5L420.2 517.5L422.2 517.5L424.2 517.5L426.2 517.5L428.2 517.5L430.2 517.5L432.2 517.5L434.2 517.5L436.2 517.5L438.2 517.5L440.2 517.5L442.2 517.5L444.2 517.5L446.2 517.5L448.2 517.5L450.2 517.5L452.2 517.5L454.2 517.5L456.2 517.5L458.2 517.5L460.2 517.5L462.2 517.5L464.2 517.5L466.2 517.5L468.2 517.5L470.2 517.5L472.2 517.5L474.2 517.5L476.2 517.5L478.2 517.5L480.2 517.5L482.2 517.5L484.2 517.5L486.2 517.5L488.2 517.5L490.2 517.5L492.2 517.5L494.2 517.5L496.2 517.5L498.2 517.5L500.2 517.5L502.2 517.5L504.2 517.5L506.2 517.5L508.2 517.5L510.2 517.5L512.2 517.5L514.2 517.5L516.2 517.5L518.2 517.5L520.2 517.5L522.2 517.5L524.2 517.5L526.2 517.5L528.2 517.5L530.2 517.5L532.2 517.5L534.2 517.5L536.2 517.5L538.2 517.5L540.2 517.5L542.2 517.5L544.2 517.5L546.2 517.5L548.2 517.5L550.2 517.5L552.2 517.5L554.2 517.5L556.2 517.5L558.2 517.5L560.2 517.5L562.2 517.5L564.2 517.5L566.2 517.5L568.2 517.5L570.2 517.5L572.2 517.5L574.2 517.5L576.2 517.5L578.2 517.5L580.2 517.5L582.2 517.5L584.2 517.5L586.2 517.5L588.2 517.5L590.2 517.5L592.2 517.5L594.2 517.5L596.2 517.5L598.2 517.5L600.2 517.5L602.2 517.5L604.2 517.5L606.2 517.5L608.2 517.5L610.2 517.5L612.2 517.5L614.2 517.5L616.2 517.5L618.2 517.5L620.2 517.5L622.2 517.5L624.2 517.5L626.2 517.5L628.2 517.5L630.2 517.5L632.2 517.5L634.2 517.5L636.2 517.5L638.2 517.5L640.2 517.5L642.2 517.5L644.2 517.5L646.2 517.5L648.2 517.5L650.2 517.5L652.2 517.5L654.2 517.5L656.2 517.5L658.2 517.5L660.2 517.5L662.2 517.5L664.2 517.5L666.2 517.5L668.2 517.5L670.2 517.5L672.2 517.5L674.2 517.5L676.2 517.5L678.2 517.5L680.2 517.5L682.2 517.5L684.2 517.5L686.2 517.5L688.2 517.5L690.2 517.5L692.2 517.5L694.2 517.5L696.2 517.5L698.2 517.5L700.2 517.5L702.2 517.5L704.2 517.5L706.2 517.5L708.2 517.5L710.2 517.5L712.2 517.5L714.2 517.5L716.2 517.5L718.2 517.5L720.2 517.5L722.2 517.5L724.2 517.5L726.2 517.5L728.2 517.5L730.2 517.5L732.2 517.5L734.2 517.5L736.2 517.5L738.2 517.5L740.2 517.5L742.2 517.5L744.2 517.5L746.2 517.5L748.2 517.5L750.2 517.5L752.2 517.5L754.2 517.5L756.2 517.5L758.2 517.5L760.2 517.5L762.2 517.5L764.2 517.5L766.2 517.5L768.2 517.5L770.2 517.5L772.2 517.5L774.2 517.5L776.2 517.5L778.2 517.5L780.2 517.5L782.2 517.5L784.2 517.5L786.2 517.5L788.2 517.5L790.2 517.5L792.2 517.5L794.2 517.5L796.2 517.5L798.2 517.5L800.2 517.5L802.2 517.5L804.2 517.5L806.2 517.5L808.2 517.5L810.2 517.5L812.2 517.5L814.2 517.5L816.2 517.5L818.2 517.5L820.2 517.5L822.2 517.5L824.2 517.5L826.2 517.5L828.2 517.5L830.2 517.5L832.2 517.5L834.2 517.5L836.2 517.5L838.2 517.5L840.2 517.5L842.2 517.5L844.2 517.5L846.2 517.5L848.2 517.5L850.2 517.5L852.2 517.5L854.2 517.5L856.2 517.5L857.5 517.5L857.5 517.5L112 517.5L112 517.5L40.2 517.5Z" fill="#0055ff"/><path d="M40.2 517.5L40.2 499.6L42.2 499.3L44.2 498.8L46.2 498.3L48.2 497.8L50.2 497.2L52.2 496.8L54.2 496.3L56.2 495.4L58.2 493.6L60.2 491.2L62.2 488.0L64.2 484.8L66.2 480.4L68.2 475.4L70.2 470.0L72.2 463.5L74.2 457.3L76.2 451.8L78.2 446.3L80.2 440.8L82.2 435.0L84.2 428.5L86.2 420.7L88.2 410.5L90.2 400.5L92.2 391.1L94.2 384.7L96.2 383.8L98.2 383.3L100.2 383.1L102.2 383.7L104.2 385.2L106.2 387.6L108.2 390.6L110.2 393.9L112.2 397.2L114.2 400.4L116.2 403.3L118.2 405.4L120.2 406.7L122.2 406.9L124.2 405.7L126.2 403.2L128.2 399.7L130.2 395.5L132.2 390.6L134.2 385.5L136.2 380.2L138.2 375.1L140.2 370.4L142.2 366.3L144.2 362.9L146.2 360.7L148.2 359.7L150.2 360.0L152.2 361.0L154.2 362.7L156.2 364.9L158.2 367.2L160.2 369.7L162.2 374.2L164.2 380.5L166.2 387.4L168.2 394.0L170.2 400.0L172.2 405.9L174.2 411.7L176.2 417.4L178.2 423.1L180.2 428.6L182.2 434.0L184.2 439.6L186.2 445.3L188.2 451.1L190.2 457.2L192.2 463.4L194.2 469.5L196.2 475.0L198.2 479.8L200.2 484.5L202.2 489.1L204.2 494.0L206.2 499.3L208.2 504.9L210.2 510.3L212.2 515.9L212.7 517.5M258.7 517.5L260.2 512.8L262.2 508.5L264.2 506.8L266.2 508.4L268.2 513.1L269.4 517.5" fill="none" stroke="#000" stroke-width="1" stroke-linejoin="round"/><path d="M40.1 519.0L40.1 499.6L42.1 499.4L44.1 498.9L46.1 498.3L48.1 497.8L50.1 497.3L52.1 496.8L54.1 496.4L56.1 495.5L58.1 493.7L60.1 491.4L62.1 488.2L64.1 485.0L66.1 480.7L68.1 475.7L70.1 470.4L72.1 463.9L74.1 457.6L76.1 452.1L78.1 446.6L80.1 441.1L82.1 435.4L84.1 428.9L86.1 421.4L88.1 411.2L90.1 401.1L92.1 392.4L94.1 390.1L96.1 389.5L98.1 389.1L100.1 389.1L102.1 390.0L104.1 391.7L106.1 394.1L108.1 397.0L110.1 400.2L112.1 403.4L114.1 406.5L116.1 409.2L118.1 411.4L120.1 412.8L122.1 413.3L124.1 412.4L126.1 410.3L128.1 407.0L130.1 402.9L132.1 398.2L134.1 393.0L136.1 387.7L138.1 382.5L140.1 377.5L142.1 373.1L144.1 369.4L146.1 366.7L148.1 365.1L150.1 365.0L152.1 365.8L154.1 367.4L156.1 369.3L158.1 371.6L160.1 374.0L162.1 377.4L164.1 383.4L166.1 389.9L168.1 396.6L170.1 402.7L172.1 408.5L174.1 414.3L176.1 420.0L178.1 425.7L180.1 431.2L182.1 436.7L184.1 442.2L186.1 447.7L188.1 453.5L190.1 459.5L192.1 465.7L194.1 471.8L196.1 477.2L198.1 482.3L200.1 487.3L202.1 492.3L204.1 497.4L206.1 503.1L208.1 508.9L210.1 514.7L212.1 519.0L214.1 519.0L216.1 519.0L218.1 519.0L220.1 519.0L222.1 519.0L224.1 519.0L226.1 519.0L228.1 519.0L230.1 519.0L232.1 519.0L234.1 519.0L236.1 519.0L238.1 519.0L240.1 519.0L242.1 519.0L244.1 519.0L246.1 519.0L248.1 519.0L250.1 519.0L252.1 519.0L254.1 519.0L256.1 519.0L258.1 519.0L260.1 519.0L262.1 516.4L264.1 514.3L266.1 514.6L268.1 518.4L270.1 519.0L272.1 519.0L274.1 519.0L276.1 519.0L278.1 519.0L280.1 519.0L282.1 519.0L284.1 519.0L286.1 519.0L288.1 519.0L290.1 519.0L292.1 519.0L294.1 519.0L296.1 519.0L298.1 519.0L300.1 519.0L302.1 519.0L304.1 519.0L306.1 519.0L308.1 519.0L310.1 519.0L312.1 519.0L314.1 519.0L316.1 519.0L318.1 519.0L320.1 519.0L322.1 519.0L324.1 519.0L326.1 519.0L328.1 519.0L330.1 519.0L332.1 519.0L334.1 519.0L336.1 519.0L338.1 519.0L340.1 519.0L342.1 519.0L344.1 519.0L346.1 519.0L348.1 519.0L350.1 519.0L352.1 519.0L354.1 519.0L356.1 519.0L358.1 519.0L360.1 519.0L362.1 519.0L364.1 519.0L366.1 519.0L368.1 519.0L370.1 519.0L372.1 519.0L374.1 519.0L376.1 519.0L378.1 519.0L380.1 519.0L382.1 519.0L384.1 519.0L386.1 519.0L388.1 519.0L390.1 519.0L392.1 519.0L394.1 519.0L396.1 519.0L398.1 519.0L400.1 519.0L402.1 519.0L404.1 519.0L406.1 519.0L408.1 519.0L410.1 519.0L412.1 519.0L414.1 519.0L416.1 519.0L418.1 519.0L420.1 519.0L422.1 519.0L424.1 519.0L426.1 519.0L428.1 519.0L430.1 519.0L432.1 519.0L434.1 519.0L436.1 519.0L438.1 519.0L440.1 519.0L442.1 519.0L444.1 519.0L446.1 519.0L448.1 519.0L450.1 519.0L452.1 519.0L454.1 519.0L456.1 519.0L458.1 519.0L460.1 519.0L462.1 519.0L464.1 519.0L466.1 519.0L468.1 519.0L470.1 519.0L472.1 519.0L474.1 519.0L476.1 519.0L478.1 519.0L480.1 519.0L482.1 519.0L484.1 519.0L486.1 519.0L488.1 519.0L490.1 519.0L492.1 519.0L494.1 519.0L496.1 519.0L498.1 519.0L500.1 519.0L502.1 519.0L504.1 519.0L506.1 519.0L508.1 519.0L510.1 519.0L512.1 519.0L514.1 519.0L516.1 519.0L518.1 519.0L520.1 519.0L522.1 519.0L524.1 519.0L526.1 519.0L528.1 519.0L530.1 519.0L532.1 519.0L534.1 519.0L536.1 519.0L538.1 519.0L540.1 519.0L542.1 519.0L544.1 519.0L546.1 519.0L548.1 519.0L550.1 519.0L552.1 519.0L554.1 519.0L556.1 519.0L558.1 519.0L560.1 519.0L562.1 519.0L564.1 519.0L566.1 519.0L568.1 519.0L570.1 519.0L572.1 519.0L574.1 519.0L576.1 519.0L578.1 519.0L580.1 519.0L582.1 519.0L584.1 519.0L586.1 519.0L588.1 519.0L590.1 519.0L592.1 519.0L594.1 519.0L596.1 519.0L598.1 519.0L600.1 519.0L602.1 519.0L604.1 519.0L606.1 519.0L608.1 519.0L610.1 519.0L612.1 519.0L614.1 519.0L616.1 519.0L618.1 519.0L620.1 519.0L622.1 519.0L624.1 519.0L626.1 519.0L628.1 519.0L630.1 519.0L632.1 519.0L634.1 519.0L636.1 519.0L638.1 519.0L640.1 519.0L642.1 519.0L644.1 519.0L646.1 519.0L648.1 519.0L650.1 519.0L652.1 519.0L654.1 519.0L656.1 519.0L658.1 519.0L660.1 519.0L662.1 519.0L664.1 519.0L666.1 519.0L668.1 519.0L670.1 519.0L672.1 519.0L674.1 519.0L676.1 519.0L678.1 519.0L680.1 519.0L682.1 519.0L684.1 519.0L686.1 519.0L688.1 519.0L690.1 519.0L692.1 519.0L694.1 519.0L696.1 519.0L698.1 519.0L700.1 519.0L702.1 519.0L704.1 519.0L706.1 519.0L708.1 519.0L710.1 519.0L712.1 519.0L714.1 519.0L716.1 519.0L718.1 519.0L720.1 519.0L722.1 519.0L724.1 519.0L726.1 519.0L728.1 519.0L730.1 519.0L732.1 519.0L734.1 519.0L736.1 519.0L738.1 519.0L740.1 519.0L742.1 519.0L744.1 519.0L746.1 519.0L748.1 519.0L750.1 519.0L752.1 519.0L754.1 519.0L756.1 519.0L758.1 519.0L760.1 519.0L762.1 519.0L764.1 519.0L766.1 519.0L768.1 519.0L770.1 519.0L772.1 519.0L774.1 519.0L776.1 519.0L778.1 519.0L780.1 519.0L782.1 519.0L784.1 519.0L786.1 519.0L788.1 519.0L790.1 519.0L792.1 519.0L794.1 519.0L796.1 519.0L798.1 519.0L800.1 519.0L802.1 519.0L804.1 519.0L806.1 519.0L808.1 519.0L810.1 519.0L812.1 519.0L814.1 519.0L816.1 519.0L818.1 519.0L820.1 519.0L822.1 519.0L824.1 519.0L826.1 519.0L828.1 519.0L830.1 519.0L832.1 519.0L834.1 519.0L836.1 519.0L838.1 519.0L840.1 519.0L842.1 519.0L844.1 519.0L846.1 519.0L848.1 519.0L850.1 519.0L852.1 519.0L854.1 519.0L856.1 519.0L858.1 519.0L860.1 519.0L860.2 519.0L860.2 519.0L112 519.0L112 519.0L40.1 519.0Z" fill="#0055ff"/><path d="M40.1 519.0L40.1 499.6L42.1 499.4L44.1 498.9L46.1 498.3L48.1 497.8L50.1 497.3L52.1 496.8L54.1 496.4L56.1 495.5L58.1 493.7L60.1 491.4L62.1 488.2L64.1 485.0L66.1 480.7L68.1 475.7L70.1 470.4L72.1 463.9L74.1 457.6L76.1 452.1L78.1 446.6L80.1 441.1L82.1 435.4L84.1 428.9L86.1 421.4L88.1 411.2L90.1 401.1L92.1 392.4L94.1 390.1L96.1 389.5L98.1 389.1L100.1 389.1L102.1 390.0L104.1 391.7L106.1 394.1L108.1 397.0L110.1 400.2L112.1 403.4L114.1 406.5L116.1 409.2L118.1 411.4L120.1 412.8L122.1 413.3L124.1 412.4L126.1 410.3L128.1 407.0L130.1 402.9L132.1 398.2L134.1 393.0L136.1 387.7L138.1 382.5L140.1 377.5L142.1 373.1L144.1 369.4L146.1 366.7L148.1 365.1L150.1 365.0L152.1 365.8L154.1 367.4L156.1 369.3L158.1 371.6L160.1 374.0L162.1 377.4L164.1 383.4L166.1 389.9L168.1 396.6L170.1 402.7L172.1 408.5L174.1 414.3L176.1 420.0L178.1 425.7L180.1 431.2L182.1 436.7L184.1 442.2L186.1 447.7L188.1 453.5L190.1 459.5L192.1 465.7L194.1 471.8L196.1 477.2L198.1 482.3L200.1 487.3L202.1 492.3L204.1 497.4L206.1 503.1L208.1 508.9L210.1 514.7L211.6 519.0M261.2 519.0L262.1 516.4L264.1 514.3L266.1 514.6L268.1 518.4L268.3 519.0" fill="none" stroke="#000" stroke-width="1" stroke-linejoin="round"/><path d="M40.1 520.5L40.1 499.6L42.1 499.4L44.1 498.9L46.1 498.4L48.1 497.8L50.1 497.3L52.1 496.8L54.1 496.4L56.1 495.7L58.1 493.8L60.1 491.6L62.1 488.4L64.1 485.2L66.1 481.0L68.1 476.1L70.1 470.8L72.1 464.3L74.1 458.0L76.1 452.5L78.1 447.0L80.1 441.5L82.1 435.8L84.1 429.3L86.1 422.1L88.1 411.9L90.1 401.9L92.1 396.8L94.1 396.0L96.1 395.5L98.1 395.3L100.1 395.5L102.1 396.6L104.1 398.4L106.1 400.9L108.1 403.8L110.1 406.9L112.1 410.1L114.1 413.2L116.1 415.9L118.1 418.3L120.1 420.0L122.1 420.9L124.1 420.8L126.1 419.1L128.1 416.2L130.1 412.2L132.1 407.5L134.1 402.2L136.1 396.6L138.1 390.9L140.1 385.5L142.1 380.5L144.1 376.2L146.1 372.9L148.1 370.8L150.1 370.1L152.1 370.7L154.1 372.0L156.1 373.8L158.1 375.9L160.1 378.4L162.1 381.2L164.1 386.3L166.1 392.6L168.1 399.2L170.1 405.5L172.1 411.2L174.1 417.0L176.1 422.7L178.1 428.3L180.1 434.0L182.1 439.5L184.1 444.9L186.1 450.4L188.1 456.0L190.1 461.8L192.1 467.9L194.1 473.9L196.1 479.4L198.1 484.6L200.1 489.9L202.1 495.1L204.1 500.6L206.1 506.5L208.1 512.4L210.1 518.5L212.1 520.5L214.1 520.5L216.1 520.5L218.1 520.5L220.1 520.5L222.1 520.5L224.1 520.5L226.1 520.5L228.1 520.5L230.1 520.5L232.1 520.5L234.1 520.5L236.1 520.5L238.1 520.5L240.1 520.5L242.1 520.5L244.1 520.5L246.1 520.5L248.1 520.5L250.1 520.5L252.1 520.5L254.1 520.5L256.1 520.5L258.1 520.5L260.1 520.5L262.1 520.5L264.1 520.5L266.1 520.5L268.1 520.5L270.1 520.5L272.1 520.5L274.1 520.5L276.1 520.5L278.1 520.5L280.1 520.5L282.1 520.5L284.1 520.5L286.1 520.5L288.1 520.5L290.1 520.5L292.1 520.5L294.1 520.5L296.1 520.5L298.1 520.5L300.1 520.5L302.1 520.5L304.1 520.5L306.1 520.5L308.1 520.5L310.1 520.5L312.1 520.5L314.1 520.5L316.1 520.5L318.1 520.5L320.1 520.5L322.1 520.5L324.1 520.5L326.1 520.5L328.1 520.5L330.1 520.5L332.1 520.5L334.1 520.5L336.1 520.5L338.1 520.5L340.1 520.5L342.1 520.5L344.1 520.5L346.1 520.5L348.1 520.5L350.1 520.5L352.1 520.5L354.1 520.5L356.1 520.5L358.1 520.5L360.1 520.5L362.1 520.5L364.1 520.5L366.1 520.5L368.1 520.5L370.1 520.5L372.1 520.5L374.1 520.5L376.1 520.5L378.1 520.5L380.1 520.5L382.1 520.5L384.1 520.5L386.1 520.5L388.1 520.5L390.1 520.5L392.1 520.5L394.1 520.5L396.1 520.5L398.1 520.5L400.1 520.5L402.1 520.5L404.1 520.5L406.1 520.5L408.1 520.5L410.1 520.5L412.1 520.5L414.1 520.5L416.1 520.5L418.1 520.5L420.1 520.5L422.1 520.5L424.1 520.5L426.1 520.5L428.1 520.5L430.1 520.5L432.1 520.5L434.1 520.5L436.1 520.5L438.1 520.5L440.1 520.5L442.1 520.5L444.1 520.5L446.1 520.5L448.1 520.5L450.1 520.5L452.1 520.5L454.1 520.5L456.1 520.5L458.1 520.5L460.1 520.5L462.1 520.5L464.1 520.5L466.1 520.5L468.1 520.5L470.1 520.5L472.1 520.5L474.1 520.5L476.1 520.5L478.1 520.5L480.1 520.5L482.1 520.5L484.1 520.5L486.1 520.5L488.1 520.5L490.1 520.5L492.1 520.5L494.1 520.5L496.1 520.5L498.1 520.5L500.1 520.5L502.1 520.5L504.1 520.5L506.1 520.5L508.1 520.5L510.1 520.5L512.1 520.5L514.1 520.5L516.1 520.5L518.1 520.5L520.1 520.5L522.1 520.5L524.1 520.5L526.1 520.5L528.1 520.5L530.1 520.5L532.1 520.5L534.1 520.5L536.1 520.5L538.1 520.5L540.1 520.5L542.1 520.5L544.1 520.5L546.1 520.5L548.1 520.5L550.1 520.5L552.1 520.5L554.1 520.5L556.1 520.5L558.1 520.5L560.1 520.5L562.1 520.5L564.1 520.5L566.1 520.5L568.1 520.5L570.1 520.5L572.1 520.5L574.1 520.5L576.1 520.5L578.1 520.5L580.1 520.5L582.1 520.5L584.1 520.5L586.1 520.5L588.1 520.5L590.1 520.5L592.1 520.5L594.1 520.5L596.1 520.5L598.1 520.5L600.1 520.5L602.1 520.5L604.1 520.5L606.1 520.5L608.1 520.5L610.1 520.5L612.1 520.5L614.1 520.5L616.1 520.5L618.1 520.5L620.1 520.5L622.1 520.5L624.1 520.5L626.1 520.5L628.1 520.5L630.1 520.5L632.1 520.5L634.1 520.5L636.1 520.5L638.1 520.5L640.1 520.5L642.1 520.5L644.1 520.5L646.1 520.5L648.1 520.5L650.1 520.5L652.1 520.5L654.1 520.5L656.1 520.5L658.1 520.5L660.1 520.5L662.1 520.5L664.1 520.5L666.1 520.5L668.1 520.5L670.1 520.5L672.1 520.5L674.1 520.5L676.1 520.5L678.1 520.5L680.1 520.5L682.1 520.5L684.1 520.5L686.1 520.5L688.1 520.5L690.1 520.5L692.1 520.5L694.1 520.5L696.1 520.5L698.1 520.5L700.1 520.5L702.1 520.5L704.1 520.5L706.1 520.5L708.1 520.5L710.1 520.5L712.1 520.5L714.1 520.5L716.1 520.5L718.1 520.5L720.1 520.5L722.1 520.5L724.1 520.5L726.1 520.5L728.1 520.5L730.1 520.5L732.1 520.5L734.1 520.5L736.1 520.5L738.1 520.5L740.1 520.5L742.1 520.5L744.1 520.5L746.1 520.5L748.1 520.5L750.1 520.5L752.1 520.5L754.1 520.5L756.1 520.5L758.1 520.5L760.1 520.5L762.1 520.5L764.1 520.5L766.1 520.5L768.1 520.5L770.1 520.5L772.1 520.5L774.1 520.5L776.1 520.5L778.1 520.5L780.1 520.5L782.1 520.5L784.1 520.5L786.1 520.5L788.1 520.5L790.1 520.5L792.1 520.5L794.1 520.5L796.1 520.5L798.1 520.5L800.1 520.5L802.1 520.5L804.1 520.5L806.1 520.5L808.1 520.5L810.1 520.5L812.1 520.5L814.1 520.5L816.1 520.5L818.1 520.5L820.1 520.5L822.1 520.5L824.1 520.5L826.1 520.5L828.1 520.5L830.1 520.5L832.1 520.5L834.1 520.5L836.1 520.5L838.1 520.5L840.1 520.5L842.1 520.5L844.1 520.5L846.1 520.5L848.1 520.5L850.1 520.5L852.1 520.5L854.1 520.5L856.1 520.5L858.1 520.5L860.1 520.5L862.1 520.5L862.9 520.5L862.9 520.5L112 520.5L112 520.5L40.1 520.5Z" fill="#0055ff"/><path d="M40.1 520.5L40.1 499.6L42.1 499.4L44.1 498.9L46.1 498.4L48.1 497.8L50.1 497.3L52.1 496.8L54.1 496.4L56.1 495.7L58.1 493.8L60.1 491.6L62.1 488.4L64.1 485.2L66.1 481.0L68.1 476.1L70.1 470.8L72.1 464.3L74.1 458.0L76.1 452.5L78.1 447.0L80.1 441.5L82.1 435.8L84.1 429.3L86.1 422.1L88.1 411.9L90.1 401.9L92.1 396.8L94.1 396.0L96.1 395.5L98.1 395.3L100.1 395.5L102.1 396.6L104.1 398.4L106.1 400.9L108.1 403.8L110.1 406.9L112.1 410.1L114.1 413.2L116.1 415.9L118.1 418.3L120.1 420.0L122.1 420.9L124.1 420.8L126.1 419.1L128.1 416.2L130.1 412.2L132.1 407.5L134.1 402.2L136.1 396.6L138.1 390.9L140.1 385.5L142.1 380.5L144.1 376.2L146.1 372.9L148.1 370.8L150.1 370.1L152.1 370.7L154.1 372.0L156.1 373.8L158.1 375.9L160.1 378.4L162.1 381.2L164.1 386.3L166.1 392.6L168.1 399.2L170.1 405.5L172.1 411.2L174.1 417.0L176.1 422.7L178.1 428.3L180.1 434.0L182.1 439.5L184.1 444.9L186.1 450.4L188.1 456.0L190.1 461.8L192.1 467.9L194.1 473.9L196.1 479.4L198.1 484.6L200.1 489.9L202.1 495.1L204.1 500.6L206.1 506.5L208.1 512.4L210.1 518.5L210.7 520.5" fill="none" stroke="#000" stroke-width="1" stroke-linejoin="round"/><path d="M40.1 522.0L40.1 499.6L42.1 499.5L44.1 498.9L46.1 498.4L48.1 497.9L50.1 497.3L52.1 496.9L54.1 496.4L56.1 495.8L58.1 493.9L60.1 491.8L62.1 488.6L64.1 485.4L66.1 481.3L68.1 476.4L70.1 471.2L72.1 464.7L74.1 458.3L76.1 452.8L78.1 447.3L80.1 441.9L82.1 436.2L84.1 429.8L86.1 422.8L88.1 412.6L90.1 404.3L92.1 403.0L94.1 402.4L96.1 402.0L98.1 401.8L100.1 402.4L102.1 403.7L104.1 405.8L106.1 408.4L108.1 411.3L110.1 414.5L112.1 417.8L114.1 420.9L116.1 423.8L118.1 426.3L120.1 428.2L122.1 429.3L124.1 429.6L126.1 428.3L128.1 425.6L130.1 421.7L132.1 416.9L134.1 411.4L136.1 405.5L138.1 399.5L140.1 393.6L142.1 388.1L144.1 383.3L146.1 379.3L148.1 376.6L150.1 375.3L152.1 375.6L154.1 376.7L156.1 378.3L158.1 380.4L160.1 382.7L162.1 385.4L164.1 389.5L166.1 395.5L168.1 401.9L170.1 408.3L172.1 414.1L174.1 419.8L176.1 425.4L178.1 431.1L180.1 436.8L182.1 442.3L184.1 447.7L186.1 453.1L188.1 458.6L190.1 464.3L192.1 470.3L194.1 476.1L196.1 481.5L198.1 486.9L200.1 492.2L202.1 497.6L204.1 503.4L206.1 509.5L208.1 515.7L210.1 522.0L212.1 522.0L214.1 522.0L216.1 522.0L218.1 522.0L220.1 522.0L222.1 522.0L224.1 522.0L226.1 522.0L228.1 522.0L230.1 522.0L232.1 522.0L234.1 522.0L236.1 522.0L238.1 522.0L240.1 522.0L242.1 522.0L244.1 522.0L246.1 522.0L248.1 522.0L250.1 522.0L252.1 522.0L254.1 522.0L256.1 522.0L258.1 522.0L260.1 522.0L262.1 522.0L264.1 522.0L266.1 522.0L268.1 522.0L270.1 522.0L272.1 522.0L274.1 522.0L276.1 522.0L278.1 522.0L280.1 522.0L282.1 522.0L284.1 522.0L286.1 522.0L288.1 522.0L290.1 522.0L292.1 522.0L294.1 522.0L296.1 522.0L298.1 522.0L300.1 522.0L302.1 522.0L304.1 522.0L306.1 522.0L308.1 522.0L310.1 522.0L312.1 522.0L314.1 522.0L316.1 522.0L318.1 522.0L320.1 522.0L322.1 522.0L324.1 522.0L326.1 522.0L328.1 522.0L330.1 522.0L332.1 522.0L334.1 522.0L336.1 522.0L338.1 522.0L340.1 522.0L342.1 522.0L344.1 522.0L346.1 522.0L348.1 522.0L350.1 522.0L352.1 522.0L354.1 522.0L356.1 522.0L358.1 522.0L360.1 522.0L362.1 522.0L364.1 522.0L366.1 522.0L368.1 522.0L370.1 522.0L372.1 522.0L374.1 522.0L376.1 522.0L378.1 522.0L380.1 522.0L382.1 522.0L384.1 522.0L386.1 522.0L388.1 522.0L390.1 522.0L392.1 522.0L394.1 522.0L396.1 522.0L398.1 522.0L400.1 522.0L402.1 522.0L404.1 522.0L406.1 522.0L408.1 522.0L410.1 522.0L412.1 522.0L414.1 522.0L416.1 522.0L418.1 522.0L420.1 522.0L422.1 522.0L424.1 522.0L426.1 522.0L428.1 522.0L430.1 522.0L432.1 522.0L434.1 522.0L436.1 522.0L438.1 522.0L440.1 522.0L442.1 522.0L444.1 522.0L446.1 522.0L448.1 522.0L450.1 522.0L452.1 522.0L454.1 522.0L456.1 522.0L458.1 522.0L460.1 522.0L462.1 522.0L464.1 522.0L466.1 522.0L468.1 522.0L470.1 522.0L472.1 522.0L474.1 522.0L476.1 522.0L478.1 522.0L480.1 522.0L482.1 522.0L484.1 522.0L486.1 522.0L488.1 522.0L490.1 522.0L492.1 522.0L494.1 522.0L496.1 522.0L498.1 522.0L500.1 522.0L502.1 522.0L504.1 522.0L506.1 522.0L508.1 522.0L510.1 522.0L512.1 522.0L514.1 522.0L516.1 522.0L518.1 522.0L520.1 522.0L522.1 522.0L524.1 522.0L526.1 522.0L528.1 522.0L530.1 522.0L532.1 522.0L534.1 522.0L536.1 522.0L538.1 522.0L540.1 522.0L542.1 522.0L544.1 522.0L546.1 522.0L548.1 522.0L550.1 522.0L552.1 522.0L554.1 522.0L556.1 522.0L558.1 522.0L560.1 522.0L562.1 522.0L564.1 522.0L566.1 522.0L568.1 522.0L570.1 522.0L572.1 522.0L574.1 522.0L576.1 522.0L578.1 522.0L580.1 522.0L582.1 522.0L584.1 522.0L586.1 522.0L588.1 522.0L590.1 522.0L592.1 522.0L594.1 522.0L596.1 522.0L598.1 522.0L600.1 522.0L602.1 522.0L604.1 522.0L606.1 522.0L608.1 522.0L610.1 522.0L612.1 522.0L614.1 522.0L616.1 522.0L618.1 522.0L620.1 522.0L622.1 522.0L624.1 522.0L626.1 522.0L628.1 522.0L630.1 522.0L632.1 522.0L634.1 522.0L636.1 522.0L638.1 522.0L640.1 522.0L642.1 522.0L644.1 522.0L646.1 522.0L648.1 522.0L650.1 522.0L652.1 522.0L654.1 522.0L656.1 522.0L658.1 522.0L660.1 522.0L662.1 522.0L664.1 522.0L666.1 522.0L668.1 522.0L670.1 522.0L672.1 522.0L674.1 522.0L676.1 522.0L678.1 522.0L680.1 522.0L682.1 522.0L684.1 522.0L686.1 522.0L688.1 522.0L690.1 522.0L692.1 522.0L694.1 522.0L696.1 522.0L698.1 522.0L700.1 522.0L702.1 522.0L704.1 522.0L706.1 522.0L708.1 522.0L710.1 522.0L712.1 522.0L714.1 522.0L716.1 522.0L718.1 522.0L720.1 522.0L722.1 522.0L724.1 522.0L726.1 522.0L728.1 522.0L730.1 522.0L732.1 522.0L734.1 522.0L736.1 522.0L738.1 522.0L740.1 522.0L742.1 522.0L744.1 522.0L746.1 522.0L748.1 522.0L750.1 522.0L752.1 522.0L754.1 522.0L756.1 522.0L758.1 522.0L760.1 522.0L762.1 522.0L764.1 522.0L766.1 522.0L768.1 522.0L770.1 522.0L772.1 522.0L774.1 522.0L776.1 522.0L778.1 522.0L780.1 522.0L782.1 522.0L784.1 522.0L786.1 522.0L788.1 522.0L790.1 522.0L792.1 522.0L794.1 522.0L796.1 522.0L798.1 522.0L800.1 522.0L802.1 522.0L804.1 522.0L806.1 522.0L808.1 522.0L810.1 522.0L812.1 522.0L814.1 522.0L816.1 522.0L818.1 522.0L820.1 522.0L822.1 522.0L824.1 522.0L826.1 522.0L828.1 522.0L830.1 522.0L832.1 522.0L834.1 522.0L836.1 522.0L838.1 522.0L840.1 522.0L842.1 522.0L844.1 522.0L846.1 522.0L848.1 522.0L850.1 522.0L852.1 522.0L854.1 522.0L856.1 522.0L858.1 522.0L860.1 522.0L862.1 522.0L864.1 522.0L865.6 522.0L865.6 522.0L112 522.0L112 522.0L40.1 522.0Z" fill="#0055ff"/><path d="M40.1 522.0L40.1 499.6L42.1 499.5L44.1 498.9L46.1 498.4L48.1 497.9L50.1 497.3L52.1 496.9L54.1 496.4L56.1 495.8L58.1 493.9L60.1 491.8L62.1 488.6L64.1 485.4L66.1 481.3L68.1 476.4L70.1 471.2L72.1 464.7L74.1 458.3L76.1 452.8L78.1 447.3L80.1 441.9L82.1 436.2L84.1 429.8L86.1 422.8L88.1 412.6L90.1 404.3L92.1 403.0L94.1 402.4L96.1 402.0L98.1 401.8L100.1 402.4L102.1 403.7L104.1 405.8L106.1 408.4L108.1 411.3L110.1 414.5L112.1 417.8L114.1 420.9L116.1 423.8L118.1 426.3L120.1 428.2L122.1 429.3L124.1 429.6L126.1 428.3L128.1 425.6L130.1 421.7L132.1 416.9L134.1 411.4L136.1 405.5L138.1 399.5L140.1 393.6L142.1 388.1L144.1 383.3L146.1 379.3L148.1 376.6L150.1 375.3L152.1 375.6L154.1 376.7L156.1 378.3L158.1 380.4L160.1 382.7L162.1 385.4L164.1 389.5L166.1 395.5L168.1 401.9L170.1 408.3L172.1 414.1L174.1 419.8L176.1 425.4L178.1 431.1L180.1 436.8L182.1 442.3L184.1 447.7L186.1 453.1L188.1 458.6L190.1 464.3L192.1 470.3L194.1 476.1L196.1 481.5L198.1 486.9L200.1 492.2L202.1 497.6L204.1 503.4L206.1 509.5L208.1 515.7L210.1 522.0" fill="none" stroke="#000" stroke-width="1" stroke-linejoin="round"/><path d="M40.0 523.5L40.0 499.6L42.0 499.5L44.0 499.0L46.0 498.4L48.0 497.9L50.0 497.4L52.0 496.9L54.0 496.4L56.0 495.9L58.0 494.1L60.0 492.0L62.0 488.8L64.0 485.6L66.0 481.7L68.0 476.7L70.0 471.6L72.0 465.1L74.0 458.7L76.0 453.2L78.0 447.7L80.0 442.2L82.0 436.7L84.0 430.2L86.0 423.5L88.0 413.7L90.0 410.6L92.0 409.9L94.0 409.4L96.0 409.1L98.0 409.1L100.0 409.9L102.0 411.6L104.0 414.0L106.0 416.9L108.0 420.2L110.0 423.7L112.0 427.3L114.0 430.7L116.0 433.8L118.0 436.4L120.0 438.4L122.0 439.7L124.0 440.0L126.0 438.7L128.0 435.9L130.0 431.8L132.0 426.7L134.0 420.9L136.0 414.6L138.0 408.2L140.0 401.8L142.0 395.8L144.0 390.4L146.0 385.9L148.0 382.6L150.0 380.7L152.0 380.5L154.0 381.4L156.0 382.8L158.0 384.8L160.0 387.0L162.0 389.7L164.0 393.1L166.0 398.5L168.0 404.7L170.0 411.0L172.0 417.1L174.0 422.7L176.0 428.4L178.0 434.0L180.0 439.7L182.0 445.2L184.0 450.7L186.0 456.0L188.0 461.4L190.0 467.0L192.0 472.7L194.0 478.4L196.0 483.8L198.0 489.2L200.0 494.6L202.0 500.2L204.0 506.1L206.0 512.4L208.0 518.7L210.0 523.5L212.0 523.5L214.0 523.5L216.0 523.5L218.0 523.5L220.0 523.5L222.0 523.5L224.0 523.5L226.0 523.5L228.0 523.5L230.0 523.5L232.0 523.5L234.0 523.5L236.0 523.5L238.0 523.5L240.0 523.5L242.0 523.5L244.0 523.5L246.0 523.5L248.0 523.5L250.0 523.5L252.0 523.5L254.0 523.5L256.0 523.5L258.0 523.5L260.0 523.5L262.0 523.5L264.0 523.5L266.0 523.5L268.0 523.5L270.0 523.5L272.0 523.5L274.0 523.5L276.0 523.5L278.0 523.5L280.0 523.5L282.0 523.5L284.0 523.5L286.0 523.5L288.0 523.5L290.0 523.5L292.0 523.5L294.0 523.5L296.0 523.5L298.0 523.5L300.0 523.5L302.0 523.5L304.0 523.5L306.0 523.5L308.0 523.5L310.0 523.5L312.0 523.5L314.0 523.5L316.0 523.5L318.0 523.5L320.0 523.5L322.0 523.5L324.0 523.5L326.0 523.5L328.0 523.5L330.0 523.5L332.0 523.5L334.0 523.5L336.0 523.5L338.0 523.5L340.0 523.5L342.0 523.5L344.0 523.5L346.0 523.5L348.0 523.5L350.0 523.5L352.0 523.5L354.0 523.5L356.0 523.5L358.0 523.5L360.0 523.5L362.0 523.5L364.0 523.5L366.0 523.5L368.0 523.5L370.0 523.5L372.0 523.5L374.0 523.5L376.0 523.5L378.0 523.5L380.0 523.5L382.0 523.5L384.0 523.5L386.0 523.5L388.0 523.5L390.0 523.5L392.0 523.5L394.0 523.5L396.0 523.5L398.0 523.5L400.0 523.5L402.0 523.5L404.0 523.5L406.0 523.5L408.0 523.5L410.0 523.5L412.0 523.5L414.0 523.5L416.0 523.5L418.0 523.5L420.0 523.5L422.0 523.5L424.0 523.5L426.0 523.5L428.0 523.5L430.0 523.5L432.0 523.5L434.0 523.5L436.0 523.5L438.0 523.5L440.0 523.5L442.0 523.5L444.0 523.5L446.0 523.5L448.0 523.5L450.0 523.5L452.0 523.5L454.0 523.5L456.0 523.5L458.0 523.5L460.0 523.5L462.0 523.5L464.0 523.5L466.0 523.5L468.0 523.5L470.0 523.5L472.0 523.5L474.0 523.5L476.0 523.5L478.0 523.5L480.0 523.5L482.0 523.5L484.0 523.5L486.0 523.5L488.0 523.5L490.0 523.5L492.0 523.5L494.0 523.5L496.0 523.5L498.0 523.5L500.0 523.5L502.0 523.5L504.0 523.5L506.0 523.5L508.0 523.5L510.0 523.5L512.0 523.5L514.0 523.5L516.0 523.5L518.0 523.5L520.0 523.5L522.0 523.5L524.0 523.5L526.0 523.5L528.0 523.5L530.0 523.5L532.0 523.5L534.0 523.5L536.0 523.5L538.0 523.5L540.0 523.5L542.0 523.5L544.0 523.5L546.0 523.5L548.0 523.5L550.0 523.5L552.0 523.5L554.0 523.5L556.0 523.5L558.0 523.5L560.0 523.5L562.0 523.5L564.0 523.5L566.0 523.5L568.0 523.5L570.0 523.5L572.0 523.5L574.0 523.5L576.0 523.5L578.0 523.5L580.0 523.5L582.0 523.5L584.0 523.5L586.0 523.5L588.0 523.5L590.0 523.5L592.0 523.5L594.0 523.5L596.0 523.5L598.0 523.5L600.0 523.5L602.0 523.5L604.0 523.5L606.0 523.5L608.0 523.5L610.0 523.5L612.0 523.5L614.0 523.5L616.0 523.5L618.0 523.5L620.0 523.5L622.0 523.5L624.0 523.5L626.0 523.5L628.0 523.5L630.0 523.5L632.0 523.5L634.0 523.5L636.0 523.5L638.0 523.5L640.0 523.5L642.0 523.5L644.0 523.5L646.0 523.5L648.0 523.5L650.0 523.5L652.0 523.5L654.0 523.5L656.0 523.5L658.0 523.5L660.0 523.5L662.0 523.5L664.0 523.5L666.0 523.5L668.0 523.5L670.0 523.5L672.0 523.5L674.0 523.5L676.0 523.5L678.0 523.5L680.0 523.5L682.0 523.5L684.0 523.5L686.0 523.5L688.0 523.5L690.0 523.5L692.0 523.5L694.0 523.5L696.0 523.5L698.0 523.5L700.0 523.5L702.0 523.5L704.0 523.5L706.0 523.5L708.0 523.5L710.0 523.5L712.0 523.5L714.0 523.5L716.0 523.5L718.0 523.5L720.0 523.5L722.0 523.5L724.0 523.5L726.0 523.5L728.0 523.5L730.0 523.5L732.0 523.5L734.0 523.5L736.0 523.5L738.0 523.5L740.0 523.5L742.0 523.5L744.0 523.5L746.0 523.5L748.0 523.5L750.0 523.5L752.0 523.5L754.0 523.5L756.0 523.5L758.0 523.5L760.0 523.5L762.0 523.5L764.0 523.5L766.0 523.5L768.0 523.5L770.0 523.5L772.0 523.5L774.0 523.5L776.0 523.5L778.0 523.5L780.0 523.5L782.0 523.5L784.0 523.5L786.0 523.5L788.0 523.5L790.0 523.5L792.0 523.5L794.0 523.5L796.0 523.5L798.0 523.5L800.0 523.5L802.0 523.5L804.0 523.5L806.0 523.5L808.0 523.5L810.0 523.5L812.0 523.5L814.0 523.5L816.0 523.5L818.0 523.5L820.0 523.5L822.0 523.5L824.0 523.5L826.0 523.5L828.0 523.5L830.0 523.5L832.0 523.5L834.0 523.5L836.0 523.5L838.0 523.5L840.0 523.5L842.0 523.5L844.0 523.5L846.0 523.5L848.0 523.5L850.0 523.5L852.0 523.5L854.0 523.5L856.0 523.5L858.0 523.5L860.0 523.5L862.0 523.5L864.0 523.5L866.0 523.5L868.0 523.5L868.3 523.5L868.3 523.5L112 523.5L112 523.5L40.0 523.5Z" fill="#0055ff"/><path d="M40.0 523.5L40.0 499.6L42.0 499.5L44.0 499.0L46.0 498.4L48.0 497.9L50.0 497.4L52.0 496.9L54.0 496.4L56.0 495.9L58.0 494.1L60.0 492.0L62.0 488.8L64.0 485.6L66.0 481.7L68.0 476.7L70.0 471.6L72.0 465.1L74.0 458.7L76.0 453.2L78.0 447.7L80.0 442.2L82.0 436.7L84.0 430.2L86.0 423.5L88.0 413.7L90.0 410.6L92.0 409.9L94.0 409.4L96.0 409.1L98.0 409.1L100.0 409.9L102.0 411.6L104.0 414.0L106.0 416.9L108.0 420.2L110.0 423.7L112.0 427.3L114.0 430.7L116.0 433.8L118.0 436.4L120.0 438.4L122.0 439.7L124.0 440.0L126.0 438.7L128.0 435.9L130.0 431.8L132.0 426.7L134.0 420.9L136.0 414.6L138.0 408.2L140.0 401.8L142.0 395.8L144.0 390.4L146.0 385.9L148.0 382.6L150.0 380.7L152.0 380.5L154.0 381.4L156.0 382.8L158.0 384.8L160.0 387.0L162.0 389.7L164.0 393.1L166.0 398.5L168.0 404.7L170.0 411.0L172.0 417.1L174.0 422.7L176.0 428.4L178.0 434.0L180.0 439.7L182.0 445.2L184.0 450.7L186.0 456.0L188.0 461.4L190.0 467.0L192.0 472.7L194.0 478.4L196.0 483.8L198.0 489.2L200.0 494.6L202.0 500.2L204.0 506.1L206.0 512.4L208.0 518.7L209.5 523.5" fill="none" stroke="#000" stroke-width="1" stroke-linejoin="round"/><path d="M40.0 525.0L40.0 499.6L42.0 499.5L44.0 499.0L46.0 498.5L48.0 497.9L50.0 497.4L52.0 496.9L54.0 496.5L56.0 496.0L58.0 494.2L60.0 492.2L62.0 489.0L64.0 485.8L66.0 482.0L68.0 477.0L70.0 472.0L72.0 465.5L74.0 459.1L76.0 453.6L78.0 448.1L80.0 442.6L82.0 437.1L84.0 430.7L86.0 424.4L88.0 418.9L90.0 418.1L92.0 417.5L94.0 417.0L96.0 416.8L98.0 417.0L100.0 418.3L102.0 420.6L104.0 423.7L106.0 427.3L108.0 431.3L110.0 435.5L112.0 439.6L114.0 443.5L116.0 447.0L118.0 449.9L120.0 451.9L122.0 452.9L124.0 452.6L126.0 450.6L128.0 447.1L130.0 442.4L132.0 436.7L134.0 430.3L136.0 423.6L138.0 416.6L140.0 409.7L142.0 403.2L144.0 397.4L146.0 392.4L148.0 388.6L150.0 386.1L152.0 385.4L154.0 386.1L156.0 387.4L158.0 389.2L160.0 391.4L162.0 393.9L164.0 397.0L166.0 401.8L168.0 407.7L170.0 414.0L172.0 420.2L174.0 425.8L176.0 431.4L178.0 437.1L180.0 442.7L182.0 448.3L184.0 453.7L186.0 459.0L188.0 464.4L190.0 469.8L192.0 475.4L194.0 480.9L196.0 486.3L198.0 491.7L200.0 497.1L202.0 502.7L204.0 508.8L206.0 515.1L208.0 521.6L210.0 525.0L212.0 525.0L214.0 525.0L216.0 525.0L218.0 525.0L220.0 525.0L222.0 525.0L224.0 525.0L226.0 525.0L228.0 525.0L230.0 525.0L232.0 525.0L234.0 525.0L236.0 525.0L238.0 525.0L240.0 525.0L242.0 525.0L244.0 525.0L246.0 525.0L248.0 525.0L250.0 525.0L252.0 525.0L254.0 525.0L256.0 525.0L258.0 525.0L260.0 525.0L262.0 525.0L264.0 525.0L266.0 525.0L268.0 525.0L270.0 525.0L272.0 525.0L274.0 525.0L276.0 525.0L278.0 525.0L280.0 525.0L282.0 525.0L284.0 525.0L286.0 525.0L288.0 525.0L290.0 525.0L292.0 525.0L294.0 525.0L296.0 525.0L298.0 525.0L300.0 525.0L302.0 525.0L304.0 525.0L306.0 525.0L308.0 525.0L310.0 525.0L312.0 525.0L314.0 525.0L316.0 525.0L318.0 525.0L320.0 525.0L322.0 525.0L324.0 525.0L326.0 525.0L328.0 525.0L330.0 525.0L332.0 525.0L334.0 525.0L336.0 525.0L338.0 525.0L340.0 525.0L342.0 525.0L344.0 525.0L346.0 525.0L348.0 525.0L350.0 525.0L352.0 525.0L354.0 525.0L356.0 525.0L358.0 525.0L360.0 525.0L362.0 525.0L364.0 525.0L366.0 525.0L368.0 525.0L370.0 525.0L372.0 525.0L374.0 525.0L376.0 525.0L378.0 525.0L380.0 525.0L382.0 525.0L384.0 525.0L386.0 525.0L388.0 525.0L390.0 525.0L392.0 525.0L394.0 525.0L396.0 525.0L398.0 525.0L400.0 525.0L402.0 525.0L404.0 525.0L406.0 525.0L408.0 525.0L410.0 525.0L412.0 525.0L414.0 525.0L416.0 525.0L418.0 525.0L420.0 525.0L422.0 525.0L424.0 525.0L426.0 525.0L428.0 525.0L430.0 525.0L432.0 525.0L434.0 525.0L436.0 525.0L438.0 525.0L440.0 525.0L442.0 525.0L444.0 525.0L446.0 525.0L448.0 525.0L450.0 525.0L452.0 525.0L454.0 525.0L456.0 525.0L458.0 525.0L460.0 525.0L462.0 525.0L464.0 525.0L466.0 525.0L468.0 525.0L470.0 525.0L472.0 525.0L474.0 525.0L476.0 525.0L478.0 525.0L480.0 525.0L482.0 525.0L484.0 525.0L486.0 525.0L488.0 525.0L490.0 525.0L492.0 525.0L494.0 525.0L496.0 525.0L498.0 525.0L500.0 525.0L502.0 525.0L504.0 525.0L506.0 525.0L508.0 525.0L510.0 525.0L512.0 525.0L514.0 525.0L516.0 525.0L518.0 525.0L520.0 525.0L522.0 525.0L524.0 525.0L526.0 525.0L528.0 525.0L530.0 525.0L532.0 525.0L534.0 525.0L536.0 525.0L538.0 525.0L540.0 525.0L542.0 525.0L544.0 525.0L546.0 525.0L548.0 525.0L550.0 525.0L552.0 525.0L554.0 525.0L556.0 525.0L558.0 525.0L560.0 525.0L562.0 525.0L564.0 525.0L566.0 525.0L568.0 525.0L570.0 525.0L572.0 525.0L574.0 525.0L576.0 525.0L578.0 525.0L580.0 525.0L582.0 525.0L584.0 525.0L586.0 525.0L588.0 525.0L590.0 525.0L592.0 525.0L594.0 525.0L596.0 525.0L598.0 525.0L600.0 525.0L602.0 525.0L604.0 525.0L606.0 525.0L608.0 525.0L610.0 525.0L612.0 525.0L614.0 525.0L616.0 525.0L618.0 525.0L620.0 525.0L622.0 525.0L624.0 525.0L626.0 525.0L628.0 525.0L630.0 525.0L632.0 525.0L634.0 525.0L636.0 525.0L638.0 525.0L640.0 525.0L642.0 525.0L644.0 525.0L646.0 525.0L648.0 525.0L650.0 525.0L652.0 525.0L654.0 525.0L656.0 525.0L658.0 525.0L660.0 525.0L662.0 525.0L664.0 525.0L666.0 525.0L668.0 525.0L670.0 525.0L672.0 525.0L674.0 525.0L676.0 525.0L678.0 525.0L680.0 525.0L682.0 525.0L684.0 525.0L686.0 525.0L688.0 525.0L690.0 525.0L692.0 525.0L694.0 525.0L696.0 525.0L698.0 525.0L700.0 525.0L702.0 525.0L704.0 525.0L706.0 525.0L708.0 525.0L710.0 525.0L712.0 525.0L714.0 525.0L716.0 525.0L718.0 525.0L720.0 525.0L722.0 525.0L724.0 525.0L726.0 525.0L728.0 525.0L730.0 525.0L732.0 525.0L734.0 525.0L736.0 525.0L738.0 525.0L740.0 525.0L742.0 525.0L744.0 525.0L746.0 525.0L748.0 525.0L750.0 525.0L752.0 525.0L754.0 525.0L756.0 525.0L758.0 525.0L760.0 525.0L762.0 525.0L764.0 525.0L766.0 525.0L768.0 525.0L770.0 525.0L772.0 525.0L774.0 525.0L776.0 525.0L778.0 525.0L780.0 525.0L782.0 525.0L784.0 525.0L786.0 525.0L788.0 525.0L790.0 525.0L792.0 525.0L794.0 525.0L796.0 525.0L798.0 525.0L800.0 525.0L802.0 525.0L804.0 525.0L806.0 525.0L808.0 525.0L810.0 525.0L812.0 525.0L814.0 525.0L816.0 525.0L818.0 525.0L820.0 525.0L822.0 525.0L824.0 525.0L826.0 525.0L828.0 525.0L830.0 525.0L832.0 525.0L834.0 525.0L836.0 525.0L838.0 525.0L840.0 525.0L842.0 525.0L844.0 525.0L846.0 525.0L848.0 525.0L850.0 525.0L852.0 525.0L854.0 525.0L856.0 525.0L858.0 525.0L860.0 525.0L862.0 525.0L864.0 525.0L866.0 525.0L868.0 525.0L870.0 525.0L871.0 525.0L871.0 525.0L112 525.0L112 525.0L40.0 525.0Z" fill="#0055ff"/><path d="M40.0 525.0L40.0 499.6L42.0 499.5L44.0 499.0L46.0 498.5L48.0 497.9L50.0 497.4L52.0 496.9L54.0 496.5L56.0 496.0L58.0 494.2L60.0 492.2L62.0 489.0L64.0 485.8L66.0 482.0L68.0 477.0L70.0 472.0L72.0 465.5L74.0 459.1L76.0 453.6L78.0 448.1L80.0 442.6L82.0 437.1L84.0 430.7L86.0 424.4L88.0 418.9L90.0 418.1L92.0 417.5L94.0 417.0L96.0 416.8L98.0 417.0L100.0 418.3L102.0 420.6L104.0 423.7L106.0 427.3L108.0 431.3L110.0 435.5L112.0 439.6L114.0 443.5L116.0 447.0L118.0 449.9L120.0 451.9L122.0 452.9L124.0 452.6L126.0 450.6L128.0 447.1L130.0 442.4L132.0 436.7L134.0 430.3L136.0 423.6L138.0 416.6L140.0 409.7L142.0 403.2L144.0 397.4L146.0 392.4L148.0 388.6L150.0 386.1L152.0 385.4L154.0 386.1L156.0 387.4L158.0 389.2L160.0 391.4L162.0 393.9L164.0 397.0L166.0 401.8L168.0 407.7L170.0 414.0L172.0 420.2L174.0 425.8L176.0 431.4L178.0 437.1L180.0 442.7L182.0 448.3L184.0 453.7L186.0 459.0L188.0 464.4L190.0 469.8L192.0 475.4L194.0 480.9L196.0 486.3L198.0 491.7L200.0 497.1L202.0 502.7L204.0 508.8L206.0 515.1L208.0 521.6L209.0 525.0" fill="none" stroke="#000" stroke-width="1" stroke-linejoin="round"/></g><path d="M40 306.5H871" stroke="#fff" stroke-width="1" style="mix-blend-mode:difference"/><defs><linearGradient id="shr" x1="0" y1="0" x2="1" y2="0"><stop offset="0" stop-color="rgba(0,0,0,.30)"/><stop offset="1" stop-color="rgba(0,0,0,0)"/></linearGradient><linearGradient id="shb" x1="0" y1="0" x2="0" y2="1"><stop offset="0" stop-color="rgba(0,0,0,.32)"/><stop offset="1" stop-color="rgba(0,0,0,0)"/></linearGradient><linearGradient id="shl" x1="0" y1="0" x2="1" y2="0"><stop offset="0" stop-color="rgba(0,0,0,0)"/><stop offset="1" stop-color="rgba(0,0,0,.30)"/></linearGradient><linearGradient id="sht" x1="0" y1="0" x2="0" y2="1"><stop offset="0" stop-color="rgba(0,0,0,0)"/><stop offset="1" stop-color="rgba(0,0,0,.30)"/></linearGradient></defs><rect x="871" y="66" width="4.5" height="463" fill="url(#shr)"/><rect x="36" y="525" width="839" height="4" fill="url(#shb)"/><rect x="35" y="66" width="4" height="462" fill="url(#shl)"/><rect x="36" y="65" width="839" height="3.5" fill="url(#sht)"/><path d="M39.6 528V68.6H875" stroke="#4c4c4c" stroke-width="1.3" fill="none"/><path d="M41 525V70H871" stroke="rgba(255,255,255,.55)" stroke-width="1" fill="none"/></svg><div class="tl" style="left:41px;top:111.0px;width:20px;height:12.4px"><span>0</span></div><div class="tl" style="left:41px;top:126.0px;width:20px;height:12.7px"><span>60</span></div><div class="tl" style="left:41px;top:143.0px;width:20px;height:13.6px"><span>120</span></div><div class="tl" style="left:41px;top:161.8px;width:20px;height:12.8px"><span>180</span></div><div class="tl" style="left:41px;top:179.3px;width:20px;height:15.7px"><span>240</span></div><div class="tl" style="left:41px;top:200.0px;width:20px;height:15.5px"><span>300</span></div><div class="tl" style="left:736.3px;top:125.5px;width:18.9px;height:14.3px"><span style="left:3px">60</span></div><div class="tl" style="left:764.7px;top:142.6px;width:20.9px;height:14.1px"><span style="left:3px">120</span></div><div class="tl" style="left:792.5px;top:161.0px;width:20.9px;height:13.6px"><span style="left:3px">180</span></div><div class="tl" style="left:820.0px;top:180.0px;width:21.0px;height:15.0px"><span style="left:3px">240</span></div><div class="tl" style="left:848.8px;top:199.3px;width:21.2px;height:16.2px"><span style="left:3px">300</span></div><div class="abs" style="left:834px;top:70.5px;width:37px;height:15px;background:#fff;border:1px solid #c8c8c8;box-sizing:border-box;font-size:11px;line-height:13px;text-align:center;color:#000">300ms</div><div class="abs" style="left:155.5px;top:549px;width:598px;height:22px;background:#fff;border:1px solid #b5b5b5;box-sizing:border-box;box-shadow:2px 2px 2px rgba(0,0,0,.35)"></div><svg class="abs" style="left:0;top:536px" width="300" height="48" viewBox="0 0 300 48"><text x="7.5" y="38" font-family="Liberation Sans, sans-serif" font-weight="bold" font-size="33" fill="rgba(255,255,255,0.4)" stroke="rgba(130,130,130,0.6)" stroke-width="1.1" textLength="285" lengthAdjust="spacingAndGlyphs">2015.10.10© anaj</text></svg><svg class="abs" style="left:162px;top:554px" width="14" height="14" viewBox="0 0 14 14"><rect x=".5" y=".5" width="12" height="12" fill="#f4f6f8" stroke="#5b7390"/><path d="M3 6.5 L5.5 10 L10.5 2.5" fill="none" stroke="#33445a" stroke-width="1.6"/></svg><div class="lbl" style="left:180px;top:555px;color:#2f6fe0">jul 6 19:08:16</div><div class="abs" style="left:318px;top:561px;width:32px;height:2px;background:#1a5fe0"></div><div class="lbl" style="left:369px;top:555px;color:#2f6fe0">-180.0 dB</div><svg class="abs" style="left:456px;top:554px" width="14" height="14" viewBox="0 0 14 14"><rect x=".5" y=".5" width="12" height="12" fill="#f2f2f2" stroke="#b0b0b0"/><path d="M3 6.5 L5.5 10 L10.5 2.5" fill="none" stroke="#aaaaaa" stroke-width="1.5"/></svg><div class="lbl" style="left:473px;top:555px;color:#a0a0a0">No overlay</div><div class="lbl" style="left:698px;top:555px;color:#a8a8a8">dB</div><div class="abs" style="left:0;top:576px;width:885px;height:1px;background:#8e8e8e"></div><div class="abs" style="left:0;top:577px;width:885px;height:9px;background:#d8d8d8"></div><div class="abs" style="left:687.5px;top:577px;width:1px;height:9px;background:#777"></div></body></html>
